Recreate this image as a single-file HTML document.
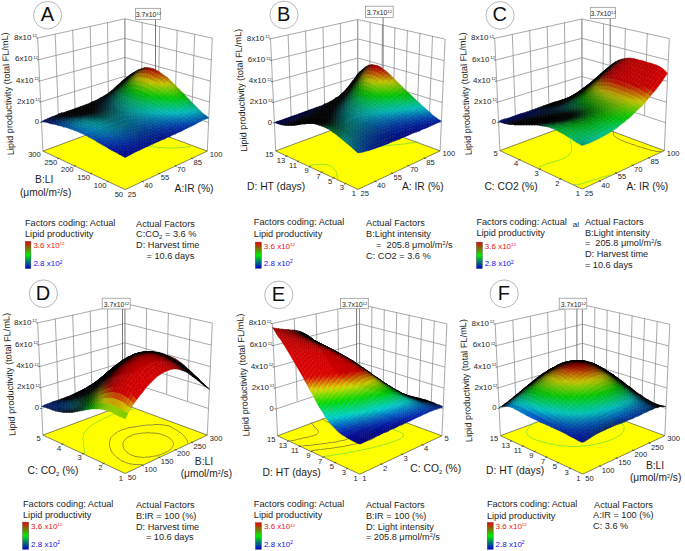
<!DOCTYPE html>
<html><head><meta charset="utf-8"><style>
html,body{margin:0;padding:0;background:#fff;}
body{width:685px;height:551px;overflow:hidden;}
svg{display:block;font-family:"Liberation Sans", sans-serif;}
text{white-space:pre;}
</style></head><body>
<svg width="685" height="551" viewBox="0 0 685 551" xmlns="http://www.w3.org/2000/svg">
<defs><linearGradient id="cb" x1="0" y1="1" x2="0" y2="0"><stop offset="0" stop-color="#0000dd"/><stop offset="0.5" stop-color="#00ee00"/><stop offset="1" stop-color="#ee0000"/></linearGradient></defs>
<line x1="42.9" y1="151.1" x2="37.7" y2="38" stroke="#8c8c8c" stroke-width="0.75"/>
<line x1="58.4" y1="116.4" x2="55.2" y2="33.8" stroke="#8c8c8c" stroke-width="0.75"/>
<line x1="75.1" y1="110.6" x2="72.7" y2="29.8" stroke="#8c8c8c" stroke-width="0.75"/>
<line x1="91.8" y1="105.1" x2="90.2" y2="25.9" stroke="#8c8c8c" stroke-width="0.75"/>
<line x1="108.4" y1="99.8" x2="107.5" y2="22.3" stroke="#8c8c8c" stroke-width="0.75"/>
<line x1="125" y1="94.8" x2="124.9" y2="18.8" stroke="#8c8c8c" stroke-width="0.75"/>
<line x1="41.6" y1="122.4" x2="125" y2="94.8" stroke="#8c8c8c" stroke-width="0.75"/>
<line x1="40.7" y1="101.9" x2="124.9" y2="76.2" stroke="#8c8c8c" stroke-width="0.75"/>
<line x1="39.7" y1="81" x2="124.9" y2="57.4" stroke="#8c8c8c" stroke-width="0.75"/>
<line x1="38.7" y1="59.7" x2="124.9" y2="38.3" stroke="#8c8c8c" stroke-width="0.75"/>
<line x1="37.7" y1="38" x2="124.9" y2="18.8" stroke="#8c8c8c" stroke-width="0.75"/>
<line x1="207.3" y1="151.1" x2="212.3" y2="38.2" stroke="#8c8c8c" stroke-width="0.75"/>
<line x1="191.7" y1="116.4" x2="194.7" y2="34" stroke="#8c8c8c" stroke-width="0.75"/>
<line x1="175" y1="110.6" x2="177.2" y2="29.9" stroke="#8c8c8c" stroke-width="0.75"/>
<line x1="158.2" y1="105.1" x2="159.7" y2="26" stroke="#8c8c8c" stroke-width="0.75"/>
<line x1="141.6" y1="99.8" x2="142.2" y2="22.3" stroke="#8c8c8c" stroke-width="0.75"/>
<line x1="125" y1="94.8" x2="124.9" y2="18.8" stroke="#8c8c8c" stroke-width="0.75"/>
<line x1="208.6" y1="122.5" x2="125" y2="94.8" stroke="#8c8c8c" stroke-width="0.75"/>
<line x1="209.5" y1="102" x2="124.9" y2="76.2" stroke="#8c8c8c" stroke-width="0.75"/>
<line x1="210.4" y1="81.1" x2="124.9" y2="57.4" stroke="#8c8c8c" stroke-width="0.75"/>
<line x1="211.4" y1="59.9" x2="124.9" y2="38.3" stroke="#8c8c8c" stroke-width="0.75"/>
<line x1="212.3" y1="38.2" x2="124.9" y2="18.8" stroke="#8c8c8c" stroke-width="0.75"/>
<polygon points="125.2,189.6 207.3,151.1 125,120.7 42.9,151.1" fill="#ffff00" stroke="#333" stroke-width="0.6"/>
<path transform="scale(.5)" d="M385 290l-2 1-2 1-3 1-4 1-3 0-4 1-3 0-3 0-2 0-4 1-4 0-3 0-4 0-3 0-3 0-3 0-3 0-3 0-3-1-4 0-4 0-3 0-3-1-3 0-4 0-3-1-3 0-4-1-3 0-3-1-4 0-2-1-4-1-4 0-2-1-4-1-4-1-3-2-3-1-3-1-3-2-1-1-3-1-2-2-1-1-1-1-2-1-1-1-1-2-1-1-1-1-1-1-1-2 0-1-1-1 0-1-1-1 0-1-1-1 0-2 0-1 0-1 0-1 0-1 0-2 0-1 0-1 1-1 0-1 1-1" stroke="#66dd44" stroke-width="1.4" fill="none"/>
<line x1="155.5" y1="19.4" x2="155.5" y2="80" stroke="#555" stroke-width="0.8"/>
<g transform="scale(.5)" fill="currentColor" stroke="currentColor" stroke-width="0.9" stroke-linejoin="round">
<path color="#000000" d="M250 158l5-4-5 4-6 4z"/>
<path color="#000000" d="M244 164l6-6-6 4-5 5z"/>
<path color="#000000" d="M255 154l6-5-6 5-5 4z"/>
<path color="#000000" d="M239 169l5-5-5 3-6 5z"/>
<path color="#000000" d="M250 160l5-6-5 4-6 6z"/>
<path color="#000000" d="M261 150l6-5-6 4-6 5z"/>
<path color="#000000" d="M233 175l6-6-6 3-5 5z"/>
<path color="#000000" d="M244 166l6-6-6 4-5 5z"/>
<path color="#000000" d="M255 156l6-6-6 4-5 6z"/>
<path color="#000000" d="M267 147l5-5-5 3-6 5z"/>
<path color="#000000" d="M228 180l5-5-5 2-6 5z"/>
<path color="#000000" d="M239 172l5-6-5 3-6 6z"/>
<path color="#000000" d="M250 163l5-7-5 4-6 6z"/>
<path color="#000000" d="M261 153l6-6-6 3-6 6z"/>
<path color="#000000" d="M272 144l6-5-6 3-5 5z"/>
<path color="#000000" d="M222 184l6-4-6 2-5 4z"/>
<path color="#000000" d="M233 178l6-6-6 3-5 5z"/>
<path color="#000000" d="M244 169l6-6-6 3-5 6z"/>
<path color="#010200" d="M256 160l5-7-6 3-5 7z"/>
<path color="#070700" d="M267 151l5-7-5 3-6 6z"/>
<path color="#000000" d="M278 142l6-5-6 2-6 5z"/>
<path color="#000000" d="M217 189l5-5-5 2-6 4z"/>
<path color="#000000" d="M228 183l5-5-5 2-6 4z"/>
<path color="#000903" d="M239 176l5-7-5 3-6 6z"/>
<path color="#041c00" d="M250 167l6-7-6 3-6 6z"/>
<path color="#212f00" d="M261 158l6-7-6 2-5 7z"/>
<path color="#3a2d00" d="M272 149l6-7-6 2-5 7z"/>
<path color="#2e1000" d="M284 141l5-6-5 2-6 5z"/>
<path color="#00130c" d="M233 181l6-5-6 2-5 5z"/>
<path color="#002b06" d="M244 174l6-7-6 2-5 7z"/>
<path color="#194400" d="M256 165l5-7-5 2-6 7z"/>
<path color="#515900" d="M267 156l5-7-5 2-6 7z"/>
<path color="#000000" d="M211 192l6-3-6 1-5 3z"/>
<path color="#000404" d="M222 188l6-5-6 1-5 5z"/>
<path color="#653c00" d="M278 147l6-6-6 1-6 7z"/>
<path color="#5d1300" d="M289 140l6-5-6 0-5 6z"/>
<path color="#003114" d="M239 180l5-6-5 2-6 5z"/>
<path color="#054d00" d="M250 172l6-7-6 2-6 7z"/>
<path color="#3b6700" d="M261 164l6-8-6 2-5 7z"/>
<path color="#000102" d="M206 196l5-4-5 1-6 3z"/>
<path color="#000708" d="M217 192l5-4-5 1-6 3z"/>
<path color="#001813" d="M228 186l5-5-5 2-6 5z"/>
<path color="#7a6f00" d="M272 155l6-8-6 2-5 7z"/>
<path color="#843c00" d="M284 147l5-7-5 1-6 6z"/>
<path color="#7d1000" d="M295 141l6-5-6-1-6 5z"/>
<path color="#000204" d="M200 199l6-3-6 0-5 3z"/>
<path color="#000709" d="M211 196l6-4-6 0-5 4z"/>
<path color="#001818" d="M222 191l6-5-6 2-5 4z"/>
<path color="#003220" d="M233 185l6-5-6 1-5 5z"/>
<path color="#004f12" d="M244 179l6-7-6 2-5 6z"/>
<path color="#1a6b00" d="M256 171l5-7-5 1-6 7z"/>
<path color="#608100" d="M267 163l5-8-5 1-6 8z"/>
<path color="#917100" d="M278 154l6-7-6 0-6 8z"/>
<path color="#993800" d="M289 147l6-6-6-1-5 7z"/>
<path color="#920e00" d="M301 142l5-5-5-1-6 5z"/>
<path color="#000205" d="M194 202l6-3-5 0-6 3z"/>
<path color="#000609" d="M206 199l5-3-5 0-6 3z"/>
<path color="#001417" d="M217 195l5-4-5 1-6 4z"/>
<path color="#002f27" d="M228 190l5-5-5 1-6 5z"/>
<path color="#004d24" d="M239 184l5-5-5 1-6 5z"/>
<path color="#006a06" d="M250 178l6-7-6 1-6 7z"/>
<path color="#348300" d="M261 170l6-7-6 1-5 7z"/>
<path color="#839500" d="M272 162l6-8-6 1-5 8z"/>
<path color="#a26e00" d="M284 155l5-8-5 0-6 7z"/>
<path color="#a73600" d="M295 148l6-6-6-1-6 6z"/>
<path color="#9f1200" d="M306 144l6-4-6-3-5 5z"/>
<path color="#000206" d="M189 205l5-3-5 0-6 2z"/>
<path color="#000509" d="M200 202l6-3-6 0-6 3z"/>
<path color="#000f14" d="M211 199l6-4-6 1-5 3z"/>
<path color="#002a29" d="M222 195l6-5-6 1-5 4z"/>
<path color="#004731" d="M233 190l6-6-6 1-5 5z"/>
<path color="#006621" d="M244 184l6-6-6 1-5 5z"/>
<path color="#0b8000" d="M256 177l5-7-5 1-6 7z"/>
<path color="#4e9500" d="M267 170l5-8-5 1-6 7z"/>
<path color="#9fa400" d="M278 163l6-8-6-1-6 8z"/>
<path color="#ae6d00" d="M289 156l6-8-6-1-5 8z"/>
<path color="#b13900" d="M301 150l5-6-5-2-6 6z"/>
<path color="#a71c00" d="M312 147l6-4-6-3-6 4z"/>
<path color="#000206" d="M183 207l6-2-6-1-5 3z"/>
<path color="#000408" d="M194 205l6-3-6 0-5 3z"/>
<path color="#000b10" d="M206 202l5-3-5 0-6 3z"/>
<path color="#001f23" d="M217 199l5-4-5 0-6 4z"/>
<path color="#003f36" d="M228 194l5-4-5 0-6 5z"/>
<path color="#005f34" d="M239 189l5-5-5 0-6 6z"/>
<path color="#007b18" d="M250 184l6-7-6 1-6 6z"/>
<path color="#1d9200" d="M261 177l6-7-6 0-5 7z"/>
<path color="#65a300" d="M272 170l6-7-6-1-5 8z"/>
<path color="#afaa00" d="M284 164l5-8-5-1-6 8z"/>
<path color="#b67000" d="M295 157l6-7-6-2-6 8z"/>
<path color="#b84300" d="M306 153l6-6-6-3-5 6z"/>
<path color="#ad2d00" d="M318 150l5-3-5-4-6 4z"/>
<path color="#000205" d="M178 209l5-2-5 0-6 2z"/>
<path color="#000306" d="M189 207l5-2-5 0-6 2z"/>
<path color="#00080d" d="M200 205l6-3-6 0-6 3z"/>
<path color="#00161d" d="M211 202l6-3-6 0-5 3z"/>
<path color="#003636" d="M222 198l6-4-6 1-5 4z"/>
<path color="#00553f" d="M233 194l6-5-6 1-5 4z"/>
<path color="#007332" d="M244 189l6-5-6 0-5 5z"/>
<path color="#008c0c" d="M256 184l5-7-5 0-6 7z"/>
<path color="#2e9f00" d="M267 178l5-8-5 0-6 7z"/>
<path color="#76ad00" d="M278 171l6-7-6-1-6 7z"/>
<path color="#b6ad00" d="M289 165l6-8-6-1-5 8z"/>
<path color="#bc7800" d="M301 160l5-7-5-3-6 7z"/>
<path color="#bc5200" d="M312 156l6-6-6-3-6 6z"/>
<path color="#b04400" d="M323 154l6-3-6-4-5 3z"/>
<path color="#000205" d="M172 212l6-3-6 0-5 2z"/>
<path color="#000205" d="M183 210l6-3-6 0-5 2z"/>
<path color="#00050a" d="M194 208l6-3-6 0-5 2z"/>
<path color="#000f16" d="M206 205l5-3-5 0-6 3z"/>
<path color="#00272d" d="M217 202l5-4-5 1-6 3z"/>
<path color="#004a42" d="M228 199l5-5-5 0-6 4z"/>
<path color="#3ba900" d="M272 179l6-8-6-1-5 8z"/>
<path color="#80b400" d="M284 173l5-8-5-1-6 7z"/>
<path color="#bcb500" d="M295 167l6-7-6-3-6 8z"/>
<path color="#c08600" d="M306 162l6-6-6-3-5 7z"/>
<path color="#bf6700" d="M318 159l5-5-5-4-6 6z"/>
<path color="#b15f00" d="M329 158l6-3-6-4-6 3z"/>
<path color="#006942" d="M239 194l5-5-5 0-6 5z"/>
<path color="#00842c" d="M250 190l6-6-6 0-6 5z"/>
<path color="#009900" d="M261 184l6-6-6-1-5 7z"/>
<path color="#000104" d="M167 214l5-2-5-1-6 2z"/>
<path color="#000104" d="M178 212l5-2-5-1-6 3z"/>
<path color="#000307" d="M189 210l5-2-5-1-6 3z"/>
<path color="#000a10" d="M200 208l6-3-6 0-6 3z"/>
<path color="#001c23" d="M211 205l6-3-6 0-5 3z"/>
<path color="#003d3f" d="M222 202l6-3-6-1-5 4z"/>
<path color="#44b100" d="M278 180l6-7-6-2-6 8z"/>
<path color="#83ba00" d="M289 175l6-8-6-2-5 8z"/>
<path color="#bfc000" d="M301 170l5-8-5-2-6 7z"/>
<path color="#c39900" d="M312 166l6-7-6-3-6 6z"/>
<path color="#c08100" d="M323 163l6-5-6-4-5 5z"/>
<path color="#b27d00" d="M334 163l6-3-5-5-6 3z"/>
<path color="#005d4a" d="M233 199l6-5-6 0-5 5z"/>
<path color="#007a42" d="M244 195l6-5-6-1-5 5z"/>
<path color="#009125" d="M256 190l5-6-5 0-6 6z"/>
<path color="#09a300" d="M267 185l5-6-5-1-6 6z"/>
<path color="#000103" d="M161 216l6-2-6-1-5 2z"/>
<path color="#000102" d="M172 214l6-2-6 0-5 2z"/>
<path color="#000204" d="M183 213l6-3-6 0-5 2z"/>
<path color="#00060b" d="M194 211l6-3-6 0-5 2z"/>
<path color="#00131a" d="M205 208l6-3-5 0-6 3z"/>
<path color="#002d33" d="M217 206l5-4-5 0-6 3z"/>
<path color="#00514b" d="M228 203l5-4-5 0-6 3z"/>
<path color="#006e4f" d="M239 199l5-4-5-1-6 5z"/>
<path color="#008840" d="M250 195l6-5-6 0-6 5z"/>
<path color="#009c1f" d="M261 191l6-6-6-1-5 6z"/>
<path color="#0fab00" d="M272 187l6-7-6-1-5 6z"/>
<path color="#47b600" d="M284 182l5-7-5-2-6 7z"/>
<path color="#80be00" d="M295 177l6-7-6-3-6 8z"/>
<path color="#b4c300" d="M306 173l6-7-6-4-5 8z"/>
<path color="#c4b100" d="M318 170l5-7-5-4-6 7z"/>
<path color="#c19f00" d="M329 168l5-5-5-5-6 5z"/>
<path color="#b29e00" d="M340 168l6-2-6-6-6 3z"/>
<path color="#000103" d="M156 218l5-2-5-1-6 2z"/>
<path color="#000001" d="M167 216l5-2-5 0-6 2z"/>
<path color="#000102" d="M178 215l5-2-5-1-6 2z"/>
<path color="#000306" d="M189 213l5-2-5-1-6 3z"/>
<path color="#000c12" d="M200 211l5-3-5 0-6 3z"/>
<path color="#002028" d="M211 209l6-3-6-1-6 3z"/>
<path color="#004144" d="M222 206l6-3-6-1-5 4z"/>
<path color="#006253" d="M233 203l6-4-6 0-5 4z"/>
<path color="#007d51" d="M244 200l6-5-6 0-5 4z"/>
<path color="#00933d" d="M256 196l5-5-5-1-6 5z"/>
<path color="#00a51b" d="M267 193l5-6-5-2-6 6z"/>
<path color="#12b100" d="M278 188l6-6-6-2-6 7z"/>
<path color="#45bb00" d="M289 184l6-7-6-2-5 7z"/>
<path color="#78c100" d="M301 180l5-7-5-3-6 7z"/>
<path color="#a3c500" d="M312 176l6-6-6-4-6 7z"/>
<path color="#bfc500" d="M323 174l6-6-6-5-5 7z"/>
<path color="#c1c000" d="M334 173l6-5-6-5-5 5z"/>
<path color="#a2b200" d="M346 174l5-3-5-5-6 2z"/>
<path color="#000000" d="M161 218l6-2-6 0-5 2z"/>
<path color="#000000" d="M172 217l6-2-6-1-5 2z"/>
<path color="#000103" d="M183 215l6-2-6 0-5 2z"/>
<path color="#00070c" d="M194 213l6-2-6 0-5 2z"/>
<path color="#00161d" d="M205 212l6-3-6-1-5 3z"/>
<path color="#3ebe00" d="M295 187l6-7-6-3-6 7z"/>
<path color="#6ac300" d="M306 183l6-7-6-3-5 7z"/>
<path color="#8dc600" d="M317 180l6-6-5-4-6 6z"/>
<path color="#a1c600" d="M329 178l5-5-5-5-6 6z"/>
<path color="#9dc100" d="M340 178l6-4-6-6-6 5z"/>
<path color="#000102" d="M150 220l6-2-6-1-5 2z"/>
<path color="#003137" d="M217 209l5-3-5 0-6 3z"/>
<path color="#005451" d="M228 207l5-4-5 0-6 3z"/>
<path color="#007159" d="M239 204l5-4-5-1-6 4z"/>
<path color="#008952" d="M250 201l6-5-6-1-6 5z"/>
<path color="#009c3c" d="M261 198l6-5-6-2-5 5z"/>
<path color="#00ab1a" d="M272 194l6-6-6-1-5 6z"/>
<path color="#10b600" d="M284 190l5-6-5-2-6 6z"/>
<path color="#7db100" d="M351 179l6-2-6-6-5 3z"/>
<path color="#000001" d="M144 221l6-1-5-1-6 2z"/>
<path color="#000000" d="M156 220l5-2-5 0-6 2z"/>
<path color="#000000" d="M167 219l5-2-5-1-6 2z"/>
<path color="#000000" d="M178 217l5-2-5 0-6 2z"/>
<path color="#000406" d="M189 216l5-3-5 0-6 2z"/>
<path color="#000e14" d="M200 214l5-2-5-1-6 2z"/>
<path color="#32c000" d="M301 190l5-7-5-3-6 7z"/>
<path color="#57c400" d="M312 187l5-7-5-4-6 7z"/>
<path color="#73c700" d="M323 184l6-6-6-4-6 6z"/>
<path color="#80c600" d="M334 183l6-5-6-5-5 5z"/>
<path color="#77c000" d="M346 183l5-4-5-5-6 4z"/>
<path color="#56b000" d="M357 185l5-3-5-5-6 2z"/>
<path color="#00232b" d="M211 212l6-3-6 0-6 3z"/>
<path color="#004347" d="M222 210l6-3-6-1-5 3z"/>
<path color="#00635a" d="M233 208l6-4-6-1-5 4z"/>
<path color="#007d5d" d="M244 205l6-4-6-1-5 4z"/>
<path color="#009253" d="M256 203l5-5-5-2-6 5z"/>
<path color="#00a33c" d="M267 200l5-6-5-1-6 5z"/>
<path color="#00b01c" d="M278 196l6-6-6-2-6 6z"/>
<path color="#0ab900" d="M289 193l6-6-6-3-5 6z"/>
<path color="#000001" d="M139 223l5-2-5 0-6 2z"/>
<path color="#000000" d="M150 222l6-2-6 0-6 1z"/>
<path color="#000000" d="M161 221l6-2-6-1-5 2z"/>
<path color="#000000" d="M172 219l6-2-6 0-5 2z"/>
<path color="#000102" d="M183 218l6-2-6-1-5 2z"/>
<path color="#00080c" d="M194 216l6-2-6-1-5 3z"/>
<path color="#00181f" d="M205 215l6-3-6 0-5 2z"/>
<path color="#00333a" d="M217 213l5-3-5-1-6 3z"/>
<path color="#005655" d="M228 211l5-3-5-1-6 3z"/>
<path color="#007161" d="M239 209l5-4-5-1-6 4z"/>
<path color="#008860" d="M250 207l6-4-6-2-6 4z"/>
<path color="#009a54" d="M261 204l6-4-6-2-5 5z"/>
<path color="#00a93f" d="M272 202l6-6-6-2-5 6z"/>
<path color="#00b421" d="M284 199l5-6-5-3-6 6z"/>
<path color="#00bc00" d="M295 196l6-6-6-3-6 6z"/>
<path color="#22c200" d="M306 193l6-6-6-4-5 7z"/>
<path color="#41c500" d="M317 190l6-6-6-4-5 7z"/>
<path color="#56c700" d="M329 189l5-6-5-5-6 6z"/>
<path color="#5dc500" d="M340 188l6-5-6-5-6 5z"/>
<path color="#50bf00" d="M351 188l6-3-6-6-5 4z"/>
<path color="#30af00" d="M362 190l6-2-6-6-5 3z"/>
<path color="#000001" d="M133 225l6-2-6 0-5 2z"/>
<path color="#000000" d="M144 224l6-2-6-1-5 2z"/>
<path color="#000000" d="M155 223l6-2-5-1-6 2z"/>
<path color="#000000" d="M167 221l5-2-5 0-6 2z"/>
<path color="#000000" d="M178 220l5-2-5-1-6 2z"/>
<path color="#000405" d="M189 218l5-2-5 0-6 2z"/>
<path color="#001015" d="M200 217l5-2-5-1-6 2z"/>
<path color="#00262d" d="M211 216l6-3-6-1-6 3z"/>
<path color="#004448" d="M222 214l6-3-6-1-5 3z"/>
<path color="#00645e" d="M233 212l6-3-6-1-5 3z"/>
<path color="#007c66" d="M244 210l6-3-6-2-5 4z"/>
<path color="#009064" d="M256 208l5-4-5-1-6 4z"/>
<path color="#00a058" d="M267 206l5-4-5-2-6 4z"/>
<path color="#00ad44" d="M278 204l6-5-6-3-6 6z"/>
<path color="#00b62a" d="M289 201l6-5-6-3-5 6z"/>
<path color="#00be0d" d="M300 199l6-6-5-3-6 6z"/>
<path color="#0fc300" d="M312 197l5-7-5-3-6 6z"/>
<path color="#27c600" d="M323 195l6-6-6-5-6 6z"/>
<path color="#36c600" d="M334 193l6-5-6-5-5 6z"/>
<path color="#38c400" d="M345 193l6-5-5-5-6 5z"/>
<path color="#28be00" d="M357 194l5-4-5-5-6 3z"/>
<path color="#09ae00" d="M368 196l5-2-5-6-6 2z"/>
<path color="#000101" d="M183 220l6-2-6 0-5 2z"/>
<path color="#00c306" d="M317 200l6-5-6-5-5 7z"/>
<path color="#000102" d="M128 227l5-2-5 0-6 1z"/>
<path color="#000000" d="M139 226l5-2-5-1-6 2z"/>
<path color="#000000" d="M150 224l5-1-5-1-6 2z"/>
<path color="#000000" d="M161 223l6-2-6 0-6 2z"/>
<path color="#000000" d="M172 222l6-2-6-1-5 2z"/>
<path color="#00090c" d="M194 219l6-2-6-1-5 2z"/>
<path color="#001b21" d="M205 218l6-2-6-1-5 2z"/>
<path color="#00353b" d="M217 217l5-3-5-1-6 3z"/>
<path color="#005556" d="M228 215l5-3-5-1-6 3z"/>
<path color="#006f66" d="M239 214l5-4-5-1-6 3z"/>
<path color="#00856c" d="M250 212l6-4-6-1-6 3z"/>
<path color="#009768" d="M261 210l6-4-6-2-5 4z"/>
<path color="#00a55d" d="M272 208l6-4-6-2-5 4z"/>
<path color="#00b04b" d="M284 206l5-5-5-2-6 5z"/>
<path color="#00b835" d="M295 204l5-5-5-3-6 5z"/>
<path color="#00bf1d" d="M306 202l6-5-6-4-6 6z"/>
<path color="#0cc500" d="M329 199l5-6-5-4-6 6z"/>
<path color="#15c600" d="M340 198l5-5-5-5-6 5z"/>
<path color="#12c300" d="M351 198l6-4-6-6-6 5z"/>
<path color="#01bc00" d="M362 199l6-3-6-6-5 4z"/>
<path color="#00ad1c" d="M373 202l6-2-6-6-5 2z"/>
<path color="#000105" d="M122 229l6-2-6-1-5 2z"/>
<path color="#000000" d="M133 228l6-2-6-1-5 2z"/>
<path color="#000000" d="M144 226l6-2-6 0-5 2z"/>
<path color="#000000" d="M155 225l6-2-6 0-5 1z"/>
<path color="#000000" d="M166 224l6-2-5-1-6 2z"/>
<path color="#000000" d="M178 222l5-2-5 0-6 2z"/>
<path color="#00c31e" d="M323 204l6-5-6-4-6 5z"/>
<path color="#00c512" d="M334 203l6-5-6-5-5 6z"/>
<path color="#00c50e" d="M345 203l6-5-6-5-5 5z"/>
<path color="#00c214" d="M357 203l5-4-5-5-6 4z"/>
<path color="#00bb27" d="M368 205l5-3-5-6-6 3z"/>
<path color="#00ac41" d="M379 207l5-2-5-5-6 2z"/>
<path color="#000406" d="M189 221l5-2-5-1-6 2z"/>
<path color="#001216" d="M200 220l5-2-5-1-6 2z"/>
<path color="#00282e" d="M211 219l6-2-6-1-6 2z"/>
<path color="#004549" d="M222 218l6-3-6-1-5 3z"/>
<path color="#006361" d="M233 217l6-3-6-2-5 3z"/>
<path color="#007a6d" d="M244 215l6-3-6-2-5 4z"/>
<path color="#008d71" d="M256 214l5-4-5-2-6 4z"/>
<path color="#009c6e" d="M267 213l5-5-5-2-6 4z"/>
<path color="#00a964" d="M278 211l6-5-6-2-6 4z"/>
<path color="#00b255" d="M289 209l6-5-6-3-5 5z"/>
<path color="#00ba43" d="M300 208l6-6-6-3-5 5z"/>
<path color="#00bf30" d="M312 206l5-6-5-3-6 5z"/>
<path color="#00030b" d="M117 231l5-2-5-1-6 3z"/>
<path color="#000001" d="M128 230l5-2-5-1-6 2z"/>
<path color="#000000" d="M139 228l5-2-5 0-6 2z"/>
<path color="#000000" d="M150 227l5-2-5-1-6 2z"/>
<path color="#000000" d="M161 225l5-1-5-1-6 2z"/>
<path color="#000000" d="M172 224l6-2-6 0-6 2z"/>
<path color="#000101" d="M183 223l6-2-6-1-5 2z"/>
<path color="#000b0d" d="M194 222l6-2-6-1-5 2z"/>
<path color="#001d23" d="M205 221l6-2-6-1-5 2z"/>
<path color="#00373d" d="M217 220l5-2-5-1-6 2z"/>
<path color="#005456" d="M228 219l5-2-5-2-6 3z"/>
<path color="#006e6a" d="M239 218l5-3-5-1-6 3z"/>
<path color="#008274" d="M250 217l6-3-6-2-6 3z"/>
<path color="#009377" d="M261 216l6-3-6-3-5 4z"/>
<path color="#00a175" d="M272 215l6-4-6-3-5 5z"/>
<path color="#00ab6d" d="M284 214l5-5-5-3-6 5z"/>
<path color="#00b461" d="M295 212l5-4-5-4-6 5z"/>
<path color="#00bb53" d="M306 211l6-5-6-4-6 6z"/>
<path color="#00bf44" d="M317 210l6-6-6-4-5 6z"/>
<path color="#00c338" d="M329 209l5-6-5-4-6 5z"/>
<path color="#00c430" d="M340 208l5-5-5-5-6 5z"/>
<path color="#00c430" d="M351 208l6-5-6-5-6 5z"/>
<path color="#00c03a" d="M362 209l6-4-6-6-5 4z"/>
<path color="#00b94c" d="M373 210l6-3-6-5-5 3z"/>
<path color="#00ab64" d="M384 213l6-2-6-6-5 2z"/>
<path color="#000615" d="M111 234l6-3-6 0-6 2z"/>
<path color="#000206" d="M122 232l6-2-6-1-5 2z"/>
<path color="#000000" d="M133 230l6-2-6 0-5 2z"/>
<path color="#000000" d="M144 229l6-2-6-1-5 2z"/>
<path color="#000000" d="M155 227l6-2-6 0-5 2z"/>
<path color="#000000" d="M166 226l6-2-6 0-5 1z"/>
<path color="#001519" d="M200 223l5-2-5-1-6 2z"/>
<path color="#002b31" d="M211 222l6-2-6-1-6 2z"/>
<path color="#00454a" d="M222 222l6-3-6-1-5 2z"/>
<path color="#006162" d="M233 221l6-3-6-1-5 2z"/>
<path color="#007773" d="M245 220l5-3-6-2-5 3z"/>
<path color="#00897b" d="M256 220l5-4-5-2-6 3z"/>
<path color="#00987f" d="M267 219l5-4-5-2-6 3z"/>
<path color="#00a47d" d="M278 218l6-4-6-3-6 4z"/>
<path color="#00ad78" d="M289 217l6-5-6-3-5 5z"/>
<path color="#00b56f" d="M300 216l6-5-6-3-5 4z"/>
<path color="#00c253" d="M334 213l6-5-6-5-5 6z"/>
<path color="#00c350" d="M345 213l6-5-6-5-5 5z"/>
<path color="#00c253" d="M356 213l6-4-5-6-6 5z"/>
<path color="#00be5e" d="M368 214l5-4-5-5-6 4z"/>
<path color="#00b670" d="M379 216l5-3-5-6-6 3z"/>
<path color="#00a984" d="M390 218l5-2-5-5-6 2z"/>
<path color="#000000" d="M178 225l5-2-5-1-6 2z"/>
<path color="#000507" d="M189 224l5-2-5-1-6 2z"/>
<path color="#00bb65" d="M312 215l5-5-5-4-6 5z"/>
<path color="#00bf5b" d="M323 214l6-5-6-5-6 6z"/>
<path color="#000823" d="M105 236l6-2-6-1-5 2z"/>
<path color="#000611" d="M116 234l6-2-5-1-6 3z"/>
<path color="#000104" d="M128 232l5-2-5 0-6 2z"/>
<path color="#000000" d="M139 231l5-2-5-1-6 2z"/>
<path color="#000000" d="M150 229l5-2-5 0-6 2z"/>
<path color="#000000" d="M161 228l5-2-5-1-6 2z"/>
<path color="#000000" d="M172 227l6-2-6-1-6 2z"/>
<path color="#000203" d="M183 226l6-2-6-1-5 2z"/>
<path color="#000e11" d="M194 225l6-2-6-1-5 2z"/>
<path color="#002126" d="M205 224l6-2-6-1-5 2z"/>
<path color="#003a3f" d="M217 224l5-2-5-2-6 2z"/>
<path color="#005357" d="M228 223l5-2-5-2-6 3z"/>
<path color="#006c6d" d="M239 223l6-3-6-2-6 3z"/>
<path color="#007f7b" d="M250 223l6-3-6-3-5 3z"/>
<path color="#008f83" d="M261 222l6-3-6-3-5 4z"/>
<path color="#009c87" d="M272 221l6-3-6-3-5 4z"/>
<path color="#00a687" d="M284 221l5-4-5-3-6 4z"/>
<path color="#00af84" d="M295 220l5-4-5-4-6 5z"/>
<path color="#00b67e" d="M306 219l6-4-6-4-6 5z"/>
<path color="#00bb78" d="M317 218l6-4-6-4-5 5z"/>
<path color="#00bf72" d="M328 218l6-5-5-4-6 5z"/>
<path color="#00c16e" d="M340 217l5-4-5-5-6 5z"/>
<path color="#00c16e" d="M351 217l5-4-5-5-6 5z"/>
<path color="#00c074" d="M362 218l6-4-6-5-6 4z"/>
<path color="#00bc81" d="M373 219l6-3-6-6-5 4z"/>
<path color="#00b491" d="M384 221l6-3-6-5-5 3z"/>
<path color="#00a7a2" d="M395 224l6-2-6-6-5 2z"/>
<path color="#000b33" d="M100 239l5-3-5-1-6 3z"/>
<path color="#000a21" d="M111 237l5-3-5 0-6 2z"/>
<path color="#00060f" d="M122 235l6-3-6 0-6 2z"/>
<path color="#000203" d="M133 233l6-2-6-1-5 2z"/>
<path color="#000000" d="M144 231l6-2-6 0-5 2z"/>
<path color="#000000" d="M155 230l6-2-6-1-5 2z"/>
<path color="#00bf89" d="M345 222l6-5-6-4-5 4z"/>
<path color="#00bf8c" d="M356 222l6-4-6-5-5 4z"/>
<path color="#00be94" d="M368 223l5-4-5-5-6 4z"/>
<path color="#00b9a1" d="M379 224l5-3-5-5-6 3z"/>
<path color="#00b1af" d="M390 226l5-2-5-6-6 3z"/>
<path color="#008da4" d="M401 229l5-2-5-5-6 2z"/>
<path color="#000000" d="M166 228l6-1-6-1-5 2z"/>
<path color="#000101" d="M177 227l6-1-5-1-6 2z"/>
<path color="#00090b" d="M189 227l5-2-5-1-6 2z"/>
<path color="#001a1d" d="M200 226l5-2-5-1-6 2z"/>
<path color="#003035" d="M211 226l6-2-6-2-6 2z"/>
<path color="#00474c" d="M222 226l6-3-6-1-5 2z"/>
<path color="#005e62" d="M233 225l6-2-6-2-5 2z"/>
<path color="#007476" d="M245 225l5-2-5-3-6 3z"/>
<path color="#008684" d="M256 225l5-3-5-2-6 3z"/>
<path color="#00948c" d="M267 225l5-4-5-2-6 3z"/>
<path color="#009f91" d="M278 224l6-3-6-3-6 3z"/>
<path color="#00a893" d="M289 224l6-4-6-3-5 4z"/>
<path color="#00b092" d="M300 223l6-4-6-3-5 4z"/>
<path color="#00b68f" d="M312 223l5-5-5-3-6 4z"/>
<path color="#00ba8c" d="M323 222l5-4-5-4-6 4z"/>
<path color="#00bd89" d="M334 222l6-5-6-4-6 5z"/>
<path color="#000d43" d="M94 241l6-2-6-1-5 2z"/>
<path color="#000e34" d="M105 240l6-3-6-1-5 3z"/>
<path color="#000d22" d="M116 238l6-3-6-1-5 3z"/>
<path color="#000810" d="M127 235l6-2-5-1-6 3z"/>
<path color="#000305" d="M139 234l5-3-5 0-6 2z"/>
<path color="#000000" d="M150 232l5-2-5-1-6 2z"/>
<path color="#000000" d="M161 230l5-2-5 0-6 2z"/>
<path color="#000102" d="M172 229l5-2-5 0-6 1z"/>
<path color="#000709" d="M183 228l6-1-6-1-6 1z"/>
<path color="#001517" d="M194 228l6-2-6-1-5 2z"/>
<path color="#00282c" d="M205 228l6-2-6-2-5 2z"/>
<path color="#003e43" d="M217 228l5-2-5-2-6 2z"/>
<path color="#005459" d="M228 228l5-3-5-2-6 3z"/>
<path color="#00686c" d="M239 228l6-3-6-2-6 2z"/>
<path color="#00797d" d="M250 228l6-3-6-2-5 2z"/>
<path color="#008a8b" d="M261 228l6-3-6-3-5 3z"/>
<path color="#009796" d="M272 227l6-3-6-3-5 4z"/>
<path color="#00a19c" d="M284 227l5-3-5-3-6 3z"/>
<path color="#00a99f" d="M295 227l5-4-5-3-6 4z"/>
<path color="#00b0a0" d="M306 227l6-4-6-4-6 4z"/>
<path color="#00b5a0" d="M317 226l6-4-6-4-5 5z"/>
<path color="#00b9a0" d="M328 226l6-4-6-4-5 4z"/>
<path color="#00bca1" d="M340 226l5-4-5-5-6 5z"/>
<path color="#00bda3" d="M351 226l5-4-5-5-6 5z"/>
<path color="#00bda9" d="M362 227l6-4-6-5-6 4z"/>
<path color="#00bbb2" d="M373 228l6-4-6-5-5 4z"/>
<path color="#00aeb6" d="M384 229l6-3-6-5-5 3z"/>
<path color="#0092ae" d="M395 231l6-2-6-5-5 2z"/>
<path color="#0071a1" d="M406 233l6-2-6-4-5 2z"/>
<path color="#000c50" d="M89 244l5-3-5-1-6 3z"/>
<path color="#001146" d="M100 242l5-2-5-1-6 2z"/>
<path color="#001337" d="M111 240l5-2-5-1-6 3z"/>
<path color="#001125" d="M122 238l5-3-5 0-6 3z"/>
<path color="#000c15" d="M133 236l6-2-6-1-6 2z"/>
<path color="#00060a" d="M144 234l6-2-6-1-5 3z"/>
<path color="#004b50" d="M222 230l6-2-6-2-5 2z"/>
<path color="#005e64" d="M233 230l6-2-6-3-5 3z"/>
<path color="#006e75" d="M245 230l5-2-5-3-6 3z"/>
<path color="#007c83" d="M256 230l5-2-5-3-6 3z"/>
<path color="#008990" d="M267 230l5-3-5-2-6 3z"/>
<path color="#00949a" d="M278 230l6-3-6-3-6 3z"/>
<path color="#00babb" d="M356 231l6-4-6-5-5 4z"/>
<path color="#00b1ba" d="M368 232l5-4-5-5-6 4z"/>
<path color="#00a3b7" d="M379 233l5-4-5-5-6 4z"/>
<path color="#008eb2" d="M390 234l5-3-5-5-6 3z"/>
<path color="#0074a9" d="M401 236l5-3-5-4-6 2z"/>
<path color="#00589d" d="M412 238l6-2-6-5-6 2z"/>
<path color="#000305" d="M155 232l6-2-6 0-5 2z"/>
<path color="#000405" d="M166 231l6-2-6-1-5 2z"/>
<path color="#00080a" d="M177 230l6-2-6-1-5 2z"/>
<path color="#001315" d="M189 230l5-2-5-1-6 1z"/>
<path color="#002326" d="M200 230l5-2-5-2-6 2z"/>
<path color="#00373b" d="M211 230l6-2-6-2-6 2z"/>
<path color="#009ea3" d="M289 230l6-3-6-3-5 3z"/>
<path color="#00a8aa" d="M300 230l6-3-6-4-5 4z"/>
<path color="#00b0af" d="M312 230l5-4-5-3-6 4z"/>
<path color="#00b5b2" d="M323 230l5-4-5-4-6 4z"/>
<path color="#00b8b4" d="M334 230l6-4-6-4-6 4z"/>
<path color="#00bab7" d="M345 230l6-4-6-4-5 4z"/>
<path color="#001155" d="M94 245l6-3-6-1-5 3z"/>
<path color="#00164b" d="M105 244l6-4-6 0-5 2z"/>
<path color="#00193d" d="M116 241l6-3-6 0-5 2z"/>
<path color="#00182d" d="M127 239l6-3-6-1-5 3z"/>
<path color="#00131d" d="M138 237l6-3-5 0-6 2z"/>
<path color="#000b0e" d="M161 233l5-2-5-1-6 2z"/>
<path color="#000d0f" d="M172 232l5-2-5-1-6 2z"/>
<path color="#001516" d="M183 232l6-2-6-2-6 2z"/>
<path color="#002224" d="M194 231l6-1-6-2-5 2z"/>
<path color="#003336" d="M205 231l6-1-6-2-5 2z"/>
<path color="#004549" d="M217 232l5-2-5-2-6 2z"/>
<path color="#00565c" d="M228 232l5-2-5-2-6 2z"/>
<path color="#00656d" d="M239 232l6-2-6-2-6 2z"/>
<path color="#00727c" d="M250 233l6-3-6-2-5 2z"/>
<path color="#007c89" d="M261 233l6-3-6-2-5 2z"/>
<path color="#008593" d="M272 233l6-3-6-3-5 3z"/>
<path color="#008d9c" d="M284 233l5-3-5-3-6 3z"/>
<path color="#0094a4" d="M295 234l5-4-5-3-6 3z"/>
<path color="#009baa" d="M306 234l6-4-6-3-6 3z"/>
<path color="#00a0af" d="M317 234l6-4-6-4-5 4z"/>
<path color="#00a3b3" d="M328 234l6-4-6-4-5 4z"/>
<path color="#00a5b6" d="M340 234l5-4-5-4-6 4z"/>
<path color="#009db8" d="M362 235l6-3-6-5-6 4z"/>
<path color="#0093b7" d="M373 236l6-3-6-5-5 4z"/>
<path color="#0084b3" d="M384 237l6-3-6-5-5 4z"/>
<path color="#0071ad" d="M395 239l6-3-6-5-5 3z"/>
<path color="#005aa5" d="M406 240l6-2-6-5-5 3z"/>
<path color="#000e12" d="M150 235l5-3-5 0-6 2z"/>
<path color="#00a3b8" d="M351 235l5-4-5-5-6 4z"/>
<path color="#00165b" d="M100 247l5-3-5-2-6 3z"/>
<path color="#001d52" d="M111 245l5-4-5-1-6 4z"/>
<path color="#002246" d="M122 242l5-3-5-1-6 3z"/>
<path color="#002137" d="M133 240l5-3-5-1-6 3z"/>
<path color="#005f67" d="M233 234l6-2-6-2-5 2z"/>
<path color="#006a76" d="M245 235l5-2-5-3-6 2z"/>
<path color="#007382" d="M256 235l5-2-5-3-6 3z"/>
<path color="#007a8d" d="M267 236l5-3-5-3-6 3z"/>
<path color="#0083b4" d="M367 240l6-4-5-4-6 3z"/>
<path color="#0078b2" d="M379 241l5-4-5-4-6 3z"/>
<path color="#0069af" d="M390 242l5-3-5-5-6 3z"/>
<path color="#0057a8" d="M401 243l5-3-5-4-6 3z"/>
<path color="#001e29" d="M144 237l6-2-6-1-6 3z"/>
<path color="#001a1f" d="M155 236l6-3-6-1-5 3z"/>
<path color="#00181b" d="M166 234l6-2-6-1-5 2z"/>
<path color="#001c1e" d="M177 233l6-1-6-2-5 2z"/>
<path color="#002526" d="M189 233l5-2-5-1-6 2z"/>
<path color="#003234" d="M200 233l5-2-5-1-6 1z"/>
<path color="#004245" d="M211 233l6-1-6-2-6 1z"/>
<path color="#005156" d="M222 234l6-2-6-2-5 2z"/>
<path color="#008096" d="M278 236l6-3-6-3-6 3z"/>
<path color="#00859e" d="M289 237l6-3-6-4-5 3z"/>
<path color="#0089a4" d="M300 237l6-3-6-4-5 4z"/>
<path color="#008caa" d="M312 237l5-3-5-4-6 4z"/>
<path color="#008eae" d="M323 238l5-4-5-4-6 4z"/>
<path color="#008fb2" d="M334 238l6-4-6-4-6 4z"/>
<path color="#008eb4" d="M345 238l6-3-6-5-5 4z"/>
<path color="#008ab5" d="M356 239l6-4-6-4-5 4z"/>
<path color="#001d63" d="M105 248l6-3-6-1-5 3z"/>
<path color="#00265c" d="M116 246l6-4-6-1-5 4z"/>
<path color="#002c51" d="M127 243l6-3-6-1-5 3z"/>
<path color="#00292c" d="M172 236l5-3-5-1-6 2z"/>
<path color="#002d2f" d="M183 235l6-2-6-1-6 1z"/>
<path color="#003637" d="M194 235l6-2-6-2-5 2z"/>
<path color="#004244" d="M205 235l6-2-6-2-5 2z"/>
<path color="#004f53" d="M217 236l5-2-5-2-6 1z"/>
<path color="#005b62" d="M228 236l5-2-5-2-6 2z"/>
<path color="#006470" d="M239 237l6-2-6-3-6 2z"/>
<path color="#006c7d" d="M250 238l6-3-6-2-5 2z"/>
<path color="#007187" d="M261 238l6-2-6-3-5 2z"/>
<path color="#007591" d="M273 239l5-3-6-3-5 3z"/>
<path color="#007898" d="M284 240l5-3-5-4-6 3z"/>
<path color="#007b9f" d="M295 240l5-3-5-3-6 3z"/>
<path color="#007ca4" d="M306 241l6-4-6-3-6 3z"/>
<path color="#007da9" d="M317 241l6-3-6-4-5 3z"/>
<path color="#007dad" d="M328 241l6-3-6-4-5 4z"/>
<path color="#006ab0" d="M373 244l6-3-6-5-6 4z"/>
<path color="#005fae" d="M384 245l6-3-6-5-5 4z"/>
<path color="#0051a9" d="M395 246l6-3-6-4-5 3z"/>
<path color="#002e44" d="M138 241l6-4-6 0-5 3z"/>
<path color="#002c38" d="M149 238l6-2-5-1-6 2z"/>
<path color="#00292f" d="M161 237l5-3-5-1-6 3z"/>
<path color="#007baf" d="M340 242l5-4-5-4-6 4z"/>
<path color="#0078b1" d="M351 242l5-3-5-4-6 3z"/>
<path color="#0072b1" d="M362 243l5-3-5-5-6 4z"/>
<path color="#00256c" d="M111 249l5-3-5-1-6 3z"/>
<path color="#003166" d="M122 247l5-4-5-1-6 4z"/>
<path color="#006778" d="M245 240l5-2-5-3-6 2z"/>
<path color="#006b83" d="M256 241l5-3-5-3-6 3z"/>
<path color="#0053ab" d="M379 248l5-3-5-4-6 3z"/>
<path color="#0049a8" d="M390 249l5-3-5-4-6 3z"/>
<path color="#00395d" d="M133 244l5-3-5-1-6 3z"/>
<path color="#003d52" d="M144 242l5-4-5-1-6 4z"/>
<path color="#003d48" d="M155 239l6-2-6-1-6 2z"/>
<path color="#003b40" d="M166 238l6-2-6-2-5 3z"/>
<path color="#003c3e" d="M177 237l6-2-6-2-5 3z"/>
<path color="#004040" d="M189 237l5-2-5-2-6 2z"/>
<path color="#004748" d="M200 237l5-2-5-2-6 2z"/>
<path color="#005053" d="M211 237l6-1-6-3-6 2z"/>
<path color="#005960" d="M222 238l6-2-6-2-5 2z"/>
<path color="#00616c" d="M233 239l6-2-6-3-5 2z"/>
<path color="#006e8c" d="M267 241l6-2-6-3-6 2z"/>
<path color="#006f93" d="M278 242l6-2-6-4-5 3z"/>
<path color="#006f9a" d="M289 243l6-3-6-3-5 3z"/>
<path color="#006f9f" d="M300 243l6-2-6-4-5 3z"/>
<path color="#006fa4" d="M312 244l5-3-5-4-6 4z"/>
<path color="#006ea8" d="M323 245l5-4-5-3-6 3z"/>
<path color="#006bab" d="M334 245l6-3-6-4-6 3z"/>
<path color="#0068ac" d="M345 246l6-4-6-4-5 4z"/>
<path color="#0063ad" d="M356 246l6-3-6-4-5 3z"/>
<path color="#005cad" d="M367 247l6-3-6-4-5 3z"/>
<path color="#002e75" d="M116 251l6-4-6-1-5 3z"/>
<path color="#004e4f" d="M183 239l6-2-6-2-6 2z"/>
<path color="#005051" d="M194 239l6-2-6-2-5 2z"/>
<path color="#005557" d="M205 239l6-2-6-2-5 2z"/>
<path color="#005b60" d="M217 240l5-2-5-2-6 1z"/>
<path color="#00616b" d="M228 241l5-2-5-3-6 2z"/>
<path color="#006575" d="M239 242l6-2-6-3-6 2z"/>
<path color="#00677f" d="M250 243l6-2-6-3-5 2z"/>
<path color="#006887" d="M261 244l6-3-6-3-5 3z"/>
<path color="#00688f" d="M273 245l5-3-5-3-6 2z"/>
<path color="#006795" d="M284 246l5-3-5-3-6 2z"/>
<path color="#00659b" d="M295 246l5-3-5-3-6 3z"/>
<path color="#00649f" d="M306 247l6-3-6-3-6 2z"/>
<path color="#0061a3" d="M317 248l6-3-6-4-5 3z"/>
<path color="#0040a6" d="M384 252l6-3-6-4-5 3z"/>
<path color="#003c71" d="M127 248l6-4-6-1-5 4z"/>
<path color="#00476a" d="M138 245l6-3-6-1-5 3z"/>
<path color="#004d61" d="M149 243l6-4-6-1-5 4z"/>
<path color="#004f58" d="M161 241l5-3-5-1-6 2z"/>
<path color="#004e51" d="M172 240l5-3-5-1-6 2z"/>
<path color="#005ea6" d="M328 248l6-3-6-4-5 4z"/>
<path color="#005aa8" d="M340 249l5-3-5-4-6 3z"/>
<path color="#0056a9" d="M351 249l5-3-5-4-6 4z"/>
<path color="#0050a9" d="M362 250l5-3-5-4-6 3z"/>
<path color="#0049a8" d="M373 251l6-3-6-4-6 3z"/>
<path color="#00387e" d="M122 252l5-4-5-1-6 4z"/>
<path color="#00487b" d="M133 249l5-4-5-1-6 4z"/>
<path color="#005576" d="M144 247l5-4-5-1-6 3z"/>
<path color="#005d6f" d="M155 244l6-3-6-2-6 4z"/>
<path color="#005f67" d="M166 242l6-2-6-2-5 3z"/>
<path color="#005f61" d="M177 241l6-2-6-2-5 3z"/>
<path color="#005e5e" d="M189 241l5-2-5-2-6 2z"/>
<path color="#005f5f" d="M200 241l5-2-5-2-6 2z"/>
<path color="#006064" d="M211 242l6-2-6-3-6 2z"/>
<path color="#00636c" d="M222 243l6-2-6-3-5 2z"/>
<path color="#006574" d="M233 244l6-2-6-3-5 2z"/>
<path color="#00657c" d="M245 245l5-2-5-3-6 2z"/>
<path color="#006584" d="M256 246l5-2-5-3-6 2z"/>
<path color="#00638b" d="M267 247l6-2-6-4-6 3z"/>
<path color="#006191" d="M278 248l6-2-6-4-5 3z"/>
<path color="#005e97" d="M289 249l6-3-6-3-5 3z"/>
<path color="#005b9b" d="M300 250l6-3-6-4-5 3z"/>
<path color="#00579e" d="M312 250l5-2-5-4-6 3z"/>
<path color="#0053a1" d="M323 251l5-3-5-3-6 3z"/>
<path color="#004fa3" d="M334 252l6-3-6-4-6 3z"/>
<path color="#004ba5" d="M345 252l6-3-6-3-5 3z"/>
<path color="#0045a5" d="M356 253l6-3-6-4-5 3z"/>
<path color="#003fa4" d="M367 254l6-3-6-4-5 3z"/>
<path color="#0038a3" d="M379 254l5-2-5-4-6 3z"/>
<path color="#006b6c" d="M194 243l6-2-6-2-5 2z"/>
<path color="#00696c" d="M205 244l6-2-6-3-5 2z"/>
<path color="#006870" d="M217 245l5-2-5-3-6 2z"/>
<path color="#006775" d="M228 246l5-2-5-3-6 2z"/>
<path color="#00667c" d="M239 247l6-2-6-3-6 2z"/>
<path color="#006189" d="M261 249l6-2-6-3-5 2z"/>
<path color="#005d8e" d="M273 250l5-2-5-3-6 2z"/>
<path color="#005993" d="M284 251l5-2-5-3-6 2z"/>
<path color="#005497" d="M295 252l5-2-5-4-6 3z"/>
<path color="#00509b" d="M306 253l6-3-6-3-6 3z"/>
<path color="#004187" d="M127 254l6-5-6-1-5 4z"/>
<path color="#005485" d="M138 251l6-4-6-2-5 4z"/>
<path color="#006281" d="M149 248l6-4-6-1-5 4z"/>
<path color="#006b7b" d="M161 246l5-4-5-1-6 3z"/>
<path color="#006e74" d="M172 244l5-3-5-1-6 2z"/>
<path color="#006d6f" d="M183 244l6-3-6-2-6 2z"/>
<path color="#006483" d="M250 248l6-2-6-3-5 2z"/>
<path color="#004b9d" d="M317 254l6-3-6-3-5 2z"/>
<path color="#00469f" d="M328 255l6-3-6-4-5 3z"/>
<path color="#0041a0" d="M340 255l5-3-5-3-6 3z"/>
<path color="#003ca1" d="M351 256l5-3-5-4-6 3z"/>
<path color="#0036a0" d="M362 257l5-3-5-4-6 3z"/>
<path color="#00309f" d="M373 257l6-3-6-3-6 3z"/>
<path color="#004a8f" d="M133 255l5-4-5-2-6 5z"/>
<path color="#005e8e" d="M144 252l5-4-5-1-6 4z"/>
<path color="#006e8b" d="M155 250l6-4-6-2-6 4z"/>
<path color="#007786" d="M166 248l6-4-6-2-5 4z"/>
<path color="#007a80" d="M177 247l6-3-6-3-5 3z"/>
<path color="#00787a" d="M189 246l5-3-5-2-6 3z"/>
<path color="#007477" d="M200 246l5-2-5-3-6 2z"/>
<path color="#007077" d="M211 247l6-2-6-3-6 2z"/>
<path color="#006c79" d="M222 248l6-2-6-3-5 2z"/>
<path color="#00687d" d="M233 249l6-2-6-3-5 2z"/>
<path color="#006482" d="M245 250l5-2-5-3-6 2z"/>
<path color="#005f88" d="M256 251l5-2-5-3-6 2z"/>
<path color="#005a8c" d="M267 253l6-3-6-3-6 2z"/>
<path color="#005591" d="M278 254l6-3-6-3-5 2z"/>
<path color="#004f94" d="M289 255l6-3-6-3-5 2z"/>
<path color="#004a97" d="M301 256l5-3-6-3-5 2z"/>
<path color="#00449a" d="M312 257l5-3-5-4-6 3z"/>
<path color="#003f9b" d="M323 257l5-2-5-4-6 3z"/>
<path color="#003a9c" d="M334 258l6-3-6-3-6 3z"/>
<path color="#00349d" d="M345 259l6-3-6-4-5 3z"/>
<path color="#002f9d" d="M356 259l6-2-6-4-5 3z"/>
<path color="#00299b" d="M367 260l6-3-6-3-5 3z"/>
<path color="#007981" d="M205 249l6-2-6-3-5 2z"/>
<path color="#007380" d="M217 250l5-2-5-3-6 2z"/>
<path color="#006d81" d="M228 251l5-2-5-3-6 2z"/>
<path color="#00538f" d="M273 256l5-2-5-4-6 3z"/>
<path color="#004c92" d="M284 257l5-2-5-4-6 3z"/>
<path color="#004695" d="M295 258l6-2-6-4-6 3z"/>
<path color="#005297" d="M138 257l6-5-6-1-5 4z"/>
<path color="#006796" d="M149 254l6-4-6-2-5 4z"/>
<path color="#007793" d="M161 252l5-4-5-2-6 4z"/>
<path color="#00808f" d="M172 250l5-3-5-3-6 4z"/>
<path color="#008289" d="M183 249l6-3-6-2-6 3z"/>
<path color="#007f84" d="M194 249l6-3-6-3-5 3z"/>
<path color="#006684" d="M239 252l6-2-6-3-6 2z"/>
<path color="#006088" d="M250 253l6-2-6-3-5 2z"/>
<path color="#00598b" d="M261 255l6-2-6-4-5 2z"/>
<path color="#003f97" d="M306 259l6-2-6-4-5 3z"/>
<path color="#003998" d="M317 260l6-3-6-3-5 3z"/>
<path color="#003499" d="M328 261l6-3-6-3-5 2z"/>
<path color="#002e99" d="M340 262l5-3-5-4-6 3z"/>
<path color="#002999" d="M351 262l5-3-5-3-6 3z"/>
<path color="#002498" d="M362 263l5-3-5-3-6 2z"/>
<path color="#00599d" d="M144 259l5-5-5-2-6 5z"/>
<path color="#006e9d" d="M155 256l6-4-6-2-6 4z"/>
<path color="#007d9a" d="M166 254l6-4-6-2-5 4z"/>
<path color="#008596" d="M177 253l6-4-6-2-5 3z"/>
<path color="#008691" d="M189 252l5-3-5-3-6 3z"/>
<path color="#00818c" d="M200 252l5-3-5-3-6 3z"/>
<path color="#007a88" d="M211 252l6-2-6-3-6 2z"/>
<path color="#007287" d="M222 253l6-2-6-3-5 2z"/>
<path color="#006a87" d="M233 254l6-2-6-3-5 2z"/>
<path color="#006289" d="M245 256l5-3-5-3-6 2z"/>
<path color="#005a8c" d="M256 257l5-2-5-4-6 2z"/>
<path color="#00528e" d="M267 258l6-2-6-3-6 2z"/>
<path color="#004a91" d="M278 260l6-3-6-3-5 2z"/>
<path color="#004393" d="M289 261l6-3-6-3-5 2z"/>
<path color="#003c95" d="M301 262l5-3-5-3-6 2z"/>
<path color="#003596" d="M312 263l5-3-5-3-6 2z"/>
<path color="#002f96" d="M323 263l5-2-5-4-6 3z"/>
<path color="#002996" d="M334 264l6-2-6-4-6 3z"/>
<path color="#002496" d="M345 265l6-3-6-3-5 3z"/>
<path color="#001f94" d="M356 265l6-2-6-4-5 3z"/>
<path color="#00788f" d="M217 255l5-2-5-3-6 2z"/>
<path color="#004192" d="M284 263l5-2-5-4-6 3z"/>
<path color="#005da2" d="M149 261l6-5-6-2-5 5z"/>
<path color="#0072a2" d="M161 259l5-5-5-2-6 4z"/>
<path color="#0080a0" d="M172 257l5-4-5-3-6 4z"/>
<path color="#00879c" d="M183 255l6-3-6-3-6 4z"/>
<path color="#008697" d="M194 255l6-3-6-3-5 3z"/>
<path color="#008192" d="M205 255l6-3-6-3-5 3z"/>
<path color="#006f8d" d="M228 256l5-2-5-3-6 2z"/>
<path color="#00658d" d="M239 258l6-2-6-4-6 2z"/>
<path color="#005b8d" d="M250 259l6-2-6-4-5 3z"/>
<path color="#00528f" d="M261 261l6-3-6-3-5 2z"/>
<path color="#004991" d="M273 262l5-2-5-4-6 2z"/>
<path color="#003993" d="M295 264l6-2-6-4-6 3z"/>
<path color="#003294" d="M306 265l6-2-6-4-5 3z"/>
<path color="#002c94" d="M317 266l6-3-6-3-5 3z"/>
<path color="#002694" d="M328 267l6-3-6-3-5 2z"/>
<path color="#002093" d="M340 267l5-2-5-3-6 2z"/>
<path color="#001b91" d="M351 268l5-3-5-3-6 3z"/>
<path color="#0060a6" d="M155 263l6-4-6-3-6 5z"/>
<path color="#0074a6" d="M166 261l6-4-6-3-5 5z"/>
<path color="#0080a4" d="M177 259l6-4-6-2-5 4z"/>
<path color="#0086a1" d="M189 258l5-3-5-3-6 3z"/>
<path color="#00849c" d="M200 258l5-3-5-3-6 3z"/>
<path color="#007d97" d="M211 258l6-3-6-3-6 3z"/>
<path color="#007394" d="M222 259l6-3-6-3-5 2z"/>
<path color="#006991" d="M233 260l6-2-6-4-5 2z"/>
<path color="#005e91" d="M245 261l5-2-5-3-6 2z"/>
<path color="#005391" d="M256 263l5-2-5-4-6 2z"/>
<path color="#004991" d="M267 264l6-2-6-4-6 3z"/>
<path color="#004092" d="M278 265l6-2-6-3-5 2z"/>
<path color="#003892" d="M289 267l6-3-6-3-5 2z"/>
<path color="#003092" d="M301 268l5-3-5-3-6 2z"/>
<path color="#002992" d="M312 268l5-2-5-3-6 2z"/>
<path color="#002392" d="M323 269l5-2-5-4-6 3z"/>
<path color="#001d91" d="M334 270l6-3-6-3-6 3z"/>
<path color="#00188f" d="M345 270l6-2-6-3-5 2z"/>
<path color="#0061aa" d="M161 266l5-5-5-2-6 4z"/>
<path color="#0073aa" d="M172 264l5-5-5-2-6 4z"/>
<path color="#007ea8" d="M183 262l6-4-6-3-6 4z"/>
<path color="#0081a4" d="M194 261l6-3-6-3-5 3z"/>
<path color="#007ea0" d="M205 261l6-3-6-3-5 3z"/>
<path color="#00769b" d="M217 262l5-3-5-4-6 3z"/>
<path color="#006c97" d="M228 263l5-3-5-4-6 3z"/>
<path color="#006195" d="M239 264l6-3-6-3-6 2z"/>
<path color="#005593" d="M250 265l6-2-6-4-5 2z"/>
<path color="#004a93" d="M261 266l6-2-6-3-5 2z"/>
<path color="#004092" d="M273 268l5-3-5-3-6 2z"/>
<path color="#003792" d="M284 269l5-2-5-4-6 2z"/>
<path color="#002e92" d="M295 270l6-2-6-4-6 3z"/>
<path color="#002791" d="M306 271l6-3-6-3-5 3z"/>
<path color="#002190" d="M317 272l6-3-6-3-5 2z"/>
<path color="#001b8f" d="M329 272l5-2-6-3-5 2z"/>
<path color="#00168d" d="M340 273l5-3-5-3-6 3z"/>
<path color="#005fac" d="M166 268l6-4-6-3-5 5z"/>
<path color="#0070ac" d="M177 267l6-5-6-3-5 5z"/>
<path color="#0079aa" d="M189 265l5-4-5-3-6 4z"/>
<path color="#007ba7" d="M200 265l5-4-5-3-6 3z"/>
<path color="#0076a2" d="M211 265l6-3-6-4-6 3z"/>
<path color="#006e9e" d="M222 265l6-2-6-4-5 3z"/>
<path color="#00639a" d="M233 266l6-2-6-4-5 3z"/>
<path color="#005797" d="M245 267l5-2-5-4-6 3z"/>
<path color="#004b95" d="M256 269l5-3-5-3-6 2z"/>
<path color="#004094" d="M267 270l6-2-6-4-6 2z"/>
<path color="#003693" d="M278 271l6-2-6-4-5 3z"/>
<path color="#002e92" d="M289 272l6-2-6-3-5 2z"/>
<path color="#002691" d="M301 273l5-2-5-3-6 2z"/>
<path color="#001f8f" d="M312 274l5-2-5-4-6 3z"/>
<path color="#00198e" d="M323 275l6-3-6-3-6 3z"/>
<path color="#00148c" d="M334 275l6-2-6-3-5 2z"/>
<path color="#005cae" d="M172 271l5-4-5-3-6 4z"/>
<path color="#006aae" d="M183 270l6-5-6-3-6 5z"/>
<path color="#0072ac" d="M194 269l6-4-6-4-5 4z"/>
<path color="#0072a8" d="M205 268l6-3-6-4-5 4z"/>
<path color="#006da4" d="M217 268l5-3-5-3-6 3z"/>
<path color="#0063a0" d="M228 269l5-3-5-3-6 2z"/>
<path color="#00589c" d="M239 270l6-3-6-3-6 2z"/>
<path color="#004c99" d="M250 271l6-2-6-4-5 2z"/>
<path color="#004196" d="M261 272l6-2-6-4-5 3z"/>
<path color="#003794" d="M273 274l5-3-5-3-6 2z"/>
<path color="#002d93" d="M284 275l5-3-5-3-6 2z"/>
<path color="#002591" d="M295 276l6-3-6-3-6 2z"/>
<path color="#001e8f" d="M306 277l6-3-6-3-5 2z"/>
<path color="#00188d" d="M317 277l6-2-6-3-5 2z"/>
<path color="#00138b" d="M329 278l5-3-5-3-6 3z"/>
<path color="#0057af" d="M177 274l6-4-6-3-5 4z"/>
<path color="#0063af" d="M189 273l5-4-5-4-6 5z"/>
<path color="#0068a9" d="M211 272l6-4-6-3-6 3z"/>
<path color="#0062a5" d="M222 272l6-3-6-4-5 3z"/>
<path color="#0058a0" d="M233 273l6-3-6-4-5 3z"/>
<path color="#004d9c" d="M245 274l5-3-5-4-6 3z"/>
<path color="#004299" d="M256 275l5-3-5-3-6 2z"/>
<path color="#003796" d="M267 276l6-2-6-4-6 2z"/>
<path color="#002d94" d="M278 277l6-2-6-4-5 3z"/>
<path color="#002492" d="M289 278l6-2-6-4-5 3z"/>
<path color="#00178d" d="M312 280l5-3-5-3-6 3z"/>
<path color="#00128b" d="M323 280l6-2-6-3-6 2z"/>
<path color="#0069ad" d="M200 272l5-4-5-3-6 4z"/>
<path color="#001d8f" d="M301 279l5-2-5-4-6 3z"/>
<path color="#0051af" d="M183 277l6-4-6-3-6 4z"/>
<path color="#005ca9" d="M217 275l5-3-5-4-6 4z"/>
<path color="#0056a5" d="M228 276l5-3-5-4-6 3z"/>
<path color="#004ca1" d="M239 277l6-3-6-4-6 3z"/>
<path color="#00429d" d="M250 278l6-3-6-4-5 3z"/>
<path color="#003799" d="M261 279l6-3-6-4-5 3z"/>
<path color="#002d96" d="M273 280l5-3-5-3-6 2z"/>
<path color="#002493" d="M284 281l5-3-5-3-6 2z"/>
<path color="#00118b" d="M317 283l6-3-6-3-5 3z"/>
<path color="#005baf" d="M194 276l6-4-6-3-5 4z"/>
<path color="#005fad" d="M205 275l6-3-6-4-5 4z"/>
<path color="#001d90" d="M295 282l6-3-6-3-6 2z"/>
<path color="#00168d" d="M306 282l6-2-6-3-5 2z"/>
<path color="#0050a9" d="M222 279l6-3-6-4-5 3z"/>
<path color="#004aa4" d="M233 280l6-3-6-4-5 3z"/>
<path color="#0040a0" d="M245 280l5-2-5-4-6 3z"/>
<path color="#00369c" d="M256 281l5-2-5-4-6 3z"/>
<path color="#002d98" d="M267 282l6-2-6-4-6 3z"/>
<path color="#002494" d="M278 283l6-2-6-4-5 3z"/>
<path color="#004aaf" d="M189 280l5-4-5-3-6 4z"/>
<path color="#0052af" d="M200 279l5-4-5-3-6 4z"/>
<path color="#0054ac" d="M211 279l6-4-6-3-6 3z"/>
<path color="#001c91" d="M289 284l6-2-6-4-5 3z"/>
<path color="#00168e" d="M301 285l5-3-5-3-6 3z"/>
<path color="#00118b" d="M312 285l5-2-5-3-6 2z"/>
<path color="#0045a8" d="M228 283l5-3-5-4-6 3z"/>
<path color="#003ea3" d="M239 283l6-3-6-3-6 3z"/>
<path color="#002c9a" d="M261 285l6-3-6-3-5 2z"/>
<path color="#002396" d="M273 286l5-3-5-3-6 2z"/>
<path color="#0042ae" d="M194 284l6-5-6-3-5 4z"/>
<path color="#0048ae" d="M205 283l6-4-6-4-5 4z"/>
<path color="#0048ab" d="M217 283l5-4-5-4-6 4z"/>
<path color="#00359f" d="M250 284l6-3-6-3-5 2z"/>
<path color="#001c93" d="M284 287l5-3-5-3-6 2z"/>
<path color="#00158f" d="M295 287l6-2-6-3-6 2z"/>
<path color="#00108c" d="M306 288l6-3-6-3-5 3z"/>
<path color="#0039a6" d="M233 286l6-3-6-3-5 3z"/>
<path color="#002398" d="M267 288l6-2-6-4-6 3z"/>
<path color="#0039ad" d="M200 287l5-4-5-4-6 5z"/>
<path color="#003eac" d="M211 286l6-3-6-4-6 4z"/>
<path color="#003da9" d="M222 286l6-3-6-4-5 4z"/>
<path color="#0032a1" d="M245 287l5-3-5-4-6 3z"/>
<path color="#002b9d" d="M256 288l5-3-5-4-6 3z"/>
<path color="#001b94" d="M278 289l6-2-6-4-5 3z"/>
<path color="#001590" d="M289 290l6-3-6-3-5 3z"/>
<path color="#00108d" d="M301 290l5-2-5-3-6 2z"/>
<path color="#0031ab" d="M205 290l6-4-6-3-5 4z"/>
<path color="#0034aa" d="M217 290l5-4-5-3-6 3z"/>
<path color="#0032a7" d="M228 290l5-4-5-3-6 3z"/>
<path color="#002ea3" d="M239 290l6-3-6-4-6 3z"/>
<path color="#00289f" d="M250 290l6-2-6-4-5 3z"/>
<path color="#00219a" d="M261 291l6-3-6-3-5 3z"/>
<path color="#001a96" d="M273 292l5-3-5-3-6 2z"/>
<path color="#001492" d="M284 292l5-2-5-3-6 2z"/>
<path color="#000f8e" d="M295 293l6-3-6-3-6 3z"/>
<path color="#0029a9" d="M211 293l6-3-6-4-6 4z"/>
<path color="#002aa7" d="M222 293l6-3-6-4-5 4z"/>
<path color="#0029a4" d="M233 293l6-3-6-4-5 4z"/>
<path color="#0024a0" d="M245 293l5-3-5-3-6 3z"/>
<path color="#001f9c" d="M256 294l5-3-5-3-6 2z"/>
<path color="#001998" d="M267 294l6-2-6-4-6 3z"/>
<path color="#001493" d="M278 295l6-3-6-3-5 3z"/>
<path color="#000f8f" d="M290 295l5-2-6-3-5 2z"/>
<path color="#0021a6" d="M217 297l5-4-5-3-6 3z"/>
<path color="#0020a1" d="M239 296l6-3-6-3-6 3z"/>
<path color="#001c9d" d="M250 297l6-3-6-4-5 3z"/>
<path color="#001799" d="M262 297l5-3-6-3-5 3z"/>
<path color="#000e90" d="M284 298l6-3-6-3-6 3z"/>
<path color="#0022a4" d="M228 296l5-3-5-3-6 3z"/>
<path color="#001295" d="M273 298l5-3-5-3-6 2z"/>
<path color="#00189e" d="M245 300l5-3-5-4-6 3z"/>
<path color="#00159a" d="M256 300l6-3-6-3-6 3z"/>
<path color="#001aa2" d="M222 300l6-4-6-3-5 4z"/>
<path color="#001aa1" d="M233 300l6-4-6-3-5 3z"/>
<path color="#001196" d="M267 300l6-2-6-4-5 3z"/>
<path color="#000d91" d="M278 301l6-3-6-3-5 3z"/>
<path color="#00149f" d="M228 303l5-3-5-4-6 4z"/>
<path color="#00149d" d="M239 303l6-3-6-4-6 4z"/>
<path color="#00129a" d="M250 303l6-3-6-3-5 3z"/>
<path color="#000f96" d="M262 303l5-3-5-3-6 3z"/>
<path color="#000c92" d="M273 303l5-2-5-3-6 2z"/>
<path color="#000f9b" d="M234 306l5-3-6-3-5 3z"/>
<path color="#000f99" d="M245 306l5-3-5-3-6 3z"/>
<path color="#000d96" d="M256 306l6-3-6-3-6 3z"/>
<path color="#000b93" d="M267 306l6-3-6-3-5 3z"/>
<path color="#000b98" d="M239 309l6-3-6-3-5 3z"/>
<path color="#000a96" d="M250 309l6-3-6-3-5 3z"/>
<path color="#000993" d="M262 309l5-3-5-3-6 3z"/>
<path color="#000894" d="M245 312l5-3-5-3-6 3z"/>
<path color="#000792" d="M256 312l6-3-6-3-6 3z"/>
<path color="#000592" d="M250 315l6-3-6-3-5 3z"/>
</g>
<line x1="275.7" y1="150.9" x2="270.5" y2="38.8" stroke="#8c8c8c" stroke-width="0.75"/>
<line x1="291.2" y1="116.8" x2="288.1" y2="34.6" stroke="#8c8c8c" stroke-width="0.75"/>
<line x1="307.9" y1="111" x2="305.5" y2="30.6" stroke="#8c8c8c" stroke-width="0.75"/>
<line x1="324.6" y1="105.5" x2="323" y2="26.7" stroke="#8c8c8c" stroke-width="0.75"/>
<line x1="341.2" y1="100.2" x2="340.3" y2="23" stroke="#8c8c8c" stroke-width="0.75"/>
<line x1="357.8" y1="95.2" x2="357.7" y2="19.5" stroke="#8c8c8c" stroke-width="0.75"/>
<line x1="274.5" y1="122.9" x2="357.8" y2="95.2" stroke="#8c8c8c" stroke-width="0.75"/>
<line x1="273.5" y1="102.4" x2="357.7" y2="76.7" stroke="#8c8c8c" stroke-width="0.75"/>
<line x1="272.5" y1="81.6" x2="357.7" y2="58" stroke="#8c8c8c" stroke-width="0.75"/>
<line x1="271.5" y1="60.4" x2="357.7" y2="38.9" stroke="#8c8c8c" stroke-width="0.75"/>
<line x1="270.5" y1="38.8" x2="357.7" y2="19.5" stroke="#8c8c8c" stroke-width="0.75"/>
<line x1="440.1" y1="150.9" x2="445.1" y2="39.1" stroke="#8c8c8c" stroke-width="0.75"/>
<line x1="429.3" y1="118.6" x2="432.5" y2="36" stroke="#8c8c8c" stroke-width="0.75"/>
<line x1="417.3" y1="114.3" x2="419.9" y2="33" stroke="#8c8c8c" stroke-width="0.75"/>
<line x1="405.3" y1="110.3" x2="407.4" y2="30.1" stroke="#8c8c8c" stroke-width="0.75"/>
<line x1="393.4" y1="106.3" x2="394.9" y2="27.4" stroke="#8c8c8c" stroke-width="0.75"/>
<line x1="381.5" y1="102.5" x2="382.5" y2="24.7" stroke="#8c8c8c" stroke-width="0.75"/>
<line x1="369.6" y1="98.8" x2="370.1" y2="22.1" stroke="#8c8c8c" stroke-width="0.75"/>
<line x1="357.8" y1="95.2" x2="357.7" y2="19.5" stroke="#8c8c8c" stroke-width="0.75"/>
<line x1="441.3" y1="122.9" x2="357.8" y2="95.2" stroke="#8c8c8c" stroke-width="0.75"/>
<line x1="442.2" y1="102.5" x2="357.7" y2="76.7" stroke="#8c8c8c" stroke-width="0.75"/>
<line x1="443.2" y1="81.8" x2="357.7" y2="58" stroke="#8c8c8c" stroke-width="0.75"/>
<line x1="444.1" y1="60.6" x2="357.7" y2="38.9" stroke="#8c8c8c" stroke-width="0.75"/>
<line x1="445.1" y1="39.1" x2="357.7" y2="19.5" stroke="#8c8c8c" stroke-width="0.75"/>
<polygon points="358,189.4 440.1,150.9 357.8,120.5 275.7,150.9" fill="#ffff00" stroke="#333" stroke-width="0.6"/>
<path transform="scale(.5)" d="M619 331l5-1 2 0 3-1 4 0 3 0 3 0 4-1 3 1 4 0 2 0 4 1 3 1 3 1 2 2 2 1 2 2 1 1 1 1 1 3 1 1 0 1 1 2 0 1 1 2 0 2 0 2 1 1 0 2 0 2M836 284l-3 0-3 1-4 0-2 1-5 0-3 1-2 0-4 1-4 0-2 0-3 1-5 0-2 0-3 1-4 0-4 0-3 1-2 0-3 0-4 0-4 1-3 0-3 0-3 0-3 0-3 1-4 0-3 0-4 0-3 0-3 0-3-1-4 0-4 0-2-1-5-1-1 0-4-1-3-2-1-1-2-1-1-1-2-2-1-1-1-1-1-1-1-2 0-1-1-1 0-1-1-1 0-2 0-1-1-1 0-2 0-1 0-1 0-1-1-1 0-1 0-2 0-1 0-1 0-1 0-1 0-1 1-2 0-1 0-1 0-1 0-1 1-1 0-1" stroke="#66dd44" stroke-width="1.4" fill="none"/>
<line x1="383.1" y1="17.6" x2="383.1" y2="78" stroke="#555" stroke-width="0.8"/>
<g transform="scale(.5)" fill="currentColor" stroke="currentColor" stroke-width="0.9" stroke-linejoin="round">
<path color="#000000" d="M715 150l6-8-6 6-5 8z"/>
<path color="#000000" d="M710 158l5-8-5 6-6 7z"/>
<path color="#000000" d="M721 144l6-7-6 5-6 8z"/>
<path color="#000000" d="M704 166l6-8-6 5-5 7z"/>
<path color="#000000" d="M715 152l6-8-6 6-5 8z"/>
<path color="#000000" d="M727 140l5-7-5 4-6 7z"/>
<path color="#000000" d="M699 173l5-7-5 4-6 7z"/>
<path color="#000000" d="M710 161l5-9-5 6-6 8z"/>
<path color="#000000" d="M721 148l6-8-6 4-6 8z"/>
<path color="#0e0400" d="M732 137l6-7-6 3-5 7z"/>
<path color="#000000" d="M693 180l6-7-6 4-5 6z"/>
<path color="#000000" d="M704 169l6-8-6 5-5 7z"/>
<path color="#000000" d="M716 156l5-8-6 4-5 9z"/>
<path color="#1a1100" d="M727 144l5-7-5 3-6 8z"/>
<path color="#4d0900" d="M738 135l6-6-6 1-6 7z"/>
<path color="#000000" d="M688 185l5-5-5 3-6 5z"/>
<path color="#000000" d="M699 176l5-7-5 4-6 7z"/>
<path color="#000000" d="M710 164l6-8-6 5-6 8z"/>
<path color="#1b1c00" d="M721 153l6-9-6 4-5 8z"/>
<path color="#562400" d="M732 142l6-7-6 2-5 7z"/>
<path color="#7a0000" d="M744 135l5-5-5-1-6 6z"/>
<path color="#000000" d="M682 191l6-6-6 3-5 5z"/>
<path color="#000000" d="M693 182l6-6-6 4-5 5z"/>
<path color="#000000" d="M704 172l6-8-6 5-5 7z"/>
<path color="#0d1800" d="M716 161l5-8-5 3-6 8z"/>
<path color="#544200" d="M727 150l5-8-5 2-6 9z"/>
<path color="#822100" d="M738 141l6-6-6 0-6 7z"/>
<path color="#950000" d="M749 136l6-5-6-1-5 5z"/>
<path color="#000000" d="M699 179l5-7-5 4-6 6z"/>
<path color="#031100" d="M710 169l6-8-6 3-6 8z"/>
<path color="#414d00" d="M721 158l6-8-6 3-5 8z"/>
<path color="#7f4b00" d="M732 149l6-8-6 1-5 8z"/>
<path color="#000000" d="M677 195l5-4-5 2-6 3z"/>
<path color="#000000" d="M688 188l5-6-5 3-6 6z"/>
<path color="#9c1b00" d="M744 142l5-6-5-1-6 6z"/>
<path color="#a30000" d="M755 138l6-4-6-3-6 5z"/>
<path color="#000b02" d="M704 176l6-7-6 3-5 7z"/>
<path color="#1f4300" d="M716 166l5-8-5 3-6 8z"/>
<path color="#787200" d="M727 157l5-8-5 1-6 8z"/>
<path color="#000000" d="M671 199l6-4-6 1-5 4z"/>
<path color="#000000" d="M682 193l6-5-6 3-5 4z"/>
<path color="#000000" d="M693 186l6-7-6 3-5 6z"/>
<path color="#9b4900" d="M738 149l6-7-6-1-6 8z"/>
<path color="#ac1c00" d="M749 143l6-5-6-2-5 6z"/>
<path color="#aa0900" d="M761 141l5-3-5-4-6 4z"/>
<path color="#000000" d="M666 203l5-4-5 1-6 3z"/>
<path color="#000000" d="M677 198l5-5-5 2-6 4z"/>
<path color="#000000" d="M688 191l5-5-5 2-6 5z"/>
<path color="#000502" d="M699 183l5-7-5 3-6 7z"/>
<path color="#063700" d="M710 174l6-8-6 3-6 7z"/>
<path color="#4b6e00" d="M721 164l6-7-6 1-5 8z"/>
<path color="#967900" d="M732 156l6-7-6 0-5 8z"/>
<path color="#ad4a00" d="M744 150l5-7-5-1-6 7z"/>
<path color="#b52600" d="M755 146l6-5-6-3-6 5z"/>
<path color="#ad2000" d="M766 145l6-3-6-4-5 3z"/>
<path color="#000103" d="M660 206l6-3-6 0-5 3z"/>
<path color="#000000" d="M671 202l6-4-6 1-5 4z"/>
<path color="#000000" d="M682 196l6-5-6 2-5 5z"/>
<path color="#000000" d="M693 189l6-6-6 3-5 5z"/>
<path color="#002b09" d="M704 181l6-7-6 2-5 7z"/>
<path color="#206200" d="M716 172l5-8-5 2-6 8z"/>
<path color="#778e00" d="M727 164l5-8-5 1-6 7z"/>
<path color="#a97c00" d="M738 157l6-7-6-1-6 7z"/>
<path color="#b75100" d="M749 152l6-6-6-3-5 7z"/>
<path color="#b93b00" d="M761 150l5-5-5-4-6 5z"/>
<path color="#af3d00" d="M772 150l6-3-6-5-6 3z"/>
<path color="#00020a" d="M655 209l5-3-5 0-6 2z"/>
<path color="#000000" d="M666 205l5-3-5 1-6 3z"/>
<path color="#000000" d="M677 201l5-5-5 2-6 4z"/>
<path color="#000000" d="M688 195l5-6-5 2-6 5z"/>
<path color="#001f0f" d="M699 187l5-6-5 2-6 6z"/>
<path color="#015400" d="M710 179l6-7-6 2-6 7z"/>
<path color="#428300" d="M721 171l6-7-6 0-5 8z"/>
<path color="#99a300" d="M732 164l6-7-6-1-5 8z"/>
<path color="#b58300" d="M744 158l5-6-5-2-6 7z"/>
<path color="#bd6200" d="M755 155l6-5-6-4-6 6z"/>
<path color="#bb5600" d="M766 154l6-4-6-5-5 5z"/>
<path color="#b05f00" d="M777 155l6-3-5-5-6 3z"/>
<path color="#000310" d="M649 211l6-2-6-1-5 3z"/>
<path color="#000102" d="M660 209l6-4-6 1-5 3z"/>
<path color="#000000" d="M671 205l6-4-6 1-5 3z"/>
<path color="#000000" d="M682 199l6-4-6 1-5 5z"/>
<path color="#00150f" d="M693 193l6-6-6 2-5 6z"/>
<path color="#004614" d="M704 186l6-7-6 2-5 6z"/>
<path color="#167700" d="M716 178l5-7-5 1-6 7z"/>
<path color="#5f9b00" d="M727 171l5-7-5 0-6 7z"/>
<path color="#adb100" d="M738 165l6-7-6-1-6 7z"/>
<path color="#bc9100" d="M749 161l6-6-6-3-5 6z"/>
<path color="#c07b00" d="M761 159l5-5-5-4-6 5z"/>
<path color="#bc7800" d="M772 159l5-4-5-5-6 4z"/>
<path color="#b18400" d="M783 160l6-2-6-6-6 3z"/>
<path color="#000317" d="M644 214l5-3-5 0-6 2z"/>
<path color="#000207" d="M655 212l5-3-5 0-6 2z"/>
<path color="#000000" d="M666 208l5-3-5 0-6 4z"/>
<path color="#000000" d="M677 204l5-5-5 2-6 4z"/>
<path color="#000d0c" d="M688 198l5-5-5 2-6 4z"/>
<path color="#00371d" d="M699 191l5-5-5 1-6 6z"/>
<path color="#00690b" d="M710 185l6-7-6 1-6 7z"/>
<path color="#2c9100" d="M721 178l6-7-6 0-5 7z"/>
<path color="#73aa00" d="M732 172l6-7-6-1-5 7z"/>
<path color="#b2b900" d="M744 168l5-7-5-3-6 7z"/>
<path color="#c0a600" d="M755 165l6-6-6-4-6 6z"/>
<path color="#c19900" d="M766 163l6-4-6-5-5 5z"/>
<path color="#bd9c00" d="M777 164l6-4-6-5-5 4z"/>
<path color="#b2aa00" d="M789 166l5-3-5-5-6 2z"/>
<path color="#00031d" d="M638 216l6-2-6-1-6 2z"/>
<path color="#00030d" d="M649 214l6-2-6-1-5 3z"/>
<path color="#000101" d="M660 211l6-3-6 1-5 3z"/>
<path color="#000000" d="M671 208l6-4-6 1-5 3z"/>
<path color="#000607" d="M682 203l6-5-6 1-5 5z"/>
<path color="#00291f" d="M693 197l6-6-6 2-5 5z"/>
<path color="#7bb500" d="M738 174l6-6-6-3-6 7z"/>
<path color="#aabf00" d="M749 171l6-6-6-4-5 7z"/>
<path color="#c2c100" d="M761 169l5-6-5-4-6 6z"/>
<path color="#c2bc00" d="M772 168l5-4-5-5-6 4z"/>
<path color="#b6bd00" d="M783 169l6-3-6-6-6 4z"/>
<path color="#94b300" d="M794 171l6-2-6-6-5 3z"/>
<path color="#005920" d="M704 191l6-6-6 1-5 5z"/>
<path color="#038400" d="M716 184l5-6-5 0-6 7z"/>
<path color="#3ea200" d="M727 179l5-7-5-1-6 7z"/>
<path color="#000322" d="M632 218l6-2-6-1-5 2z"/>
<path color="#000312" d="M644 217l5-3-5 0-6 2z"/>
<path color="#000205" d="M655 214l5-3-5 1-6 2z"/>
<path color="#000000" d="M666 211l5-3-5 0-6 3z"/>
<path color="#000303" d="M677 207l5-4-5 1-6 4z"/>
<path color="#001c1a" d="M688 202l5-5-5 1-6 5z"/>
<path color="#77bb00" d="M744 177l5-6-5-3-6 6z"/>
<path color="#98c100" d="M755 174l6-5-6-4-6 6z"/>
<path color="#a6c300" d="M766 173l6-5-6-5-5 6z"/>
<path color="#a2c200" d="M777 173l6-4-6-5-5 4z"/>
<path color="#8ebd00" d="M789 175l5-4-5-5-6 3z"/>
<path color="#6eb400" d="M800 177l5-3-5-5-6 2z"/>
<path color="#00492b" d="M699 196l5-5-5 0-6 6z"/>
<path color="#00771b" d="M710 190l6-6-6 1-6 6z"/>
<path color="#119900" d="M721 185l6-6-6-1-5 6z"/>
<path color="#47ae00" d="M732 180l6-6-6-2-5 7z"/>
<path color="#000327" d="M627 220l5-2-5-1-6 2z"/>
<path color="#000317" d="M638 219l6-2-6-1-6 2z"/>
<path color="#000209" d="M649 217l6-3-6 0-5 3z"/>
<path color="#000001" d="M660 214l6-3-6 0-5 3z"/>
<path color="#000102" d="M671 210l6-3-6 1-5 3z"/>
<path color="#001113" d="M682 206l6-4-6 1-5 4z"/>
<path color="#00392c" d="M693 201l6-5-6 1-5 5z"/>
<path color="#00672e" d="M704 196l6-6-6 1-5 5z"/>
<path color="#008d13" d="M716 191l5-6-5-1-6 6z"/>
<path color="#1aa600" d="M727 186l5-6-5-1-6 6z"/>
<path color="#47b600" d="M738 182l6-5-6-3-6 6z"/>
<path color="#6abf00" d="M749 180l6-6-6-3-5 6z"/>
<path color="#7fc300" d="M761 178l5-5-5-4-6 5z"/>
<path color="#84c400" d="M772 178l5-5-5-5-6 5z"/>
<path color="#7ac100" d="M783 179l6-4-6-6-6 4z"/>
<path color="#65bd00" d="M794 180l6-3-6-6-5 4z"/>
<path color="#48b500" d="M805 182l6-2-6-6-5 3z"/>
<path color="#00032b" d="M621 223l6-3-6-1-5 2z"/>
<path color="#00031c" d="M632 221l6-2-6-1-5 2z"/>
<path color="#00030d" d="M643 220l6-3-5 0-6 2z"/>
<path color="#000103" d="M655 217l5-3-5 0-6 3z"/>
<path color="#000001" d="M666 214l5-4-5 1-6 3z"/>
<path color="#00090b" d="M677 210l5-4-5 1-6 3z"/>
<path color="#002b28" d="M688 205l5-4-5 1-6 4z"/>
<path color="#005738" d="M699 201l5-5-5 0-6 5z"/>
<path color="#00802c" d="M710 196l6-5-6-1-6 6z"/>
<path color="#009d0c" d="M721 192l6-6-6-1-5 6z"/>
<path color="#1bb000" d="M732 188l6-6-6-2-5 6z"/>
<path color="#3dbb00" d="M744 185l5-5-5-3-6 5z"/>
<path color="#55c100" d="M755 184l6-6-6-4-6 6z"/>
<path color="#60c300" d="M766 183l6-5-6-5-5 5z"/>
<path color="#5ec300" d="M777 183l6-4-6-6-5 5z"/>
<path color="#51c100" d="M789 184l5-4-5-5-6 4z"/>
<path color="#3cbd00" d="M800 186l5-4-5-5-6 3z"/>
<path color="#22b600" d="M811 188l5-3-5-5-6 2z"/>
<path color="#000320" d="M627 224l5-3-5-1-6 3z"/>
<path color="#000310" d="M638 222l5-2-5-1-6 2z"/>
<path color="#000205" d="M649 220l6-3-6 0-6 3z"/>
<path color="#000001" d="M660 217l6-3-6 0-5 3z"/>
<path color="#000406" d="M671 213l6-3-6 0-5 4z"/>
<path color="#3bc200" d="M760 188l6-5-5-5-6 6z"/>
<path color="#3ec300" d="M772 188l5-5-5-5-6 5z"/>
<path color="#37c300" d="M783 188l6-4-6-5-6 4z"/>
<path color="#28c000" d="M794 190l6-4-6-6-5 4z"/>
<path color="#14bd00" d="M805 191l6-3-6-6-5 4z"/>
<path color="#00032f" d="M616 225l5-2-5-2-6 2z"/>
<path color="#001c1e" d="M682 209l6-4-6 1-5 4z"/>
<path color="#004639" d="M693 205l6-4-6 0-5 4z"/>
<path color="#00713c" d="M704 201l6-5-6 0-5 5z"/>
<path color="#009229" d="M716 197l5-5-5-1-6 5z"/>
<path color="#00a80b" d="M727 193l5-5-5-2-6 6z"/>
<path color="#14b500" d="M738 191l6-6-6-3-6 6z"/>
<path color="#2dbd00" d="M749 189l6-5-6-4-5 5z"/>
<path color="#00b704" d="M816 193l6-3-6-5-5 3z"/>
<path color="#000232" d="M610 227l6-2-6-2-5 2z"/>
<path color="#000324" d="M621 226l6-2-6-1-5 2z"/>
<path color="#000314" d="M632 224l6-2-6-1-5 3z"/>
<path color="#000207" d="M643 222l6-2-6 0-5 2z"/>
<path color="#000001" d="M654 220l6-3-5 0-6 3z"/>
<path color="#000203" d="M666 217l5-4-5 1-6 3z"/>
<path color="#1cc200" d="M766 193l6-5-6-5-6 5z"/>
<path color="#1ac200" d="M777 193l6-5-6-5-5 5z"/>
<path color="#10c200" d="M788 194l6-4-5-6-6 4z"/>
<path color="#00c000" d="M800 195l5-4-5-5-6 4z"/>
<path color="#00bc14" d="M811 197l5-4-5-5-6 3z"/>
<path color="#00b82a" d="M822 199l6-3-6-6-6 3z"/>
<path color="#000f13" d="M677 213l5-4-5 1-6 3z"/>
<path color="#003633" d="M688 209l5-4-5 0-6 4z"/>
<path color="#006144" d="M699 205l5-4-5 0-6 4z"/>
<path color="#00853e" d="M710 202l6-5-6-1-6 5z"/>
<path color="#009e29" d="M721 198l6-5-6-1-5 5z"/>
<path color="#00af0f" d="M732 196l6-5-6-3-5 5z"/>
<path color="#07b900" d="M744 194l5-5-5-4-6 6z"/>
<path color="#16bf00" d="M755 193l5-5-5-4-6 5z"/>
<path color="#000235" d="M605 229l5-2-5-2-6 2z"/>
<path color="#000327" d="M616 228l5-2-5-1-6 2z"/>
<path color="#000317" d="M627 227l5-3-5 0-6 2z"/>
<path color="#000209" d="M638 225l5-3-5 0-6 2z"/>
<path color="#000001" d="M649 223l5-3-5 0-6 2z"/>
<path color="#000001" d="M660 220l6-3-6 0-6 3z"/>
<path color="#00080b" d="M671 216l6-3-6 0-5 4z"/>
<path color="#002527" d="M682 213l6-4-6 0-5 4z"/>
<path color="#005043" d="M693 209l6-4-6 0-5 4z"/>
<path color="#00774a" d="M704 206l6-4-6-1-5 4z"/>
<path color="#00943f" d="M716 203l5-5-5-1-6 5z"/>
<path color="#00a72c" d="M727 200l5-4-5-3-6 5z"/>
<path color="#00b319" d="M738 199l6-5-6-3-6 5z"/>
<path color="#00bb0b" d="M749 198l6-5-6-4-5 5z"/>
<path color="#00bf04" d="M760 197l6-4-6-5-5 5z"/>
<path color="#00c104" d="M772 197l5-4-5-5-6 5z"/>
<path color="#00c20b" d="M783 198l5-4-5-6-6 5z"/>
<path color="#00c117" d="M794 199l6-4-6-5-6 4z"/>
<path color="#00bf28" d="M805 201l6-4-6-6-5 4z"/>
<path color="#00bc3a" d="M816 202l6-3-6-6-5 4z"/>
<path color="#00b94f" d="M827 204l6-3-5-5-6 3z"/>
<path color="#000238" d="M599 231l6-2-6-2-5 2z"/>
<path color="#00032b" d="M610 230l6-2-6-1-5 2z"/>
<path color="#00031a" d="M621 229l6-2-6-1-5 2z"/>
<path color="#00020b" d="M632 227l6-2-6-1-5 3z"/>
<path color="#000102" d="M643 225l6-2-6-1-5 3z"/>
<path color="#000000" d="M654 223l6-3-6 0-5 3z"/>
<path color="#000305" d="M666 220l5-4-5 1-6 3z"/>
<path color="#00161a" d="M677 216l5-3-5 0-6 3z"/>
<path color="#00403c" d="M688 213l5-4-5 0-6 4z"/>
<path color="#00674e" d="M699 210l5-4-5-1-6 4z"/>
<path color="#00874e" d="M710 207l6-4-6-1-6 4z"/>
<path color="#009e43" d="M721 205l6-5-6-2-5 5z"/>
<path color="#00ad34" d="M732 203l6-4-6-3-5 4z"/>
<path color="#00b629" d="M744 202l5-4-5-4-6 5z"/>
<path color="#00bc22" d="M755 202l5-5-5-4-6 5z"/>
<path color="#00bf21" d="M766 202l6-5-6-4-6 4z"/>
<path color="#00c026" d="M777 202l6-4-6-5-5 4z"/>
<path color="#00c030" d="M788 203l6-4-6-5-5 4z"/>
<path color="#00c03d" d="M800 204l5-3-5-6-6 4z"/>
<path color="#00be4e" d="M811 206l5-4-5-5-6 4z"/>
<path color="#00bc60" d="M822 208l5-4-5-5-6 3z"/>
<path color="#00b972" d="M833 210l6-4-6-5-6 3z"/>
<path color="#000000" d="M649 225l5-2-5 0-6 2z"/>
<path color="#00bf48" d="M783 207l5-4-5-5-6 4z"/>
<path color="#00023a" d="M594 233l5-2-5-2-6 2z"/>
<path color="#00032d" d="M605 232l5-2-5-1-6 2z"/>
<path color="#00031d" d="M616 231l5-2-5-1-6 2z"/>
<path color="#00030d" d="M627 230l5-3-5 0-6 2z"/>
<path color="#000102" d="M638 228l5-3-5 0-6 2z"/>
<path color="#000001" d="M660 222l6-2-6 0-6 3z"/>
<path color="#000c0f" d="M671 219l6-3-6 0-5 4z"/>
<path color="#002e30" d="M682 216l6-3-6 0-5 3z"/>
<path color="#00574c" d="M693 214l6-4-6-1-5 4z"/>
<path color="#007a55" d="M704 211l6-4-6-1-5 4z"/>
<path color="#009452" d="M716 209l5-4-5-2-6 4z"/>
<path color="#00a54a" d="M727 207l5-4-5-3-6 5z"/>
<path color="#00b041" d="M738 206l6-4-6-3-6 4z"/>
<path color="#00b73c" d="M749 206l6-4-6-4-5 4z"/>
<path color="#00bb3b" d="M760 206l6-4-6-5-5 5z"/>
<path color="#00be3f" d="M772 206l5-4-5-5-6 5z"/>
<path color="#00bf54" d="M794 208l6-4-6-5-6 4z"/>
<path color="#00be62" d="M805 210l6-4-6-5-5 3z"/>
<path color="#00bd72" d="M816 211l6-3-6-6-5 4z"/>
<path color="#00bb83" d="M827 213l6-3-6-6-5 4z"/>
<path color="#00b895" d="M839 215l5-4-5-5-6 4z"/>
<path color="#00023d" d="M588 235l6-2-6-2-6 2z"/>
<path color="#000330" d="M599 234l6-2-6-1-5 2z"/>
<path color="#00031f" d="M610 233l6-2-6-1-5 2z"/>
<path color="#00030e" d="M621 232l6-2-6-1-5 2z"/>
<path color="#000102" d="M632 230l6-2-6-1-5 3z"/>
<path color="#000000" d="M643 228l6-3-6 0-5 3z"/>
<path color="#00bd69" d="M788 212l6-4-6-5-5 4z"/>
<path color="#00bd76" d="M800 213l5-3-5-6-6 4z"/>
<path color="#00bc85" d="M811 215l5-4-5-5-6 4z"/>
<path color="#00bb95" d="M822 216l5-3-5-5-6 3z"/>
<path color="#00b9a5" d="M833 218l6-3-6-5-6 3z"/>
<path color="#00b7b5" d="M844 220l6-4-6-5-5 4z"/>
<path color="#000000" d="M654 225l6-3-6 1-5 2z"/>
<path color="#000507" d="M666 222l5-3-5 1-6 2z"/>
<path color="#001d21" d="M677 220l5-4-5 0-6 3z"/>
<path color="#004744" d="M688 217l5-3-5-1-6 3z"/>
<path color="#006c57" d="M699 215l5-4-5-1-6 4z"/>
<path color="#00885c" d="M710 213l6-4-6-2-6 4z"/>
<path color="#009c59" d="M721 211l6-4-6-2-5 4z"/>
<path color="#00a954" d="M732 210l6-4-6-3-5 4z"/>
<path color="#00b251" d="M744 210l5-4-5-4-6 4z"/>
<path color="#00b752" d="M755 210l5-4-5-4-6 4z"/>
<path color="#00bb56" d="M766 210l6-4-6-4-6 4z"/>
<path color="#00bc5e" d="M777 211l6-4-6-5-5 4z"/>
<path color="#00023f" d="M582 237l6-2-6-2-5 2z"/>
<path color="#000332" d="M593 236l6-2-5-1-6 2z"/>
<path color="#000321" d="M605 235l5-2-5-1-6 2z"/>
<path color="#000310" d="M616 234l5-2-5-1-6 2z"/>
<path color="#000103" d="M627 232l5-2-5 0-6 2z"/>
<path color="#000000" d="M638 230l5-2-5 0-6 2z"/>
<path color="#000000" d="M649 228l5-3-5 0-6 3z"/>
<path color="#000101" d="M660 225l6-3-6 0-6 3z"/>
<path color="#001014" d="M671 223l6-3-6-1-5 3z"/>
<path color="#003537" d="M682 220l6-3-6-1-5 4z"/>
<path color="#005c52" d="M693 218l6-3-6-1-5 3z"/>
<path color="#007b5f" d="M704 216l6-3-6-2-5 4z"/>
<path color="#009263" d="M716 215l5-4-5-2-6 4z"/>
<path color="#00a263" d="M727 214l5-4-5-3-6 4z"/>
<path color="#00ac62" d="M738 214l6-4-6-4-6 4z"/>
<path color="#00b364" d="M749 214l6-4-6-4-5 4z"/>
<path color="#00b769" d="M760 214l6-4-6-4-5 4z"/>
<path color="#00b971" d="M772 215l5-4-5-5-6 4z"/>
<path color="#00bb7c" d="M783 216l5-4-5-5-6 4z"/>
<path color="#00bb88" d="M794 217l6-4-6-5-6 4z"/>
<path color="#00bb96" d="M805 219l6-4-6-5-5 3z"/>
<path color="#00baa5" d="M816 220l6-4-6-5-5 4z"/>
<path color="#00b9b4" d="M827 222l6-4-6-5-5 3z"/>
<path color="#00abb7" d="M838 223l6-3-5-5-6 3z"/>
<path color="#0099b5" d="M850 225l5-4-5-5-6 4z"/>
<path color="#000240" d="M577 239l5-2-5-2-6 2z"/>
<path color="#000334" d="M588 238l5-2-5-1-6 2z"/>
<path color="#000323" d="M599 237l6-2-6-1-6 2z"/>
<path color="#000311" d="M610 236l6-2-6-1-5 2z"/>
<path color="#000102" d="M621 235l6-3-6 0-5 2z"/>
<path color="#000000" d="M632 233l6-3-6 0-5 2z"/>
<path color="#000709" d="M665 225l6-2-5-1-6 3z"/>
<path color="#002327" d="M677 223l5-3-5 0-6 3z"/>
<path color="#004c49" d="M688 221l5-3-5-1-6 3z"/>
<path color="#006e5e" d="M699 219l5-3-5-1-6 3z"/>
<path color="#008768" d="M710 218l6-3-6-2-6 3z"/>
<path color="#00996c" d="M721 217l6-3-6-3-5 4z"/>
<path color="#00a56f" d="M732 217l6-3-6-4-5 4z"/>
<path color="#00ad73" d="M744 217l5-3-5-4-6 4z"/>
<path color="#00b279" d="M755 218l5-4-5-4-6 4z"/>
<path color="#00b681" d="M766 218l6-3-6-5-6 4z"/>
<path color="#00b9a6" d="M799 222l6-3-5-6-6 4z"/>
<path color="#00b8b4" d="M811 223l5-3-5-5-6 4z"/>
<path color="#00adb8" d="M822 225l5-3-5-6-6 4z"/>
<path color="#009cb6" d="M833 226l5-3-5-5-6 4z"/>
<path color="#008bb4" d="M844 228l6-3-6-5-6 3z"/>
<path color="#007ab2" d="M855 229l6-3-6-5-5 4z"/>
<path color="#000000" d="M643 230l6-2-6 0-5 2z"/>
<path color="#000000" d="M654 228l6-3-6 0-5 3z"/>
<path color="#00b88c" d="M777 219l6-3-6-5-5 4z"/>
<path color="#00b998" d="M788 221l6-4-6-5-5 4z"/>
<path color="#000242" d="M571 241l6-2-6-2-5 2z"/>
<path color="#000336" d="M582 240l6-2-6-1-5 2z"/>
<path color="#000324" d="M593 240l6-3-6-1-5 2z"/>
<path color="#000311" d="M604 238l6-2-5-1-6 2z"/>
<path color="#000102" d="M616 237l5-2-5-1-6 2z"/>
<path color="#000000" d="M627 235l5-2-5-1-6 3z"/>
<path color="#000000" d="M638 233l5-3-5 0-6 3z"/>
<path color="#000000" d="M649 230l5-2-5 0-6 2z"/>
<path color="#000101" d="M660 228l5-3-5 0-6 3z"/>
<path color="#001418" d="M671 226l6-3-6 0-6 2z"/>
<path color="#003b3c" d="M682 224l6-3-6-1-5 3z"/>
<path color="#005f57" d="M693 222l6-3-6-1-5 3z"/>
<path color="#007b67" d="M705 221l5-3-6-2-5 3z"/>
<path color="#009071" d="M716 220l5-3-5-2-6 3z"/>
<path color="#009d77" d="M727 220l5-3-5-3-6 3z"/>
<path color="#00a77d" d="M738 220l6-3-6-3-6 3z"/>
<path color="#00ad85" d="M749 221l6-3-6-4-5 3z"/>
<path color="#00b18e" d="M760 222l6-4-6-4-5 4z"/>
<path color="#00b499" d="M772 223l5-4-5-4-6 3z"/>
<path color="#00b5a6" d="M783 224l5-3-5-5-6 3z"/>
<path color="#00b6b3" d="M794 225l5-3-5-5-6 4z"/>
<path color="#00abb6" d="M805 227l6-4-6-4-6 3z"/>
<path color="#009db5" d="M816 228l6-3-6-5-5 3z"/>
<path color="#008db4" d="M827 230l6-4-6-4-5 3z"/>
<path color="#007db3" d="M838 231l6-3-6-5-5 3z"/>
<path color="#006eb1" d="M850 232l5-3-5-4-6 3z"/>
<path color="#005eae" d="M861 234l5-3-5-5-6 3z"/>
<path color="#000244" d="M566 243l5-2-5-2-6 2z"/>
<path color="#000337" d="M577 242l5-2-5-1-6 2z"/>
<path color="#000325" d="M588 242l5-2-5-2-6 2z"/>
<path color="#000311" d="M599 240l5-2-5-1-6 3z"/>
<path color="#000002" d="M610 239l6-2-6-1-6 2z"/>
<path color="#000000" d="M621 237l6-2-6 0-5 2z"/>
<path color="#008db3" d="M811 231l5-3-5-5-6 4z"/>
<path color="#007fb2" d="M822 233l5-3-5-5-6 3z"/>
<path color="#0070b0" d="M833 234l5-3-5-5-6 4z"/>
<path color="#0061ae" d="M844 235l6-3-6-4-6 3z"/>
<path color="#0053ac" d="M855 237l6-3-6-5-5 3z"/>
<path color="#0046a8" d="M866 238l6-3-6-4-5 3z"/>
<path color="#000000" d="M632 235l6-2-6 0-5 2z"/>
<path color="#000000" d="M643 233l6-3-6 0-5 3z"/>
<path color="#000000" d="M654 230l6-2-6 0-5 2z"/>
<path color="#00090b" d="M665 228l6-2-6-1-5 3z"/>
<path color="#00292b" d="M677 226l5-2-5-1-6 3z"/>
<path color="#00504d" d="M688 225l5-3-5-1-6 3z"/>
<path color="#006f63" d="M699 224l6-3-6-2-6 3z"/>
<path color="#008571" d="M710 223l6-3-6-2-5 3z"/>
<path color="#00957b" d="M721 223l6-3-6-3-5 3z"/>
<path color="#00a084" d="M732 224l6-4-6-3-5 3z"/>
<path color="#00a88d" d="M744 224l5-3-5-4-6 3z"/>
<path color="#00ad98" d="M755 225l5-3-5-4-6 3z"/>
<path color="#00b0a3" d="M766 226l6-3-6-5-6 4z"/>
<path color="#00b2b0" d="M777 227l6-3-6-5-5 4z"/>
<path color="#00a8b3" d="M788 229l6-4-6-4-5 3z"/>
<path color="#009bb3" d="M799 230l6-3-6-5-5 3z"/>
<path color="#000245" d="M560 245l6-2-6-2-6 2z"/>
<path color="#000338" d="M571 245l6-3-6-1-5 2z"/>
<path color="#000326" d="M582 244l6-2-6-2-5 2z"/>
<path color="#000311" d="M593 243l6-3-6 0-5 2z"/>
<path color="#000001" d="M604 241l6-2-6-1-5 2z"/>
<path color="#000000" d="M615 239l6-2-5 0-6 2z"/>
<path color="#000000" d="M627 237l5-2-5 0-6 2z"/>
<path color="#000000" d="M638 235l5-2-5 0-6 2z"/>
<path color="#000000" d="M649 233l5-3-5 0-6 3z"/>
<path color="#000101" d="M660 231l5-3-5 0-6 2z"/>
<path color="#00191b" d="M671 229l6-3-6 0-6 2z"/>
<path color="#003f40" d="M682 227l6-2-6-1-5 2z"/>
<path color="#00615b" d="M693 227l6-3-6-2-5 3z"/>
<path color="#007a6e" d="M705 226l5-3-5-2-6 3z"/>
<path color="#008d7b" d="M716 226l5-3-5-3-6 3z"/>
<path color="#009987" d="M727 226l5-2-5-4-6 3z"/>
<path color="#00a292" d="M738 227l6-3-6-4-6 4z"/>
<path color="#00a79e" d="M749 228l6-3-6-4-5 3z"/>
<path color="#00abab" d="M760 229l6-3-6-4-5 3z"/>
<path color="#00a4ae" d="M772 230l5-3-5-4-6 3z"/>
<path color="#0099af" d="M783 232l5-3-5-5-6 3z"/>
<path color="#008db0" d="M794 233l5-3-5-5-6 4z"/>
<path color="#007faf" d="M805 234l6-3-6-4-6 3z"/>
<path color="#0072af" d="M816 236l6-3-6-5-5 3z"/>
<path color="#0064ad" d="M827 237l6-3-6-4-5 3z"/>
<path color="#0056ab" d="M838 238l6-3-6-4-5 3z"/>
<path color="#0049a8" d="M850 239l5-2-5-5-6 3z"/>
<path color="#003da5" d="M861 240l5-2-5-4-6 3z"/>
<path color="#0032a1" d="M872 241l5-2-5-4-6 3z"/>
<path color="#000247" d="M554 247l6-2-6-2-5 2z"/>
<path color="#000339" d="M566 247l5-2-5-2-6 2z"/>
<path color="#000327" d="M577 246l5-2-5-2-6 3z"/>
<path color="#000211" d="M588 245l5-2-5-1-6 2z"/>
<path color="#000000" d="M599 243l5-2-5-1-6 3z"/>
<path color="#000000" d="M610 241l5-2-5 0-6 2z"/>
<path color="#005250" d="M688 229l5-2-5-2-6 2z"/>
<path color="#006f67" d="M699 229l6-3-6-2-6 3z"/>
<path color="#008379" d="M710 229l6-3-6-3-5 3z"/>
<path color="#009187" d="M721 229l6-3-6-3-5 3z"/>
<path color="#009b94" d="M732 230l6-3-6-3-5 2z"/>
<path color="#00a2a1" d="M744 231l5-3-5-4-6 3z"/>
<path color="#0059aa" d="M822 240l5-3-5-4-6 3z"/>
<path color="#004ca8" d="M833 241l5-3-5-4-6 3z"/>
<path color="#0040a5" d="M844 242l6-3-6-4-6 3z"/>
<path color="#0035a2" d="M855 243l6-3-6-3-5 2z"/>
<path color="#002a9d" d="M866 244l6-3-6-3-5 2z"/>
<path color="#002198" d="M877 245l6-3-6-3-5 2z"/>
<path color="#000000" d="M621 239l6-2-6 0-6 2z"/>
<path color="#000000" d="M632 237l6-2-6 0-5 2z"/>
<path color="#000000" d="M643 235l6-2-6 0-5 2z"/>
<path color="#000000" d="M654 233l6-2-6-1-5 3z"/>
<path color="#000b0c" d="M665 231l6-2-6-1-5 3z"/>
<path color="#002d2f" d="M677 230l5-3-5-1-6 3z"/>
<path color="#009ea7" d="M755 232l5-3-5-4-6 3z"/>
<path color="#0096aa" d="M766 233l6-3-6-4-6 3z"/>
<path color="#008cab" d="M777 234l6-2-6-5-5 3z"/>
<path color="#0080ac" d="M788 236l6-3-6-4-5 3z"/>
<path color="#0073ac" d="M799 237l6-3-6-4-5 3z"/>
<path color="#0066ab" d="M811 239l5-3-5-5-6 3z"/>
<path color="#00033a" d="M560 249l6-2-6-2-6 2z"/>
<path color="#000427" d="M571 248l6-2-6-1-5 2z"/>
<path color="#000210" d="M582 247l6-2-6-1-5 2z"/>
<path color="#000000" d="M593 245l6-2-6 0-5 2z"/>
<path color="#000000" d="M604 243l6-2-6 0-5 2z"/>
<path color="#000000" d="M626 239l6-2-5 0-6 2z"/>
<path color="#000000" d="M638 237l5-2-5 0-6 2z"/>
<path color="#000000" d="M649 235l5-2-5 0-6 2z"/>
<path color="#000102" d="M660 233l5-2-5 0-6 2z"/>
<path color="#001d1e" d="M671 232l6-2-6-1-6 2z"/>
<path color="#004342" d="M682 231l6-2-6-2-5 3z"/>
<path color="#00625e" d="M693 231l6-2-6-2-5 2z"/>
<path color="#007973" d="M705 231l5-2-5-3-6 3z"/>
<path color="#008984" d="M716 232l5-3-5-3-6 3z"/>
<path color="#009593" d="M727 232l5-2-5-4-6 3z"/>
<path color="#00969c" d="M738 233l6-2-6-4-6 3z"/>
<path color="#0092a2" d="M749 235l6-3-6-4-5 3z"/>
<path color="#008ba5" d="M760 236l6-3-6-4-5 3z"/>
<path color="#0081a7" d="M772 237l5-3-5-4-6 3z"/>
<path color="#0075a8" d="M783 239l5-3-5-4-6 2z"/>
<path color="#0069a8" d="M794 240l5-3-5-4-6 3z"/>
<path color="#005ca8" d="M805 241l6-2-6-5-6 3z"/>
<path color="#0043a4" d="M827 244l6-3-6-4-5 3z"/>
<path color="#0038a1" d="M838 245l6-3-6-4-5 3z"/>
<path color="#002e9e" d="M850 246l5-3-5-4-6 3z"/>
<path color="#002499" d="M861 247l5-3-5-4-6 3z"/>
<path color="#001c94" d="M872 247l5-2-5-4-6 3z"/>
<path color="#000000" d="M615 241l6-2-6 0-5 2z"/>
<path color="#004fa6" d="M816 243l6-3-6-4-5 3z"/>
<path color="#000427" d="M565 250l6-2-5-1-6 2z"/>
<path color="#00020f" d="M576 249l6-2-5-1-6 2z"/>
<path color="#000000" d="M588 247l5-2-5 0-6 2z"/>
<path color="#000000" d="M599 245l5-2-5 0-6 2z"/>
<path color="#006e6a" d="M699 233l6-2-6-2-6 2z"/>
<path color="#00807e" d="M710 234l6-2-6-3-5 2z"/>
<path color="#008b8d" d="M721 235l6-3-6-3-5 3z"/>
<path color="#008c96" d="M733 236l5-3-6-3-5 2z"/>
<path color="#00319e" d="M833 247l5-2-5-4-6 3z"/>
<path color="#00289a" d="M844 248l6-2-6-4-6 3z"/>
<path color="#001f95" d="M855 249l6-2-6-4-5 3z"/>
<path color="#001890" d="M866 250l6-3-6-3-5 3z"/>
<path color="#000000" d="M610 243l5-2-5 0-6 2z"/>
<path color="#000000" d="M621 241l5-2-5 0-6 2z"/>
<path color="#000000" d="M632 239l6-2-6 0-6 2z"/>
<path color="#000000" d="M643 237l6-2-6 0-5 2z"/>
<path color="#000000" d="M654 235l6-2-6 0-5 2z"/>
<path color="#000d0e" d="M665 234l6-2-6-1-5 2z"/>
<path color="#003232" d="M677 233l5-2-5-1-6 2z"/>
<path color="#005452" d="M688 233l5-2-5-2-6 2z"/>
<path color="#00889c" d="M744 237l5-2-5-4-6 2z"/>
<path color="#0081a1" d="M755 238l5-2-5-4-6 3z"/>
<path color="#0077a3" d="M766 240l6-3-6-4-6 3z"/>
<path color="#006ca4" d="M777 241l6-2-6-5-5 3z"/>
<path color="#0060a5" d="M788 243l6-3-6-4-5 3z"/>
<path color="#0053a4" d="M799 244l6-3-6-4-5 3z"/>
<path color="#0047a3" d="M811 245l5-2-5-4-6 2z"/>
<path color="#003ca0" d="M822 246l5-2-5-4-6 3z"/>
<path color="#00020f" d="M571 251l5-2-5-1-6 2z"/>
<path color="#000000" d="M582 249l6-2-6 0-6 2z"/>
<path color="#000000" d="M593 247l6-2-6 0-5 2z"/>
<path color="#000000" d="M637 239l6-2-5 0-6 2z"/>
<path color="#000000" d="M649 237l5-2-5 0-6 2z"/>
<path color="#000202" d="M660 236l5-2-5-1-6 2z"/>
<path color="#002121" d="M671 235l6-2-6-1-6 2z"/>
<path color="#004543" d="M682 235l6-2-6-2-5 2z"/>
<path color="#00625f" d="M693 235l6-2-6-2-5 2z"/>
<path color="#007776" d="M705 236l5-2-5-3-6 2z"/>
<path color="#008186" d="M716 237l5-2-5-3-6 2z"/>
<path color="#008490" d="M727 238l6-2-6-4-6 3z"/>
<path color="#008097" d="M738 239l6-2-6-4-5 3z"/>
<path color="#00799c" d="M749 241l6-3-6-3-5 2z"/>
<path color="#006f9f" d="M760 242l6-2-6-4-5 2z"/>
<path color="#0064a0" d="M772 244l5-3-5-4-6 3z"/>
<path color="#0058a1" d="M783 245l5-2-5-4-6 2z"/>
<path color="#004ca0" d="M794 247l5-3-5-4-6 3z"/>
<path color="#002396" d="M838 251l6-3-6-3-5 2z"/>
<path color="#001b92" d="M850 252l5-3-5-3-6 2z"/>
<path color="#00148c" d="M861 252l5-2-5-3-6 2z"/>
<path color="#000000" d="M604 245l6-2-6 0-5 2z"/>
<path color="#000000" d="M615 243l6-2-6 0-5 2z"/>
<path color="#000000" d="M626 241l6-2-6 0-5 2z"/>
<path color="#00419f" d="M805 248l6-3-6-4-6 3z"/>
<path color="#00369d" d="M816 249l6-3-6-3-5 2z"/>
<path color="#002c9a" d="M827 250l6-3-6-3-5 2z"/>
<path color="#000000" d="M576 251l6-2-6 0-5 2z"/>
<path color="#000000" d="M587 249l6-2-5 0-6 2z"/>
<path color="#00797e" d="M710 239l6-2-6-3-5 2z"/>
<path color="#007c8a" d="M721 240l6-2-6-3-5 2z"/>
<path color="#00178e" d="M844 254l6-2-6-4-6 3z"/>
<path color="#001189" d="M855 255l6-3-6-3-5 3z"/>
<path color="#000000" d="M599 247l5-2-5 0-6 2z"/>
<path color="#000000" d="M610 245l5-2-5 0-6 2z"/>
<path color="#000000" d="M621 242l5-1-5 0-6 2z"/>
<path color="#000000" d="M632 240l5-1-5 0-6 2z"/>
<path color="#000000" d="M643 239l6-2-6 0-6 2z"/>
<path color="#000000" d="M654 238l6-2-6-1-5 2z"/>
<path color="#001010" d="M665 237l6-2-6-1-5 2z"/>
<path color="#003432" d="M677 237l5-2-5-2-6 2z"/>
<path color="#005552" d="M688 237l5-2-5-2-6 2z"/>
<path color="#006d6c" d="M699 238l6-2-6-3-6 2z"/>
<path color="#007a92" d="M733 242l5-3-5-3-6 2z"/>
<path color="#007397" d="M744 243l5-2-5-4-6 2z"/>
<path color="#00699b" d="M755 245l5-3-5-4-6 3z"/>
<path color="#005e9d" d="M766 246l6-2-6-4-6 2z"/>
<path color="#00529d" d="M777 248l6-3-6-4-5 3z"/>
<path color="#00479d" d="M788 249l6-2-6-4-5 2z"/>
<path color="#003b9c" d="M799 250l6-2-6-4-5 3z"/>
<path color="#003199" d="M811 251l5-2-5-4-6 3z"/>
<path color="#002796" d="M822 252l5-2-5-4-6 3z"/>
<path color="#001f93" d="M833 253l5-2-5-4-6 3z"/>
<path color="#000000" d="M582 251l5-2-5 0-6 2z"/>
<path color="#000000" d="M649 239l5-1-5-1-6 2z"/>
<path color="#000303" d="M660 238l5-1-5-1-6 2z"/>
<path color="#002321" d="M671 238l6-1-6-2-6 2z"/>
<path color="#004643" d="M682 239l6-2-6-2-5 2z"/>
<path color="#006260" d="M693 240l6-2-6-3-5 2z"/>
<path color="#007175" d="M705 241l5-2-5-3-6 2z"/>
<path color="#007683" d="M716 242l5-2-5-3-6 2z"/>
<path color="#00748c" d="M727 244l6-2-6-4-6 2z"/>
<path color="#006e93" d="M738 245l6-2-6-4-5 3z"/>
<path color="#006597" d="M749 247l6-2-6-4-5 2z"/>
<path color="#005a99" d="M760 249l6-3-6-4-5 3z"/>
<path color="#004e9a" d="M772 250l5-2-5-4-6 2z"/>
<path color="#00429a" d="M783 251l5-2-5-4-6 3z"/>
<path color="#000f86" d="M850 257l5-2-5-3-6 2z"/>
<path color="#000000" d="M593 249l6-2-6 0-6 2z"/>
<path color="#000000" d="M604 246l6-1-6 0-5 2z"/>
<path color="#000000" d="M615 244l6-2-6 1-5 2z"/>
<path color="#000000" d="M626 242l6-2-6 1-5 1z"/>
<path color="#000000" d="M637 240l6-1-6 0-5 1z"/>
<path color="#003799" d="M794 253l5-3-5-3-6 2z"/>
<path color="#002d96" d="M805 254l6-3-6-3-6 2z"/>
<path color="#002393" d="M816 255l6-3-6-3-5 2z"/>
<path color="#001b90" d="M827 256l6-3-6-3-5 2z"/>
<path color="#00158b" d="M838 256l6-2-6-3-5 2z"/>
<path color="#000000" d="M587 251l6-2-6 0-5 2z"/>
<path color="#000000" d="M598 248l6-2-5 1-6 2z"/>
<path color="#000000" d="M609 246l6-2-5 1-6 1z"/>
<path color="#000000" d="M621 244l5-2-5 0-6 2z"/>
<path color="#000000" d="M632 242l5-2-5 0-6 2z"/>
<path color="#000000" d="M643 241l6-2-6 0-6 1z"/>
<path color="#000000" d="M654 240l6-2-6 0-5 1z"/>
<path color="#001210" d="M665 240l6-2-6-1-5 1z"/>
<path color="#003632" d="M677 240l5-1-5-2-6 1z"/>
<path color="#005552" d="M688 241l5-1-5-3-6 2z"/>
<path color="#006a6c" d="M699 242l6-1-6-3-6 2z"/>
<path color="#00717b" d="M710 244l6-2-6-3-5 2z"/>
<path color="#007086" d="M721 246l6-2-6-4-5 2z"/>
<path color="#006a8e" d="M733 247l5-2-5-3-6 2z"/>
<path color="#006193" d="M744 249l5-2-5-4-6 2z"/>
<path color="#005695" d="M755 251l5-2-5-4-6 2z"/>
<path color="#004b97" d="M766 252l6-2-6-4-6 3z"/>
<path color="#003f97" d="M777 254l6-3-6-3-5 2z"/>
<path color="#003496" d="M788 255l6-2-6-4-5 2z"/>
<path color="#002a94" d="M799 256l6-2-6-4-5 3z"/>
<path color="#002191" d="M811 257l5-2-5-4-6 3z"/>
<path color="#00198d" d="M822 258l5-2-5-4-6 3z"/>
<path color="#001288" d="M833 259l5-3-5-3-6 3z"/>
<path color="#000d83" d="M844 259l6-2-6-3-6 2z"/>
<path color="#000404" d="M660 241l5-1-5-2-6 2z"/>
<path color="#002521" d="M671 242l6-2-6-2-6 2z"/>
<path color="#004742" d="M682 243l6-2-6-2-5 1z"/>
<path color="#006160" d="M693 244l6-2-6-2-5 1z"/>
<path color="#006c73" d="M705 246l5-2-5-3-6 1z"/>
<path color="#006889" d="M727 249l6-2-6-3-6 2z"/>
<path color="#005f8e" d="M738 251l6-2-6-4-5 2z"/>
<path color="#005492" d="M749 253l6-2-6-4-5 2z"/>
<path color="#004894" d="M760 255l6-3-6-3-5 2z"/>
<path color="#003d94" d="M772 256l5-2-5-4-6 2z"/>
<path color="#000000" d="M593 250l5-2-5 1-6 2z"/>
<path color="#000000" d="M604 247l5-1-5 0-6 2z"/>
<path color="#000000" d="M615 245l6-1-6 0-6 2z"/>
<path color="#000000" d="M626 243l6-1-6 0-5 2z"/>
<path color="#000000" d="M637 242l6-1-6-1-5 2z"/>
<path color="#000000" d="M648 241l6-1-5-1-6 2z"/>
<path color="#006d80" d="M716 247l5-1-5-4-6 2z"/>
<path color="#003193" d="M783 257l5-2-5-4-6 3z"/>
<path color="#002791" d="M794 259l5-3-5-3-6 2z"/>
<path color="#001e8e" d="M805 260l6-3-6-3-6 2z"/>
<path color="#00178b" d="M816 260l6-2-6-3-5 2z"/>
<path color="#001186" d="M827 261l6-2-6-3-5 2z"/>
<path color="#000c81" d="M839 262l5-3-6-3-5 3z"/>
<path color="#000000" d="M598 249l6-2-6 1-5 2z"/>
<path color="#000000" d="M609 247l6-2-6 1-5 1z"/>
<path color="#000000" d="M620 245l6-2-5 1-6 1z"/>
<path color="#000000" d="M632 243l5-1-5 0-6 1z"/>
<path color="#000000" d="M643 242l5-1-5 0-6 1z"/>
<path color="#000000" d="M654 242l6-1-6-1-6 1z"/>
<path color="#001411" d="M665 243l6-1-6-2-5 1z"/>
<path color="#003832" d="M677 244l5-1-5-3-6 2z"/>
<path color="#005551" d="M688 245l5-1-5-3-6 2z"/>
<path color="#00676a" d="M699 247l6-1-6-4-6 2z"/>
<path color="#006a79" d="M710 249l6-2-6-3-5 2z"/>
<path color="#006683" d="M721 251l6-2-6-3-5 1z"/>
<path color="#005e8a" d="M733 253l5-2-5-4-6 2z"/>
<path color="#00538f" d="M744 255l5-2-5-4-6 2z"/>
<path color="#004791" d="M755 257l5-2-5-4-6 2z"/>
<path color="#003b92" d="M766 258l6-2-6-4-6 3z"/>
<path color="#003091" d="M777 260l6-3-6-3-5 2z"/>
<path color="#00268f" d="M788 261l6-2-6-4-5 2z"/>
<path color="#001d8d" d="M800 262l5-2-6-4-5 3z"/>
<path color="#001589" d="M811 263l5-3-5-3-6 3z"/>
<path color="#001085" d="M822 263l5-2-5-3-6 2z"/>
<path color="#000b80" d="M833 264l6-2-6-3-6 2z"/>
<path color="#002822" d="M671 245l6-1-6-2-6 1z"/>
<path color="#004842" d="M682 246l6-1-6-2-5 1z"/>
<path color="#006160" d="M693 248l6-1-6-3-5 1z"/>
<path color="#00538b" d="M738 257l6-2-6-4-5 2z"/>
<path color="#00478e" d="M749 259l6-2-6-4-5 2z"/>
<path color="#003b8f" d="M761 260l5-2-6-3-5 2z"/>
<path color="#000000" d="M604 248l5-1-5 0-6 2z"/>
<path color="#000000" d="M615 246l5-1-5 0-6 2z"/>
<path color="#000000" d="M626 244l6-1-6 0-6 2z"/>
<path color="#000000" d="M637 244l6-2-6 0-5 1z"/>
<path color="#000000" d="M648 243l6-1-6-1-5 1z"/>
<path color="#000705" d="M660 244l5-1-5-2-6 1z"/>
<path color="#006772" d="M705 250l5-1-5-3-6 1z"/>
<path color="#00657e" d="M716 253l5-2-5-4-6 2z"/>
<path color="#005e86" d="M727 255l6-2-6-4-6 2z"/>
<path color="#002f8f" d="M772 262l5-2-5-4-6 2z"/>
<path color="#00258e" d="M783 263l5-2-5-4-6 3z"/>
<path color="#001c8b" d="M794 264l6-2-6-3-6 2z"/>
<path color="#001588" d="M805 265l6-2-6-3-5 2z"/>
<path color="#000f83" d="M816 266l6-3-6-3-5 3z"/>
<path color="#000a7f" d="M827 266l6-2-6-3-5 2z"/>
<path color="#000000" d="M609 248l6-2-6 1-5 1z"/>
<path color="#000000" d="M620 246l6-2-6 1-5 1z"/>
<path color="#000000" d="M632 245l5-1-5-1-6 1z"/>
<path color="#000000" d="M643 244l5-1-5-1-6 2z"/>
<path color="#000000" d="M654 245l6-1-6-2-6 1z"/>
<path color="#001813" d="M665 246l6-1-6-2-5 1z"/>
<path color="#003a32" d="M677 247l5-1-5-2-6 1z"/>
<path color="#005651" d="M688 249l5-1-5-3-6 1z"/>
<path color="#006469" d="M699 252l6-2-6-3-6 1z"/>
<path color="#006477" d="M710 254l6-1-6-4-5 1z"/>
<path color="#005e81" d="M721 256l6-1-6-4-5 2z"/>
<path color="#005488" d="M733 258l5-1-5-4-6 2z"/>
<path color="#00488b" d="M744 260l5-1-5-4-6 2z"/>
<path color="#003b8d" d="M755 262l6-2-6-3-6 2z"/>
<path color="#002f8d" d="M766 264l6-2-6-4-5 2z"/>
<path color="#00258c" d="M777 265l6-2-6-3-5 2z"/>
<path color="#001b8a" d="M788 266l6-2-6-3-5 2z"/>
<path color="#001487" d="M800 267l5-2-5-3-6 2z"/>
<path color="#000e83" d="M811 268l5-2-5-3-6 2z"/>
<path color="#000a7e" d="M822 268l5-2-5-3-6 3z"/>
<path color="#004a41" d="M682 250l6-1-6-3-5 1z"/>
<path color="#003c8b" d="M749 264l6-2-6-3-5 1z"/>
<path color="#000000" d="M615 247l5-1-5 0-6 2z"/>
<path color="#000000" d="M626 246l6-1-6-1-6 2z"/>
<path color="#000000" d="M637 245l6-1-6 0-5 1z"/>
<path color="#000000" d="M648 246l6-1-6-2-5 1z"/>
<path color="#000b08" d="M660 247l5-1-5-2-6 1z"/>
<path color="#002c23" d="M671 248l6-1-6-2-6 1z"/>
<path color="#006060" d="M693 253l6-1-6-4-5 1z"/>
<path color="#006471" d="M705 255l5-1-5-4-6 2z"/>
<path color="#005f7c" d="M716 258l5-2-5-3-6 1z"/>
<path color="#005584" d="M727 260l6-2-6-3-6 1z"/>
<path color="#004989" d="M738 262l6-2-6-3-5 1z"/>
<path color="#00308c" d="M761 266l5-2-5-4-6 2z"/>
<path color="#00258b" d="M772 267l5-2-5-3-6 2z"/>
<path color="#001c89" d="M783 269l5-3-5-3-6 2z"/>
<path color="#001486" d="M794 269l6-2-6-3-6 2z"/>
<path color="#000e82" d="M805 270l6-2-6-3-5 2z"/>
<path color="#00097e" d="M816 271l6-3-6-2-5 2z"/>
<path color="#000000" d="M620 247l6-1-6 0-5 1z"/>
<path color="#000000" d="M631 246l6-1-5 0-6 1z"/>
<path color="#000000" d="M643 246l5 0-5-2-6 1z"/>
<path color="#000302" d="M654 247l6 0-6-2-6 1z"/>
<path color="#001f16" d="M665 249l6-1-6-2-5 1z"/>
<path color="#003d32" d="M676 251l6-1-5-3-6 1z"/>
<path color="#005651" d="M688 254l5-1-5-4-6 1z"/>
<path color="#006369" d="M699 256l6-1-6-3-6 1z"/>
<path color="#006076" d="M710 259l6-1-6-4-5 1z"/>
<path color="#00577f" d="M721 261l6-1-6-4-5 2z"/>
<path color="#004b85" d="M733 264l5-2-5-4-6 2z"/>
<path color="#003e89" d="M744 266l5-2-5-4-6 2z"/>
<path color="#00318a" d="M755 268l6-2-6-4-6 2z"/>
<path color="#00268a" d="M766 269l6-2-6-3-5 2z"/>
<path color="#001c88" d="M777 271l6-2-6-4-5 2z"/>
<path color="#001486" d="M788 272l6-3-6-3-5 3z"/>
<path color="#000e82" d="M800 272l5-2-5-3-6 2z"/>
<path color="#00097e" d="M811 273l5-2-5-3-6 2z"/>
<path color="#000000" d="M626 247l5-1-5 0-6 1z"/>
<path color="#000000" d="M637 247l6-1-6-1-6 1z"/>
<path color="#000000" d="M648 248l6-1-6-1-5 0z"/>
<path color="#00140d" d="M660 250l5-1-5-2-6 0z"/>
<path color="#003225" d="M671 252l5-1-5-3-6 1z"/>
<path color="#004c42" d="M682 254l6 0-6-4-6 1z"/>
<path color="#006160" d="M693 257l6-1-6-3-5 1z"/>
<path color="#006170" d="M705 260l5-1-5-4-6 1z"/>
<path color="#005a7b" d="M716 263l5-2-5-3-6 1z"/>
<path color="#004e82" d="M727 265l6-1-6-4-6 1z"/>
<path color="#004187" d="M738 268l6-2-6-4-5 2z"/>
<path color="#003489" d="M749 270l6-2-6-4-5 2z"/>
<path color="#002889" d="M761 271l5-2-5-3-6 2z"/>
<path color="#001d88" d="M772 273l5-2-5-4-6 2z"/>
<path color="#001586" d="M783 274l5-2-5-3-6 2z"/>
<path color="#000e82" d="M794 275l6-3-6-3-6 3z"/>
<path color="#00097f" d="M805 275l6-2-6-3-5 2z"/>
<path color="#000000" d="M631 248l6-1-6-1-5 1z"/>
<path color="#000000" d="M643 249l5-1-5-2-6 1z"/>
<path color="#000d07" d="M654 250l6 0-6-3-6 1z"/>
<path color="#00281a" d="M665 252l6 0-6-3-5 1z"/>
<path color="#004234" d="M676 255l6-1-6-3-5 1z"/>
<path color="#005851" d="M688 258l5-1-5-3-6 0z"/>
<path color="#006269" d="M699 261l6-1-6-4-6 1z"/>
<path color="#005c76" d="M710 264l6-1-6-4-5 1z"/>
<path color="#00517e" d="M721 267l6-2-6-4-5 2z"/>
<path color="#004484" d="M733 269l5-1-5-4-6 1z"/>
<path color="#003787" d="M744 271l5-1-5-4-6 2z"/>
<path color="#002a88" d="M755 273l6-2-6-3-6 2z"/>
<path color="#001f88" d="M766 275l6-2-6-4-5 2z"/>
<path color="#001686" d="M777 276l6-2-6-3-5 2z"/>
<path color="#000f83" d="M788 277l6-2-6-3-5 2z"/>
<path color="#000a7f" d="M800 278l5-3-5-3-6 3z"/>
<path color="#000000" d="M637 250l6-1-6-2-6 1z"/>
<path color="#000b05" d="M648 251l6-1-6-2-5 1z"/>
<path color="#002113" d="M660 253l5-1-5-2-6 0z"/>
<path color="#003a28" d="M671 255l5 0-5-3-6 0z"/>
<path color="#005043" d="M682 258l6 0-6-4-6 1z"/>
<path color="#006261" d="M693 262l6-1-6-4-5 1z"/>
<path color="#005f70" d="M705 265l5-1-5-4-6 1z"/>
<path color="#00557a" d="M716 268l5-1-5-4-6 1z"/>
<path color="#004881" d="M727 271l6-2-6-4-6 2z"/>
<path color="#003a86" d="M738 273l6-2-6-3-5 1z"/>
<path color="#002d87" d="M749 275l6-2-6-3-5 1z"/>
<path color="#002187" d="M761 277l5-2-5-4-6 2z"/>
<path color="#001786" d="M772 278l5-2-5-3-6 2z"/>
<path color="#001083" d="M783 279l5-2-5-3-6 2z"/>
<path color="#000a80" d="M794 280l6-2-6-3-6 2z"/>
<path color="#001007" d="M643 252l5-1-5-2-6 1z"/>
<path color="#002110" d="M654 253l6 0-6-3-6 1z"/>
<path color="#004937" d="M676 259l6-1-6-3-5 0z"/>
<path color="#005b53" d="M688 262l5 0-5-4-6 0z"/>
<path color="#00626a" d="M699 266l6-1-6-4-6 1z"/>
<path color="#005a76" d="M710 269l6-1-6-4-5 1z"/>
<path color="#004d7e" d="M721 272l6-1-6-4-5 1z"/>
<path color="#003f84" d="M733 275l5-2-5-4-6 2z"/>
<path color="#003086" d="M744 277l5-2-5-4-6 2z"/>
<path color="#002387" d="M755 279l6-2-6-4-6 2z"/>
<path color="#001184" d="M777 281l6-2-6-3-5 2z"/>
<path color="#000b81" d="M789 282l5-2-6-3-5 2z"/>
<path color="#003520" d="M665 256l6-1-6-3-5 1z"/>
<path color="#001986" d="M766 280l6-2-6-3-5 2z"/>
<path color="#002710" d="M648 254l6-1-6-2-5 1z"/>
<path color="#005546" d="M682 263l6-1-6-4-6 1z"/>
<path color="#006464" d="M693 266l6 0-6-4-5 0z"/>
<path color="#005e71" d="M705 270l5-1-5-4-6 1z"/>
<path color="#00527b" d="M716 273l5-1-5-4-6 1z"/>
<path color="#004481" d="M727 276l6-1-6-4-6 1z"/>
<path color="#003585" d="M738 279l6-2-6-4-5 2z"/>
<path color="#002787" d="M749 281l6-2-6-4-5 2z"/>
<path color="#000c82" d="M783 284l6-2-6-3-6 2z"/>
<path color="#00351b" d="M660 256l5 0-5-3-6 0z"/>
<path color="#00452d" d="M671 259l5 0-5-4-6 1z"/>
<path color="#001b86" d="M761 282l5-2-5-3-6 2z"/>
<path color="#001284" d="M772 284l5-3-5-3-6 2z"/>
<path color="#005f56" d="M688 267l5-1-5-4-6 1z"/>
<path color="#00636c" d="M699 270l6 0-6-4-6 0z"/>
<path color="#005877" d="M710 274l6-1-6-4-5 1z"/>
<path color="#00497e" d="M721 277l6-1-6-4-5 1z"/>
<path color="#003a84" d="M733 280l5-1-5-4-6 1z"/>
<path color="#002b86" d="M744 282l5-1-5-4-6 2z"/>
<path color="#003c1a" d="M654 257l6-1-6-3-6 1z"/>
<path color="#004527" d="M665 260l6-1-6-3-5 0z"/>
<path color="#00523b" d="M676 263l6 0-6-4-5 0z"/>
<path color="#001e86" d="M755 284l6-2-6-3-6 2z"/>
<path color="#001485" d="M766 286l6-2-6-4-5 2z"/>
<path color="#000d83" d="M777 287l6-3-6-3-5 3z"/>
<path color="#006867" d="M693 271l6-1-6-4-5 1z"/>
<path color="#005e73" d="M705 275l5-1-5-4-6 0z"/>
<path color="#004082" d="M727 281l6-1-6-4-6 1z"/>
<path color="#003085" d="M738 284l6-2-6-3-5 1z"/>
<path color="#004c24" d="M660 260l5 0-5-4-6 1z"/>
<path color="#005234" d="M671 264l5-1-5-4-6 1z"/>
<path color="#005c4b" d="M682 267l6 0-6-4-6 0z"/>
<path color="#00507b" d="M716 278l5-1-5-4-6 1z"/>
<path color="#002287" d="M749 286l6-2-6-3-5 1z"/>
<path color="#001786" d="M761 288l5-2-5-4-6 2z"/>
<path color="#000f84" d="M772 289l5-2-5-3-6 2z"/>
<path color="#00656f" d="M699 275l6 0-6-5-6 1z"/>
<path color="#003684" d="M733 286l5-2-5-4-6 1z"/>
<path color="#005930" d="M665 264l6 0-6-4-5 0z"/>
<path color="#005d42" d="M676 268l6-1-6-4-5 1z"/>
<path color="#00655b" d="M688 271l5 0-5-4-6 0z"/>
<path color="#005778" d="M710 279l6-1-6-4-5 1z"/>
<path color="#00467f" d="M721 283l6-2-6-4-5 1z"/>
<path color="#002786" d="M744 288l5-2-5-4-6 2z"/>
<path color="#001a87" d="M755 290l6-2-6-4-6 2z"/>
<path color="#001185" d="M766 291l6-2-6-3-5 2z"/>
<path color="#00623d" d="M671 268l5 0-5-4-6 0z"/>
<path color="#006652" d="M682 272l6-1-6-4-6 1z"/>
<path color="#006d6d" d="M693 276l6-1-6-4-5 0z"/>
<path color="#005e75" d="M705 280l5-1-5-4-6 0z"/>
<path color="#004e7d" d="M716 284l5-1-5-5-6 1z"/>
<path color="#003c83" d="M727 287l6-1-6-5-6 2z"/>
<path color="#002c86" d="M738 290l6-2-6-4-5 2z"/>
<path color="#001e87" d="M749 292l6-2-6-4-5 2z"/>
<path color="#001386" d="M761 293l5-2-5-3-6 2z"/>
<path color="#006a4b" d="M676 272l6 0-6-4-5 0z"/>
<path color="#006d62" d="M688 276l5 0-5-5-6 1z"/>
<path color="#006773" d="M699 281l6-1-6-5-6 1z"/>
<path color="#00567b" d="M710 284l6 0-6-5-5 1z"/>
<path color="#004481" d="M722 288l5-1-6-4-5 1z"/>
<path color="#003285" d="M733 291l5-1-5-4-6 1z"/>
<path color="#002387" d="M744 293l5-1-5-4-6 2z"/>
<path color="#001787" d="M755 295l6-2-6-3-6 2z"/>
<path color="#00715b" d="M682 277l6-1-6-4-6 0z"/>
<path color="#005f79" d="M705 285l5-1-5-4-6 1z"/>
<path color="#004c7f" d="M716 289l6-1-6-4-6 0z"/>
<path color="#003984" d="M727 292l6-1-6-4-5 1z"/>
<path color="#001b88" d="M750 297l5-2-6-3-5 1z"/>
<path color="#007273" d="M693 281l6 0-6-5-5 0z"/>
<path color="#002887" d="M738 295l6-2-6-3-5 1z"/>
<path color="#00567e" d="M710 290l6-1-6-5-5 1z"/>
<path color="#004183" d="M722 294l5-2-5-4-6 1z"/>
<path color="#00766c" d="M688 282l5-1-5-5-6 1z"/>
<path color="#006a79" d="M699 286l6-1-6-4-6 0z"/>
<path color="#002f87" d="M733 297l5-2-5-4-6 1z"/>
<path color="#001f89" d="M744 299l6-2-6-4-6 2z"/>
<path color="#00787b" d="M693 286l6 0-6-5-5 1z"/>
<path color="#00607e" d="M705 291l5-1-5-5-6 1z"/>
<path color="#004b83" d="M716 295l6-1-6-5-6 1z"/>
<path color="#003787" d="M727 298l6-1-6-5-5 2z"/>
<path color="#002589" d="M738 301l6-2-6-4-5 2z"/>
<path color="#006d80" d="M699 291l6 0-6-5-6 0z"/>
<path color="#005582" d="M710 295l6 0-6-5-5 1z"/>
<path color="#003f86" d="M722 299l5-1-5-4-6 1z"/>
<path color="#002c89" d="M733 302l5-1-5-4-6 1z"/>
<path color="#006184" d="M705 296l5-1-5-4-6 0z"/>
<path color="#004986" d="M716 300l6-1-6-4-6 0z"/>
<path color="#003489" d="M727 304l6-2-6-4-5 1z"/>
<path color="#005587" d="M710 301l6-1-6-5-5 1z"/>
<path color="#003d89" d="M722 305l5-1-5-5-6 1z"/>
<path color="#00488a" d="M716 306l6-1-6-5-6 1z"/>
</g>
<line x1="499.9" y1="150.6" x2="494.7" y2="38.3" stroke="#8c8c8c" stroke-width="0.75"/>
<line x1="515.4" y1="116.6" x2="512.3" y2="34" stroke="#8c8c8c" stroke-width="0.75"/>
<line x1="532.1" y1="110.8" x2="529.7" y2="30" stroke="#8c8c8c" stroke-width="0.75"/>
<line x1="548.8" y1="105.3" x2="547.2" y2="26.2" stroke="#8c8c8c" stroke-width="0.75"/>
<line x1="565.4" y1="100" x2="564.5" y2="22.5" stroke="#8c8c8c" stroke-width="0.75"/>
<line x1="582" y1="94.9" x2="581.9" y2="19" stroke="#8c8c8c" stroke-width="0.75"/>
<line x1="498.7" y1="122.7" x2="582" y2="94.9" stroke="#8c8c8c" stroke-width="0.75"/>
<line x1="497.7" y1="102.1" x2="581.9" y2="76.4" stroke="#8c8c8c" stroke-width="0.75"/>
<line x1="496.7" y1="81.2" x2="581.9" y2="57.6" stroke="#8c8c8c" stroke-width="0.75"/>
<line x1="495.7" y1="60" x2="581.9" y2="38.4" stroke="#8c8c8c" stroke-width="0.75"/>
<line x1="494.7" y1="38.3" x2="581.9" y2="19" stroke="#8c8c8c" stroke-width="0.75"/>
<line x1="664.3" y1="150.6" x2="669.3" y2="38.5" stroke="#8c8c8c" stroke-width="0.75"/>
<line x1="644.5" y1="115.2" x2="647.3" y2="33.2" stroke="#8c8c8c" stroke-width="0.75"/>
<line x1="623.6" y1="108" x2="625.4" y2="28.2" stroke="#8c8c8c" stroke-width="0.75"/>
<line x1="602.7" y1="101.3" x2="603.6" y2="23.5" stroke="#8c8c8c" stroke-width="0.75"/>
<line x1="582" y1="94.9" x2="581.9" y2="19" stroke="#8c8c8c" stroke-width="0.75"/>
<line x1="665.5" y1="122.7" x2="582" y2="94.9" stroke="#8c8c8c" stroke-width="0.75"/>
<line x1="666.4" y1="102.2" x2="581.9" y2="76.4" stroke="#8c8c8c" stroke-width="0.75"/>
<line x1="667.4" y1="81.4" x2="581.9" y2="57.6" stroke="#8c8c8c" stroke-width="0.75"/>
<line x1="668.3" y1="60.1" x2="581.9" y2="38.4" stroke="#8c8c8c" stroke-width="0.75"/>
<line x1="669.3" y1="38.5" x2="581.9" y2="19" stroke="#8c8c8c" stroke-width="0.75"/>
<polygon points="582.2,189.1 664.3,150.6 582,120.2 499.9,150.6" fill="#ffff00" stroke="#333" stroke-width="0.6"/>
<path transform="scale(.5)" d="M1220 350l-4 1-3 1-3 1-4 1-2 0-4 2-4 1-2 1-4 1-4 1-2 1-4 1-4 1-2 1-4 1-2 1-5 1-2 1-5 1-3 0-3 0-3 0M1077 335l3-2 3-1 4-2 2 0 3-2 4-1 4-1 2-1 4-1 4-1 2-1 4-1 3-1 4-1 3-2 3-1 3-2 3-2 1-1 2-1 1-1 1-2 1-2 1-1 1-1 0-1 0-2 0-1 0-1 0-2 0-1 0-1 0-2 0-1 0-1-1-2 0-1 0-1-1-2 0-1 0-1 0-2 0-1 0-1 0-1 1-2 0-1 0-1 1-1 1-1 1-2 0-1 1-1 2-1 1-1 2-2 1-1 2-1 2-1 2-1 3-2 1 0 3-2 3-1 3-1 3-1 3-1 4-2 3-1 2 0" stroke="#66dd44" stroke-width="1.4" fill="none"/>
<path transform="scale(.5)" d="M1323 304l-3-1-3 0-5 0-2-1-4-1-3 0-4-1-2-1-3-1-4-1-4-1-3-1-2-1-4-1-4-1-3-2-4-1-2 0-3-2-4-1-3-1-4-1-3-2-3-1-3-1-3-2-1 0-3-2-1-1-2-1-1-1-2-2 0-1-1-1 0-1 0-1 0-2 0-1 0-1 1-1" stroke="#6b6340" stroke-width="1.4" fill="none"/>
<line x1="610.2" y1="18.4" x2="610.2" y2="75" stroke="#555" stroke-width="0.8"/>
<g transform="scale(.5)" fill="currentColor" stroke="currentColor" stroke-width="0.9" stroke-linejoin="round">
<path color="#000000" d="M1164 191l5 0-5-1-6 2z"/>
<path color="#000000" d="M1158 192l6-1-6 1-5 1z"/>
<path color="#00030d" d="M1169 187l6-1-6 5-5 0z"/>
<path color="#000000" d="M1153 193l5-1-5 1-6 2z"/>
<path color="#00040d" d="M1164 188l5-1-5 4-6 1z"/>
<path color="#00080d" d="M1175 182l6-1-6 5-6 1z"/>
<path color="#00010d" d="M1147 194l6-1-6 2-5 1z"/>
<path color="#00040d" d="M1158 190l6-2-6 4-5 1z"/>
<path color="#00090d" d="M1169 183l6-1-6 5-5 1z"/>
<path color="#000d0b" d="M1181 176l5-2-5 7-6 1z"/>
<path color="#00020d" d="M1142 196l5-2-5 2-6 2z"/>
<path color="#00050d" d="M1153 191l5-1-5 3-6 1z"/>
<path color="#00090d" d="M1164 185l5-2-5 5-6 2z"/>
<path color="#000d0b" d="M1175 177l6-1-6 6-6 1z"/>
<path color="#000d05" d="M1186 169l6-2-6 7-5 2z"/>
<path color="#00020d" d="M1136 197l6-1-6 2-5 1z"/>
<path color="#00050d" d="M1147 192l6-1-6 3-5 2z"/>
<path color="#00090d" d="M1158 187l6-2-6 5-5 1z"/>
<path color="#000d0b" d="M1170 179l5-2-6 6-5 2z"/>
<path color="#000d05" d="M1181 171l5-2-5 7-6 1z"/>
<path color="#020d00" d="M1192 161l5-2-5 8-6 2z"/>
<path color="#00020d" d="M1131 198l5-1-5 2-6 1z"/>
<path color="#00050d" d="M1142 194l5-2-5 4-6 1z"/>
<path color="#00090d" d="M1153 189l5-2-5 4-6 1z"/>
<path color="#000d0c" d="M1164 182l6-3-6 6-6 2z"/>
<path color="#000d06" d="M1175 173l6-2-6 6-5 2z"/>
<path color="#010d00" d="M1186 164l6-3-6 8-5 2z"/>
<path color="#080d00" d="M1198 154l5-3-6 8-5 2z"/>
<path color="#00090d" d="M1147 191l6-2-6 3-5 2z"/>
<path color="#000d0c" d="M1158 184l6-2-6 5-5 2z"/>
<path color="#000d06" d="M1170 176l5-3-5 6-6 3z"/>
<path color="#000d00" d="M1181 168l5-4-5 7-6 2z"/>
<path color="#000000" d="M1125 200l6-2-6 2-5 1z"/>
<path color="#00050d" d="M1136 196l6-2-6 3-5 1z"/>
<path color="#070d00" d="M1192 158l6-4-6 7-6 3z"/>
<path color="#0d0b00" d="M1203 148l6-4-6 7-5 3z"/>
<path color="#000d0c" d="M1153 187l5-3-5 5-6 2z"/>
<path color="#000d07" d="M1164 179l6-3-6 6-6 2z"/>
<path color="#000d01" d="M1175 171l6-3-6 5-5 3z"/>
<path color="#000000" d="M1120 202l5-2-5 1-6 2z"/>
<path color="#00050d" d="M1131 198l5-2-5 2-6 2z"/>
<path color="#00090d" d="M1142 193l5-2-5 3-6 2z"/>
<path color="#060d00" d="M1186 162l6-4-6 6-5 4z"/>
<path color="#0d0c00" d="M1198 152l5-4-5 6-6 4z"/>
<path color="#0d0500" d="M1209 142l6-4-6 6-6 4z"/>
<path color="#000000" d="M1114 204l6-2-6 1-5 1z"/>
<path color="#000000" d="M1125 200l6-2-6 2-5 2z"/>
<path color="#00080d" d="M1136 196l6-3-6 3-5 2z"/>
<path color="#000d0d" d="M1147 190l6-3-6 4-5 2z"/>
<path color="#000d08" d="M1158 183l6-4-6 5-5 3z"/>
<path color="#000d02" d="M1170 175l5-4-5 5-6 3z"/>
<path color="#050d00" d="M1181 166l5-4-5 6-6 3z"/>
<path color="#0b0d00" d="M1192 156l6-4-6 6-6 4z"/>
<path color="#0d0700" d="M1203 146l6-4-6 6-5 4z"/>
<path color="#0d0000" d="M1215 136l5-4-5 6-6 4z"/>
<path color="#000000" d="M1109 206l5-2-5 0-6 2z"/>
<path color="#000000" d="M1120 203l5-3-5 2-6 2z"/>
<path color="#000000" d="M1131 198l5-2-5 2-6 2z"/>
<path color="#000c0d" d="M1142 193l5-3-5 3-6 3z"/>
<path color="#000d09" d="M1153 186l5-3-5 4-6 3z"/>
<path color="#000d03" d="M1164 178l6-3-6 4-6 4z"/>
<path color="#030d00" d="M1175 170l6-4-6 5-5 4z"/>
<path color="#0a0d00" d="M1186 161l6-5-6 6-5 4z"/>
<path color="#0d0900" d="M1198 151l5-5-5 6-6 4z"/>
<path color="#0d0200" d="M1209 141l6-5-6 6-6 4z"/>
<path color="#000000" d="M1221 132l5-5-6 5-5 4z"/>
<path color="#000000" d="M1103 208l6-2-6 0-5 2z"/>
<path color="#000000" d="M1114 205l6-2-6 1-5 2z"/>
<path color="#000000" d="M1125 201l6-3-6 2-5 3z"/>
<path color="#000000" d="M1136 196l6-3-6 3-5 2z"/>
<path color="#000000" d="M1147 190l6-4-6 4-5 3z"/>
<path color="#000d05" d="M1158 183l6-5-6 5-5 3z"/>
<path color="#010d00" d="M1170 174l5-4-5 5-6 3z"/>
<path color="#080d00" d="M1181 166l5-5-5 5-6 4z"/>
<path color="#000000" d="M1192 156l6-5-6 5-6 5z"/>
<path color="#000000" d="M1203 147l6-6-6 5-5 5z"/>
<path color="#000000" d="M1215 137l6-5-6 4-6 5z"/>
<path color="#000000" d="M1226 128l6-5-6 4-5 5z"/>
<path color="#000000" d="M1097 210l6-2-5 0-6 2z"/>
<path color="#000000" d="M1109 208l5-3-5 1-6 2z"/>
<path color="#000000" d="M1120 204l5-3-5 2-6 2z"/>
<path color="#000000" d="M1131 199l5-3-5 2-6 3z"/>
<path color="#000000" d="M1142 193l5-3-5 3-6 3z"/>
<path color="#000000" d="M1153 187l5-4-5 3-6 4z"/>
<path color="#000000" d="M1164 179l6-5-6 4-6 5z"/>
<path color="#000000" d="M1175 171l6-5-6 4-5 4z"/>
<path color="#000000" d="M1186 162l6-6-6 5-5 5z"/>
<path color="#000000" d="M1198 152l5-5-5 4-6 5z"/>
<path color="#000000" d="M1209 143l6-6-6 4-6 6z"/>
<path color="#000000" d="M1221 134l5-6-5 4-6 5z"/>
<path color="#000000" d="M1232 126l6-6-6 3-6 5z"/>
<path color="#000000" d="M1092 212l5-2-5 0-6 2z"/>
<path color="#000000" d="M1103 210l6-2-6 0-6 2z"/>
<path color="#000000" d="M1114 207l6-3-6 1-5 3z"/>
<path color="#000000" d="M1125 203l6-4-6 2-5 3z"/>
<path color="#000000" d="M1136 197l6-4-6 3-5 3z"/>
<path color="#000000" d="M1147 191l6-4-6 3-5 3z"/>
<path color="#000000" d="M1158 184l6-5-6 4-5 4z"/>
<path color="#000000" d="M1170 176l5-5-5 3-6 5z"/>
<path color="#000000" d="M1181 167l5-5-5 4-6 5z"/>
<path color="#000000" d="M1192 158l6-6-6 4-6 6z"/>
<path color="#000000" d="M1203 149l6-6-6 4-5 5z"/>
<path color="#000000" d="M1215 140l6-6-6 3-6 6z"/>
<path color="#000000" d="M1226 132l6-6-6 2-5 6z"/>
<path color="#1e0000" d="M1238 124l6-6-6 2-6 6z"/>
<path color="#000209" d="M1086 215l6-3-6 0-5 2z"/>
<path color="#000000" d="M1097 213l6-3-6 0-5 2z"/>
<path color="#000000" d="M1108 210l6-3-5 1-6 2z"/>
<path color="#000000" d="M1120 206l5-3-5 1-6 3z"/>
<path color="#000000" d="M1131 201l5-4-5 2-6 4z"/>
<path color="#000000" d="M1142 195l5-4-5 2-6 4z"/>
<path color="#000000" d="M1186 164l6-6-6 4-5 5z"/>
<path color="#000000" d="M1198 155l5-6-5 3-6 6z"/>
<path color="#000000" d="M1209 147l6-7-6 3-6 6z"/>
<path color="#1c0000" d="M1221 138l5-6-5 2-6 6z"/>
<path color="#3e0000" d="M1232 130l6-6-6 2-6 6z"/>
<path color="#590000" d="M1244 123l5-6-5 1-6 6z"/>
<path color="#000000" d="M1153 188l5-4-5 3-6 4z"/>
<path color="#000000" d="M1164 181l6-5-6 3-6 5z"/>
<path color="#000000" d="M1175 173l6-6-6 4-5 5z"/>
<path color="#000419" d="M1081 217l5-2-5-1-6 2z"/>
<path color="#000208" d="M1092 215l5-2-5-1-6 3z"/>
<path color="#000000" d="M1103 213l5-3-5 0-6 3z"/>
<path color="#000000" d="M1114 209l6-3-6 1-6 3z"/>
<path color="#000000" d="M1125 205l6-4-6 2-5 3z"/>
<path color="#000000" d="M1136 199l6-4-6 2-5 4z"/>
<path color="#000000" d="M1192 162l6-7-6 3-6 6z"/>
<path color="#180500" d="M1204 153l5-6-6 2-5 6z"/>
<path color="#380000" d="M1215 145l6-7-6 2-6 7z"/>
<path color="#560000" d="M1226 137l6-7-6 2-5 6z"/>
<path color="#6e0000" d="M1238 129l6-6-6 1-6 6z"/>
<path color="#7f0000" d="M1249 123l6-7-6 1-5 6z"/>
<path color="#000000" d="M1147 193l6-5-6 3-5 4z"/>
<path color="#000000" d="M1158 186l6-5-6 3-5 4z"/>
<path color="#000000" d="M1170 178l5-5-5 3-6 5z"/>
<path color="#000000" d="M1181 170l5-6-5 3-6 6z"/>
<path color="#000628" d="M1075 219l6-2-6-1-5 2z"/>
<path color="#000518" d="M1086 218l6-3-6 0-5 2z"/>
<path color="#000308" d="M1097 215l6-2-6 0-5 2z"/>
<path color="#000000" d="M1108 212l6-3-6 1-5 3z"/>
<path color="#000000" d="M1120 208l5-3-5 1-6 3z"/>
<path color="#000000" d="M1131 204l5-5-5 2-6 4z"/>
<path color="#000000" d="M1142 198l5-5-5 2-6 4z"/>
<path color="#000000" d="M1153 191l5-5-5 2-6 5z"/>
<path color="#000000" d="M1164 184l6-6-6 3-6 5z"/>
<path color="#000000" d="M1175 176l6-6-6 3-5 5z"/>
<path color="#141300" d="M1186 168l6-6-6 2-5 6z"/>
<path color="#311700" d="M1198 160l6-7-6 2-6 7z"/>
<path color="#4e0100" d="M1209 152l6-7-6 2-5 6z"/>
<path color="#670000" d="M1221 144l5-7-5 1-6 7z"/>
<path color="#7c0000" d="M1232 136l6-7-6 1-6 7z"/>
<path color="#8b0000" d="M1244 129l5-6-5 0-6 6z"/>
<path color="#950000" d="M1255 123l6-7-6 0-6 7z"/>
<path color="#000734" d="M1070 221l5-2-5-1-6 2z"/>
<path color="#000726" d="M1081 220l5-2-5-1-6 2z"/>
<path color="#000718" d="M1092 218l5-3-5 0-6 3z"/>
<path color="#00050b" d="M1103 216l5-4-5 1-6 2z"/>
<path color="#000102" d="M1114 212l6-4-6 1-6 3z"/>
<path color="#000000" d="M1125 208l6-4-6 1-5 3z"/>
<path color="#000000" d="M1136 202l6-4-6 1-5 5z"/>
<path color="#000000" d="M1147 196l6-5-6 2-5 5z"/>
<path color="#000400" d="M1158 189l6-5-6 2-5 5z"/>
<path color="#071300" d="M1170 182l5-6-5 2-6 6z"/>
<path color="#212a00" d="M1181 174l5-6-5 2-6 6z"/>
<path color="#433200" d="M1192 166l6-6-6 2-6 6z"/>
<path color="#5d1b00" d="M1204 158l5-6-5 1-6 7z"/>
<path color="#730000" d="M1215 151l6-7-6 1-6 7z"/>
<path color="#860000" d="M1226 143l6-7-6 1-5 7z"/>
<path color="#940000" d="M1238 136l6-7-6 0-6 7z"/>
<path color="#9e0000" d="M1249 130l6-7-6 0-5 6z"/>
<path color="#a30000" d="M1261 124l6-7-6-1-6 7z"/>
<path color="#000832" d="M1075 222l6-2-6-1-5 2z"/>
<path color="#000925" d="M1086 221l6-3-6 0-5 2z"/>
<path color="#000919" d="M1097 219l6-3-6-1-5 3z"/>
<path color="#000910" d="M1108 216l6-4-6 0-5 4z"/>
<path color="#00080b" d="M1119 212l6-4-5 0-6 4z"/>
<path color="#7b1100" d="M1209 158l6-7-6 1-5 6z"/>
<path color="#8c0000" d="M1221 150l5-7-5 1-6 7z"/>
<path color="#990000" d="M1232 143l6-7-6 0-6 7z"/>
<path color="#a30000" d="M1244 137l5-7-5-1-6 7z"/>
<path color="#a90000" d="M1255 131l6-7-6-1-6 7z"/>
<path color="#00073e" d="M1064 223l6-2-6-1-5 2z"/>
<path color="#000908" d="M1131 207l5-5-5 2-6 4z"/>
<path color="#000c08" d="M1142 201l5-5-5 2-6 4z"/>
<path color="#001606" d="M1153 195l5-6-5 2-6 5z"/>
<path color="#052500" d="M1164 188l6-6-6 2-6 5z"/>
<path color="#203a00" d="M1175 180l6-6-6 2-5 6z"/>
<path color="#505100" d="M1187 173l5-7-6 2-5 6z"/>
<path color="#673b00" d="M1198 165l6-7-6 2-6 6z"/>
<path color="#ac0000" d="M1267 125l5-7-5-1-6 7z"/>
<path color="#000745" d="M1059 225l5-2-5-1-6 2z"/>
<path color="#00083a" d="M1070 225l5-3-5-1-6 2z"/>
<path color="#000a2f" d="M1081 224l5-3-5-1-6 2z"/>
<path color="#000b24" d="M1092 222l5-3-5-1-6 3z"/>
<path color="#000d1c" d="M1103 219l5-3-5 0-6 3z"/>
<path color="#000f17" d="M1114 215l5-3-5 0-6 4z"/>
<path color="#900200" d="M1215 157l6-7-6 1-6 7z"/>
<path color="#9d0000" d="M1226 151l6-8-6 0-5 7z"/>
<path color="#a70000" d="M1238 144l6-7-6-1-6 7z"/>
<path color="#ad0000" d="M1249 138l6-7-6-1-5 7z"/>
<path color="#b10000" d="M1261 132l6-7-6-1-6 7z"/>
<path color="#b20000" d="M1272 127l6-7-6-2-5 7z"/>
<path color="#001416" d="M1125 211l6-4-6 1-6 4z"/>
<path color="#001a15" d="M1136 206l6-5-6 1-5 5z"/>
<path color="#002310" d="M1147 200l6-5-6 1-5 5z"/>
<path color="#003204" d="M1158 194l6-6-6 1-5 6z"/>
<path color="#164500" d="M1170 187l5-7-5 2-6 6z"/>
<path color="#415a00" d="M1181 179l6-6-6 1-6 6z"/>
<path color="#6e5d00" d="M1192 172l6-7-6 1-5 7z"/>
<path color="#813700" d="M1204 165l5-7-5 0-6 7z"/>
<path color="#00084a" d="M1053 227l6-2-6-1-6 2z"/>
<path color="#00083f" d="M1064 227l6-2-6-2-5 2z"/>
<path color="#000935" d="M1075 226l6-2-6-2-5 3z"/>
<path color="#000c2b" d="M1086 224l6-2-6-1-5 3z"/>
<path color="#000e24" d="M1097 222l6-3-6 0-5 3z"/>
<path color="#001220" d="M1108 219l6-4-6 1-5 3z"/>
<path color="#00191f" d="M1119 215l6-4-6 1-5 3z"/>
<path color="#002421" d="M1131 210l5-4-5 1-6 4z"/>
<path color="#002d1c" d="M1142 205l5-5-5 1-6 5z"/>
<path color="#003a11" d="M1153 199l5-5-5 1-6 5z"/>
<path color="#064c00" d="M1164 193l6-6-6 1-6 6z"/>
<path color="#2d5f00" d="M1175 186l6-7-6 1-5 7z"/>
<path color="#657200" d="M1187 179l5-7-5 1-6 6z"/>
<path color="#835d00" d="M1198 172l6-7-6 0-6 7z"/>
<path color="#932e00" d="M1209 165l6-8-6 1-5 7z"/>
<path color="#9f0000" d="M1221 158l5-7-5-1-6 7z"/>
<path color="#a80000" d="M1232 151l6-7-6-1-6 8z"/>
<path color="#af0000" d="M1244 145l5-7-5-1-6 7z"/>
<path color="#b40000" d="M1255 140l6-8-6-1-6 7z"/>
<path color="#b60000" d="M1267 134l5-7-5-2-6 7z"/>
<path color="#b60000" d="M1278 129l6-8-6-1-6 7z"/>
<path color="#00084d" d="M1047 229l6-2-6-1-5 1z"/>
<path color="#000842" d="M1059 229l5-2-5-2-6 2z"/>
<path color="#000938" d="M1070 228l5-2-5-1-6 2z"/>
<path color="#000b2f" d="M1081 227l5-3-5 0-6 2z"/>
<path color="#000e28" d="M1092 225l5-3-5 0-6 2z"/>
<path color="#001224" d="M1103 222l5-3-5 0-6 3z"/>
<path color="#001924" d="M1114 219l5-4-5 0-6 4z"/>
<path color="#002629" d="M1125 215l6-5-6 1-6 4z"/>
<path color="#003127" d="M1136 210l6-5-6 1-5 4z"/>
<path color="#003f1e" d="M1147 204l6-5-6 1-5 5z"/>
<path color="#004f0a" d="M1158 198l6-5-6 1-5 5z"/>
<path color="#176100" d="M1170 192l5-6-5 1-6 6z"/>
<path color="#487300" d="M1181 185l6-6-6 0-6 7z"/>
<path color="#848200" d="M1192 178l6-6-6 0-5 7z"/>
<path color="#935800" d="M1204 172l5-7-5 0-6 7z"/>
<path color="#9f2400" d="M1215 165l6-7-6-1-6 8z"/>
<path color="#a90000" d="M1226 159l6-8-6 0-5 7z"/>
<path color="#b00000" d="M1238 153l6-8-6-1-6 7z"/>
<path color="#b50000" d="M1249 147l6-7-6-2-5 7z"/>
<path color="#b80000" d="M1261 142l6-8-6-2-6 8z"/>
<path color="#b90000" d="M1272 136l6-7-6-2-5 7z"/>
<path color="#b90000" d="M1284 131l6-8-6-2-6 8z"/>
<path color="#001025" d="M1097 225l6-3-6 0-5 3z"/>
<path color="#b00000" d="M1232 160l6-7-6-2-6 8z"/>
<path color="#000850" d="M1042 231l5-2-5-2-6 2z"/>
<path color="#000744" d="M1053 231l6-2-6-2-6 2z"/>
<path color="#000839" d="M1064 231l6-3-6-1-5 2z"/>
<path color="#000930" d="M1075 229l6-2-6-1-5 2z"/>
<path color="#000c29" d="M1086 228l6-3-6-1-5 3z"/>
<path color="#001625" d="M1108 222l6-3-6 0-5 3z"/>
<path color="#002129" d="M1119 219l6-4-6 0-5 4z"/>
<path color="#00322f" d="M1131 214l5-4-5 0-6 5z"/>
<path color="#003f29" d="M1142 209l5-5-5 1-6 5z"/>
<path color="#004f1a" d="M1153 204l5-6-5 1-6 5z"/>
<path color="#026000" d="M1164 198l6-6-6 1-6 5z"/>
<path color="#2b7200" d="M1175 191l6-6-6 1-5 6z"/>
<path color="#628300" d="M1187 185l5-7-5 1-6 6z"/>
<path color="#928000" d="M1198 178l6-6-6 0-6 6z"/>
<path color="#9e5200" d="M1209 172l6-7-6 0-5 7z"/>
<path color="#a81c00" d="M1221 166l5-7-5-1-6 7z"/>
<path color="#b50000" d="M1243 154l6-7-5-2-6 8z"/>
<path color="#b90000" d="M1255 149l6-7-6-2-6 7z"/>
<path color="#bb0000" d="M1266 144l6-8-5-2-6 8z"/>
<path color="#bb0000" d="M1278 138l6-7-6-2-6 7z"/>
<path color="#ba0000" d="M1290 133l5-8-5-2-6 8z"/>
<path color="#000952" d="M1036 233l6-2-6-2-5 2z"/>
<path color="#000744" d="M1047 233l6-2-6-2-5 2z"/>
<path color="#000738" d="M1058 233l6-2-5-2-6 2z"/>
<path color="#00082e" d="M1070 232l5-3-5-1-6 3z"/>
<path color="#000a27" d="M1081 230l5-2-5-1-6 2z"/>
<path color="#000d22" d="M1092 228l5-3-5 0-6 3z"/>
<path color="#b50000" d="M1238 162l5-8-5-1-6 7z"/>
<path color="#b90000" d="M1249 156l6-7-6-2-6 7z"/>
<path color="#bc0000" d="M1261 151l5-7-5-2-6 7z"/>
<path color="#bd0000" d="M1272 146l6-8-6-2-6 8z"/>
<path color="#bd0000" d="M1284 140l6-7-6-2-6 7z"/>
<path color="#bc0000" d="M1295 135l6-9-6-1-5 8z"/>
<path color="#001222" d="M1103 226l5-4-5 0-6 3z"/>
<path color="#001b26" d="M1114 222l5-3-5 0-6 3z"/>
<path color="#002c2f" d="M1125 218l6-4-6 1-6 4z"/>
<path color="#003b30" d="M1136 214l6-5-6 1-5 4z"/>
<path color="#004b26" d="M1147 209l6-5-6 0-5 5z"/>
<path color="#005d12" d="M1158 203l6-5-6 0-5 6z"/>
<path color="#116f00" d="M1170 197l5-6-5 1-6 6z"/>
<path color="#408000" d="M1181 191l6-6-6 0-6 6z"/>
<path color="#7a8f00" d="M1192 185l6-7-6 0-5 7z"/>
<path color="#9c7c00" d="M1204 179l5-7-5 0-6 6z"/>
<path color="#a74c00" d="M1215 173l6-7-6-1-6 7z"/>
<path color="#af1700" d="M1226 167l6-7-6-1-5 7z"/>
<path color="#000a53" d="M1031 235l5-2-5-2-6 2z"/>
<path color="#000744" d="M1042 235l5-2-5-2-6 2z"/>
<path color="#000736" d="M1053 235l5-2-5-2-6 2z"/>
<path color="#00072a" d="M1064 234l6-2-6-1-6 2z"/>
<path color="#000822" d="M1075 233l6-3-6-1-5 3z"/>
<path color="#00091d" d="M1086 231l6-3-6 0-5 2z"/>
<path color="#000d1c" d="M1097 229l6-3-6-1-5 3z"/>
<path color="#001420" d="M1108 226l6-4-6 0-5 4z"/>
<path color="#002128" d="M1119 222l6-4-6 1-5 3z"/>
<path color="#003431" d="M1131 218l5-4-5 0-6 4z"/>
<path color="#00442e" d="M1142 213l5-4-5 0-6 5z"/>
<path color="#005621" d="M1153 208l5-5-5 1-6 5z"/>
<path color="#006906" d="M1164 203l6-6-6 1-6 5z"/>
<path color="#217b00" d="M1175 197l6-6-6 0-5 6z"/>
<path color="#548b00" d="M1187 191l5-6-5 0-6 6z"/>
<path color="#8f9800" d="M1198 185l6-6-6-1-6 7z"/>
<path color="#a47800" d="M1209 180l6-7-6-1-5 7z"/>
<path color="#ad4800" d="M1221 174l5-7-5-1-6 7z"/>
<path color="#b31500" d="M1232 169l6-7-6-2-6 7z"/>
<path color="#b80000" d="M1243 164l6-8-6-2-5 8z"/>
<path color="#bc0000" d="M1255 159l6-8-6-2-6 7z"/>
<path color="#bd0000" d="M1266 153l6-7-6-2-5 7z"/>
<path color="#be0000" d="M1278 148l6-8-6-2-6 8z"/>
<path color="#be0000" d="M1289 143l6-8-5-2-6 7z"/>
<path color="#be0000" d="M1301 137l6-9-6-2-6 9z"/>
<path color="#000b55" d="M1025 237l6-2-6-2-5 2z"/>
<path color="#000843" d="M1036 237l6-2-6-2-5 2z"/>
<path color="#000633" d="M1047 237l6-2-6-2-5 2z"/>
<path color="#000625" d="M1058 236l6-2-6-1-5 2z"/>
<path color="#00061b" d="M1070 235l5-2-5-1-6 2z"/>
<path color="#000616" d="M1081 233l5-2-5-1-6 3z"/>
<path color="#00161e" d="M1114 226l5-4-5 0-6 4z"/>
<path color="#00272a" d="M1125 222l6-4-6 0-6 4z"/>
<path color="#003a2f" d="M1136 218l6-5-6 1-5 4z"/>
<path color="#004d2a" d="M1147 213l6-5-6 1-5 4z"/>
<path color="#006018" d="M1158 208l6-5-6 0-5 5z"/>
<path color="#067300" d="M1170 203l5-6-5 0-6 6z"/>
<path color="#318400" d="M1181 197l6-6-6 0-6 6z"/>
<path color="#669300" d="M1192 191l6-6-6 0-5 6z"/>
<path color="#9f9e00" d="M1204 186l5-6-5-1-6 6z"/>
<path color="#a97500" d="M1215 181l6-7-6-1-6 7z"/>
<path color="#bb0000" d="M1249 166l6-7-6-3-6 8z"/>
<path color="#bd0000" d="M1261 161l5-8-5-2-6 8z"/>
<path color="#bf0000" d="M1272 156l6-8-6-2-6 7z"/>
<path color="#bf0000" d="M1284 151l5-8-5-3-6 8z"/>
<path color="#c00000" d="M1295 145l6-8-6-2-6 8z"/>
<path color="#c10000" d="M1307 139l6-9-6-2-6 9z"/>
<path color="#000814" d="M1092 231l5-2-5-1-6 3z"/>
<path color="#000c16" d="M1103 229l5-3-5 0-6 3z"/>
<path color="#b14600" d="M1226 176l6-7-6-2-5 7z"/>
<path color="#b61500" d="M1238 171l5-7-5-2-6 7z"/>
<path color="#000c57" d="M1020 239l5-2-5-2-6 2z"/>
<path color="#000842" d="M1031 239l5-2-5-2-6 2z"/>
<path color="#000630" d="M1042 239l5-2-5-2-6 2z"/>
<path color="#000520" d="M1053 238l5-2-5-1-6 2z"/>
<path color="#000414" d="M1064 237l6-2-6-1-6 2z"/>
<path color="#00040d" d="M1075 236l6-3-6 0-5 2z"/>
<path color="#00040b" d="M1086 234l6-3-6 0-5 2z"/>
<path color="#00060c" d="M1097 232l6-3-6 0-5 2z"/>
<path color="#000c11" d="M1108 229l6-3-6 0-5 3z"/>
<path color="#00181c" d="M1119 225l6-3-6 0-5 4z"/>
<path color="#002c29" d="M1131 222l5-4-5 0-6 4z"/>
<path color="#00402c" d="M1142 217l5-4-5 0-6 5z"/>
<path color="#005423" d="M1153 213l5-5-5 0-6 5z"/>
<path color="#00690e" d="M1164 208l6-5-6 0-6 5z"/>
<path color="#147c00" d="M1175 203l6-6-6 0-5 6z"/>
<path color="#418c00" d="M1187 197l5-6-5 0-6 6z"/>
<path color="#759a00" d="M1198 192l6-6-6-1-6 6z"/>
<path color="#a59c00" d="M1209 187l6-6-6-1-5 6z"/>
<path color="#ad7300" d="M1221 182l5-6-5-2-6 7z"/>
<path color="#b44600" d="M1232 177l6-6-6-2-6 7z"/>
<path color="#b91800" d="M1243 173l6-7-6-2-5 7z"/>
<path color="#bc0000" d="M1255 168l6-7-6-2-6 7z"/>
<path color="#be0000" d="M1266 163l6-7-6-3-5 8z"/>
<path color="#c00000" d="M1278 158l6-7-6-3-6 8z"/>
<path color="#c10000" d="M1289 153l6-8-6-2-5 8z"/>
<path color="#c20000" d="M1301 147l6-8-6-2-6 8z"/>
<path color="#c50000" d="M1313 142l6-9-6-3-6 9z"/>
<path color="#000d59" d="M1014 241l6-2-6-2-6 1z"/>
<path color="#000942" d="M1025 241l6-2-6-2-5 2z"/>
<path color="#00062c" d="M1036 240l6-1-6-2-5 2z"/>
<path color="#00041a" d="M1047 240l6-2-6-1-5 2z"/>
<path color="#00030d" d="M1058 239l6-2-6-1-5 2z"/>
<path color="#000206" d="M1069 238l6-2-5-1-6 2z"/>
<path color="#bd0000" d="M1260 170l6-7-5-2-6 7z"/>
<path color="#bf0000" d="M1272 166l6-8-6-2-6 7z"/>
<path color="#c10000" d="M1283 161l6-8-5-2-6 7z"/>
<path color="#c20000" d="M1295 156l6-9-6-2-6 8z"/>
<path color="#c50000" d="M1307 150l6-8-6-3-6 8z"/>
<path color="#ca0000" d="M1318 145l6-9-5-3-6 9z"/>
<path color="#000102" d="M1081 236l5-2-5-1-6 3z"/>
<path color="#000102" d="M1092 234l5-2-5-1-6 3z"/>
<path color="#000305" d="M1103 232l5-3-5 0-6 3z"/>
<path color="#000a0d" d="M1114 229l5-4-5 1-6 3z"/>
<path color="#001b1c" d="M1125 225l6-3-6 0-6 3z"/>
<path color="#002f26" d="M1136 221l6-4-6 1-5 4z"/>
<path color="#004527" d="M1147 217l6-4-6 0-5 4z"/>
<path color="#005c1c" d="M1158 213l6-5-6 0-5 5z"/>
<path color="#007103" d="M1170 208l5-5-5 0-6 5z"/>
<path color="#218300" d="M1181 203l6-6-6 0-6 6z"/>
<path color="#4f9200" d="M1192 198l6-6-6-1-5 6z"/>
<path color="#829f00" d="M1204 193l5-6-5-1-6 6z"/>
<path color="#a99a00" d="M1215 188l6-6-6-1-6 6z"/>
<path color="#b07300" d="M1226 184l6-7-6-1-5 6z"/>
<path color="#b64900" d="M1238 179l5-6-5-2-6 6z"/>
<path color="#ba1c00" d="M1249 175l6-7-6-2-6 7z"/>
<path color="#000d5c" d="M1008 243l6-2-6-3-5 2z"/>
<path color="#000943" d="M1019 243l6-2-5-2-6 2z"/>
<path color="#00062a" d="M1031 242l5-2-5-1-6 2z"/>
<path color="#000415" d="M1042 242l5-2-5-1-6 1z"/>
<path color="#000207" d="M1053 241l5-2-5-1-6 2z"/>
<path color="#000000" d="M1064 240l5-2-5-1-6 2z"/>
<path color="#000000" d="M1075 238l6-2-6 0-6 2z"/>
<path color="#000000" d="M1086 236l6-2-6 0-5 2z"/>
<path color="#000000" d="M1097 234l6-2-6 0-5 2z"/>
<path color="#000101" d="M1108 231l6-2-6 0-5 3z"/>
<path color="#00090b" d="M1119 228l6-3-6 0-5 4z"/>
<path color="#001c19" d="M1131 225l5-4-5 1-6 3z"/>
<path color="#003323" d="M1142 221l5-4-5 0-6 4z"/>
<path color="#004b22" d="M1153 217l5-4-5 0-6 4z"/>
<path color="#006213" d="M1164 213l6-5-6 0-6 5z"/>
<path color="#087700" d="M1175 208l6-5-6 0-5 5z"/>
<path color="#2e8900" d="M1187 203l5-5-5-1-6 6z"/>
<path color="#5b9700" d="M1198 199l6-6-6-1-6 6z"/>
<path color="#8ca300" d="M1209 194l6-6-6-1-5 6z"/>
<path color="#ac9a00" d="M1221 190l5-6-5-2-6 6z"/>
<path color="#b37500" d="M1232 186l6-7-6-2-6 7z"/>
<path color="#b84c00" d="M1243 182l6-7-6-2-5 6z"/>
<path color="#bb2200" d="M1255 177l5-7-5-2-6 7z"/>
<path color="#be0000" d="M1266 173l6-7-6-3-6 7z"/>
<path color="#c00000" d="M1278 168l5-7-5-3-6 8z"/>
<path color="#c20000" d="M1289 164l6-8-6-3-6 8z"/>
<path color="#c50000" d="M1301 158l6-8-6-3-6 9z"/>
<path color="#c90000" d="M1312 153l6-8-5-3-6 8z"/>
<path color="#cf0000" d="M1324 149l6-8-6-5-6 9z"/>
<path color="#000e60" d="M1003 245l5-2-5-3-6 3z"/>
<path color="#000a44" d="M1014 244l5-1-5-2-6 2z"/>
<path color="#000729" d="M1025 244l6-2-6-1-6 2z"/>
<path color="#000311" d="M1036 243l6-1-6-2-5 2z"/>
<path color="#000103" d="M1047 242l6-1-6-1-5 2z"/>
<path color="#000000" d="M1058 241l6-1-6-1-5 2z"/>
<path color="#001d17" d="M1136 225l6-4-6 0-5 4z"/>
<path color="#00371f" d="M1147 221l6-4-6 0-5 4z"/>
<path color="#00511b" d="M1158 217l6-4-6 0-5 4z"/>
<path color="#00680a" d="M1170 213l5-5-5 0-6 5z"/>
<path color="#147d00" d="M1181 208l6-5-6 0-6 5z"/>
<path color="#398e00" d="M1192 204l6-5-6-1-5 5z"/>
<path color="#bf0000" d="M1272 176l6-8-6-2-6 7z"/>
<path color="#c10000" d="M1283 171l6-7-6-3-5 7z"/>
<path color="#c40000" d="M1295 166l6-8-6-2-6 8z"/>
<path color="#c80000" d="M1306 162l6-9-5-3-6 8z"/>
<path color="#ce0000" d="M1318 158l6-9-6-4-6 8z"/>
<path color="#d40000" d="M1329 155l6-8-5-6-6 8z"/>
<path color="#000000" d="M1069 240l6-2-6 0-5 2z"/>
<path color="#000000" d="M1080 238l6-2-5 0-6 2z"/>
<path color="#000000" d="M1092 236l5-2-5 0-6 2z"/>
<path color="#000000" d="M1103 234l5-3-5 1-6 2z"/>
<path color="#000000" d="M1114 231l5-3-5 1-6 2z"/>
<path color="#000909" d="M1125 228l6-3-6 0-6 3z"/>
<path color="#659b00" d="M1204 200l5-6-5-1-6 6z"/>
<path color="#93a600" d="M1215 196l6-6-6-2-6 6z"/>
<path color="#ae9a00" d="M1226 192l6-6-6-2-5 6z"/>
<path color="#b47700" d="M1238 188l5-6-5-3-6 7z"/>
<path color="#b95100" d="M1249 184l6-7-6-2-6 7z"/>
<path color="#bc2800" d="M1260 180l6-7-6-3-5 7z"/>
<path color="#000b47" d="M1008 247l6-3-6-1-5 2z"/>
<path color="#000729" d="M1019 246l6-2-6-1-5 1z"/>
<path color="#00030f" d="M1030 245l6-2-5-1-6 2z"/>
<path color="#000000" d="M1042 244l5-2-5 0-6 1z"/>
<path color="#000000" d="M1053 243l5-2-5 0-6 1z"/>
<path color="#000000" d="M1075 240l5-2-5 0-6 2z"/>
<path color="#000000" d="M1086 238l6-2-6 0-6 2z"/>
<path color="#000000" d="M1097 236l6-2-6 0-5 2z"/>
<path color="#000000" d="M1108 234l6-3-6 0-5 3z"/>
<path color="#000000" d="M1119 231l6-3-6 0-5 3z"/>
<path color="#000907" d="M1131 228l5-3-5 0-6 3z"/>
<path color="#002015" d="M1142 224l5-3-5 0-6 4z"/>
<path color="#003b1b" d="M1153 221l5-4-5 0-6 4z"/>
<path color="#005614" d="M1164 217l6-4-6 0-6 4z"/>
<path color="#006e00" d="M1175 213l6-5-6 0-5 5z"/>
<path color="#1e8200" d="M1187 209l5-5-5-1-6 5z"/>
<path color="#439200" d="M1198 205l6-5-6-1-6 5z"/>
<path color="#6c9f00" d="M1209 201l6-5-6-2-5 6z"/>
<path color="#98a800" d="M1221 197l5-5-5-2-6 6z"/>
<path color="#b09d00" d="M1232 194l6-6-6-2-6 6z"/>
<path color="#b67c00" d="M1243 190l6-6-6-2-5 6z"/>
<path color="#ba5800" d="M1255 186l5-6-5-3-6 7z"/>
<path color="#c00500" d="M1278 178l5-7-5-3-6 8z"/>
<path color="#c30000" d="M1289 174l6-8-6-2-6 7z"/>
<path color="#c70000" d="M1301 170l5-8-5-4-6 8z"/>
<path color="#cd0000" d="M1312 166l6-8-6-5-6 9z"/>
<path color="#d20000" d="M1324 163l5-8-5-6-6 9z"/>
<path color="#000000" d="M1064 242l5-2-5 0-6 1z"/>
<path color="#bd3000" d="M1266 182l6-6-6-3-6 7z"/>
<path color="#00082b" d="M1014 248l5-2-5-2-6 3z"/>
<path color="#00030e" d="M1025 247l5-2-5-1-6 2z"/>
<path color="#000000" d="M1036 246l6-2-6-1-6 2z"/>
<path color="#000000" d="M1047 245l6-2-6-1-5 2z"/>
<path color="#002414" d="M1147 224l6-3-6 0-5 3z"/>
<path color="#004116" d="M1159 221l5-4-6 0-5 4z"/>
<path color="#005c0c" d="M1170 217l5-4-5 0-6 4z"/>
<path color="#097400" d="M1181 213l6-4-6-1-6 5z"/>
<path color="#c20f00" d="M1283 181l6-7-6-3-5 7z"/>
<path color="#c60000" d="M1295 177l6-7-6-4-6 8z"/>
<path color="#cb0000" d="M1306 174l6-8-6-4-5 8z"/>
<path color="#d10000" d="M1318 171l6-8-6-5-6 8z"/>
<path color="#000000" d="M1058 243l6-1-6-1-5 2z"/>
<path color="#000000" d="M1069 242l6-2-6 0-5 2z"/>
<path color="#000000" d="M1080 240l6-2-6 0-5 2z"/>
<path color="#000000" d="M1092 238l5-2-5 0-6 2z"/>
<path color="#000000" d="M1103 236l5-2-5 0-6 2z"/>
<path color="#000000" d="M1114 234l5-3-5 0-6 3z"/>
<path color="#000000" d="M1125 231l6-3-6 0-6 3z"/>
<path color="#000a07" d="M1136 228l6-4-6 1-5 3z"/>
<path color="#288700" d="M1192 210l6-5-6-1-5 5z"/>
<path color="#4c9600" d="M1204 206l5-5-5-1-6 5z"/>
<path color="#72a200" d="M1215 203l6-6-6-1-6 5z"/>
<path color="#9aab00" d="M1226 199l6-5-6-2-5 5z"/>
<path color="#b1a000" d="M1238 196l5-6-5-2-6 6z"/>
<path color="#b78100" d="M1249 192l6-6-6-2-6 6z"/>
<path color="#bb5f00" d="M1260 189l6-7-6-2-5 6z"/>
<path color="#bf3900" d="M1272 185l6-7-6-2-6 6z"/>
<path color="#000410" d="M1019 249l6-2-6-1-5 2z"/>
<path color="#000000" d="M1030 248l6-2-6-1-5 2z"/>
<path color="#000000" d="M1041 246l6-1-5-1-6 2z"/>
<path color="#000000" d="M1086 240l6-2-6 0-6 2z"/>
<path color="#000000" d="M1097 238l6-2-6 0-5 2z"/>
<path color="#000000" d="M1108 236l6-2-6 0-5 2z"/>
<path color="#000000" d="M1119 233l6-2-6 0-5 3z"/>
<path color="#000000" d="M1131 231l5-3-5 0-6 3z"/>
<path color="#000d08" d="M1142 228l5-4-5 0-6 4z"/>
<path color="#002912" d="M1153 224l6-3-6 0-6 3z"/>
<path color="#004711" d="M1164 221l6-4-6 0-5 4z"/>
<path color="#006304" d="M1175 218l6-5-6 0-5 4z"/>
<path color="#127900" d="M1187 214l5-4-5-1-6 4z"/>
<path color="#308b00" d="M1198 211l6-5-6-1-6 5z"/>
<path color="#529900" d="M1209 207l6-4-6-2-5 5z"/>
<path color="#76a400" d="M1221 204l5-5-5-2-6 6z"/>
<path color="#9bad00" d="M1232 201l6-5-6-2-6 5z"/>
<path color="#b3a500" d="M1243 198l6-6-6-2-5 6z"/>
<path color="#c51d00" d="M1289 185l6-8-6-3-6 7z"/>
<path color="#ca0000" d="M1300 181l6-7-5-4-6 7z"/>
<path color="#cf0000" d="M1312 179l6-8-6-5-6 8z"/>
<path color="#000000" d="M1053 245l5-2-5 0-6 2z"/>
<path color="#000000" d="M1064 243l5-1-5 0-6 1z"/>
<path color="#000000" d="M1075 242l5-2-5 0-6 2z"/>
<path color="#b88900" d="M1255 195l5-6-5-3-6 6z"/>
<path color="#bd6800" d="M1266 192l6-7-6-3-6 7z"/>
<path color="#c14400" d="M1277 188l6-7-5-3-6 7z"/>
<path color="#000000" d="M1025 249l5-1-5-1-6 2z"/>
<path color="#000000" d="M1036 248l5-2-5 0-6 2z"/>
<path color="#003010" d="M1159 224l5-3-5 0-6 3z"/>
<path color="#004f0c" d="M1170 221l5-3-5-1-6 4z"/>
<path color="#c82f00" d="M1295 188l5-7-5-4-6 8z"/>
<path color="#ce1000" d="M1306 186l6-7-6-5-6 7z"/>
<path color="#000000" d="M1047 247l6-2-6 0-6 1z"/>
<path color="#000000" d="M1058 245l6-2-6 0-5 2z"/>
<path color="#000000" d="M1069 243l6-1-6 0-5 1z"/>
<path color="#000000" d="M1080 242l6-2-6 0-5 2z"/>
<path color="#000000" d="M1091 240l6-2-5 0-6 2z"/>
<path color="#000000" d="M1103 238l5-2-5 0-6 2z"/>
<path color="#000000" d="M1114 236l5-3-5 1-6 2z"/>
<path color="#000000" d="M1125 233l6-2-6 0-6 2z"/>
<path color="#000000" d="M1136 230l6-2-6 0-5 3z"/>
<path color="#001209" d="M1147 227l6-3-6 0-5 4z"/>
<path color="#036900" d="M1181 218l6-4-6-1-6 5z"/>
<path color="#1b7f00" d="M1192 215l6-4-6-1-5 4z"/>
<path color="#389000" d="M1204 212l5-5-5-1-6 5z"/>
<path color="#579d00" d="M1215 209l6-5-6-1-6 4z"/>
<path color="#78a700" d="M1226 206l6-5-6-2-5 5z"/>
<path color="#9baf00" d="M1238 204l5-6-5-2-6 5z"/>
<path color="#b5ac00" d="M1249 201l6-6-6-3-6 6z"/>
<path color="#ba9200" d="M1260 198l6-6-6-3-5 6z"/>
<path color="#bf7300" d="M1272 195l5-7-5-3-6 7z"/>
<path color="#c35200" d="M1283 192l6-7-6-4-6 7z"/>
<path color="#000000" d="M1030 250l6-2-6 0-5 1z"/>
<path color="#000000" d="M1097 240l6-2-6 0-6 2z"/>
<path color="#000000" d="M1108 237l6-1-6 0-5 2z"/>
<path color="#000000" d="M1119 235l6-2-6 0-5 3z"/>
<path color="#000000" d="M1130 233l6-3-5 1-6 2z"/>
<path color="#000100" d="M1142 230l5-3-5 1-6 2z"/>
<path color="#00190a" d="M1153 227l6-3-6 0-6 3z"/>
<path color="#00390d" d="M1164 225l6-4-6 0-5 3z"/>
<path color="#005706" d="M1175 222l6-4-6 0-5 3z"/>
<path color="#0b7000" d="M1187 219l5-4-5-1-6 4z"/>
<path color="#228400" d="M1198 216l6-4-6-1-6 4z"/>
<path color="#3d9400" d="M1209 214l6-5-6-2-5 5z"/>
<path color="#5ba000" d="M1221 211l5-5-5-2-6 5z"/>
<path color="#79aa00" d="M1232 209l6-5-6-3-6 5z"/>
<path color="#cc4900" d="M1300 193l6-7-6-5-5 7z"/>
<path color="#000000" d="M1041 248l6-1-6-1-5 2z"/>
<path color="#000000" d="M1052 247l6-2-5 0-6 2z"/>
<path color="#000000" d="M1064 245l5-2-5 0-6 2z"/>
<path color="#000000" d="M1075 243l5-1-5 0-6 1z"/>
<path color="#000000" d="M1086 241l5-1-5 0-6 2z"/>
<path color="#98b100" d="M1243 206l6-5-6-3-5 6z"/>
<path color="#b7b500" d="M1255 203l5-5-5-3-6 6z"/>
<path color="#bd9d00" d="M1266 201l6-6-6-3-6 6z"/>
<path color="#c18100" d="M1277 198l6-6-6-4-5 7z"/>
<path color="#c76400" d="M1289 195l6-7-6-3-6 7z"/>
<path color="#000000" d="M1036 250l5-2-5 0-6 2z"/>
<path color="#000000" d="M1047 248l5-1-5 0-6 1z"/>
<path color="#000000" d="M1058 246l6-1-6 0-6 2z"/>
<path color="#000000" d="M1069 245l6-2-6 0-5 2z"/>
<path color="#000000" d="M1080 243l6-2-6 1-5 1z"/>
<path color="#000000" d="M1091 241l6-1-6 0-5 1z"/>
<path color="#000000" d="M1103 239l5-2-5 1-6 2z"/>
<path color="#000000" d="M1114 237l5-2-5 1-6 1z"/>
<path color="#000000" d="M1125 235l5-2-5 0-6 2z"/>
<path color="#000000" d="M1136 233l6-3-6 0-6 3z"/>
<path color="#000703" d="M1147 230l6-3-6 0-5 3z"/>
<path color="#00230b" d="M1159 228l5-3-5-1-6 3z"/>
<path color="#00440a" d="M1170 225l5-3-5-1-6 4z"/>
<path color="#006000" d="M1181 223l6-4-6-1-6 4z"/>
<path color="#127800" d="M1192 220l6-4-6-1-5 4z"/>
<path color="#288b00" d="M1204 218l5-4-5-2-6 4z"/>
<path color="#429900" d="M1215 215l6-4-6-2-6 5z"/>
<path color="#5ca400" d="M1226 213l6-4-6-3-5 5z"/>
<path color="#78ad00" d="M1238 211l5-5-5-2-6 5z"/>
<path color="#95b400" d="M1249 209l6-6-6-2-6 5z"/>
<path color="#b3ba00" d="M1260 207l6-6-6-3-5 5z"/>
<path color="#c0ac00" d="M1272 204l5-6-5-3-6 6z"/>
<path color="#c59500" d="M1283 202l6-7-6-3-6 6z"/>
<path color="#ca7e00" d="M1294 200l6-7-5-5-6 7z"/>
<path color="#000000" d="M1108 239l6-2-6 0-5 2z"/>
<path color="#000000" d="M1119 237l6-2-6 0-5 2z"/>
<path color="#000000" d="M1130 235l6-2-6 0-5 2z"/>
<path color="#000000" d="M1142 233l5-3-5 0-6 3z"/>
<path color="#001106" d="M1153 230l6-2-6-1-6 3z"/>
<path color="#005006" d="M1175 226l6-3-6-1-5 3z"/>
<path color="#066b00" d="M1187 224l5-4-5-1-6 4z"/>
<path color="#188000" d="M1198 221l6-3-6-2-6 4z"/>
<path color="#2d9100" d="M1209 219l6-4-6-1-5 4z"/>
<path color="#449e00" d="M1221 218l5-5-5-2-6 4z"/>
<path color="#000000" d="M1041 250l6-2-6 0-5 2z"/>
<path color="#000000" d="M1052 248l6-2-6 1-5 1z"/>
<path color="#000000" d="M1063 246l6-1-5 0-6 1z"/>
<path color="#000000" d="M1075 245l5-2-5 0-6 2z"/>
<path color="#000000" d="M1086 243l5-2-5 0-6 2z"/>
<path color="#000000" d="M1097 241l6-2-6 1-6 1z"/>
<path color="#00310a" d="M1164 228l6-3-6 0-5 3z"/>
<path color="#5ca900" d="M1232 216l6-5-6-2-6 4z"/>
<path color="#75b100" d="M1243 214l6-5-6-3-5 5z"/>
<path color="#8eb800" d="M1255 212l5-5-5-4-6 6z"/>
<path color="#aabe00" d="M1266 210l6-6-6-3-6 6z"/>
<path color="#c3c000" d="M1277 208l6-6-6-4-5 6z"/>
<path color="#c9ae00" d="M1289 206l5-6-5-5-6 7z"/>
<path color="#000000" d="M1047 250l5-2-5 0-6 2z"/>
<path color="#000000" d="M1058 248l5-2-5 0-6 2z"/>
<path color="#000000" d="M1069 246l6-1-6 0-6 1z"/>
<path color="#000000" d="M1080 244l6-1-6 0-5 2z"/>
<path color="#000000" d="M1091 243l6-2-6 0-5 2z"/>
<path color="#000000" d="M1102 241l6-2-5 0-6 2z"/>
<path color="#000000" d="M1114 239l5-2-5 0-6 2z"/>
<path color="#000000" d="M1125 237l5-2-5 0-6 2z"/>
<path color="#000000" d="M1136 235l6-2-6 0-6 2z"/>
<path color="#000402" d="M1147 233l6-3-6 0-5 3z"/>
<path color="#002008" d="M1159 231l5-3-5 0-6 2z"/>
<path color="#004008" d="M1170 229l5-3-5-1-6 3z"/>
<path color="#005d01" d="M1181 227l6-3-6-1-6 3z"/>
<path color="#0c7600" d="M1192 225l6-4-6-1-5 4z"/>
<path color="#1d8900" d="M1204 223l5-4-5-1-6 3z"/>
<path color="#309800" d="M1215 222l6-4-6-3-6 4z"/>
<path color="#44a400" d="M1226 220l6-4-6-3-5 5z"/>
<path color="#59ae00" d="M1238 218l5-4-5-3-6 5z"/>
<path color="#6fb500" d="M1249 217l6-5-6-3-6 5z"/>
<path color="#85bc00" d="M1260 215l6-5-6-3-5 5z"/>
<path color="#9dc200" d="M1272 214l5-6-5-4-6 6z"/>
<path color="#b5c800" d="M1283 213l6-7-6-4-6 6z"/>
<path color="#000000" d="M1119 239l6-2-6 0-5 2z"/>
<path color="#000000" d="M1130 237l6-2-6 0-5 2z"/>
<path color="#000000" d="M1142 235l5-2-5 0-6 2z"/>
<path color="#046b00" d="M1187 228l5-3-5-1-6 3z"/>
<path color="#118100" d="M1198 227l6-4-6-2-6 4z"/>
<path color="#209200" d="M1209 225l6-3-6-3-5 4z"/>
<path color="#000000" d="M1052 250l6-2-6 0-5 2z"/>
<path color="#000000" d="M1063 248l6-2-6 0-5 2z"/>
<path color="#000000" d="M1074 246l6-2-5 1-6 1z"/>
<path color="#000000" d="M1086 244l5-1-5 0-6 1z"/>
<path color="#000000" d="M1097 242l5-1-5 0-6 2z"/>
<path color="#000000" d="M1108 241l6-2-6 0-6 2z"/>
<path color="#001305" d="M1153 233l6-2-6-1-6 3z"/>
<path color="#003209" d="M1164 232l6-3-6-1-5 3z"/>
<path color="#005105" d="M1175 230l6-3-6-1-5 3z"/>
<path color="#31a000" d="M1221 224l5-4-5-2-6 4z"/>
<path color="#42aa00" d="M1232 223l6-5-6-2-6 4z"/>
<path color="#53b300" d="M1243 222l6-5-6-3-5 4z"/>
<path color="#65ba00" d="M1254 221l6-6-5-3-6 5z"/>
<path color="#78c100" d="M1266 219l6-5-6-4-6 5z"/>
<path color="#8ac600" d="M1277 218l6-5-6-5-5 6z"/>
<path color="#000000" d="M1058 250l5-2-5 0-6 2z"/>
<path color="#000000" d="M1069 248l5-2-5 0-6 2z"/>
<path color="#000000" d="M1080 246l6-2-6 0-6 2z"/>
<path color="#000000" d="M1091 244l6-2-6 1-5 1z"/>
<path color="#000000" d="M1102 242l6-1-6 0-5 1z"/>
<path color="#000000" d="M1114 241l5-2-5 0-6 2z"/>
<path color="#000000" d="M1125 239l5-2-5 0-6 2z"/>
<path color="#000000" d="M1136 238l6-3-6 0-6 2z"/>
<path color="#000c03" d="M1147 236l6-3-6 0-5 2z"/>
<path color="#002808" d="M1159 234l5-2-5-1-6 2z"/>
<path color="#004708" d="M1170 233l5-3-5-1-6 3z"/>
<path color="#006302" d="M1181 231l6-3-6-1-6 3z"/>
<path color="#087a00" d="M1192 230l6-3-6-2-5 3z"/>
<path color="#148c00" d="M1204 229l5-4-5-2-6 4z"/>
<path color="#219b00" d="M1215 228l6-4-6-2-6 3z"/>
<path color="#2ea700" d="M1226 227l6-4-6-3-5 4z"/>
<path color="#3bb100" d="M1238 226l5-4-5-4-6 5z"/>
<path color="#49b900" d="M1249 225l5-4-5-4-6 5z"/>
<path color="#57bf00" d="M1260 225l6-6-6-4-6 6z"/>
<path color="#64c500" d="M1271 224l6-6-5-4-6 5z"/>
<path color="#000000" d="M1130 240l6-2-6-1-5 2z"/>
<path color="#0a8800" d="M1198 232l6-3-6-2-6 3z"/>
<path color="#000000" d="M1063 250l6-2-6 0-5 2z"/>
<path color="#000000" d="M1074 248l6-2-6 0-5 2z"/>
<path color="#000000" d="M1086 246l5-2-5 0-6 2z"/>
<path color="#000000" d="M1097 244l5-2-5 0-6 2z"/>
<path color="#000000" d="M1108 243l6-2-6 0-6 1z"/>
<path color="#000000" d="M1119 241l6-2-6 0-5 2z"/>
<path color="#000903" d="M1142 238l5-2-5-1-6 3z"/>
<path color="#002208" d="M1153 237l6-3-6-1-6 3z"/>
<path color="#004009" d="M1164 235l6-2-6-1-5 2z"/>
<path color="#005c06" d="M1175 234l6-3-6-1-5 3z"/>
<path color="#017400" d="M1187 233l5-3-5-2-6 3z"/>
<path color="#149800" d="M1209 231l6-3-6-3-5 4z"/>
<path color="#1da400" d="M1221 231l5-4-5-3-6 4z"/>
<path color="#27af00" d="M1232 230l6-4-6-3-6 4z"/>
<path color="#30b700" d="M1243 230l6-5-6-3-5 4z"/>
<path color="#39be00" d="M1254 230l6-5-6-4-5 4z"/>
<path color="#42c500" d="M1266 229l5-5-5-5-6 6z"/>
<path color="#000000" d="M1069 250l5-2-5 0-6 2z"/>
<path color="#000000" d="M1080 248l6-2-6 0-6 2z"/>
<path color="#000000" d="M1091 246l6-2-6 0-5 2z"/>
<path color="#000000" d="M1102 245l6-2-6-1-5 2z"/>
<path color="#000000" d="M1114 243l5-2-5 0-6 2z"/>
<path color="#000000" d="M1125 242l5-2-5-1-6 2z"/>
<path color="#000a03" d="M1136 240l6-2-6 0-6 2z"/>
<path color="#002108" d="M1147 239l6-2-6-1-5 2z"/>
<path color="#003d0a" d="M1159 238l5-3-5-1-6 3z"/>
<path color="#005808" d="M1170 237l5-3-5-1-6 2z"/>
<path color="#007004" d="M1181 236l6-3-6-2-6 3z"/>
<path color="#028400" d="M1192 235l6-3-6-2-5 3z"/>
<path color="#099500" d="M1204 235l5-4-5-2-6 3z"/>
<path color="#10a200" d="M1215 234l6-3-6-3-6 3z"/>
<path color="#16ad00" d="M1226 234l6-4-6-3-5 4z"/>
<path color="#1bb600" d="M1238 234l5-4-5-4-6 4z"/>
<path color="#1fbe00" d="M1249 234l5-4-5-5-6 5z"/>
<path color="#23c400" d="M1260 235l6-6-6-4-6 5z"/>
<path color="#000000" d="M1074 250l6-2-6 0-5 2z"/>
<path color="#000000" d="M1085 248l6-2-5 0-6 2z"/>
<path color="#000000" d="M1097 247l5-2-5-1-6 2z"/>
<path color="#000000" d="M1108 245l6-2-6 0-6 2z"/>
<path color="#000402" d="M1119 244l6-2-6-1-5 2z"/>
<path color="#001105" d="M1130 243l6-3-6 0-5 2z"/>
<path color="#002609" d="M1142 241l5-2-5-1-6 2z"/>
<path color="#003e0b" d="M1153 240l6-2-6-1-6 2z"/>
<path color="#00570b" d="M1164 240l6-3-6-2-5 3z"/>
<path color="#006e08" d="M1175 239l6-3-6-2-5 3z"/>
<path color="#008204" d="M1187 238l5-3-5-2-6 3z"/>
<path color="#019300" d="M1198 238l6-3-6-3-6 3z"/>
<path color="#04a100" d="M1209 238l6-4-6-3-5 4z"/>
<path color="#07ac00" d="M1221 238l5-4-5-3-6 3z"/>
<path color="#08b500" d="M1232 238l6-4-6-4-6 4z"/>
<path color="#08bd00" d="M1243 239l6-5-6-4-5 4z"/>
<path color="#07c300" d="M1254 239l6-4-6-5-5 4z"/>
<path color="#000e09" d="M1080 251l5-3-5 0-6 2z"/>
<path color="#000a06" d="M1091 249l6-2-6-1-6 2z"/>
<path color="#000c05" d="M1102 247l6-2-6 0-5 2z"/>
<path color="#001207" d="M1114 246l5-2-5-1-6 2z"/>
<path color="#001e09" d="M1125 245l5-2-5-1-6 2z"/>
<path color="#002f0c" d="M1136 244l6-3-6-1-6 3z"/>
<path color="#00440d" d="M1147 243l6-3-6-1-5 2z"/>
<path color="#005a0d" d="M1159 242l5-2-5-2-6 2z"/>
<path color="#006f0b" d="M1170 242l5-3-5-2-6 3z"/>
<path color="#008209" d="M1181 241l6-3-6-2-6 3z"/>
<path color="#009207" d="M1192 241l6-3-6-3-5 3z"/>
<path color="#00a006" d="M1204 241l5-3-5-3-6 3z"/>
<path color="#00ab06" d="M1215 242l6-4-6-4-6 4z"/>
<path color="#00b408" d="M1226 242l6-4-6-4-5 4z"/>
<path color="#00bc0c" d="M1237 243l6-4-5-5-6 4z"/>
<path color="#00c312" d="M1249 244l5-5-5-5-6 5z"/>
<path color="#002916" d="M1085 252l6-3-6-1-5 3z"/>
<path color="#002611" d="M1097 250l5-3-5 0-6 2z"/>
<path color="#00290f" d="M1108 249l6-3-6-1-6 2z"/>
<path color="#00310f" d="M1119 247l6-2-6-1-5 2z"/>
<path color="#003e0f" d="M1130 246l6-2-6-1-5 2z"/>
<path color="#004e10" d="M1142 245l5-2-5-2-6 3z"/>
<path color="#00600f" d="M1153 245l6-3-6-2-6 3z"/>
<path color="#00720e" d="M1164 244l6-2-6-2-5 2z"/>
<path color="#00830d" d="M1175 244l6-3-6-2-5 3z"/>
<path color="#00920d" d="M1187 244l5-3-5-3-6 3z"/>
<path color="#009f0e" d="M1198 244l6-3-6-3-6 3z"/>
<path color="#00ab11" d="M1209 245l6-3-6-4-5 3z"/>
<path color="#00b416" d="M1221 246l5-4-5-4-6 4z"/>
<path color="#00bc1e" d="M1232 247l5-4-5-5-6 4z"/>
<path color="#00c329" d="M1243 248l6-4-6-5-6 4z"/>
<path color="#004721" d="M1091 253l6-3-6-1-6 3z"/>
<path color="#00451b" d="M1102 251l6-2-6-2-5 3z"/>
<path color="#005015" d="M1125 249l5-3-5-1-6 2z"/>
<path color="#005b13" d="M1136 248l6-3-6-1-6 2z"/>
<path color="#006912" d="M1147 247l6-2-6-2-5 2z"/>
<path color="#007811" d="M1159 247l5-3-5-2-6 3z"/>
<path color="#008611" d="M1170 247l5-3-5-2-6 2z"/>
<path color="#009412" d="M1181 247l6-3-6-3-6 3z"/>
<path color="#00a015" d="M1192 248l6-4-6-3-5 3z"/>
<path color="#00ab1b" d="M1204 248l5-3-5-4-6 3z"/>
<path color="#00bb2e" d="M1226 251l6-4-6-5-5 4z"/>
<path color="#00c23c" d="M1237 253l6-5-6-5-5 4z"/>
<path color="#004817" d="M1114 250l5-3-5-1-6 3z"/>
<path color="#00b423" d="M1215 249l6-3-6-4-6 3z"/>
<path color="#006129" d="M1097 254l5-3-5-1-6 3z"/>
<path color="#006a19" d="M1130 251l6-3-6-2-5 3z"/>
<path color="#007416" d="M1142 250l5-3-5-2-6 3z"/>
<path color="#007f15" d="M1153 250l6-3-6-2-6 2z"/>
<path color="#008a16" d="M1164 250l6-3-6-3-5 3z"/>
<path color="#009618" d="M1176 250l5-3-6-3-5 3z"/>
<path color="#00a11c" d="M1187 251l5-3-5-4-6 3z"/>
<path color="#00ab23" d="M1198 252l6-4-6-4-6 4z"/>
<path color="#00c24e" d="M1232 257l5-4-5-6-6 4z"/>
<path color="#006021" d="M1108 253l6-3-6-1-6 2z"/>
<path color="#00631c" d="M1119 252l6-3-6-2-5 3z"/>
<path color="#00b42e" d="M1209 253l6-4-6-4-5 3z"/>
<path color="#00bb3c" d="M1221 255l5-4-5-5-6 3z"/>
<path color="#007f1c" d="M1136 253l6-3-6-2-6 3z"/>
<path color="#00871a" d="M1147 253l6-3-6-3-5 3z"/>
<path color="#00901b" d="M1159 253l5-3-5-3-6 3z"/>
<path color="#00991d" d="M1170 253l6-3-6-3-6 3z"/>
<path color="#00a323" d="M1181 254l6-3-6-4-5 3z"/>
<path color="#00ab2b" d="M1192 255l6-3-6-4-5 3z"/>
<path color="#00772d" d="M1102 256l6-3-6-2-5 3z"/>
<path color="#007725" d="M1114 255l5-3-5-2-6 3z"/>
<path color="#00791f" d="M1125 254l5-3-5-2-6 3z"/>
<path color="#00b438" d="M1204 256l5-3-5-5-6 4z"/>
<path color="#00bb48" d="M1215 258l6-3-6-6-6 4z"/>
<path color="#00c15d" d="M1226 261l6-4-6-6-5 4z"/>
<path color="#008f21" d="M1142 256l5-3-5-3-6 3z"/>
<path color="#009521" d="M1153 256l6-3-6-3-6 3z"/>
<path color="#00a429" d="M1176 257l5-3-5-4-6 3z"/>
<path color="#00ac33" d="M1187 258l5-3-5-4-6 3z"/>
<path color="#008831" d="M1108 258l6-3-6-2-6 3z"/>
<path color="#008829" d="M1119 257l6-3-6-2-5 3z"/>
<path color="#008b23" d="M1130 256l6-3-6-2-5 3z"/>
<path color="#009d23" d="M1164 256l6-3-6-3-5 3z"/>
<path color="#00b440" d="M1198 259l6-3-6-4-6 3z"/>
<path color="#00ba53" d="M1209 262l6-4-6-5-5 3z"/>
<path color="#00c06a" d="M1221 264l5-3-5-6-6 3z"/>
<path color="#009c28" d="M1147 259l6-3-6-3-5 3z"/>
<path color="#00ad3a" d="M1181 261l6-3-6-4-5 3z"/>
<path color="#009635" d="M1114 261l5-4-5-2-6 3z"/>
<path color="#00962d" d="M1125 260l5-4-5-2-6 3z"/>
<path color="#009829" d="M1136 259l6-3-6-3-6 3z"/>
<path color="#00a12a" d="M1159 259l5-3-5-3-6 3z"/>
<path color="#00a730" d="M1170 260l6-3-6-4-6 3z"/>
<path color="#00b348" d="M1192 263l6-4-6-4-5 3z"/>
<path color="#00ba5c" d="M1204 265l5-3-5-6-6 3z"/>
<path color="#00bf75" d="M1215 268l6-4-6-6-6 4z"/>
<path color="#00a03b" d="M1119 264l6-4-6-3-5 4z"/>
<path color="#00a034" d="M1130 263l6-4-6-3-5 4z"/>
<path color="#00a231" d="M1142 262l5-3-5-3-6 3z"/>
<path color="#00a532" d="M1153 262l6-3-6-3-6 3z"/>
<path color="#00a938" d="M1164 263l6-3-6-4-5 3z"/>
<path color="#00ae41" d="M1176 264l5-3-5-4-6 3z"/>
<path color="#00b350" d="M1187 266l5-3-5-5-6 3z"/>
<path color="#00b964" d="M1198 268l6-3-6-6-6 4z"/>
<path color="#00be7e" d="M1209 271l6-3-6-6-5 3z"/>
<path color="#00a742" d="M1125 267l5-4-5-3-6 4z"/>
<path color="#00a73d" d="M1136 266l6-4-6-3-6 4z"/>
<path color="#00a93c" d="M1147 266l6-4-6-3-5 3z"/>
<path color="#00ab40" d="M1159 266l5-3-5-4-6 3z"/>
<path color="#00af49" d="M1170 267l6-3-6-4-6 3z"/>
<path color="#00b357" d="M1181 269l6-3-6-5-5 3z"/>
<path color="#00b86b" d="M1192 271l6-3-6-5-5 3z"/>
<path color="#00bd85" d="M1204 274l5-3-5-6-6 3z"/>
<path color="#00ad4b" d="M1130 270l6-4-6-3-5 4z"/>
<path color="#00ad49" d="M1153 270l6-4-6-4-6 4z"/>
<path color="#00b050" d="M1164 271l6-4-6-4-5 3z"/>
<path color="#00b35d" d="M1176 272l5-3-5-5-6 3z"/>
<path color="#00bb8a" d="M1198 277l6-3-6-6-6 3z"/>
<path color="#00ac47" d="M1142 270l5-4-5-4-6 4z"/>
<path color="#00b770" d="M1187 274l5-3-5-5-6 3z"/>
<path color="#00b059" d="M1159 274l5-3-5-5-6 4z"/>
<path color="#00b263" d="M1170 275l6-3-6-5-6 4z"/>
<path color="#00b055" d="M1136 274l6-4-6-4-6 4z"/>
<path color="#00af54" d="M1147 273l6-3-6-4-5 4z"/>
<path color="#00b574" d="M1181 277l6-3-6-5-5 3z"/>
<path color="#00b88d" d="M1192 280l6-3-6-6-5 3z"/>
<path color="#00b161" d="M1142 277l5-4-5-3-6 4z"/>
<path color="#00b062" d="M1153 277l6-3-6-4-6 3z"/>
<path color="#00b169" d="M1164 278l6-3-6-4-5 3z"/>
<path color="#00b278" d="M1176 280l5-3-5-5-6 3z"/>
<path color="#00b58e" d="M1187 282l5-2-5-6-6 3z"/>
<path color="#00b06c" d="M1147 281l6-4-6-4-5 4z"/>
<path color="#00af6f" d="M1159 281l5-3-5-4-6 3z"/>
<path color="#00af7a" d="M1170 283l6-3-6-5-6 3z"/>
<path color="#00b08d" d="M1181 285l6-3-6-5-5 3z"/>
<path color="#00ad76" d="M1153 285l6-4-6-4-6 4z"/>
<path color="#00ab7b" d="M1164 285l6-2-6-5-5 3z"/>
<path color="#00aa89" d="M1176 287l5-2-5-5-6 3z"/>
<path color="#00a57b" d="M1159 288l5-3-5-4-6 4z"/>
<path color="#00a282" d="M1170 289l6-2-6-4-6 2z"/>
<path color="#009678" d="M1164 291l6-2-6-4-5 3z"/>
</g>
<line x1="42.9" y1="435.1" x2="37.7" y2="322.9" stroke="#8c8c8c" stroke-width="0.75"/>
<line x1="58.5" y1="402.4" x2="55.3" y2="318.7" stroke="#8c8c8c" stroke-width="0.75"/>
<line x1="75.2" y1="396.6" x2="72.7" y2="314.6" stroke="#8c8c8c" stroke-width="0.75"/>
<line x1="91.8" y1="391.1" x2="90.2" y2="310.8" stroke="#8c8c8c" stroke-width="0.75"/>
<line x1="108.4" y1="385.8" x2="107.5" y2="307.1" stroke="#8c8c8c" stroke-width="0.75"/>
<line x1="125" y1="380.7" x2="124.9" y2="303.6" stroke="#8c8c8c" stroke-width="0.75"/>
<line x1="41.7" y1="408.5" x2="125" y2="380.7" stroke="#8c8c8c" stroke-width="0.75"/>
<line x1="40.7" y1="387.7" x2="124.9" y2="361.9" stroke="#8c8c8c" stroke-width="0.75"/>
<line x1="39.8" y1="366.5" x2="124.9" y2="342.8" stroke="#8c8c8c" stroke-width="0.75"/>
<line x1="38.7" y1="344.9" x2="124.9" y2="323.4" stroke="#8c8c8c" stroke-width="0.75"/>
<line x1="37.7" y1="322.9" x2="124.9" y2="303.6" stroke="#8c8c8c" stroke-width="0.75"/>
<line x1="207.3" y1="435.1" x2="212.3" y2="323.1" stroke="#8c8c8c" stroke-width="0.75"/>
<line x1="187.5" y1="401" x2="190.3" y2="317.8" stroke="#8c8c8c" stroke-width="0.75"/>
<line x1="166.6" y1="393.8" x2="168.4" y2="312.8" stroke="#8c8c8c" stroke-width="0.75"/>
<line x1="145.7" y1="387.1" x2="146.6" y2="308.1" stroke="#8c8c8c" stroke-width="0.75"/>
<line x1="125" y1="380.7" x2="124.9" y2="303.6" stroke="#8c8c8c" stroke-width="0.75"/>
<line x1="208.5" y1="408.5" x2="125" y2="380.7" stroke="#8c8c8c" stroke-width="0.75"/>
<line x1="209.4" y1="387.8" x2="124.9" y2="361.9" stroke="#8c8c8c" stroke-width="0.75"/>
<line x1="210.3" y1="366.6" x2="124.9" y2="342.8" stroke="#8c8c8c" stroke-width="0.75"/>
<line x1="211.3" y1="345.1" x2="124.9" y2="323.4" stroke="#8c8c8c" stroke-width="0.75"/>
<line x1="212.3" y1="323.1" x2="124.9" y2="303.6" stroke="#8c8c8c" stroke-width="0.75"/>
<polygon points="125.2,473.5 207.3,435.1 125,404.7 42.9,435.1" fill="#ffff00" stroke="#333" stroke-width="0.6"/>
<path transform="scale(.5)" d="M323 869l4 1 3 1 3 2 3 1 1 1 3 2 1 1 2 2 1 1 1 1 1 2 0 1 1 2 0 1 0 1-1 2 0 2-1 1-1 1-1 2-1 1-2 2-2 1-3 2-3 1-3 2-3 1-4 2-4 1-2 1-4 1-3 0-4 1-3 0-2 1-4 0-4 0-3 1-4 0-3-1-3 0-2 0-5-1-2 0-4-2-4-1-3-2-3-2-2-1-1-1-2-2-1-2-1-1-1-1-1-2 0-2-1-1 0-1 0-2 0-1 0-2 0-1 1-2 0-1 1-1 1-2 1-1 1-1 3-2 1-1 3-2 3-1 3-2 4-1 3-1 3 0 3-1 4 0 2-1 4 0 4 0 3 0 4-1 3 1 3 0 3 0 3 0 4 1 2 0 5 1 2 1" stroke="#6b6340" stroke-width="1.4" fill="none"/>
<path transform="scale(.5)" d="M285 929l-4 0-3 0-3 0-3 0-5 0-3-1-2 0-5-1-2-1-4-1-3-2-4-1-3-2-3-2-2-2-2-1-2-2-1-1-2-2-1-1-2-2-1-1-1-2-1-1-1-2 0-1-1-2 0-1-1-2 0-1-1-2 0-1 0-2 0-1 0-2 0-1 0-2 0-1 1-1 0-1 1-2 0-1 1-2 1-1 1-1 2-2 1-1 2-2 1-1 2-1 2-1 2-2 3-1 4-2 3-1 4-1 3-1 2-1 4-1 3 0 4-1 3 0 4-1 2 0 4-1 3 0 3-1 4 0 4-1 2 0 3 0 3 0 4 0 4-1 3 0 4 0 3 0 3 0 3 1 2 0 5 1 2 0 4 1 3 1 3 2 1 1 3 1 3 2 2 1 2 1 2 2 1 1 3 1 1 1 2 2 1 1 2 2 1 1 1 1 2 2 0 1 1 1 1 2 1 1 1 2 0 1 0 1 0 1 1 2" stroke="#6b6340" stroke-width="1.4" fill="none"/>
<path transform="scale(.5)" d="M169 907l0-2 0-1 0-2 0-1 0-2-1-2 0-1 0-2 0-1 0-2-1-1 0-1 0-2 0-1 0-1 0-2 0-1-1-2 0-1 0-1 0-2 0-1 1-2 0-1 0-1 1-2 0-2 1-1 0-1 1-1 1-2 1-1 1-1 1-2 1-1 1-1 2-2 1 0 2-2 2-1 2-2 1 0 3-2 2-1 1-1 3-2 3-1 1-1 3-1 3-2 2-1 2-1 3-1 3-1 3-2 2-1 2-1 3-1 3-1 4-1 3-1 2-1 4-1 3-1 4-1 2 0 4-1 4-1 2-1 4 0 3-1 4-2" stroke="#66dd44" stroke-width="1.4" fill="none"/>
<line x1="122.5" y1="309" x2="122.5" y2="368" stroke="#555" stroke-width="0.8"/>
<g transform="scale(.5)" fill="currentColor" stroke="currentColor" stroke-width="0.9" stroke-linejoin="round">
<path color="#000000" d="M250 745l5 1-5-3-6 0z"/>
<path color="#000504" d="M244 745l6 0-6-2-5 0z"/>
<path color="#000000" d="M255 746l6 0-6 0-5-1z"/>
<path color="#002218" d="M239 746l5-1-5-2-6 1z"/>
<path color="#000000" d="M250 746l5 0-5-1-6 0z"/>
<path color="#000d09" d="M261 745l6-1-6 2-6 0z"/>
<path color="#003323" d="M233 747l6-1-6-2-5 1z"/>
<path color="#000000" d="M244 747l6-1-6-1-5 1z"/>
<path color="#000d09" d="M255 745l6 0-6 1-5 0z"/>
<path color="#000d07" d="M267 743l5-2-5 3-6 1z"/>
<path color="#003725" d="M228 749l5-2-5-2-6 2z"/>
<path color="#000000" d="M239 748l5-1-5-1-6 1z"/>
<path color="#000000" d="M250 746l5-1-5 1-6 1z"/>
<path color="#000d06" d="M261 744l6-1-6 2-6 0z"/>
<path color="#000d03" d="M272 740l6-3-6 4-5 2z"/>
<path color="#003022" d="M222 751l6-2-6-2-5 3z"/>
<path color="#000000" d="M233 749l6-1-6-1-5 2z"/>
<path color="#000000" d="M244 747l6-1-6 1-5 1z"/>
<path color="#000d06" d="M256 745l5-1-6 1-5 1z"/>
<path color="#000d03" d="M267 741l5-1-5 3-6 1z"/>
<path color="#000d00" d="M278 736l5-3-5 4-6 3z"/>
<path color="#002118" d="M217 753l5-2-5-1-6 3z"/>
<path color="#000000" d="M228 751l5-2-5 0-6 2z"/>
<path color="#000000" d="M239 749l5-2-5 1-6 1z"/>
<path color="#000d06" d="M250 746l6-1-6 1-6 1z"/>
<path color="#000d03" d="M261 743l6-2-6 3-5 1z"/>
<path color="#000d00" d="M272 738l6-2-6 4-5 1z"/>
<path color="#050d00" d="M284 732l5-3-6 4-5 3z"/>
<path color="#000000" d="M233 750l6-1-6 0-5 2z"/>
<path color="#000d05" d="M244 747l6-1-6 1-5 2z"/>
<path color="#000d03" d="M256 744l5-1-5 2-6 1z"/>
<path color="#000d00" d="M267 740l5-2-5 3-6 2z"/>
<path color="#000c0a" d="M211 756l6-3-6 0-6 3z"/>
<path color="#000000" d="M222 753l6-2-6 0-5 2z"/>
<path color="#040d00" d="M278 735l6-3-6 4-6 2z"/>
<path color="#000000" d="M289 729l6-5-6 5-5 3z"/>
<path color="#000d05" d="M239 749l5-2-5 2-6 1z"/>
<path color="#000d03" d="M250 746l6-2-6 2-6 1z"/>
<path color="#000d00" d="M261 742l6-2-6 3-5 1z"/>
<path color="#000000" d="M205 758l6-2-6 0-5 3z"/>
<path color="#000000" d="M217 755l5-2-5 0-6 3z"/>
<path color="#000000" d="M228 752l5-2-5 1-6 2z"/>
<path color="#030d00" d="M272 738l6-3-6 3-5 2z"/>
<path color="#070d00" d="M284 732l5-3-5 3-6 3z"/>
<path color="#000000" d="M295 725l5-5-5 4-6 5z"/>
<path color="#000000" d="M200 761l5-3-5 1-6 3z"/>
<path color="#000000" d="M211 757l6-2-6 1-6 2z"/>
<path color="#000000" d="M222 753l6-1-6 1-5 2z"/>
<path color="#000d05" d="M233 750l6-1-6 1-5 2z"/>
<path color="#000d02" d="M244 747l6-1-6 1-5 2z"/>
<path color="#000d00" d="M256 743l5-1-5 2-6 2z"/>
<path color="#030d00" d="M267 739l5-1-5 2-6 2z"/>
<path color="#060d00" d="M278 735l6-3-6 3-6 3z"/>
<path color="#000000" d="M289 729l6-4-6 4-5 3z"/>
<path color="#000000" d="M301 722l5-5-6 3-5 5z"/>
<path color="#000000" d="M194 764l6-3-6 1-5 4z"/>
<path color="#000000" d="M205 760l6-3-6 1-5 3z"/>
<path color="#000000" d="M217 755l5-2-5 2-6 2z"/>
<path color="#000d05" d="M228 752l5-2-5 2-6 1z"/>
<path color="#000d02" d="M239 748l5-1-5 2-6 1z"/>
<path color="#000d00" d="M250 744l6-1-6 3-6 1z"/>
<path color="#030d00" d="M261 741l6-2-6 3-5 1z"/>
<path color="#060d00" d="M272 736l6-1-6 3-5 1z"/>
<path color="#0a0d00" d="M284 732l5-3-5 3-6 3z"/>
<path color="#000000" d="M295 726l6-4-6 3-6 4z"/>
<path color="#000000" d="M306 719l6-5-6 3-5 5z"/>
<path color="#000000" d="M189 767l5-3-5 2-6 3z"/>
<path color="#000000" d="M200 762l5-2-5 1-6 3z"/>
<path color="#000000" d="M211 758l6-3-6 2-6 3z"/>
<path color="#000d05" d="M222 753l6-1-6 1-5 2z"/>
<path color="#000d02" d="M233 749l6-1-6 2-5 2z"/>
<path color="#010d00" d="M244 745l6-1-6 3-5 1z"/>
<path color="#030d00" d="M256 742l5-1-5 2-6 1z"/>
<path color="#060d00" d="M267 738l5-2-5 3-6 2z"/>
<path color="#090d00" d="M278 734l6-2-6 3-6 1z"/>
<path color="#0d0c00" d="M289 729l6-3-6 3-5 3z"/>
<path color="#000000" d="M301 723l5-4-5 3-6 4z"/>
<path color="#0a0200" d="M312 717l6-5-6 2-6 5z"/>
<path color="#000000" d="M183 770l6-3-6 2-5 3z"/>
<path color="#000000" d="M194 765l6-3-6 2-5 3z"/>
<path color="#000000" d="M205 760l6-2-6 2-5 2z"/>
<path color="#000d05" d="M216 755l6-2-5 2-6 3z"/>
<path color="#000d02" d="M228 751l5-2-5 3-6 1z"/>
<path color="#010d00" d="M239 746l5-1-5 3-6 1z"/>
<path color="#040d00" d="M250 743l6-1-6 2-6 1z"/>
<path color="#060d00" d="M261 739l6-1-6 3-5 1z"/>
<path color="#090d00" d="M272 735l6-1-6 2-5 2z"/>
<path color="#0d0d00" d="M284 731l5-2-5 3-6 2z"/>
<path color="#000000" d="M295 726l6-3-6 3-6 3z"/>
<path color="#000000" d="M306 721l6-4-6 2-5 4z"/>
<path color="#360300" d="M318 716l5-5-5 1-6 5z"/>
<path color="#000000" d="M178 773l5-3-5 2-6 4z"/>
<path color="#000000" d="M189 768l5-3-5 2-6 3z"/>
<path color="#000000" d="M200 762l5-2-5 2-6 3z"/>
<path color="#000d05" d="M211 757l5-2-5 3-6 2z"/>
<path color="#000d02" d="M222 752l6-1-6 2-6 2z"/>
<path color="#010d00" d="M233 748l6-2-6 3-5 2z"/>
<path color="#040d00" d="M244 743l6 0-6 2-5 1z"/>
<path color="#070d00" d="M256 739l5 0-5 3-6 1z"/>
<path color="#0a0d00" d="M267 736l5-1-5 3-6 1z"/>
<path color="#0d0d00" d="M278 732l6-1-6 3-6 1z"/>
<path color="#0d0a00" d="M289 728l6-2-6 3-5 2z"/>
<path color="#000000" d="M301 724l5-3-5 2-6 3z"/>
<path color="#000000" d="M312 720l6-4-6 1-6 4z"/>
<path color="#580000" d="M323 716l6-5-6 0-5 5z"/>
<path color="#000000" d="M172 777l6-4-6 3-5 3z"/>
<path color="#000000" d="M183 771l6-3-6 2-5 3z"/>
<path color="#000d09" d="M194 765l6-3-6 3-5 3z"/>
<path color="#000d05" d="M205 759l6-2-6 3-5 2z"/>
<path color="#000d02" d="M216 754l6-2-6 3-5 2z"/>
<path color="#020d00" d="M228 749l5-1-5 3-6 1z"/>
<path color="#0d0c00" d="M272 733l6-1-6 3-5 1z"/>
<path color="#0d0a00" d="M284 729l5-1-5 3-6 1z"/>
<path color="#0d0700" d="M295 726l6-2-6 2-6 2z"/>
<path color="#000000" d="M306 722l6-2-6 1-5 3z"/>
<path color="#000000" d="M318 719l5-3-5 0-6 4z"/>
<path color="#6e0000" d="M329 716l6-5-6 0-6 5z"/>
<path color="#050d00" d="M239 744l5-1-5 3-6 2z"/>
<path color="#080d00" d="M250 740l6-1-6 4-6 0z"/>
<path color="#0a0d00" d="M261 736l6 0-6 3-5 0z"/>
<path color="#000000" d="M167 779l5-2-5 2-6 3z"/>
<path color="#000000" d="M178 774l5-3-5 2-6 4z"/>
<path color="#000d0a" d="M189 768l5-3-5 3-6 3z"/>
<path color="#000d06" d="M200 762l5-3-5 3-6 3z"/>
<path color="#000d02" d="M211 756l5-2-5 3-6 2z"/>
<path color="#020d00" d="M222 750l6-1-6 3-6 2z"/>
<path color="#0d0900" d="M278 730l6-1-6 3-6 1z"/>
<path color="#0d0700" d="M289 726l6 0-6 2-5 1z"/>
<path color="#0d0400" d="M301 723l5-1-5 2-6 2z"/>
<path color="#000000" d="M312 721l6-2-6 1-6 2z"/>
<path color="#070000" d="M323 718l6-2-6 0-5 3z"/>
<path color="#7a0000" d="M335 716l6-3-6-2-6 5z"/>
<path color="#050d00" d="M233 745l6-1-6 4-5 1z"/>
<path color="#080d00" d="M244 741l6-1-6 3-5 1z"/>
<path color="#0b0d00" d="M256 737l5-1-5 3-6 1z"/>
<path color="#0d0c00" d="M267 733l5 0-5 3-6 0z"/>
<path color="#000000" d="M161 782l6-3-6 3-5 2z"/>
<path color="#000000" d="M172 777l6-3-6 3-5 2z"/>
<path color="#000d0b" d="M183 771l6-3-6 3-5 3z"/>
<path color="#000d07" d="M194 765l6-3-6 3-5 3z"/>
<path color="#000d02" d="M205 758l6-2-6 3-5 3z"/>
<path color="#020d00" d="M216 752l6-2-6 4-5 2z"/>
<path color="#050d00" d="M228 747l5-2-5 4-6 1z"/>
<path color="#090d00" d="M239 742l5-1-5 3-6 1z"/>
<path color="#0c0d00" d="M250 737l6 0-6 3-6 1z"/>
<path color="#0d0b00" d="M261 733l6 0-6 3-5 1z"/>
<path color="#0d0800" d="M273 730l5 0-6 3-5 0z"/>
<path color="#0d0600" d="M284 727l5-1-5 3-6 1z"/>
<path color="#0d0400" d="M295 724l6-1-6 3-6 0z"/>
<path color="#0d0200" d="M307 722l5-1-6 1-5 1z"/>
<path color="#000000" d="M318 720l5-2-5 1-6 2z"/>
<path color="#110000" d="M329 719l6-3-6 0-6 2z"/>
<path color="#7e0000" d="M341 718l5-3-5-2-6 3z"/>
<path color="#000000" d="M156 785l5-3-5 2-6 3z"/>
<path color="#000000" d="M167 780l5-3-5 2-6 3z"/>
<path color="#000000" d="M178 774l5-3-5 3-6 3z"/>
<path color="#000d07" d="M189 768l5-3-5 3-6 3z"/>
<path color="#000d03" d="M200 761l5-3-5 4-6 3z"/>
<path color="#020d00" d="M211 754l5-2-5 4-6 2z"/>
<path color="#060d00" d="M222 748l6-1-6 3-6 2z"/>
<path color="#090d00" d="M233 743l6-1-6 3-5 2z"/>
<path color="#0d0d00" d="M244 738l6-1-6 4-5 1z"/>
<path color="#0d0a00" d="M256 733l5 0-5 4-6 0z"/>
<path color="#0d0700" d="M267 730l6 0-6 3-6 0z"/>
<path color="#0d0500" d="M278 727l6 0-6 3-5 0z"/>
<path color="#0d0300" d="M290 724l5 0-6 2-5 1z"/>
<path color="#0d0100" d="M301 722l6 0-6 1-6 1z"/>
<path color="#0d0000" d="M312 720l6 0-6 1-5 1z"/>
<path color="#000000" d="M324 719l5 0-6-1-5 2z"/>
<path color="#110000" d="M335 719l6-1-6-2-6 3z"/>
<path color="#790000" d="M346 720l6-2-6-3-5 3z"/>
<path color="#000000" d="M161 783l6-3-6 2-5 3z"/>
<path color="#000000" d="M172 777l6-3-6 3-5 3z"/>
<path color="#000d08" d="M183 771l6-3-6 3-5 3z"/>
<path color="#000d04" d="M194 764l6-3-6 4-5 3z"/>
<path color="#010d00" d="M205 757l6-3-6 4-5 3z"/>
<path color="#0d0000" d="M295 722l6 0-6 2-5 0z"/>
<path color="#0d0000" d="M307 720l5 0-5 2-6 0z"/>
<path color="#0d0000" d="M318 720l6-1-6 1-6 0z"/>
<path color="#000000" d="M329 720l6-1-6 0-5 0z"/>
<path color="#090000" d="M341 721l5-1-5-2-6 1z"/>
<path color="#000000" d="M150 788l6-3-6 2-5 2z"/>
<path color="#060d00" d="M216 750l6-2-6 4-5 2z"/>
<path color="#0a0d00" d="M227 744l6-1-5 4-6 1z"/>
<path color="#0d0c00" d="M239 739l5-1-5 4-6 1z"/>
<path color="#0d0900" d="M250 734l6-1-6 4-6 1z"/>
<path color="#0d0600" d="M261 730l6 0-6 3-5 0z"/>
<path color="#0d0400" d="M273 726l5 1-5 3-6 0z"/>
<path color="#0d0200" d="M284 724l6 0-6 3-6 0z"/>
<path color="#6b0000" d="M352 723l5-1-5-4-6 2z"/>
<path color="#000000" d="M144 791l6-3-5 1-6 3z"/>
<path color="#000000" d="M155 786l6-3-5 2-6 3z"/>
<path color="#000000" d="M166 781l6-4-5 3-6 3z"/>
<path color="#000d09" d="M177 774l6-3-5 3-6 3z"/>
<path color="#000d04" d="M188 767l6-3-5 4-6 3z"/>
<path color="#000d00" d="M200 760l5-3-5 4-6 3z"/>
<path color="#0d0000" d="M301 719l6 1-6 2-6 0z"/>
<path color="#0d0000" d="M312 719l6 1-6 0-5 0z"/>
<path color="#0d0000" d="M324 719l5 1-5-1-6 1z"/>
<path color="#000000" d="M335 720l6 1-6-2-6 1z"/>
<path color="#000000" d="M346 723l6 0-6-3-5 1z"/>
<path color="#520000" d="M358 726l5 0-6-4-5 1z"/>
<path color="#050d00" d="M211 753l5-3-5 4-6 3z"/>
<path color="#0a0d00" d="M222 746l5-2-5 4-6 2z"/>
<path color="#0d0c00" d="M233 740l6-1-6 4-6 1z"/>
<path color="#0d0800" d="M244 734l6 0-6 4-5 1z"/>
<path color="#0d0500" d="M256 730l5 0-5 3-6 1z"/>
<path color="#0d0200" d="M267 726l6 0-6 4-6 0z"/>
<path color="#0d0000" d="M278 723l6 1-6 3-5-1z"/>
<path color="#0d0000" d="M290 721l5 1-5 2-6 0z"/>
<path color="#000000" d="M139 793l5-2-5 1-6 2z"/>
<path color="#000000" d="M150 789l5-3-5 2-6 3z"/>
<path color="#000000" d="M161 784l5-3-5 2-6 3z"/>
<path color="#000000" d="M172 778l5-4-5 3-6 4z"/>
<path color="#000d05" d="M183 770l5-3-5 4-6 3z"/>
<path color="#000d00" d="M194 763l6-3-6 4-6 3z"/>
<path color="#050d00" d="M205 755l6-2-6 4-5 3z"/>
<path color="#090d00" d="M216 748l6-2-6 4-5 3z"/>
<path color="#0d0c00" d="M227 741l6-1-6 4-5 2z"/>
<path color="#0d0800" d="M239 735l5-1-5 5-6 1z"/>
<path color="#0d0400" d="M250 730l6 0-6 4-6 0z"/>
<path color="#0d0100" d="M261 726l6 0-6 4-5 0z"/>
<path color="#0d0000" d="M273 722l5 1-5 3-6 0z"/>
<path color="#0d0000" d="M284 720l6 1-6 3-6-1z"/>
<path color="#0d0000" d="M295 718l6 1-6 3-5-1z"/>
<path color="#0d0000" d="M307 718l5 1-5 1-6-1z"/>
<path color="#0d0000" d="M318 718l6 1-6 1-6-1z"/>
<path color="#0d0000" d="M329 719l6 1-6 0-5-1z"/>
<path color="#000000" d="M341 722l5 1-5-2-6-1z"/>
<path color="#000000" d="M352 725l6 1-6-3-6 0z"/>
<path color="#2d0600" d="M363 730l6 1-6-5-5 0z"/>
<path color="#000000" d="M133 796l6-3-6 1-5 2z"/>
<path color="#000000" d="M144 792l6-3-6 2-5 2z"/>
<path color="#000000" d="M155 787l6-3-6 2-5 3z"/>
<path color="#000000" d="M166 781l6-3-6 3-5 3z"/>
<path color="#000000" d="M177 774l6-4-6 4-5 4z"/>
<path color="#000d02" d="M188 767l6-4-6 4-5 3z"/>
<path color="#040d00" d="M199 759l6-4-5 5-6 3z"/>
<path color="#090d00" d="M211 751l5-3-5 5-6 2z"/>
<path color="#0d0c00" d="M222 744l5-3-5 5-6 2z"/>
<path color="#0d0700" d="M233 737l6-2-6 5-6 1z"/>
<path color="#0d0300" d="M244 731l6-1-6 4-5 1z"/>
<path color="#0d0000" d="M256 726l5 0-5 4-6 0z"/>
<path color="#0d0000" d="M267 722l6 0-6 4-6 0z"/>
<path color="#0d0000" d="M278 719l6 1-6 3-5-1z"/>
<path color="#0d0000" d="M290 717l5 1-5 3-6-1z"/>
<path color="#0d0000" d="M301 716l6 2-6 1-6-1z"/>
<path color="#0d0000" d="M313 716l5 2-6 1-5-1z"/>
<path color="#0d0000" d="M324 718l5 1-5 0-6-1z"/>
<path color="#0d0000" d="M335 720l6 2-6-2-6-1z"/>
<path color="#000000" d="M346 723l6 2-6-2-5-1z"/>
<path color="#000000" d="M358 728l5 2-5-4-6-1z"/>
<path color="#020100" d="M369 734l5 2-5-5-6-1z"/>
<path color="#000d03" d="M183 770l5-3-5 3-6 4z"/>
<path color="#0d0000" d="M318 716l6 2-6 0-5-2z"/>
<path color="#000000" d="M128 798l5-2-5 0-6 2z"/>
<path color="#000000" d="M139 795l5-3-5 1-6 3z"/>
<path color="#000000" d="M150 791l5-4-5 2-6 3z"/>
<path color="#000000" d="M161 785l5-4-5 3-6 3z"/>
<path color="#000000" d="M172 778l5-4-5 4-6 3z"/>
<path color="#030d00" d="M194 762l5-3-5 4-6 4z"/>
<path color="#080d00" d="M205 754l6-3-6 4-6 4z"/>
<path color="#0d0c00" d="M216 746l6-2-6 4-5 3z"/>
<path color="#0d0700" d="M227 739l6-2-6 4-5 3z"/>
<path color="#0d0300" d="M239 732l5-1-5 4-6 2z"/>
<path color="#0d0000" d="M250 727l6-1-6 4-6 1z"/>
<path color="#0d0000" d="M261 722l6 0-6 4-5 0z"/>
<path color="#0d0000" d="M273 719l5 0-5 3-6 0z"/>
<path color="#0d0000" d="M284 716l6 1-6 3-6-1z"/>
<path color="#0d0000" d="M296 715l5 1-6 2-5-1z"/>
<path color="#0d0000" d="M307 715l6 1-6 2-6-2z"/>
<path color="#0d0000" d="M330 718l5 2-6-1-5-1z"/>
<path color="#0d0000" d="M341 721l5 2-5-1-6-2z"/>
<path color="#000000" d="M352 726l6 2-6-3-6-2z"/>
<path color="#000000" d="M363 732l6 2-6-4-5-2z"/>
<path color="#000000" d="M374 739l6 2-6-5-5-2z"/>
<path color="#000309" d="M122 801l6-3-6 0-5 2z"/>
<path color="#000000" d="M133 798l6-3-6 1-5 2z"/>
<path color="#000000" d="M144 794l6-3-6 1-5 3z"/>
<path color="#000000" d="M155 789l6-4-6 2-5 4z"/>
<path color="#000000" d="M166 782l6-4-6 3-5 4z"/>
<path color="#000000" d="M177 775l6-5-6 4-5 4z"/>
<path color="#0d0000" d="M324 715l6 3-6 0-6-2z"/>
<path color="#0d0000" d="M335 718l6 3-6-1-5-2z"/>
<path color="#0d0000" d="M347 723l5 3-6-3-5-2z"/>
<path color="#000000" d="M358 728l5 4-5-4-6-2z"/>
<path color="#000000" d="M369 735l5 4-5-5-6-2z"/>
<path color="#000000" d="M380 743l5 3-5-5-6-2z"/>
<path color="#010d00" d="M188 766l6-4-6 5-5 3z"/>
<path color="#070d00" d="M199 758l6-4-6 5-5 3z"/>
<path color="#0c0d00" d="M211 749l5-3-5 5-6 3z"/>
<path color="#0d0800" d="M222 741l5-2-5 5-6 2z"/>
<path color="#0d0300" d="M233 734l6-2-6 5-6 2z"/>
<path color="#0d0000" d="M244 728l6-1-6 4-5 1z"/>
<path color="#0d0000" d="M256 722l5 0-5 4-6 1z"/>
<path color="#0d0000" d="M267 718l6 1-6 3-6 0z"/>
<path color="#0d0000" d="M278 715l6 1-6 3-5 0z"/>
<path color="#0d0000" d="M290 713l6 2-6 2-6-1z"/>
<path color="#0d0000" d="M301 713l6 2-6 1-5-1z"/>
<path color="#0d0000" d="M313 713l5 3-5 0-6-1z"/>
<path color="#000b23" d="M117 803l5-2-5-1-6 2z"/>
<path color="#00050c" d="M128 801l5-3-5 0-6 3z"/>
<path color="#000000" d="M139 798l5-4-5 1-6 3z"/>
<path color="#000000" d="M150 793l5-4-5 2-6 3z"/>
<path color="#000000" d="M161 787l5-5-5 3-6 4z"/>
<path color="#000000" d="M172 779l5-4-5 3-6 4z"/>
<path color="#000000" d="M183 771l5-5-5 4-6 5z"/>
<path color="#050d00" d="M194 762l5-4-5 4-6 4z"/>
<path color="#0b0d00" d="M205 753l6-4-6 5-6 4z"/>
<path color="#0d0900" d="M216 745l6-4-6 5-5 3z"/>
<path color="#0d0300" d="M227 737l6-3-6 5-5 2z"/>
<path color="#0d0000" d="M239 729l5-1-5 4-6 2z"/>
<path color="#0d0000" d="M250 723l6-1-6 5-6 1z"/>
<path color="#0d0000" d="M261 718l6 0-6 4-5 0z"/>
<path color="#0d0000" d="M273 715l5 0-5 4-6-1z"/>
<path color="#0d0000" d="M284 712l6 1-6 3-6-1z"/>
<path color="#0d0000" d="M296 711l5 2-5 2-6-2z"/>
<path color="#0d0000" d="M307 711l6 2-6 2-6-2z"/>
<path color="#0d0000" d="M318 713l6 2-6 1-5-3z"/>
<path color="#0d0000" d="M330 716l5 2-5 0-6-3z"/>
<path color="#0d0000" d="M341 720l6 3-6-2-6-3z"/>
<path color="#0d0000" d="M352 725l6 3-6-2-5-3z"/>
<path color="#000000" d="M363 732l6 3-6-3-5-4z"/>
<path color="#000000" d="M375 740l5 3-6-4-5-4z"/>
<path color="#000000" d="M386 748l5 4-6-6-5-3z"/>
<path color="#00123c" d="M111 805l6-2-6-1-5 1z"/>
<path color="#000f2a" d="M122 804l6-3-6 0-5 2z"/>
<path color="#00070e" d="M133 801l6-3-6 0-5 3z"/>
<path color="#000000" d="M144 797l6-4-6 1-5 4z"/>
<path color="#000000" d="M155 791l6-4-6 2-5 4z"/>
<path color="#000000" d="M166 784l6-5-6 3-5 5z"/>
<path color="#0a0d00" d="M199 758l6-5-6 5-5 4z"/>
<path color="#0d0a00" d="M210 748l6-3-5 4-6 4z"/>
<path color="#0d0400" d="M222 740l5-3-5 4-6 4z"/>
<path color="#0d0000" d="M233 732l6-3-6 5-6 3z"/>
<path color="#0d0000" d="M244 725l6-2-6 5-5 1z"/>
<path color="#0d0000" d="M256 719l5-1-5 4-6 1z"/>
<path color="#0d0000" d="M267 715l6 0-6 3-6 0z"/>
<path color="#0d0000" d="M279 712l5 0-6 3-5 0z"/>
<path color="#0d0000" d="M290 710l6 1-6 2-6-1z"/>
<path color="#0d0000" d="M301 709l6 2-6 2-5-2z"/>
<path color="#0d0000" d="M336 716l5 4-6-2-5-2z"/>
<path color="#0d0000" d="M347 721l5 4-5-2-6-3z"/>
<path color="#0d0000" d="M358 728l5 4-5-4-6-3z"/>
<path color="#0d0100" d="M369 735l6 5-6-5-6-3z"/>
<path color="#000000" d="M380 744l6 4-6-5-5-3z"/>
<path color="#000000" d="M391 753l6 4-6-5-5-4z"/>
<path color="#000000" d="M177 776l6-5-6 4-5 4z"/>
<path color="#000000" d="M188 767l6-5-6 4-5 5z"/>
<path color="#0d0000" d="M313 710l5 3-5 0-6-2z"/>
<path color="#0d0000" d="M324 713l6 3-6-1-6-2z"/>
<path color="#00184f" d="M105 807l6-2-5-2-6 3z"/>
<path color="#001743" d="M117 807l5-3-5-1-6 2z"/>
<path color="#00142e" d="M128 805l5-4-5 0-6 3z"/>
<path color="#00090f" d="M139 801l5-4-5 1-6 3z"/>
<path color="#000000" d="M150 796l5-5-5 2-6 4z"/>
<path color="#000000" d="M161 789l5-5-5 3-6 4z"/>
<path color="#000000" d="M172 781l5-5-5 3-6 5z"/>
<path color="#000000" d="M183 772l5-5-5 4-6 5z"/>
<path color="#000000" d="M194 763l5-5-5 4-6 5z"/>
<path color="#0d0b00" d="M205 753l5-5-5 5-6 5z"/>
<path color="#0d0500" d="M216 744l6-4-6 5-6 3z"/>
<path color="#0d0000" d="M227 735l6-3-6 5-5 3z"/>
<path color="#0d0000" d="M239 727l5-2-5 4-6 3z"/>
<path color="#0d0000" d="M250 721l6-2-6 4-6 2z"/>
<path color="#0d0000" d="M261 715l6 0-6 3-5 1z"/>
<path color="#0d0000" d="M273 711l6 1-6 3-6 0z"/>
<path color="#0d0000" d="M284 709l6 1-6 2-5 0z"/>
<path color="#0d0000" d="M296 708l5 1-5 2-6-1z"/>
<path color="#0d0000" d="M307 708l6 2-6 1-6-2z"/>
<path color="#0d0000" d="M319 710l5 3-6 0-5-3z"/>
<path color="#0d0000" d="M330 713l6 3-6 0-6-3z"/>
<path color="#0d0000" d="M341 718l6 3-6-1-5-4z"/>
<path color="#0d0000" d="M353 724l5 4-6-3-5-4z"/>
<path color="#0d0000" d="M364 731l5 4-6-3-5-4z"/>
<path color="#0d0200" d="M375 740l5 4-5-4-6-5z"/>
<path color="#000000" d="M386 749l5 4-5-5-6-4z"/>
<path color="#000000" d="M397 758l5 5-5-6-6-4z"/>
<path color="#001a5c" d="M100 810l5-3-5-1-6 2z"/>
<path color="#001b55" d="M111 809l6-2-6-2-6 2z"/>
<path color="#001c48" d="M122 808l6-3-6-1-5 3z"/>
<path color="#001a2f" d="M133 805l6-4-6 0-5 4z"/>
<path color="#000a0d" d="M144 800l6-4-6 1-5 4z"/>
<path color="#000000" d="M155 794l6-5-6 2-5 5z"/>
<path color="#0d0000" d="M347 720l6 4-6-3-6-3z"/>
<path color="#0d0000" d="M358 727l6 4-6-3-5-4z"/>
<path color="#0d0000" d="M369 735l6 5-6-5-5-4z"/>
<path color="#0d0400" d="M380 744l6 5-6-5-5-4z"/>
<path color="#000000" d="M391 754l6 4-6-5-5-4z"/>
<path color="#000000" d="M402 764l6 4-6-5-5-5z"/>
<path color="#000000" d="M166 786l6-5-6 3-5 5z"/>
<path color="#000000" d="M177 778l6-6-6 4-5 5z"/>
<path color="#000000" d="M188 768l6-5-6 4-5 5z"/>
<path color="#000000" d="M199 758l6-5-6 5-5 5z"/>
<path color="#0d0700" d="M210 748l6-4-6 4-5 5z"/>
<path color="#0d0100" d="M222 739l5-4-5 5-6 4z"/>
<path color="#0d0000" d="M233 730l6-3-6 5-6 3z"/>
<path color="#0d0000" d="M244 723l6-2-6 4-5 2z"/>
<path color="#0d0000" d="M256 717l5-2-5 4-6 2z"/>
<path color="#0d0000" d="M267 712l6-1-6 4-6 0z"/>
<path color="#0d0000" d="M279 709l5 0-5 3-6-1z"/>
<path color="#0d0000" d="M290 707l6 1-6 2-6-1z"/>
<path color="#0d0000" d="M302 706l5 2-6 1-5-1z"/>
<path color="#0d0000" d="M313 708l6 2-6 0-6-2z"/>
<path color="#0d0000" d="M324 710l6 3-6 0-5-3z"/>
<path color="#0d0000" d="M336 714l5 4-5-2-6-3z"/>
<path color="#001b61" d="M94 812l6-2-6-2-5 2z"/>
<path color="#001c60" d="M105 812l6-3-6-2-5 3z"/>
<path color="#001f59" d="M117 811l5-3-5-1-6 2z"/>
<path color="#002249" d="M128 809l5-4-5 0-6 3z"/>
<path color="#001e2e" d="M139 805l5-5-5 1-6 4z"/>
<path color="#00090a" d="M150 799l5-5-5 2-6 4z"/>
<path color="#000000" d="M161 792l5-6-5 3-6 5z"/>
<path color="#000000" d="M172 783l5-5-5 3-6 5z"/>
<path color="#000000" d="M183 774l5-6-5 4-6 6z"/>
<path color="#000000" d="M194 764l5-6-5 5-6 5z"/>
<path color="#000000" d="M205 753l5-5-5 5-6 5z"/>
<path color="#0d0200" d="M216 743l6-4-6 5-6 4z"/>
<path color="#0d0000" d="M227 734l6-4-6 5-5 4z"/>
<path color="#0d0000" d="M239 726l5-3-5 4-6 3z"/>
<path color="#0d0000" d="M250 719l6-2-6 4-6 2z"/>
<path color="#0d0000" d="M261 713l6-1-6 3-5 2z"/>
<path color="#0d0000" d="M273 709l6 0-6 2-6 1z"/>
<path color="#0d0000" d="M284 706l6 1-6 2-5 0z"/>
<path color="#0d0000" d="M296 705l6 1-6 2-6-1z"/>
<path color="#0d0000" d="M307 706l6 2-6 0-5-2z"/>
<path color="#0d0000" d="M319 708l5 2-5 0-6-2z"/>
<path color="#0d0000" d="M330 711l6 3-6-1-6-3z"/>
<path color="#0d0000" d="M341 716l6 4-6-2-5-4z"/>
<path color="#0d0000" d="M353 723l5 4-5-3-6-4z"/>
<path color="#0d0000" d="M364 731l5 4-5-4-6-4z"/>
<path color="#0d0000" d="M375 739l5 5-5-4-6-5z"/>
<path color="#000000" d="M386 749l5 5-5-5-6-5z"/>
<path color="#000000" d="M397 759l5 5-5-6-6-4z"/>
<path color="#000000" d="M408 769l5 4-5-5-6-4z"/>
<path color="#001860" d="M89 814l5-2-5-2-6 3z"/>
<path color="#001b63" d="M100 814l5-2-5-2-6 2z"/>
<path color="#001e62" d="M111 814l6-3-6-2-6 3z"/>
<path color="#00235a" d="M122 812l6-3-6-1-5 3z"/>
<path color="#002849" d="M133 809l6-4-6 0-5 4z"/>
<path color="#00222b" d="M144 804l6-5-6 1-5 5z"/>
<path color="#0d0000" d="M222 739l5-5-5 5-6 4z"/>
<path color="#0d0000" d="M233 730l6-4-6 4-6 4z"/>
<path color="#0d0000" d="M244 722l6-3-6 4-5 3z"/>
<path color="#0d0000" d="M256 715l5-2-5 4-6 2z"/>
<path color="#0d0000" d="M267 710l6-1-6 3-6 1z"/>
<path color="#0d0000" d="M279 706l5 0-5 3-6 0z"/>
<path color="#0d0000" d="M358 726l6 5-6-4-5-4z"/>
<path color="#0d0000" d="M370 735l5 4-6-4-5-4z"/>
<path color="#0d0200" d="M381 744l5 5-6-5-5-5z"/>
<path color="#000000" d="M392 755l5 4-6-5-5-5z"/>
<path color="#000000" d="M402 765l6 4-6-5-5-5z"/>
<path color="#000000" d="M413 775l6 4-6-6-5-4z"/>
<path color="#000605" d="M155 798l6-6-6 2-5 5z"/>
<path color="#000000" d="M166 789l6-6-6 3-5 6z"/>
<path color="#000000" d="M177 780l6-6-6 4-5 5z"/>
<path color="#000000" d="M188 770l6-6-6 4-5 6z"/>
<path color="#000000" d="M199 759l6-6-6 5-5 6z"/>
<path color="#000000" d="M210 749l6-6-6 5-5 5z"/>
<path color="#0d0000" d="M290 705l6 0-6 2-6-1z"/>
<path color="#0d0000" d="M302 704l5 2-5 0-6-1z"/>
<path color="#0d0000" d="M313 706l6 2-6 0-6-2z"/>
<path color="#0d0000" d="M324 709l6 2-6-1-5-2z"/>
<path color="#0d0000" d="M336 713l5 3-5-2-6-3z"/>
<path color="#0d0000" d="M347 719l6 4-6-3-6-4z"/>
<path color="#00195f" d="M94 816l6-2-6-2-5 2z"/>
<path color="#001c63" d="M105 816l6-2-6-2-5 2z"/>
<path color="#002162" d="M116 815l6-3-5-1-6 3z"/>
<path color="#002859" d="M128 813l5-4-5 0-6 3z"/>
<path color="#002e45" d="M139 809l5-5-5 1-6 4z"/>
<path color="#000201" d="M161 796l5-7-5 3-6 6z"/>
<path color="#000000" d="M172 787l5-7-5 3-6 6z"/>
<path color="#000000" d="M183 776l5-6-5 4-6 6z"/>
<path color="#000000" d="M194 766l5-7-5 5-6 6z"/>
<path color="#000000" d="M205 755l5-6-5 4-6 6z"/>
<path color="#000000" d="M216 744l6-5-6 4-6 6z"/>
<path color="#000000" d="M227 734l6-4-6 4-5 5z"/>
<path color="#0d0000" d="M239 725l5-3-5 4-6 4z"/>
<path color="#0d0000" d="M250 718l6-3-6 4-6 3z"/>
<path color="#0d0000" d="M261 712l6-2-6 3-5 2z"/>
<path color="#0d0000" d="M273 707l6-1-6 3-6 1z"/>
<path color="#0d0000" d="M284 705l6 0-6 1-5 0z"/>
<path color="#0d0000" d="M296 704l6 0-6 1-6 0z"/>
<path color="#0d0000" d="M307 704l6 2-6 0-5-2z"/>
<path color="#0d0000" d="M319 706l5 3-5-1-6-2z"/>
<path color="#0d0000" d="M330 710l6 3-6-2-6-2z"/>
<path color="#0d0000" d="M342 715l5 4-6-3-5-3z"/>
<path color="#0d0000" d="M364 730l6 5-6-4-6-5z"/>
<path color="#000000" d="M375 740l6 4-6-5-5-4z"/>
<path color="#000000" d="M386 750l6 5-6-6-5-5z"/>
<path color="#000000" d="M397 761l5 4-5-6-5-4z"/>
<path color="#000000" d="M408 771l5 4-5-6-6-4z"/>
<path color="#002526" d="M150 803l5-5-5 1-6 5z"/>
<path color="#0d0000" d="M353 722l5 4-5-3-6-4z"/>
<path color="#00185a" d="M100 818l5-2-5-2-6 2z"/>
<path color="#001c61" d="M111 818l5-3-5-1-6 2z"/>
<path color="#002460" d="M122 817l6-4-6-1-6 3z"/>
<path color="#002e56" d="M133 813l6-4-6 0-5 4z"/>
<path color="#000000" d="M233 730l6-5-6 5-6 4z"/>
<path color="#0d0000" d="M244 721l6-3-6 4-5 3z"/>
<path color="#0d0000" d="M256 714l5-2-5 3-6 3z"/>
<path color="#0d0000" d="M267 709l6-2-6 3-6 2z"/>
<path color="#000000" d="M370 735l5 5-5-5-6-5z"/>
<path color="#000000" d="M381 745l5 5-5-6-6-4z"/>
<path color="#000000" d="M392 756l5 5-5-6-6-5z"/>
<path color="#000000" d="M403 767l5 4-6-6-5-4z"/>
<path color="#003340" d="M144 808l6-5-6 1-5 5z"/>
<path color="#00211c" d="M155 802l6-6-6 2-5 5z"/>
<path color="#000000" d="M166 793l6-6-6 2-5 7z"/>
<path color="#000000" d="M177 783l6-7-6 4-5 7z"/>
<path color="#000000" d="M188 773l6-7-6 4-5 6z"/>
<path color="#000000" d="M199 761l6-6-6 4-5 7z"/>
<path color="#000000" d="M210 750l6-6-6 5-5 6z"/>
<path color="#000000" d="M222 740l5-6-5 5-6 5z"/>
<path color="#0d0000" d="M279 705l5 0-5 1-6 1z"/>
<path color="#0d0000" d="M290 703l6 1-6 1-6 0z"/>
<path color="#0d0000" d="M302 703l5 1-5 0-6 0z"/>
<path color="#0d0000" d="M313 705l6 1-6 0-6-2z"/>
<path color="#0d0000" d="M325 708l5 2-6-1-5-3z"/>
<path color="#0d0000" d="M336 712l6 3-6-2-6-3z"/>
<path color="#0d0000" d="M347 719l6 3-6-3-5-4z"/>
<path color="#0d0000" d="M359 726l5 4-6-4-5-4z"/>
<path color="#001753" d="M105 820l6-2-6-2-5 2z"/>
<path color="#001e5d" d="M116 820l6-3-6-2-5 3z"/>
<path color="#00295c" d="M127 817l6-4-5 0-6 4z"/>
<path color="#000000" d="M171 790l6-7-5 4-6 6z"/>
<path color="#000000" d="M183 780l5-7-5 3-6 7z"/>
<path color="#000000" d="M194 768l5-7-5 5-6 7z"/>
<path color="#000000" d="M205 757l5-7-5 5-6 6z"/>
<path color="#000000" d="M216 746l6-6-6 4-6 6z"/>
<path color="#000000" d="M227 735l6-5-6 4-5 6z"/>
<path color="#000000" d="M239 726l5-5-5 4-6 5z"/>
<path color="#000000" d="M250 718l6-4-6 4-6 3z"/>
<path color="#0d0000" d="M262 712l5-3-6 3-5 2z"/>
<path color="#0d0000" d="M273 707l6-2-6 2-6 2z"/>
<path color="#0d0000" d="M285 704l5-1-6 2-5 0z"/>
<path color="#0d0000" d="M296 703l6 0-6 1-6-1z"/>
<path color="#0d0000" d="M308 704l5 1-6-1-5-1z"/>
<path color="#0d0000" d="M319 706l6 2-6-2-6-1z"/>
<path color="#0d0000" d="M330 710l6 2-6-2-5-2z"/>
<path color="#000000" d="M375 741l6 4-6-5-5-5z"/>
<path color="#000000" d="M386 751l6 5-6-6-5-5z"/>
<path color="#000000" d="M397 762l6 5-6-6-5-5z"/>
<path color="#003450" d="M139 813l5-5-5 1-6 4z"/>
<path color="#00383a" d="M150 808l5-6-5 1-6 5z"/>
<path color="#001c11" d="M160 800l6-7-5 3-6 6z"/>
<path color="#000000" d="M342 716l5 3-5-4-6-3z"/>
<path color="#000000" d="M353 723l6 3-6-4-6-3z"/>
<path color="#000000" d="M364 731l6 4-6-5-5-4z"/>
<path color="#00164a" d="M111 822l5-2-5-2-6 2z"/>
<path color="#002056" d="M122 821l5-4-5 0-6 3z"/>
<path color="#000000" d="M244 722l6-4-6 3-5 5z"/>
<path color="#000000" d="M256 715l6-3-6 2-6 4z"/>
<path color="#000000" d="M381 747l5 4-5-6-6-4z"/>
<path color="#000000" d="M392 758l5 4-5-6-6-5z"/>
<path color="#002d56" d="M133 818l6-5-6 0-6 4z"/>
<path color="#003a4a" d="M144 813l6-5-6 0-5 5z"/>
<path color="#00332c" d="M155 806l5-6-5 2-5 6z"/>
<path color="#001709" d="M166 797l5-7-5 3-6 7z"/>
<path color="#000000" d="M177 787l6-7-6 3-6 7z"/>
<path color="#000000" d="M188 776l6-8-6 5-5 7z"/>
<path color="#000000" d="M199 764l6-7-6 4-5 7z"/>
<path color="#000000" d="M210 753l6-7-6 4-5 7z"/>
<path color="#000000" d="M222 742l5-7-5 5-6 6z"/>
<path color="#000000" d="M233 731l6-5-6 4-6 5z"/>
<path color="#000000" d="M267 709l6-2-6 2-5 3z"/>
<path color="#000000" d="M279 706l6-2-6 1-6 2z"/>
<path color="#000000" d="M290 704l6-1-6 0-5 1z"/>
<path color="#000000" d="M302 703l6 1-6-1-6 0z"/>
<path color="#000000" d="M313 705l6 1-6-1-5-1z"/>
<path color="#000000" d="M325 708l5 2-5-2-6-2z"/>
<path color="#000000" d="M336 713l6 3-6-4-6-2z"/>
<path color="#000000" d="M347 719l6 4-6-4-5-3z"/>
<path color="#000000" d="M359 727l5 4-5-5-6-3z"/>
<path color="#000000" d="M370 736l5 5-5-6-6-4z"/>
<path color="#00153f" d="M116 823l6-2-6-1-5 2z"/>
<path color="#000000" d="M183 784l5-8-5 4-6 7z"/>
<path color="#000000" d="M194 772l5-8-5 4-6 8z"/>
<path color="#000000" d="M205 760l5-7-5 4-6 7z"/>
<path color="#000000" d="M216 749l6-7-6 4-6 7z"/>
<path color="#000000" d="M227 738l6-7-6 4-5 7z"/>
<path color="#000000" d="M239 728l5-6-5 4-6 5z"/>
<path color="#000000" d="M250 719l6-4-6 3-6 4z"/>
<path color="#000000" d="M262 713l5-4-5 3-6 3z"/>
<path color="#000000" d="M273 708l6-2-6 1-6 2z"/>
<path color="#000000" d="M285 705l5-1-5 0-6 2z"/>
<path color="#000000" d="M296 704l6-1-6 0-6 1z"/>
<path color="#000000" d="M308 705l5 0-5-1-6-1z"/>
<path color="#000000" d="M319 707l6 1-6-2-6-1z"/>
<path color="#000000" d="M386 754l6 4-6-7-5-4z"/>
<path color="#00224f" d="M127 822l6-4-6-1-5 4z"/>
<path color="#00324f" d="M138 818l6-5-5 0-6 5z"/>
<path color="#003f42" d="M149 812l6-6-5 2-6 5z"/>
<path color="#002e1d" d="M160 804l6-7-6 3-5 6z"/>
<path color="#001403" d="M171 795l6-8-6 3-5 7z"/>
<path color="#000000" d="M330 711l6 2-6-3-5-2z"/>
<path color="#000000" d="M342 717l5 2-5-3-6-3z"/>
<path color="#000000" d="M353 724l6 3-6-4-6-4z"/>
<path color="#000000" d="M364 733l6 3-6-5-5-4z"/>
<path color="#000000" d="M375 743l6 4-6-6-5-5z"/>
<path color="#001432" d="M122 824l5-2-5-1-6 2z"/>
<path color="#002546" d="M133 822l5-4-5 0-6 4z"/>
<path color="#003747" d="M144 817l5-5-5 1-6 5z"/>
<path color="#003c34" d="M155 811l5-7-5 2-6 6z"/>
<path color="#002911" d="M166 802l5-7-5 2-6 7z"/>
<path color="#021400" d="M177 792l6-8-6 3-6 8z"/>
<path color="#000000" d="M188 780l6-8-6 4-5 8z"/>
<path color="#000000" d="M199 768l6-8-6 4-5 8z"/>
<path color="#000000" d="M210 756l6-7-6 4-5 7z"/>
<path color="#000000" d="M222 745l5-7-5 4-6 7z"/>
<path color="#000000" d="M233 734l6-6-6 3-6 7z"/>
<path color="#000000" d="M244 725l6-6-6 3-5 6z"/>
<path color="#000000" d="M256 717l6-4-6 2-6 4z"/>
<path color="#000000" d="M267 711l6-3-6 1-5 4z"/>
<path color="#000000" d="M279 707l6-2-6 1-6 2z"/>
<path color="#000000" d="M290 705l6-1-6 0-5 1z"/>
<path color="#000000" d="M302 705l6 0-6-2-6 1z"/>
<path color="#000000" d="M313 707l6 0-6-2-5 0z"/>
<path color="#000000" d="M325 710l5 1-5-3-6-1z"/>
<path color="#000000" d="M336 715l6 2-6-4-6-2z"/>
<path color="#000000" d="M348 722l5 2-6-5-5-2z"/>
<path color="#000000" d="M359 730l5 3-5-6-6-3z"/>
<path color="#000000" d="M370 739l5 4-5-7-6-3z"/>
<path color="#000000" d="M381 750l5 4-5-7-6-4z"/>
<path color="#050500" d="M194 777l5-9-5 4-6 8z"/>
<path color="#000000" d="M205 764l5-8-5 4-6 8z"/>
<path color="#000000" d="M216 752l6-7-6 4-6 7z"/>
<path color="#000000" d="M227 741l6-7-6 4-5 7z"/>
<path color="#000000" d="M239 731l5-6-5 3-6 6z"/>
<path color="#000000" d="M262 715l5-4-5 2-6 4z"/>
<path color="#000000" d="M273 710l6-3-6 1-6 3z"/>
<path color="#000000" d="M285 707l5-2-5 0-6 2z"/>
<path color="#000000" d="M296 706l6-1-6-1-6 1z"/>
<path color="#000000" d="M308 707l5 0-5-2-6 0z"/>
<path color="#001226" d="M127 825l6-3-6 0-5 2z"/>
<path color="#00273d" d="M138 822l6-5-6 1-5 4z"/>
<path color="#003c40" d="M149 816l6-5-6 1-5 5z"/>
<path color="#003624" d="M160 809l6-7-6 2-5 7z"/>
<path color="#002707" d="M171 799l6-7-6 3-5 7z"/>
<path color="#091600" d="M182 788l6-8-5 4-6 8z"/>
<path color="#000000" d="M250 722l6-5-6 2-6 6z"/>
<path color="#000000" d="M319 710l6 0-6-3-6 0z"/>
<path color="#000000" d="M331 714l5 1-6-4-5-1z"/>
<path color="#000000" d="M342 720l6 2-6-5-6-2z"/>
<path color="#000000" d="M353 727l6 3-6-6-5-2z"/>
<path color="#000000" d="M364 736l6 3-6-6-5-3z"/>
<path color="#000000" d="M376 746l5 4-6-7-5-4z"/>
<path color="#00101c" d="M133 825l5-3-5 0-6 3z"/>
<path color="#002a35" d="M144 821l5-5-5 1-6 5z"/>
<path color="#003a33" d="M155 815l5-6-5 2-6 5z"/>
<path color="#003317" d="M166 807l5-8-5 3-6 7z"/>
<path color="#042800" d="M177 797l5-9-5 4-6 7z"/>
<path color="#121b00" d="M188 785l6-8-6 3-6 8z"/>
<path color="#0f0b00" d="M199 773l6-9-6 4-5 9z"/>
<path color="#060100" d="M210 760l6-8-6 4-5 8z"/>
<path color="#010000" d="M222 749l5-8-5 4-6 7z"/>
<path color="#000000" d="M233 738l6-7-6 3-6 7z"/>
<path color="#010000" d="M244 728l6-6-6 3-5 6z"/>
<path color="#070000" d="M256 720l6-5-6 2-6 5z"/>
<path color="#0f0000" d="M267 714l6-4-6 1-5 4z"/>
<path color="#190000" d="M279 710l6-3-6 0-6 3z"/>
<path color="#220000" d="M290 708l6-2-6-1-5 2z"/>
<path color="#280000" d="M302 708l6-1-6-2-6 1z"/>
<path color="#2a0000" d="M313 710l6 0-6-3-5 0z"/>
<path color="#280000" d="M325 714l6 0-6-4-6 0z"/>
<path color="#230000" d="M336 719l6 1-6-5-5-1z"/>
<path color="#1a0000" d="M348 726l5 1-5-5-6-2z"/>
<path color="#100000" d="M359 734l5 2-5-6-6-3z"/>
<path color="#050000" d="M370 743l6 3-6-7-6-3z"/>
<path color="#1d0c00" d="M205 769l5-9-5 4-6 9z"/>
<path color="#190000" d="M216 757l6-8-6 3-6 8z"/>
<path color="#190000" d="M227 745l6-7-6 3-5 8z"/>
<path color="#410000" d="M273 714l6-4-6 0-6 4z"/>
<path color="#4d0000" d="M285 711l5-3-5-1-6 3z"/>
<path color="#550000" d="M296 710l6-2-6-2-6 2z"/>
<path color="#000e14" d="M138 825l6-4-6 1-5 3z"/>
<path color="#002e30" d="M149 821l6-6-6 1-5 5z"/>
<path color="#003726" d="M160 813l6-6-6 2-5 6z"/>
<path color="#00340a" d="M171 804l6-7-6 2-5 8z"/>
<path color="#102c00" d="M182 793l6-8-6 3-5 9z"/>
<path color="#222400" d="M194 782l5-9-5 4-6 8z"/>
<path color="#1e0000" d="M239 735l5-7-5 3-6 7z"/>
<path color="#270000" d="M250 726l6-6-6 2-6 6z"/>
<path color="#330000" d="M262 719l5-5-5 1-6 5z"/>
<path color="#590000" d="M308 711l5-1-5-3-6 1z"/>
<path color="#590000" d="M319 714l6 0-6-4-6 0z"/>
<path color="#540000" d="M331 719l5 0-5-5-6 0z"/>
<path color="#4c0000" d="M342 725l6 1-6-6-6-1z"/>
<path color="#410000" d="M353 732l6 2-6-7-5-1z"/>
<path color="#330000" d="M364 741l6 2-6-7-5-2z"/>
<path color="#000e12" d="M144 825l5-4-5 0-6 4z"/>
<path color="#002f2a" d="M155 819l5-6-5 2-6 6z"/>
<path color="#00381a" d="M166 812l5-8-5 3-6 6z"/>
<path color="#033700" d="M177 802l5-9-5 4-6 7z"/>
<path color="#203400" d="M188 790l6-8-6 3-6 8z"/>
<path color="#302400" d="M199 778l6-9-6 4-5 9z"/>
<path color="#2e0600" d="M210 766l6-9-6 3-5 9z"/>
<path color="#300000" d="M222 754l5-9-5 4-6 8z"/>
<path color="#370000" d="M233 743l6-8-6 3-6 7z"/>
<path color="#410000" d="M244 733l6-7-6 2-5 7z"/>
<path color="#4f0000" d="M256 725l6-6-6 1-6 6z"/>
<path color="#5e0000" d="M267 719l6-5-6 0-5 5z"/>
<path color="#6c0000" d="M279 715l6-4-6-1-6 4z"/>
<path color="#760000" d="M290 713l6-3-6-2-5 3z"/>
<path color="#7b0000" d="M302 713l6-2-6-3-6 2z"/>
<path color="#7c0000" d="M313 715l6-1-6-4-5 1z"/>
<path color="#790000" d="M325 719l6 0-6-5-6 0z"/>
<path color="#730000" d="M336 724l6 1-6-6-5 0z"/>
<path color="#6a0000" d="M348 731l5 1-5-6-6-1z"/>
<path color="#5d0000" d="M359 739l5 2-5-7-6-2z"/>
<path color="#430000" d="M216 763l6-9-6 3-6 9z"/>
<path color="#8b0000" d="M285 717l5-4-5-2-6 4z"/>
<path color="#001414" d="M149 824l6-5-6 2-5 4z"/>
<path color="#003323" d="M160 818l6-6-6 1-5 6z"/>
<path color="#003d0f" d="M171 809l6-7-6 2-5 8z"/>
<path color="#133f00" d="M182 799l6-9-6 3-5 9z"/>
<path color="#383f00" d="M194 787l5-9-5 4-6 8z"/>
<path color="#3f1e00" d="M205 775l5-9-5 3-6 9z"/>
<path color="#4a0000" d="M227 751l6-8-6 2-5 9z"/>
<path color="#550000" d="M239 740l5-7-5 2-6 8z"/>
<path color="#630000" d="M250 732l6-7-6 1-6 7z"/>
<path color="#730000" d="M262 725l5-6-5 0-6 6z"/>
<path color="#810000" d="M273 720l6-5-6-1-6 5z"/>
<path color="#920000" d="M296 716l6-3-6-3-6 3z"/>
<path color="#940000" d="M308 717l5-2-5-4-6 2z"/>
<path color="#930000" d="M319 720l6-1-6-5-6 1z"/>
<path color="#8f0000" d="M331 725l5-1-5-5-6 0z"/>
<path color="#880000" d="M342 731l6 0-6-6-6-1z"/>
<path color="#7f0000" d="M353 738l6 1-6-7-5-1z"/>
<path color="#001d19" d="M155 823l5-5-5 1-6 5z"/>
<path color="#003b1d" d="M166 816l5-7-5 3-6 6z"/>
<path color="#004600" d="M177 807l5-8-5 3-6 7z"/>
<path color="#294a00" d="M188 796l6-9-6 3-6 9z"/>
<path color="#4d4000" d="M199 784l6-9-6 3-5 9z"/>
<path color="#511100" d="M210 772l6-9-6 3-5 9z"/>
<path color="#580000" d="M222 760l5-9-5 3-6 9z"/>
<path color="#630000" d="M233 749l6-9-6 3-6 8z"/>
<path color="#710000" d="M244 739l6-7-6 1-5 7z"/>
<path color="#800000" d="M256 731l6-6-6 0-6 7z"/>
<path color="#8f0000" d="M267 725l6-5-6-1-5 6z"/>
<path color="#9a0000" d="M279 721l6-4-6-2-6 5z"/>
<path color="#a10000" d="M290 720l6-4-6-3-5 4z"/>
<path color="#a50000" d="M302 720l6-3-6-4-6 3z"/>
<path color="#a50000" d="M313 722l6-2-6-5-5 2z"/>
<path color="#a30000" d="M325 726l6-1-6-6-6 1z"/>
<path color="#9e0000" d="M336 732l6-1-6-7-5 1z"/>
<path color="#970000" d="M348 738l5 0-5-7-6 0z"/>
<path color="#002d1f" d="M160 822l6-6-6 2-5 5z"/>
<path color="#004814" d="M171 815l6-8-6 2-5 7z"/>
<path color="#135200" d="M182 805l6-9-6 3-5 8z"/>
<path color="#475800" d="M194 793l5-9-5 3-6 9z"/>
<path color="#5d3600" d="M205 781l5-9-5 3-6 9z"/>
<path color="#640000" d="M216 769l6-9-6 3-6 9z"/>
<path color="#6f0000" d="M227 758l6-9-6 2-5 9z"/>
<path color="#7c0000" d="M239 747l5-8-5 1-6 9z"/>
<path color="#8a0000" d="M250 738l6-7-6 1-6 7z"/>
<path color="#980000" d="M262 731l5-6-5 0-6 6z"/>
<path color="#a30000" d="M273 727l6-6-6-1-6 5z"/>
<path color="#ab0000" d="M285 724l5-4-5-3-6 4z"/>
<path color="#b00000" d="M296 724l6-4-6-4-6 4z"/>
<path color="#b10000" d="M308 725l5-3-5-5-6 3z"/>
<path color="#b00000" d="M319 728l6-2-6-6-6 2z"/>
<path color="#ae0000" d="M331 733l5-1-5-7-6 1z"/>
<path color="#a90000" d="M342 739l6-1-6-7-6 1z"/>
<path color="#004221" d="M166 821l5-6-5 1-6 6z"/>
<path color="#005806" d="M177 813l5-8-5 2-6 8z"/>
<path color="#2d6100" d="M188 803l6-10-6 3-6 9z"/>
<path color="#686200" d="M199 791l6-10-6 3-5 9z"/>
<path color="#6f2500" d="M210 779l6-10-6 3-5 9z"/>
<path color="#780000" d="M222 767l5-9-5 2-6 9z"/>
<path color="#840000" d="M233 756l6-9-6 2-6 9z"/>
<path color="#910000" d="M244 746l6-8-6 1-5 8z"/>
<path color="#9f0000" d="M256 739l6-8-6 0-6 7z"/>
<path color="#aa0000" d="M267 733l6-6-6-2-5 6z"/>
<path color="#b30000" d="M279 729l6-5-6-3-6 6z"/>
<path color="#b80000" d="M290 728l6-4-6-4-5 4z"/>
<path color="#ba0000" d="M302 729l6-4-6-5-6 4z"/>
<path color="#ba0000" d="M313 731l6-3-6-6-5 3z"/>
<path color="#b90000" d="M325 735l6-2-6-7-6 2z"/>
<path color="#b60000" d="M336 741l6-2-6-7-5 1z"/>
<path color="#00591c" d="M171 820l6-7-6 2-5 6z"/>
<path color="#0f6900" d="M183 811l5-8-6 2-5 8z"/>
<path color="#4f7100" d="M194 800l5-9-5 2-6 10z"/>
<path color="#785600" d="M205 789l5-10-5 2-6 10z"/>
<path color="#800f00" d="M216 777l6-10-6 2-6 10z"/>
<path color="#8b0000" d="M227 765l6-9-6 2-5 9z"/>
<path color="#970000" d="M239 755l5-9-5 1-6 9z"/>
<path color="#a30000" d="M250 746l6-7-6-1-6 8z"/>
<path color="#af0000" d="M262 740l5-7-5-2-6 8z"/>
<path color="#b80000" d="M273 735l6-6-6-2-6 6z"/>
<path color="#bd0000" d="M285 733l5-5-5-4-6 5z"/>
<path color="#c00000" d="M296 733l6-4-6-5-6 4z"/>
<path color="#c10000" d="M308 735l5-4-5-6-6 4z"/>
<path color="#c10000" d="M319 738l6-3-6-7-6 3z"/>
<path color="#bf0000" d="M331 743l5-2-5-8-6 2z"/>
<path color="#00700f" d="M177 819l6-8-6 2-6 7z"/>
<path color="#2b7b00" d="M188 810l6-10-6 3-5 8z"/>
<path color="#894500" d="M210 787l6-10-6 2-5 10z"/>
<path color="#910000" d="M222 775l5-10-5 2-6 10z"/>
<path color="#9c0000" d="M233 764l6-9-6 1-6 9z"/>
<path color="#a70000" d="M244 755l6-9-6 0-5 9z"/>
<path color="#b20000" d="M256 747l6-7-6-1-6 7z"/>
<path color="#bb0000" d="M267 742l6-7-6-2-5 7z"/>
<path color="#c10000" d="M279 739l6-6-6-4-6 6z"/>
<path color="#c50000" d="M290 738l6-5-6-5-5 5z"/>
<path color="#c60000" d="M313 742l6-4-6-7-5 4z"/>
<path color="#c50000" d="M325 746l6-3-6-8-6 3z"/>
<path color="#768200" d="M199 799l6-10-6 2-5 9z"/>
<path color="#c60000" d="M302 739l6-4-6-6-6 4z"/>
<path color="#058500" d="M183 818l5-8-5 1-6 8z"/>
<path color="#983000" d="M216 786l6-11-6 2-6 10z"/>
<path color="#a00000" d="M227 774l6-10-6 1-5 10z"/>
<path color="#aa0000" d="M239 764l5-9-5 0-6 9z"/>
<path color="#b40000" d="M250 756l6-9-6-1-6 9z"/>
<path color="#bd0000" d="M262 750l5-8-5-2-6 7z"/>
<path color="#c40000" d="M273 745l6-6-6-4-6 7z"/>
<path color="#c80000" d="M285 744l5-6-5-5-6 6z"/>
<path color="#ca0000" d="M319 750l6-4-6-8-6 4z"/>
<path color="#4c8c00" d="M194 808l5-9-5 1-6 10z"/>
<path color="#918200" d="M205 797l5-10-5 2-6 10z"/>
<path color="#ca0000" d="M296 744l6-5-6-6-6 5z"/>
<path color="#cb0000" d="M308 746l5-4-5-7-6 4z"/>
<path color="#a51b00" d="M222 785l5-11-5 1-6 11z"/>
<path color="#ad0000" d="M233 774l6-10-6 0-6 10z"/>
<path color="#b60000" d="M244 765l6-9-6-1-5 9z"/>
<path color="#bf0000" d="M256 758l6-8-6-3-6 9z"/>
<path color="#c60000" d="M267 753l6-8-6-3-5 8z"/>
<path color="#ca0000" d="M279 750l6-6-6-5-6 6z"/>
<path color="#1e9700" d="M188 818l6-10-6 2-5 8z"/>
<path color="#6f9b00" d="M199 808l6-11-6 2-5 9z"/>
<path color="#9f7300" d="M210 796l6-10-6 1-5 10z"/>
<path color="#cd0000" d="M290 749l6-5-6-6-5 6z"/>
<path color="#ce0000" d="M302 751l6-5-6-7-6 5z"/>
<path color="#ce0000" d="M313 754l6-4-6-8-5 4z"/>
<path color="#b10700" d="M227 785l6-11-6 0-5 11z"/>
<path color="#b80000" d="M239 775l5-10-5-1-6 10z"/>
<path color="#c70000" d="M262 761l5-8-5-3-6 8z"/>
<path color="#cc0000" d="M273 757l6-7-6-5-6 8z"/>
<path color="#38a500" d="M194 818l5-10-5 0-6 10z"/>
<path color="#91a700" d="M205 807l5-11-5 1-6 11z"/>
<path color="#ab6300" d="M216 796l6-11-6 1-6 10z"/>
<path color="#c00000" d="M250 767l6-9-6-2-6 9z"/>
<path color="#cf0000" d="M285 756l5-7-5-5-6 6z"/>
<path color="#d00000" d="M296 757l6-6-6-7-6 5z"/>
<path color="#d10000" d="M308 759l5-5-5-8-6 5z"/>
<path color="#bb0000" d="M233 786l6-11-6-1-6 11z"/>
<path color="#cd0000" d="M267 765l6-8-6-4-5 8z"/>
<path color="#51b000" d="M199 818l6-11-6 1-5 10z"/>
<path color="#b1b200" d="M211 807l5-11-6 0-5 11z"/>
<path color="#b55400" d="M222 796l5-11-5 0-6 11z"/>
<path color="#c10000" d="M244 777l6-10-6-2-5 10z"/>
<path color="#c80000" d="M256 770l6-9-6-3-6 9z"/>
<path color="#d00000" d="M279 763l6-7-6-6-6 7z"/>
<path color="#d20000" d="M290 763l6-6-6-8-5 7z"/>
<path color="#d20000" d="M302 765l6-6-6-8-6 6z"/>
<path color="#68b900" d="M205 819l6-12-6 0-6 11z"/>
<path color="#baa800" d="M216 808l6-12-6 0-5 11z"/>
<path color="#bd4800" d="M227 797l6-11-6-1-5 11z"/>
<path color="#c30000" d="M239 787l5-10-5-2-6 11z"/>
<path color="#c80000" d="M250 779l6-9-6-3-6 10z"/>
<path color="#cd0000" d="M262 774l5-9-5-4-6 9z"/>
<path color="#d10000" d="M273 770l6-7-6-6-6 8z"/>
<path color="#d30000" d="M285 769l5-6-5-7-6 7z"/>
<path color="#d40000" d="M296 771l6-6-6-8-6 6z"/>
<path color="#7ac000" d="M211 820l5-12-5-1-6 12z"/>
<path color="#c1a100" d="M222 809l5-12-5-1-6 12z"/>
<path color="#c44100" d="M233 799l6-12-6-1-6 11z"/>
<path color="#c90000" d="M245 790l5-11-6-2-5 10z"/>
<path color="#ce0000" d="M256 783l6-9-6-4-6 9z"/>
<path color="#d10000" d="M267 779l6-9-6-5-5 9z"/>
<path color="#d40000" d="M279 777l6-8-6-6-6 7z"/>
<path color="#d50000" d="M290 778l6-7-6-8-5 6z"/>
<path color="#86c500" d="M216 822l6-13-6-1-5 12z"/>
<path color="#c94200" d="M239 801l6-11-6-3-6 12z"/>
<path color="#ce0000" d="M250 793l6-10-6-4-5 11z"/>
<path color="#d10000" d="M262 788l5-9-5-5-6 9z"/>
<path color="#d60000" d="M285 785l5-7-5-9-6 8z"/>
<path color="#c69e00" d="M228 811l5-12-6-2-5 12z"/>
<path color="#d40000" d="M273 785l6-8-6-7-6 9z"/>
<path color="#cd4900" d="M245 804l5-11-5-3-6 11z"/>
<path color="#d10600" d="M256 797l6-9-6-5-6 10z"/>
<path color="#8ec900" d="M222 824l6-13-6-2-6 13z"/>
<path color="#ca9f00" d="M233 814l6-13-6-2-5 12z"/>
<path color="#d40000" d="M267 793l6-8-6-6-5 9z"/>
<path color="#d60000" d="M279 792l6-7-6-8-6 8z"/>
<path color="#90cc00" d="M228 827l5-13-5-3-6 13z"/>
<path color="#cda600" d="M239 817l6-13-6-3-6 13z"/>
<path color="#d05800" d="M250 808l6-11-6-4-5 11z"/>
<path color="#d32100" d="M262 803l5-10-5-5-6 9z"/>
<path color="#d60500" d="M273 800l6-8-6-7-6 8z"/>
<path color="#8ecd00" d="M233 830l6-13-6-3-5 13z"/>
<path color="#cfb200" d="M245 820l5-12-5-4-6 13z"/>
<path color="#d26e00" d="M256 813l6-10-6-6-6 11z"/>
<path color="#d54500" d="M267 808l6-8-6-7-5 10z"/>
<path color="#88ce00" d="M239 833l6-13-6-3-6 13z"/>
<path color="#d0c100" d="M250 824l6-11-6-5-5 12z"/>
<path color="#d38900" d="M262 817l5-9-5-5-6 10z"/>
<path color="#80ce00" d="M245 835l5-11-5-4-6 13z"/>
<path color="#ced000" d="M256 827l6-10-6-4-6 11z"/>
<path color="#79cc00" d="M250 838l6-11-6-3-5 11z"/>
</g>
<line x1="277.5" y1="435.8" x2="272.3" y2="323.5" stroke="#8c8c8c" stroke-width="0.75"/>
<line x1="297.2" y1="401.3" x2="294.2" y2="318.3" stroke="#8c8c8c" stroke-width="0.75"/>
<line x1="318.1" y1="394.2" x2="316.1" y2="313.3" stroke="#8c8c8c" stroke-width="0.75"/>
<line x1="338.9" y1="387.5" x2="337.8" y2="308.7" stroke="#8c8c8c" stroke-width="0.75"/>
<line x1="359.6" y1="381.1" x2="359.5" y2="304.3" stroke="#8c8c8c" stroke-width="0.75"/>
<line x1="276.3" y1="408.9" x2="359.6" y2="381.1" stroke="#8c8c8c" stroke-width="0.75"/>
<line x1="275.3" y1="388.1" x2="359.5" y2="362.4" stroke="#8c8c8c" stroke-width="0.75"/>
<line x1="274.3" y1="367" x2="359.5" y2="343.3" stroke="#8c8c8c" stroke-width="0.75"/>
<line x1="273.3" y1="345.5" x2="359.5" y2="323.9" stroke="#8c8c8c" stroke-width="0.75"/>
<line x1="272.3" y1="323.5" x2="359.5" y2="304.3" stroke="#8c8c8c" stroke-width="0.75"/>
<line x1="441.9" y1="435.8" x2="446.9" y2="323.8" stroke="#8c8c8c" stroke-width="0.75"/>
<line x1="431.1" y1="404.6" x2="434.3" y2="320.7" stroke="#8c8c8c" stroke-width="0.75"/>
<line x1="419.1" y1="400.3" x2="421.8" y2="317.7" stroke="#8c8c8c" stroke-width="0.75"/>
<line x1="407.1" y1="396.2" x2="409.2" y2="314.8" stroke="#8c8c8c" stroke-width="0.75"/>
<line x1="395.2" y1="392.3" x2="396.7" y2="312.1" stroke="#8c8c8c" stroke-width="0.75"/>
<line x1="383.3" y1="388.4" x2="384.3" y2="309.4" stroke="#8c8c8c" stroke-width="0.75"/>
<line x1="371.4" y1="384.7" x2="371.9" y2="306.8" stroke="#8c8c8c" stroke-width="0.75"/>
<line x1="359.6" y1="381.1" x2="359.5" y2="304.3" stroke="#8c8c8c" stroke-width="0.75"/>
<line x1="443.1" y1="408.9" x2="359.6" y2="381.1" stroke="#8c8c8c" stroke-width="0.75"/>
<line x1="444" y1="388.2" x2="359.5" y2="362.4" stroke="#8c8c8c" stroke-width="0.75"/>
<line x1="445" y1="367.1" x2="359.5" y2="343.3" stroke="#8c8c8c" stroke-width="0.75"/>
<line x1="445.9" y1="345.6" x2="359.5" y2="323.9" stroke="#8c8c8c" stroke-width="0.75"/>
<line x1="446.9" y1="323.8" x2="359.5" y2="304.3" stroke="#8c8c8c" stroke-width="0.75"/>
<polygon points="359.8,474.2 441.9,435.8 359.6,405.4 277.5,435.8" fill="#ffff00" stroke="#333" stroke-width="0.6"/>
<path transform="scale(.5)" d="M622 845l1 1 1 2 1 1 1 1 2 2 0 1 2 1 1 2 1 0 2 2 1 1 0 1 1 2 1 1 0 2-1 1-1 1-2 2-3 1-3 1-4 1-3 1-3 1-4 1-3 0-4 1-2 1-4 1-3 0-4 1-2 1-4 1-3 0-4 1" stroke="#6b6340" stroke-width="1.4" fill="none"/>
<path transform="scale(.5)" d="M644 837l1 1 2 1 2 1 2 2 1 1 3 1 3 1 2 2 2 1 3 1 3 1 3 2 3 1 4 1 3 1 3 2 4 1 3 1 3 1 3 2 3 1 3 2 1 1 2 1 1 2 0 1 0 1-1 2-1 1-3 1-3 2-4 1-3 1-2 1-4 1-3 0-4 1-3 1-4 1-2 0-5 1-2 0-3 0-5 1-2 1-3 0-4 0-3 1-3 0-3 1-5 0-2 0-3 1-4 0-4 1-3 0-2 0-4 0-4 1-3 0" stroke="#6b6340" stroke-width="1.4" fill="none"/>
<path transform="scale(.5)" d="M659 832l1 0 3 2 2 1 1 1 3 1 3 2 1 1 3 1 4 1 3 1 3 2 3 1 4 1 3 1 2 1 4 1 3 1 4 1 4 1 2 1 3 1 4 1 4 1 3 1 2 1 3 1 4 1 3 2 3 1 2 1 2 1 2 2 1 1 0 2 0 1 0 2-1 1-3 1-1 1-3 2-3 1-4 1-2 1-4 1-4 1-2 1-4 1-3 1-3 0-4 1-3 1-3 0-4 1-2 1-4 0-3 1-4 1-3 0-3 1-4 0-3 1-3 0-4 1-2 0-4 1-4 0-3 0-2 1-5 0-3 1-3 0-2 0-5 1-3 0-3 1-3 0-2 0" stroke="#6b6340" stroke-width="1.4" fill="none"/>
<path transform="scale(.5)" d="M678 825l3 1 2 1 2 1 2 2 3 1 3 1 3 1 2 1 3 1 3 2 3 0 3 1 3 1 4 1 3 2 4 1 2 0 4 1 4 1 3 1 2 1 4 1 4 1 2 0 4 1 3 1 3 1 4 1 3 0 3 1 4 1 3 1 3 1 4 1 3 1 4 1 2 1 3 1 3 1 2 1 3 2 2 1 1 1 1 2 0 1 0 1-1 2-2 1-2 2-2 1-3 1-3 2-3 1-4 1-3 1-2 1-4 1-4 2-2 0-4 1-3 1-3 1-5 1-2 0-4 2-2 0-4 1-2 1-5 1-2 0-4 1-3 1-4 0-2 1-5 1-2 0-5 1-2 1-4 1-3 0-3 1-4 0-2 1-5 1-2 0-3 1-5 0-2 1-3 0-4 1-3 0-3 1-4 1-3 0-3 0-4 1-1 0" stroke="#66dd44" stroke-width="1.4" fill="none"/>
<line x1="356.6" y1="308.7" x2="356.6" y2="372" stroke="#555" stroke-width="0.8"/>
<g transform="scale(.5)" fill="currentColor" stroke="currentColor" stroke-width="0.9" stroke-linejoin="round">
<path color="#000113" d="M719 764l4-1-4-1-4 1z"/>
<path color="#000009" d="M715 764l4 0-4-1-3 0z"/>
<path color="#000114" d="M723 765l4-1-4-1-4 1z"/>
<path color="#000000" d="M712 765l3-1-3-1-4 1z"/>
<path color="#00010a" d="M719 766l4-1-4-1-4 0z"/>
<path color="#000116" d="M727 766l3-1-3-1-4 1z"/>
<path color="#000000" d="M708 765l4 0-4-1-4 0z"/>
<path color="#000000" d="M715 766l4 0-4-2-3 1z"/>
<path color="#00010b" d="M723 767l4-1-4-1-4 1z"/>
<path color="#000117" d="M730 767l4-1-4-1-3 1z"/>
<path color="#000000" d="M704 765l4 0-4-1-4 0z"/>
<path color="#000000" d="M712 766l3 0-3-1-4 0z"/>
<path color="#000001" d="M719 767l4 0-4-1-4 0z"/>
<path color="#00010c" d="M727 768l3-1-3-1-4 1z"/>
<path color="#000118" d="M734 768l4 0-4-2-4 1z"/>
<path color="#000000" d="M715 768l4-1-4-1-3 0z"/>
<path color="#000002" d="M723 769l4-1-4-1-4 0z"/>
<path color="#000000" d="M700 765l4 0-4-1-3-1z"/>
<path color="#000000" d="M708 766l4 0-4-1-4 0z"/>
<path color="#00010d" d="M730 769l4-1-4-1-3 1z"/>
<path color="#000118" d="M738 770l4-1-4-1-4 0z"/>
<path color="#000000" d="M696 763l4 2-3-2-4-1z"/>
<path color="#000000" d="M704 766l4 0-4-1-4 0z"/>
<path color="#000000" d="M712 768l3 0-3-2-4 0z"/>
<path color="#000000" d="M719 769l4 0-4-2-4 1z"/>
<path color="#000002" d="M727 770l3-1-3-1-4 1z"/>
<path color="#00010d" d="M734 770l4 0-4-2-4 1z"/>
<path color="#000119" d="M742 771l4-1-4-1-4 1z"/>
<path color="#000000" d="M693 762l3 1-3-1-4-2z"/>
<path color="#000000" d="M700 765l4 1-4-1-4-2z"/>
<path color="#000000" d="M708 767l4 1-4-2-4 0z"/>
<path color="#000000" d="M715 769l4 0-4-1-3 0z"/>
<path color="#000000" d="M723 770l4 0-4-1-4 0z"/>
<path color="#000002" d="M730 771l4-1-4-1-3 1z"/>
<path color="#00010e" d="M738 772l4-1-4-1-4 0z"/>
<path color="#000119" d="M746 772l3-1-3-1-4 1z"/>
<path color="#00090d" d="M689 760l4 2-4-2-4-2z"/>
<path color="#000000" d="M696 764l4 1-4-2-3-1z"/>
<path color="#000000" d="M704 766l4 1-4-1-4-1z"/>
<path color="#000000" d="M712 769l3 0-3-1-4-1z"/>
<path color="#000000" d="M727 771l3 0-3-1-4 0z"/>
<path color="#000002" d="M734 772l4 0-4-2-4 1z"/>
<path color="#00010d" d="M742 773l4-1-4-1-4 1z"/>
<path color="#000119" d="M749 773l4-1-4-1-3 1z"/>
<path color="#000000" d="M719 770l4 0-4-1-4 0z"/>
<path color="#000b0d" d="M685 757l4 3-4-2-4-3z"/>
<path color="#00080d" d="M693 761l3 3-3-2-4-2z"/>
<path color="#000000" d="M700 765l4 1-4-1-4-1z"/>
<path color="#000000" d="M708 768l4 1-4-2-4-1z"/>
<path color="#000000" d="M715 770l4 0-4-1-3 0z"/>
<path color="#000000" d="M723 771l4 0-4-1-4 0z"/>
<path color="#000000" d="M730 773l4-1-4-1-3 0z"/>
<path color="#000002" d="M738 773l4 0-4-1-4 0z"/>
<path color="#00010d" d="M746 774l3-1-3-1-4 1z"/>
<path color="#000118" d="M753 774l4-1-4-1-4 1z"/>
<path color="#00080d" d="M696 763l4 2-4-1-3-3z"/>
<path color="#000000" d="M704 766l4 2-4-2-4-1z"/>
<path color="#000000" d="M734 774l4-1-4-1-4 1z"/>
<path color="#000001" d="M742 774l4 0-4-1-4 0z"/>
<path color="#000d0b" d="M681 753l4 4-4-2-4-4z"/>
<path color="#000b0d" d="M689 759l4 2-4-1-4-3z"/>
<path color="#000000" d="M712 769l3 1-3-1-4-1z"/>
<path color="#000000" d="M719 771l4 0-4-1-4 0z"/>
<path color="#000000" d="M727 773l3 0-3-2-4 0z"/>
<path color="#00010c" d="M749 775l4-1-4-1-3 1z"/>
<path color="#000118" d="M757 775l4 0-4-2-4 1z"/>
<path color="#000d08" d="M677 749l4 4-4-2-3-4z"/>
<path color="#000d0c" d="M685 755l4 4-4-2-4-4z"/>
<path color="#000a0d" d="M693 760l3 3-3-2-4-2z"/>
<path color="#00080d" d="M700 765l4 1-4-1-4-2z"/>
<path color="#000000" d="M708 768l4 1-4-1-4-2z"/>
<path color="#000000" d="M715 770l4 1-4-1-3-1z"/>
<path color="#000000" d="M723 772l4 1-4-2-4 0z"/>
<path color="#000000" d="M730 774l4 0-4-1-3 0z"/>
<path color="#000000" d="M738 775l4-1-4-1-4 1z"/>
<path color="#000000" d="M746 776l3-1-3-1-4 0z"/>
<path color="#00010b" d="M753 776l4-1-4-1-4 1z"/>
<path color="#000117" d="M761 777l3-1-3-1-4 0z"/>
<path color="#000d04" d="M673 744l4 5-3-2-4-5z"/>
<path color="#000d08" d="M681 751l4 4-4-2-4-4z"/>
<path color="#000d0c" d="M689 757l4 3-4-1-4-4z"/>
<path color="#000a0d" d="M696 762l4 3-4-2-3-3z"/>
<path color="#00080d" d="M704 766l4 2-4-2-4-1z"/>
<path color="#00060d" d="M712 769l3 1-3-1-4-1z"/>
<path color="#000000" d="M719 772l4 0-4-1-4-1z"/>
<path color="#000000" d="M727 773l3 1-3-1-4-1z"/>
<path color="#000000" d="M734 775l4 0-4-1-4 0z"/>
<path color="#000000" d="M742 776l4 0-4-2-4 1z"/>
<path color="#000000" d="M749 777l4-1-4-1-3 1z"/>
<path color="#000009" d="M757 777l4 0-4-2-4 1z"/>
<path color="#000115" d="M764 778l4-1-4-1-3 1z"/>
<path color="#000d00" d="M670 739l3 5-3-2-4-6z"/>
<path color="#000d05" d="M677 747l4 4-4-2-4-5z"/>
<path color="#000d09" d="M685 753l4 4-4-2-4-4z"/>
<path color="#000d0d" d="M693 759l3 3-3-2-4-3z"/>
<path color="#000a0d" d="M700 763l4 3-4-1-4-3z"/>
<path color="#00080d" d="M708 767l4 2-4-1-4-2z"/>
<path color="#00060d" d="M715 770l4 2-4-2-3-1z"/>
<path color="#000000" d="M723 773l4 0-4-1-4 0z"/>
<path color="#000000" d="M731 775l3 0-4-1-3-1z"/>
<path color="#000000" d="M738 776l4 0-4-1-4 0z"/>
<path color="#000000" d="M746 777l3 0-3-1-4 0z"/>
<path color="#000000" d="M753 778l4-1-4-1-4 1z"/>
<path color="#000007" d="M761 778l3 0-3-1-4 0z"/>
<path color="#000114" d="M768 779l4-1-4-1-4 1z"/>
<path color="#000d01" d="M673 742l4 5-4-3-3-5z"/>
<path color="#000d05" d="M681 749l4 4-4-2-4-4z"/>
<path color="#000d09" d="M689 755l4 4-4-2-4-4z"/>
<path color="#00070d" d="M712 768l3 2-3-1-4-2z"/>
<path color="#00060d" d="M719 771l4 2-4-1-4-2z"/>
<path color="#000000" d="M727 774l4 1-4-2-4 0z"/>
<path color="#000000" d="M749 778l4 0-4-1-3 0z"/>
<path color="#000000" d="M757 779l4-1-4-1-4 1z"/>
<path color="#000005" d="M764 780l4-1-4-1-3 0z"/>
<path color="#050d00" d="M666 733l4 6-4-3-4-6z"/>
<path color="#000d0d" d="M696 760l4 3-4-1-3-3z"/>
<path color="#000a0d" d="M704 765l4 2-4-1-4-3z"/>
<path color="#000000" d="M734 776l4 0-4-1-3 0z"/>
<path color="#000000" d="M742 777l4 0-4-1-4 0z"/>
<path color="#000111" d="M772 780l4-1-4-1-4 1z"/>
<path color="#090d00" d="M662 727l4 6-4-3-4-6z"/>
<path color="#040d00" d="M669 736l4 6-3-3-4-6z"/>
<path color="#000d01" d="M677 744l4 5-4-2-4-5z"/>
<path color="#000d06" d="M685 751l4 4-4-2-4-4z"/>
<path color="#000d0a" d="M693 757l3 3-3-1-4-4z"/>
<path color="#000c0d" d="M700 762l4 3-4-2-4-3z"/>
<path color="#000a0d" d="M708 766l4 2-4-1-4-2z"/>
<path color="#00070d" d="M715 770l4 1-4-1-3-2z"/>
<path color="#00060d" d="M723 772l4 2-4-1-4-2z"/>
<path color="#000000" d="M731 775l3 1-3-1-4-1z"/>
<path color="#000000" d="M738 777l4 0-4-1-4 0z"/>
<path color="#000000" d="M746 778l3 0-3-1-4 0z"/>
<path color="#000000" d="M753 779l4 0-4-1-4 0z"/>
<path color="#000000" d="M761 780l3 0-3-2-4 1z"/>
<path color="#000003" d="M768 781l4-1-4-1-4 1z"/>
<path color="#00010f" d="M776 781l4-1-4-1-4 1z"/>
<path color="#000d02" d="M681 746l4 5-4-2-4-5z"/>
<path color="#00080d" d="M719 771l4 1-4-1-4-1z"/>
<path color="#000000" d="M757 780l4 0-4-1-4 0z"/>
<path color="#0d0b00" d="M658 721l4 6-4-3-4-6z"/>
<path color="#080d00" d="M666 730l3 6-3-3-4-6z"/>
<path color="#030d00" d="M673 738l4 6-4-2-4-6z"/>
<path color="#000d06" d="M689 752l4 5-4-2-4-4z"/>
<path color="#000d0a" d="M696 758l4 4-4-2-3-3z"/>
<path color="#000c0d" d="M704 763l4 3-4-1-4-3z"/>
<path color="#000a0d" d="M712 767l3 3-3-2-4-2z"/>
<path color="#00060d" d="M727 773l4 2-4-1-4-2z"/>
<path color="#000000" d="M734 776l4 1-4-1-3-1z"/>
<path color="#000000" d="M742 778l4 0-4-1-4 0z"/>
<path color="#000000" d="M749 779l4 0-4-1-3 0z"/>
<path color="#000000" d="M765 781l3 0-4-1-3 0z"/>
<path color="#000001" d="M772 782l4-1-4-1-4 1z"/>
<path color="#00010c" d="M780 782l3-1-3-1-4 1z"/>
<path color="#0d0600" d="M654 715l4 6-4-3-4-6z"/>
<path color="#0d0d00" d="M662 724l4 6-4-3-4-6z"/>
<path color="#070d00" d="M669 733l4 5-4-2-3-6z"/>
<path color="#020d00" d="M677 741l4 5-4-2-4-6z"/>
<path color="#000d02" d="M685 748l4 4-4-1-4-5z"/>
<path color="#000d07" d="M693 754l3 4-3-1-4-5z"/>
<path color="#000d0a" d="M700 759l4 4-4-1-4-4z"/>
<path color="#000c0d" d="M708 764l4 3-4-1-4-3z"/>
<path color="#000a0d" d="M715 768l4 3-4-1-3-3z"/>
<path color="#00080d" d="M723 772l4 1-4-1-4-1z"/>
<path color="#00060d" d="M731 774l3 2-3-1-4-2z"/>
<path color="#000000" d="M738 777l4 1-4-1-4-1z"/>
<path color="#000000" d="M746 779l3 0-3-1-4 0z"/>
<path color="#000000" d="M753 780l4 0-4-1-4 0z"/>
<path color="#000000" d="M761 781l4 0-4-1-4 0z"/>
<path color="#000000" d="M768 782l4 0-4-1-3 0z"/>
<path color="#000000" d="M776 783l4-1-4-1-4 1z"/>
<path color="#000009" d="M783 783l4 0-4-2-3 1z"/>
<path color="#0d0200" d="M650 709l4 6-4-3-4-7z"/>
<path color="#0d0800" d="M658 718l4 6-4-3-4-6z"/>
<path color="#0c0d00" d="M665 727l4 6-3-3-4-6z"/>
<path color="#070d00" d="M673 735l4 6-4-3-4-5z"/>
<path color="#020d00" d="M681 742l4 6-4-2-4-5z"/>
<path color="#000d03" d="M689 749l4 5-4-2-4-4z"/>
<path color="#000d07" d="M696 755l4 4-4-1-3-4z"/>
<path color="#000d0a" d="M704 760l4 4-4-1-4-4z"/>
<path color="#000c0d" d="M712 765l3 3-3-1-4-3z"/>
<path color="#000a0d" d="M719 769l4 3-4-1-4-3z"/>
<path color="#00080d" d="M727 772l4 2-4-1-4-1z"/>
<path color="#00060d" d="M734 775l4 2-4-1-3-2z"/>
<path color="#00050d" d="M742 778l4 1-4-1-4-1z"/>
<path color="#000000" d="M749 779l4 1-4-1-3 0z"/>
<path color="#000000" d="M757 781l4 0-4-1-4 0z"/>
<path color="#000000" d="M765 782l3 0-3-1-4 0z"/>
<path color="#000000" d="M772 783l4 0-4-1-4 0z"/>
<path color="#000000" d="M780 784l3-1-3-1-4 1z"/>
<path color="#000005" d="M787 784l4 0-4-1-4 0z"/>
<path color="#0d0300" d="M654 712l4 6-4-3-4-6z"/>
<path color="#0d0900" d="M661 721l4 6-3-3-4-6z"/>
<path color="#0b0d00" d="M669 729l4 6-4-2-4-6z"/>
<path color="#000d03" d="M692 750l4 5-3-1-4-5z"/>
<path color="#000d07" d="M700 756l4 4-4-1-4-4z"/>
<path color="#000d0a" d="M708 761l4 4-4-1-4-4z"/>
<path color="#00080d" d="M731 773l3 2-3-1-4-2z"/>
<path color="#00060d" d="M738 776l4 2-4-1-4-2z"/>
<path color="#00050d" d="M746 778l3 1-3 0-4-1z"/>
<path color="#000000" d="M768 783l4 0-4-1-3 0z"/>
<path color="#000000" d="M776 784l4 0-4-1-4 0z"/>
<path color="#000000" d="M783 785l4-1-4-1-3 1z"/>
<path color="#0d0000" d="M646 703l4 6-4-4-4-6z"/>
<path color="#060d00" d="M677 737l4 5-4-1-4-6z"/>
<path color="#010d00" d="M685 744l4 5-4-1-4-6z"/>
<path color="#000d0d" d="M715 766l4 3-4-1-3-3z"/>
<path color="#000a0d" d="M723 770l4 2-4 0-4-3z"/>
<path color="#000000" d="M753 780l4 1-4-1-4-1z"/>
<path color="#000000" d="M761 782l4 0-4-1-4 0z"/>
<path color="#000002" d="M791 786l4-1-4-1-4 0z"/>
<path color="#0d0000" d="M642 697l4 6-4-4-4-5z"/>
<path color="#0d0000" d="M650 706l4 6-4-3-4-6z"/>
<path color="#0d0400" d="M657 715l4 6-3-3-4-6z"/>
<path color="#0d0a00" d="M665 723l4 6-4-2-4-6z"/>
<path color="#0b0d00" d="M673 731l4 6-4-2-4-6z"/>
<path color="#060d00" d="M681 738l4 6-4-2-4-5z"/>
<path color="#010d00" d="M689 745l3 5-3-1-4-5z"/>
<path color="#000d03" d="M696 751l4 5-4-1-4-5z"/>
<path color="#000d07" d="M704 757l4 4-4-1-4-4z"/>
<path color="#000d0a" d="M712 762l3 4-3-1-4-4z"/>
<path color="#000d0d" d="M719 767l4 3-4-1-4-3z"/>
<path color="#000a0d" d="M727 771l4 2-4-1-4-2z"/>
<path color="#00080d" d="M734 774l4 2-4-1-3-2z"/>
<path color="#00070d" d="M742 777l4 1-4 0-4-2z"/>
<path color="#00050d" d="M750 779l3 1-4-1-3-1z"/>
<path color="#000000" d="M757 781l4 1-4-1-4-1z"/>
<path color="#000000" d="M765 783l3 0-3-1-4 0z"/>
<path color="#000000" d="M772 784l4 0-4-1-4 0z"/>
<path color="#000000" d="M780 785l3 0-3-1-4 0z"/>
<path color="#000000" d="M787 786l4 0-4-2-4 1z"/>
<path color="#000000" d="M795 787l4-1-4-1-4 1z"/>
<path color="#0d0500" d="M661 717l4 6-4-2-4-6z"/>
<path color="#000d03" d="M700 752l4 5-4-1-4-5z"/>
<path color="#00090d" d="M738 775l4 2-4-1-4-2z"/>
<path color="#000000" d="M776 785l4 0-4-1-4 0z"/>
<path color="#0d0000" d="M638 692l4 5-4-3-4-6z"/>
<path color="#0d0000" d="M646 700l4 6-4-3-4-6z"/>
<path color="#0d0000" d="M653 709l4 6-3-3-4-6z"/>
<path color="#0d0a00" d="M669 725l4 6-4-2-4-6z"/>
<path color="#0a0d00" d="M677 733l4 5-4-1-4-6z"/>
<path color="#050d00" d="M685 740l4 5-4-1-4-6z"/>
<path color="#010d00" d="M692 746l4 5-4-1-3-5z"/>
<path color="#000d06" d="M708 758l4 4-4-1-4-4z"/>
<path color="#000d0a" d="M715 763l4 4-4-1-3-4z"/>
<path color="#000d0c" d="M723 767l4 4-4-1-4-3z"/>
<path color="#000b0d" d="M731 771l3 3-3-1-4-2z"/>
<path color="#00070d" d="M746 777l4 2-4-1-4-1z"/>
<path color="#00060d" d="M753 780l4 1-4-1-3-1z"/>
<path color="#000000" d="M761 782l4 1-4-1-4-1z"/>
<path color="#000000" d="M768 784l4 0-4-1-3 0z"/>
<path color="#000000" d="M784 786l3 0-4-1-3 0z"/>
<path color="#000000" d="M791 787l4 0-4-1-4 0z"/>
<path color="#000000" d="M799 788l3-1-3-1-4 1z"/>
<path color="#0d0000" d="M634 687l4 5-4-4-4-5z"/>
<path color="#0d0000" d="M642 695l4 5-4-3-4-5z"/>
<path color="#0d0000" d="M649 703l4 6-3-3-4-6z"/>
<path color="#0d0100" d="M657 711l4 6-4-2-4-6z"/>
<path color="#0d0600" d="M665 719l4 6-4-2-4-6z"/>
<path color="#0d0b00" d="M673 727l4 6-4-2-4-6z"/>
<path color="#0a0d00" d="M681 734l4 6-4-2-4-5z"/>
<path color="#050d00" d="M689 741l3 5-3-1-4-5z"/>
<path color="#010d00" d="M696 747l4 5-4-1-4-5z"/>
<path color="#000d03" d="M704 753l4 5-4-1-4-5z"/>
<path color="#000d06" d="M712 759l3 4-3-1-4-4z"/>
<path color="#000d09" d="M719 764l4 3-4 0-4-4z"/>
<path color="#000d0c" d="M727 768l4 3-4 0-4-4z"/>
<path color="#000b0d" d="M734 772l4 3-4-1-3-3z"/>
<path color="#00090d" d="M742 775l4 2-4 0-4-2z"/>
<path color="#00070d" d="M750 778l3 2-3-1-4-2z"/>
<path color="#00060d" d="M757 781l4 1-4-1-4-1z"/>
<path color="#00050d" d="M765 783l3 1-3-1-4-1z"/>
<path color="#000000" d="M772 784l4 1-4-1-4 0z"/>
<path color="#000000" d="M780 786l4 0-4-1-4 0z"/>
<path color="#000000" d="M787 787l4 0-4-1-3 0z"/>
<path color="#000000" d="M795 788l4 0-4-1-4 0z"/>
<path color="#000000" d="M802 789l4-1-4-1-3 1z"/>
<path color="#0d0000" d="M630 683l4 4-4-4-4-4z"/>
<path color="#0d0000" d="M637 690l5 5-4-3-4-5z"/>
<path color="#0d0000" d="M645 698l4 5-3-3-4-5z"/>
<path color="#0d0000" d="M653 706l4 5-4-2-4-6z"/>
<path color="#0d0600" d="M669 721l4 6-4-2-4-6z"/>
<path color="#0d0b00" d="M677 728l4 6-4-1-4-6z"/>
<path color="#0a0d00" d="M685 735l4 6-4-1-4-6z"/>
<path color="#050d00" d="M692 742l4 5-4-1-3-5z"/>
<path color="#000d02" d="M708 754l4 5-4-1-4-5z"/>
<path color="#000d06" d="M715 759l4 5-4-1-3-4z"/>
<path color="#000d09" d="M723 764l4 4-4-1-4-3z"/>
<path color="#000d0b" d="M731 768l3 4-3-1-4-3z"/>
<path color="#000a0d" d="M746 776l4 2-4-1-4-2z"/>
<path color="#00080d" d="M753 779l4 2-4-1-3-2z"/>
<path color="#00060d" d="M761 781l4 2-4-1-4-1z"/>
<path color="#00050d" d="M768 783l4 1-4 0-3-1z"/>
<path color="#000000" d="M784 787l3 0-3-1-4 0z"/>
<path color="#000000" d="M791 788l4 0-4-1-4 0z"/>
<path color="#000000" d="M799 789l3 0-3-1-4 0z"/>
<path color="#000000" d="M806 790l4-1-4-1-4 1z"/>
<path color="#0d0100" d="M661 713l4 6-4-2-4-6z"/>
<path color="#010d00" d="M700 748l4 5-4-1-4-5z"/>
<path color="#000c0d" d="M738 772l4 3-4 0-4-3z"/>
<path color="#000000" d="M776 785l4 1-4-1-4-1z"/>
<path color="#0d0000" d="M625 679l5 4-4-4-4-4z"/>
<path color="#0d0000" d="M633 686l4 4-3-3-4-4z"/>
<path color="#0d0000" d="M641 693l4 5-3-3-5-5z"/>
<path color="#0d0000" d="M649 700l4 6-4-3-4-5z"/>
<path color="#0d0000" d="M657 708l4 5-4-2-4-5z"/>
<path color="#0d0200" d="M665 715l4 6-4-2-4-6z"/>
<path color="#0d0700" d="M673 722l4 6-4-1-4-6z"/>
<path color="#0d0b00" d="M681 729l4 6-4-1-4-6z"/>
<path color="#0a0d00" d="M688 736l4 6-3-1-4-6z"/>
<path color="#060d00" d="M696 743l4 5-4-1-4-5z"/>
<path color="#020d00" d="M704 749l4 5-4-1-4-5z"/>
<path color="#000d02" d="M712 754l3 5-3 0-4-5z"/>
<path color="#000d05" d="M719 760l4 4-4 0-4-5z"/>
<path color="#000d08" d="M727 765l4 3-4 0-4-4z"/>
<path color="#000d0b" d="M734 769l4 3-4 0-3-4z"/>
<path color="#000c0d" d="M742 773l4 3-4-1-4-3z"/>
<path color="#000a0d" d="M750 776l3 3-3-1-4-2z"/>
<path color="#00080d" d="M757 779l4 2-4 0-4-2z"/>
<path color="#00070d" d="M765 782l3 1-3 0-4-2z"/>
<path color="#00050d" d="M772 784l4 1-4-1-4-1z"/>
<path color="#000000" d="M780 786l4 1-4-1-4-1z"/>
<path color="#000000" d="M787 787l4 1-4-1-3 0z"/>
<path color="#000000" d="M795 789l4 0-4-1-4 0z"/>
<path color="#000000" d="M802 790l4 0-4-1-3 0z"/>
<path color="#000000" d="M810 791l4-1-4-1-4 1z"/>
<path color="#000000" d="M621 675l4 4-3-4-5-3z"/>
<path color="#0d0000" d="M629 682l4 4-3-3-5-4z"/>
<path color="#0d0000" d="M637 689l4 4-4-3-4-4z"/>
<path color="#0d0000" d="M645 695l4 5-4-2-4-5z"/>
<path color="#0d0700" d="M677 724l4 5-4-1-4-6z"/>
<path color="#0d0b00" d="M685 730l3 6-3-1-4-6z"/>
<path color="#000d01" d="M715 755l4 5-4-1-3-5z"/>
<path color="#000d05" d="M723 760l4 5-4-1-4-4z"/>
<path color="#000b0d" d="M753 777l4 2-4 0-3-3z"/>
<path color="#00090d" d="M761 780l4 2-4-1-4-2z"/>
<path color="#000000" d="M791 788l4 1-4-1-4-1z"/>
<path color="#000000" d="M799 790l3 0-3-1-4 0z"/>
<path color="#000000" d="M806 791l4 0-4-1-4 0z"/>
<path color="#000000" d="M814 792l4-1-4-1-4 1z"/>
<path color="#0d0000" d="M653 702l4 6-4-2-4-6z"/>
<path color="#0d0000" d="M661 710l4 5-4-2-4-5z"/>
<path color="#0d0200" d="M669 717l4 5-4-1-4-6z"/>
<path color="#0a0d00" d="M692 737l4 6-4-1-4-6z"/>
<path color="#060d00" d="M700 743l4 6-4-1-4-5z"/>
<path color="#020d00" d="M708 749l4 5-4 0-4-5z"/>
<path color="#000d08" d="M731 765l3 4-3-1-4-3z"/>
<path color="#000d0a" d="M738 769l4 4-4-1-4-3z"/>
<path color="#000d0d" d="M746 773l4 3-4 0-4-3z"/>
<path color="#00070d" d="M769 782l3 2-4-1-3-1z"/>
<path color="#00060d" d="M776 785l4 1-4-1-4-1z"/>
<path color="#00050d" d="M784 786l3 1-3 0-4-1z"/>
<path color="#000000" d="M617 672l4 3-4-3-4-3z"/>
<path color="#0d0000" d="M625 678l4 4-4-3-4-4z"/>
<path color="#0d0000" d="M633 685l4 4-4-3-4-4z"/>
<path color="#0d0000" d="M641 691l4 4-4-2-4-4z"/>
<path color="#0d0000" d="M649 698l4 4-4-2-4-5z"/>
<path color="#0d0000" d="M657 704l4 6-4-2-4-6z"/>
<path color="#0d0000" d="M665 711l4 6-4-2-4-5z"/>
<path color="#0d0200" d="M673 718l4 6-4-2-4-5z"/>
<path color="#0d0700" d="M681 725l4 5-4-1-4-5z"/>
<path color="#0d0b00" d="M688 731l4 6-4-1-3-6z"/>
<path color="#0a0d00" d="M696 738l4 5-4 0-4-6z"/>
<path color="#060d00" d="M704 744l4 5-4 0-4-6z"/>
<path color="#030d00" d="M712 750l3 5-3-1-4-5z"/>
<path color="#000d01" d="M719 755l4 5-4 0-4-5z"/>
<path color="#000d04" d="M727 760l4 5-4 0-4-5z"/>
<path color="#000d07" d="M734 765l4 4-4 0-3-4z"/>
<path color="#000d0a" d="M742 769l4 4-4 0-4-4z"/>
<path color="#000d0c" d="M750 773l3 4-3-1-4-3z"/>
<path color="#000b0d" d="M757 777l4 3-4-1-4-2z"/>
<path color="#00090d" d="M765 780l4 2-4 0-4-2z"/>
<path color="#00080d" d="M772 783l4 2-4-1-3-2z"/>
<path color="#00060d" d="M780 785l4 1-4 0-4-1z"/>
<path color="#00050d" d="M787 787l4 1-4-1-3-1z"/>
<path color="#000000" d="M795 789l4 1-4-1-4-1z"/>
<path color="#000000" d="M803 790l3 1-4-1-3 0z"/>
<path color="#000000" d="M810 791l4 1-4-1-4 0z"/>
<path color="#000000" d="M818 792l3 0-3-1-4 1z"/>
<path color="#0d0000" d="M629 681l4 4-4-3-4-4z"/>
<path color="#0d0000" d="M637 687l4 4-4-2-4-4z"/>
<path color="#000000" d="M799 790l4 0-4 0-4-1z"/>
<path color="#000000" d="M806 791l4 0-4 0-3-1z"/>
<path color="#000000" d="M613 670l4 2-4-3-4-2z"/>
<path color="#000000" d="M621 675l4 3-4-3-4-3z"/>
<path color="#0d0000" d="M645 693l4 5-4-3-4-4z"/>
<path color="#0d0000" d="M653 700l4 4-4-2-4-4z"/>
<path color="#0d0000" d="M661 706l4 5-4-1-4-6z"/>
<path color="#0d0000" d="M669 713l4 5-4-1-4-6z"/>
<path color="#0d0200" d="M677 719l4 6-4-1-4-6z"/>
<path color="#0d0700" d="M684 726l4 5-3-1-4-5z"/>
<path color="#0d0b00" d="M692 732l4 6-4-1-4-6z"/>
<path color="#0b0d00" d="M700 738l4 6-4-1-4-5z"/>
<path color="#070d00" d="M708 744l4 6-4-1-4-5z"/>
<path color="#030d00" d="M715 750l4 5-4 0-3-5z"/>
<path color="#000d00" d="M723 755l4 5-4 0-4-5z"/>
<path color="#000d04" d="M731 761l3 4-3 0-4-5z"/>
<path color="#000d07" d="M738 765l4 4-4 0-4-4z"/>
<path color="#000d09" d="M746 770l4 3-4 0-4-4z"/>
<path color="#000d0c" d="M753 774l4 3-4 0-3-4z"/>
<path color="#000c0d" d="M761 777l4 3-4 0-4-3z"/>
<path color="#000a0d" d="M769 780l3 3-3-1-4-2z"/>
<path color="#00080d" d="M776 783l4 2-4 0-4-2z"/>
<path color="#00070d" d="M784 786l3 1-3-1-4-1z"/>
<path color="#00050d" d="M791 788l4 1-4-1-4-1z"/>
<path color="#000000" d="M814 792l4 0-4 0-4-1z"/>
<path color="#000000" d="M821 793l4 0-4-1-3 0z"/>
<path color="#000000" d="M609 668l4 2-4-3-4-2z"/>
<path color="#000000" d="M617 673l4 2-4-3-4-2z"/>
<path color="#0d0000" d="M625 678l4 3-4-3-4-3z"/>
<path color="#0d0000" d="M633 684l4 3-4-2-4-4z"/>
<path color="#0d0000" d="M649 695l4 5-4-2-4-5z"/>
<path color="#0d0000" d="M657 701l4 5-4-2-4-4z"/>
<path color="#0d0000" d="M665 707l4 6-4-2-4-5z"/>
<path color="#0d0000" d="M673 714l4 5-4-1-4-5z"/>
<path color="#0d0600" d="M688 726l4 6-4-1-4-5z"/>
<path color="#0d0a00" d="M696 733l4 5-4 0-4-6z"/>
<path color="#0b0d00" d="M704 739l4 5-4 0-4-6z"/>
<path color="#070d00" d="M712 745l3 5-3 0-4-6z"/>
<path color="#000d00" d="M727 756l4 5-4-1-4-5z"/>
<path color="#000d03" d="M735 761l3 4-4 0-3-4z"/>
<path color="#000d06" d="M742 765l4 5-4-1-4-4z"/>
<path color="#000d09" d="M750 770l3 4-3-1-4-3z"/>
<path color="#000c0d" d="M765 777l4 3-4 0-4-3z"/>
<path color="#000a0d" d="M772 781l4 2-4 0-3-3z"/>
<path color="#00090d" d="M780 784l4 2-4-1-4-2z"/>
<path color="#00070d" d="M788 786l3 2-4-1-3-1z"/>
<path color="#00050d" d="M803 790l3 1-3-1-4 0z"/>
<path color="#000000" d="M810 792l4 0-4-1-4 0z"/>
<path color="#000000" d="M818 793l3 0-3-1-4 0z"/>
<path color="#000000" d="M825 794l4 0-4-1-4 0z"/>
<path color="#0d0000" d="M641 689l4 4-4-2-4-4z"/>
<path color="#0d0200" d="M681 720l3 6-3-1-4-6z"/>
<path color="#040d00" d="M719 750l4 5-4 0-4-5z"/>
<path color="#000d0b" d="M757 774l4 3-4 0-4-3z"/>
<path color="#00060d" d="M795 788l4 2-4-1-4-1z"/>
<path color="#000000" d="M605 666l4 2-4-3-4-2z"/>
<path color="#000000" d="M613 671l4 2-4-3-4-2z"/>
<path color="#000000" d="M621 676l4 2-4-3-4-2z"/>
<path color="#0d0000" d="M629 681l4 3-4-3-4-3z"/>
<path color="#0d0000" d="M637 686l4 3-4-2-4-3z"/>
<path color="#0d0000" d="M645 691l4 4-4-2-4-4z"/>
<path color="#0d0000" d="M653 697l4 4-4-1-4-5z"/>
<path color="#0d0000" d="M661 703l4 4-4-1-4-5z"/>
<path color="#0d0000" d="M669 709l4 5-4-1-4-6z"/>
<path color="#0d0000" d="M677 715l4 5-4-1-4-5z"/>
<path color="#0d0200" d="M684 721l4 5-4 0-3-6z"/>
<path color="#0d0600" d="M692 727l4 6-4-1-4-6z"/>
<path color="#0d0a00" d="M700 733l4 6-4-1-4-5z"/>
<path color="#0c0d00" d="M708 739l4 6-4-1-4-5z"/>
<path color="#080d00" d="M715 745l4 5-4 0-3-5z"/>
<path color="#040d00" d="M723 750l4 6-4-1-4-5z"/>
<path color="#010d00" d="M731 756l4 5-4 0-4-5z"/>
<path color="#000d02" d="M738 761l4 4-4 0-3-4z"/>
<path color="#000d05" d="M746 766l4 4-4 0-4-5z"/>
<path color="#000d08" d="M754 770l3 4-4 0-3-4z"/>
<path color="#000d0a" d="M761 774l4 3-4 0-4-3z"/>
<path color="#000d0d" d="M769 778l3 3-3-1-4-3z"/>
<path color="#000b0d" d="M776 781l4 3-4-1-4-2z"/>
<path color="#00090d" d="M784 784l4 2-4 0-4-2z"/>
<path color="#00080d" d="M791 787l4 1-4 0-3-2z"/>
<path color="#00060d" d="M799 789l4 1-4 0-4-2z"/>
<path color="#00050d" d="M806 791l4 1-4-1-3-1z"/>
<path color="#000000" d="M814 793l4 0-4-1-4 0z"/>
<path color="#000000" d="M822 794l3 0-4-1-3 0z"/>
<path color="#000000" d="M829 795l4 0-4-1-4 0z"/>
<path color="#000000" d="M617 674l4 2-4-3-4-2z"/>
<path color="#000000" d="M625 678l4 3-4-3-4-2z"/>
<path color="#0d0000" d="M657 699l4 4-4-2-4-4z"/>
<path color="#0d0000" d="M665 704l4 5-4-2-4-4z"/>
<path color="#0d0600" d="M696 728l4 5-4 0-4-6z"/>
<path color="#0d0a00" d="M704 734l4 5-4 0-4-6z"/>
<path color="#020d00" d="M735 756l3 5-3 0-4-5z"/>
<path color="#000d02" d="M742 761l4 5-4-1-4-4z"/>
<path color="#000d0c" d="M773 778l3 3-4 0-3-3z"/>
<path color="#000b0d" d="M780 781l4 3-4 0-4-3z"/>
<path color="#00050d" d="M810 792l4 1-4-1-4-1z"/>
<path color="#000000" d="M818 793l4 1-4-1-4 0z"/>
<path color="#000000" d="M601 665l4 1-4-3-4-1z"/>
<path color="#000000" d="M609 669l4 2-4-3-4-2z"/>
<path color="#0d0000" d="M633 683l4 3-4-2-4-3z"/>
<path color="#0d0000" d="M641 688l4 3-4-2-4-3z"/>
<path color="#0d0000" d="M649 693l4 4-4-2-4-4z"/>
<path color="#0d0000" d="M673 710l4 5-4-1-4-5z"/>
<path color="#0d0000" d="M680 716l4 5-3-1-4-5z"/>
<path color="#0d0200" d="M688 722l4 5-4-1-4-5z"/>
<path color="#0c0d00" d="M712 739l3 6-3 0-4-6z"/>
<path color="#080d00" d="M719 745l4 5-4 0-4-5z"/>
<path color="#050d00" d="M727 751l4 5-4 0-4-6z"/>
<path color="#000d05" d="M750 766l4 4-4 0-4-4z"/>
<path color="#000d07" d="M757 770l4 4-4 0-3-4z"/>
<path color="#000d0a" d="M765 774l4 4-4-1-4-3z"/>
<path color="#000a0d" d="M788 784l3 3-3-1-4-2z"/>
<path color="#00080d" d="M795 787l4 2-4-1-4-1z"/>
<path color="#00070d" d="M803 790l3 1-3-1-4-1z"/>
<path color="#000000" d="M825 795l4 0-4-1-3 0z"/>
<path color="#000000" d="M833 796l4 0-4-1-4 0z"/>
<path color="#0e0000" d="M597 664l4 1-4-3-4-1z"/>
<path color="#000000" d="M605 668l4 1-4-3-4-1z"/>
<path color="#000000" d="M613 672l4 2-4-3-4-2z"/>
<path color="#000000" d="M621 676l4 2-4-2-4-2z"/>
<path color="#0d0000" d="M629 681l4 2-4-2-4-3z"/>
<path color="#0d0000" d="M637 685l4 3-4-2-4-3z"/>
<path color="#0d0000" d="M645 690l4 3-4-2-4-3z"/>
<path color="#0d0000" d="M653 695l4 4-4-2-4-4z"/>
<path color="#0d0000" d="M661 700l4 4-4-1-4-4z"/>
<path color="#0d0000" d="M669 705l4 5-4-1-4-5z"/>
<path color="#0d0000" d="M676 711l4 5-3-1-4-5z"/>
<path color="#0d0000" d="M684 717l4 5-4-1-4-5z"/>
<path color="#0d0200" d="M692 722l4 6-4-1-4-5z"/>
<path color="#0d0500" d="M700 728l4 6-4-1-4-5z"/>
<path color="#0d0900" d="M708 734l4 5-4 0-4-5z"/>
<path color="#0d0d00" d="M715 740l4 5-4 0-3-6z"/>
<path color="#090d00" d="M723 745l4 6-4-1-4-5z"/>
<path color="#060d00" d="M731 751l4 5-4 0-4-5z"/>
<path color="#020d00" d="M738 756l4 5-4 0-3-5z"/>
<path color="#000d01" d="M746 761l4 5-4 0-4-5z"/>
<path color="#000d04" d="M754 766l3 4-3 0-4-4z"/>
<path color="#000d07" d="M761 771l4 3-4 0-4-4z"/>
<path color="#000d09" d="M769 775l4 3-4 0-4-4z"/>
<path color="#000d0b" d="M776 778l4 3-4 0-3-3z"/>
<path color="#000c0d" d="M784 782l4 2-4 0-4-3z"/>
<path color="#000a0d" d="M792 785l3 2-4 0-3-3z"/>
<path color="#00090d" d="M799 788l4 2-4-1-4-2z"/>
<path color="#00070d" d="M807 790l3 2-4-1-3-1z"/>
<path color="#00060d" d="M814 792l4 1-4 0-4-1z"/>
<path color="#000000" d="M822 794l3 1-3-1-4-1z"/>
<path color="#000000" d="M829 796l4 0-4-1-4 0z"/>
<path color="#000000" d="M837 797l4 0-4-1-4 0z"/>
<path color="#260000" d="M593 664l4 0-4-3-4-1z"/>
<path color="#040000" d="M601 667l4 1-4-3-4-1z"/>
<path color="#000000" d="M609 671l4 1-4-3-4-1z"/>
<path color="#000000" d="M617 675l4 1-4-2-4-2z"/>
<path color="#000000" d="M625 679l4 2-4-3-4-2z"/>
<path color="#0d0000" d="M633 683l4 2-4-2-4-2z"/>
<path color="#0d0000" d="M641 687l4 3-4-2-4-3z"/>
<path color="#0d0000" d="M649 692l4 3-4-2-4-3z"/>
<path color="#0d0000" d="M657 697l4 3-4-1-4-4z"/>
<path color="#0d0000" d="M665 701l4 4-4-1-4-4z"/>
<path color="#0d0000" d="M673 707l3 4-3-1-4-5z"/>
<path color="#0d0000" d="M680 712l4 5-4-1-4-5z"/>
<path color="#0d0000" d="M688 718l4 4-4 0-4-5z"/>
<path color="#0d0100" d="M696 723l4 5-4 0-4-6z"/>
<path color="#0d0500" d="M704 729l4 5-4 0-4-6z"/>
<path color="#0d0900" d="M711 735l4 5-3-1-4-5z"/>
<path color="#0d0c00" d="M719 740l4 5-4 0-4-5z"/>
<path color="#0a0d00" d="M727 746l4 5-4 0-4-6z"/>
<path color="#060d00" d="M735 751l3 5-3 0-4-5z"/>
<path color="#030d00" d="M742 757l4 4-4 0-4-5z"/>
<path color="#000d00" d="M750 762l4 4-4 0-4-5z"/>
<path color="#000d03" d="M757 766l4 5-4-1-3-4z"/>
<path color="#000d06" d="M765 771l4 4-4-1-4-3z"/>
<path color="#000d09" d="M773 775l3 3-3 0-4-3z"/>
<path color="#000d0b" d="M780 779l4 3-4-1-4-3z"/>
<path color="#000d0d" d="M788 782l4 3-4-1-4-2z"/>
<path color="#000b0d" d="M795 786l4 2-4-1-3-2z"/>
<path color="#00090d" d="M803 788l4 2-4 0-4-2z"/>
<path color="#00080d" d="M810 791l4 1-4 0-3-2z"/>
<path color="#00060d" d="M818 793l4 1-4-1-4-1z"/>
<path color="#000000" d="M826 795l3 1-4-1-3-1z"/>
<path color="#000000" d="M833 797l4 0-4-1-4 0z"/>
<path color="#000000" d="M841 798l3 0-3-1-4 0z"/>
<path color="#3a0000" d="M589 663l4 1-4-4-4 0z"/>
<path color="#1f0000" d="M597 667l4 0-4-3-4 0z"/>
<path color="#000000" d="M605 670l4 1-4-3-4-1z"/>
<path color="#000000" d="M613 674l4 1-4-3-4-1z"/>
<path color="#000000" d="M621 677l4 2-4-3-4-1z"/>
<path color="#000000" d="M629 681l4 2-4-2-4-2z"/>
<path color="#0d0000" d="M637 685l4 2-4-2-4-2z"/>
<path color="#0d0000" d="M645 689l4 3-4-2-4-3z"/>
<path color="#0d0000" d="M653 693l4 4-4-2-4-3z"/>
<path color="#0d0000" d="M661 698l4 3-4-1-4-3z"/>
<path color="#0d0000" d="M669 703l4 4-4-2-4-4z"/>
<path color="#0d0000" d="M676 708l4 4-4-1-3-4z"/>
<path color="#0d0000" d="M684 713l4 5-4-1-4-5z"/>
<path color="#0d0000" d="M692 719l4 4-4-1-4-4z"/>
<path color="#0d0100" d="M700 724l4 5-4-1-4-5z"/>
<path color="#0d0500" d="M708 730l3 5-3-1-4-5z"/>
<path color="#0d0800" d="M715 735l4 5-4 0-4-5z"/>
<path color="#0d0c00" d="M723 741l4 5-4-1-4-5z"/>
<path color="#0a0d00" d="M731 746l4 5-4 0-4-5z"/>
<path color="#070d00" d="M738 752l4 5-4-1-3-5z"/>
<path color="#030d00" d="M746 757l4 5-4-1-4-4z"/>
<path color="#000d00" d="M754 762l3 4-3 0-4-4z"/>
<path color="#000d03" d="M761 767l4 4-4 0-4-5z"/>
<path color="#000d05" d="M769 771l4 4-4 0-4-4z"/>
<path color="#000d08" d="M777 776l3 3-4-1-3-3z"/>
<path color="#000d0a" d="M784 780l4 2-4 0-4-3z"/>
<path color="#000d0c" d="M792 783l3 3-3-1-4-3z"/>
<path color="#000b0d" d="M799 786l4 2-4 0-4-2z"/>
<path color="#00090d" d="M807 789l3 2-3-1-4-2z"/>
<path color="#00080d" d="M814 792l4 1-4-1-4-1z"/>
<path color="#00070d" d="M822 794l4 1-4-1-4-1z"/>
<path color="#000000" d="M829 796l4 1-4-1-3-1z"/>
<path color="#000000" d="M837 798l4 0-4-1-4 0z"/>
<path color="#000000" d="M844 799l4 0-4-1-3 0z"/>
<path color="#4b0000" d="M585 663l4 0-4-3-4 0z"/>
<path color="#390000" d="M593 666l4 1-4-3-4-1z"/>
<path color="#1e0000" d="M601 670l4 0-4-3-4 0z"/>
<path color="#000000" d="M609 673l4 1-4-3-4-1z"/>
<path color="#000000" d="M617 676l4 1-4-2-4-1z"/>
<path color="#000000" d="M625 680l4 1-4-2-4-2z"/>
<path color="#000000" d="M633 683l4 2-4-2-4-2z"/>
<path color="#0d0000" d="M641 687l4 2-4-2-4-2z"/>
<path color="#0d0000" d="M649 691l4 2-4-1-4-3z"/>
<path color="#0d0000" d="M657 695l4 3-4-1-4-4z"/>
<path color="#0d0000" d="M665 700l4 3-4-2-4-3z"/>
<path color="#0d0000" d="M672 704l4 4-3-1-4-4z"/>
<path color="#0d0000" d="M680 709l4 4-4-1-4-4z"/>
<path color="#0d0000" d="M688 714l4 5-4-1-4-5z"/>
<path color="#0d0400" d="M711 731l4 4-4 0-3-5z"/>
<path color="#0d0800" d="M719 736l4 5-4-1-4-5z"/>
<path color="#0d0b00" d="M727 742l4 4-4 0-4-5z"/>
<path color="#040d00" d="M750 758l4 4-4 0-4-5z"/>
<path color="#010d00" d="M758 763l3 4-4-1-3-4z"/>
<path color="#000d02" d="M765 768l4 3-4 0-4-4z"/>
<path color="#000d05" d="M773 772l4 4-4-1-4-4z"/>
<path color="#000d08" d="M780 776l4 4-4-1-3-3z"/>
<path color="#000d0a" d="M788 780l4 3-4-1-4-2z"/>
<path color="#000d0c" d="M795 784l4 2-4 0-3-3z"/>
<path color="#000b0d" d="M803 787l4 2-4-1-4-2z"/>
<path color="#000a0d" d="M811 790l3 2-4-1-3-2z"/>
<path color="#00080d" d="M818 793l4 1-4-1-4-1z"/>
<path color="#00070d" d="M826 795l3 1-3-1-4-1z"/>
<path color="#000000" d="M833 797l4 1-4-1-4-1z"/>
<path color="#000000" d="M841 799l3 0-3-1-4 0z"/>
<path color="#000000" d="M848 800l4 0-4-1-4 0z"/>
<path color="#0d0000" d="M696 720l4 4-4-1-4-4z"/>
<path color="#0d0100" d="M704 725l4 5-4-1-4-5z"/>
<path color="#0b0d00" d="M735 747l3 5-3-1-4-5z"/>
<path color="#070d00" d="M742 752l4 5-4 0-4-5z"/>
<path color="#590000" d="M581 663l4 0-4-3-4-1z"/>
<path color="#4f0000" d="M589 666l4 0-4-3-4 0z"/>
<path color="#3d0000" d="M597 669l4 1-4-3-4-1z"/>
<path color="#220000" d="M605 673l4 0-4-3-4 0z"/>
<path color="#020000" d="M613 676l4 0-4-2-4-1z"/>
<path color="#000000" d="M621 679l4 1-4-3-4-1z"/>
<path color="#000000" d="M629 682l4 1-4-2-4-1z"/>
<path color="#000000" d="M637 686l4 1-4-2-4-2z"/>
<path color="#000000" d="M645 689l4 2-4-2-4-2z"/>
<path color="#0d0000" d="M653 693l4 2-4-2-4-2z"/>
<path color="#0d0000" d="M661 697l4 3-4-2-4-3z"/>
<path color="#0d0000" d="M669 701l3 3-3-1-4-3z"/>
<path color="#0d0000" d="M676 706l4 3-4-1-4-4z"/>
<path color="#0d0000" d="M684 711l4 3-4-1-4-4z"/>
<path color="#0d0000" d="M692 716l4 4-4-1-4-5z"/>
<path color="#0d0000" d="M700 721l4 4-4-1-4-4z"/>
<path color="#0d0100" d="M708 726l3 5-3-1-4-5z"/>
<path color="#0d0400" d="M715 732l4 4-4-1-4-4z"/>
<path color="#0d0800" d="M723 737l4 5-4-1-4-5z"/>
<path color="#0d0b00" d="M731 743l4 4-4-1-4-4z"/>
<path color="#0b0d00" d="M738 748l4 4-4 0-3-5z"/>
<path color="#080d00" d="M746 753l4 5-4-1-4-5z"/>
<path color="#040d00" d="M754 759l4 4-4-1-4-4z"/>
<path color="#010d00" d="M761 764l4 4-4-1-3-4z"/>
<path color="#000d02" d="M769 768l4 4-4-1-4-3z"/>
<path color="#000d05" d="M777 773l3 3-3 0-4-4z"/>
<path color="#000d07" d="M784 777l4 3-4 0-4-4z"/>
<path color="#000d0a" d="M792 781l3 3-3-1-4-3z"/>
<path color="#000d0c" d="M799 785l4 2-4-1-4-2z"/>
<path color="#000c0d" d="M807 788l4 2-4-1-4-2z"/>
<path color="#000a0d" d="M814 791l4 2-4-1-3-2z"/>
<path color="#00080d" d="M822 794l4 1-4-1-4-1z"/>
<path color="#000000" d="M829 796l4 1-4-1-3-1z"/>
<path color="#000000" d="M837 798l4 1-4-1-4-1z"/>
<path color="#000000" d="M845 800l3 0-4-1-3 0z"/>
<path color="#000000" d="M852 801l4 0-4-1-4 0z"/>
<path color="#640000" d="M577 663l4 0-4-4-4 0z"/>
<path color="#600000" d="M585 666l4 0-4-3-4 0z"/>
<path color="#560000" d="M593 669l4 0-4-3-4 0z"/>
<path color="#450000" d="M601 672l4 1-4-3-4-1z"/>
<path color="#000000" d="M625 681l4 1-4-2-4-1z"/>
<path color="#000000" d="M633 685l4 1-4-3-4-1z"/>
<path color="#000000" d="M641 688l4 1-4-2-4-1z"/>
<path color="#0d0000" d="M665 699l4 2-4-1-4-3z"/>
<path color="#0d0000" d="M672 703l4 3-4-2-3-3z"/>
<path color="#0d0000" d="M680 708l4 3-4-2-4-3z"/>
<path color="#0d0400" d="M719 733l4 4-4-1-4-4z"/>
<path color="#050d00" d="M758 760l3 4-3-1-4-4z"/>
<path color="#010d00" d="M765 765l4 3-4 0-4-4z"/>
<path color="#000d02" d="M773 770l4 3-4-1-4-4z"/>
<path color="#000d09" d="M796 782l3 3-4-1-3-3z"/>
<path color="#000d0c" d="M803 786l4 2-4-1-4-2z"/>
<path color="#000c0d" d="M811 789l3 2-3-1-4-2z"/>
<path color="#000000" d="M833 797l4 1-4-1-4-1z"/>
<path color="#000000" d="M841 799l4 1-4-1-4-1z"/>
<path color="#000000" d="M848 801l4 0-4-1-3 0z"/>
<path color="#000000" d="M856 803l4 0-4-2-4 0z"/>
<path color="#2b0000" d="M609 675l4 1-4-3-4 0z"/>
<path color="#0a0000" d="M617 678l4 1-4-3-4 0z"/>
<path color="#000000" d="M649 691l4 2-4-2-4-2z"/>
<path color="#0d0000" d="M657 695l4 2-4-2-4-2z"/>
<path color="#0d0000" d="M688 712l4 4-4-2-4-3z"/>
<path color="#0d0000" d="M696 717l4 4-4-1-4-4z"/>
<path color="#0d0000" d="M704 722l4 4-4-1-4-4z"/>
<path color="#0d0100" d="M711 727l4 5-4-1-3-5z"/>
<path color="#0d0800" d="M727 738l4 5-4-1-4-5z"/>
<path color="#0d0b00" d="M735 744l3 4-3-1-4-4z"/>
<path color="#0b0d00" d="M742 749l4 4-4-1-4-4z"/>
<path color="#080d00" d="M750 755l4 4-4-1-4-5z"/>
<path color="#000d04" d="M780 774l4 3-4-1-3-3z"/>
<path color="#000d07" d="M788 778l4 3-4-1-4-3z"/>
<path color="#000a0d" d="M818 792l4 2-4-1-4-2z"/>
<path color="#000000" d="M826 795l3 1-3-1-4-1z"/>
<path color="#6d0000" d="M573 662l4 1-4-4-4 0z"/>
<path color="#6e0000" d="M581 666l4 0-4-3-4 0z"/>
<path color="#6a0000" d="M589 669l4 0-4-3-4 0z"/>
<path color="#610000" d="M597 673l4-1-4-3-4 0z"/>
<path color="#510000" d="M605 675l4 0-4-2-4-1z"/>
<path color="#390000" d="M613 678l4 0-4-2-4-1z"/>
<path color="#1a0000" d="M621 681l4 0-4-2-4-1z"/>
<path color="#000000" d="M629 684l4 1-4-3-4-1z"/>
<path color="#000000" d="M637 687l4 1-4-2-4-1z"/>
<path color="#000000" d="M645 690l4 1-4-2-4-1z"/>
<path color="#000000" d="M653 693l4 2-4-2-4-2z"/>
<path color="#000000" d="M661 697l4 2-4-2-4-2z"/>
<path color="#0d0000" d="M668 701l4 2-3-2-4-2z"/>
<path color="#0d0000" d="M676 705l4 3-4-2-4-3z"/>
<path color="#0d0000" d="M684 709l4 3-4-1-4-3z"/>
<path color="#0d0000" d="M692 714l4 3-4-1-4-4z"/>
<path color="#0d0000" d="M700 719l4 3-4-1-4-4z"/>
<path color="#0d0000" d="M708 724l3 3-3-1-4-4z"/>
<path color="#0d0100" d="M715 729l4 4-4-1-4-5z"/>
<path color="#0d0400" d="M723 734l4 4-4-1-4-4z"/>
<path color="#0d0800" d="M731 740l4 4-4-1-4-5z"/>
<path color="#0d0b00" d="M739 745l3 4-4-1-3-4z"/>
<path color="#0b0d00" d="M746 751l4 4-4-2-4-4z"/>
<path color="#080d00" d="M754 756l4 4-4-1-4-4z"/>
<path color="#050d00" d="M761 761l4 4-4-1-3-4z"/>
<path color="#010d00" d="M769 766l4 4-4-2-4-3z"/>
<path color="#000d01" d="M777 771l3 3-3-1-4-3z"/>
<path color="#000d04" d="M784 776l4 2-4-1-4-3z"/>
<path color="#000d07" d="M792 780l4 2-4-1-4-3z"/>
<path color="#000d09" d="M799 784l4 2-4-1-3-3z"/>
<path color="#000d0c" d="M807 788l4 1-4-1-4-2z"/>
<path color="#000c0d" d="M815 791l3 1-4-1-3-2z"/>
<path color="#000000" d="M822 794l4 1-4-1-4-2z"/>
<path color="#000000" d="M830 796l3 1-4-1-3-1z"/>
<path color="#000000" d="M837 799l4 0-4-1-4-1z"/>
<path color="#000000" d="M845 801l3 0-3-1-4-1z"/>
<path color="#000000" d="M852 803l4 0-4-2-4 0z"/>
<path color="#000000" d="M860 804l3 0-3-1-4 0z"/>
<path color="#7a0000" d="M585 670l4-1-4-3-4 0z"/>
<path color="#760000" d="M593 673l4 0-4-4-4 0z"/>
<path color="#0e0000" d="M633 687l4 0-4-2-4-1z"/>
<path color="#000000" d="M672 703l4 2-4-2-4-2z"/>
<path color="#040d00" d="M765 763l4 3-4-1-4-4z"/>
<path color="#000d09" d="M803 786l4 2-4-2-4-2z"/>
<path color="#000000" d="M841 800l4 1-4-2-4 0z"/>
<path color="#000000" d="M848 802l4 1-4-2-3 0z"/>
<path color="#750000" d="M569 662l4 0-4-3-4-1z"/>
<path color="#7a0000" d="M577 666l4 0-4-3-4-1z"/>
<path color="#6d0000" d="M601 676l4-1-4-3-4 1z"/>
<path color="#5f0000" d="M609 678l4 0-4-3-4 0z"/>
<path color="#4b0000" d="M617 681l4 0-4-3-4 0z"/>
<path color="#300000" d="M625 684l4 0-4-3-4 0z"/>
<path color="#000000" d="M641 690l4 0-4-2-4-1z"/>
<path color="#000000" d="M649 693l4 0-4-2-4-1z"/>
<path color="#000000" d="M657 696l4 1-4-2-4-2z"/>
<path color="#000000" d="M665 699l3 2-3-2-4-2z"/>
<path color="#0d0000" d="M680 707l4 2-4-1-4-3z"/>
<path color="#0d0000" d="M688 712l4 2-4-2-4-3z"/>
<path color="#0d0000" d="M696 716l4 3-4-2-4-3z"/>
<path color="#0d0000" d="M704 721l4 3-4-2-4-3z"/>
<path color="#0d0000" d="M711 726l4 3-4-2-3-3z"/>
<path color="#0d0100" d="M719 731l4 3-4-1-4-4z"/>
<path color="#0d0400" d="M727 736l4 4-4-2-4-4z"/>
<path color="#0d0800" d="M735 742l4 3-4-1-4-4z"/>
<path color="#0d0b00" d="M742 747l4 4-4-2-3-4z"/>
<path color="#0b0d00" d="M750 753l4 3-4-1-4-4z"/>
<path color="#080d00" d="M758 758l3 3-3-1-4-4z"/>
<path color="#010d00" d="M773 768l4 3-4-1-4-4z"/>
<path color="#000d02" d="M781 773l3 3-4-2-3-3z"/>
<path color="#000d04" d="M788 778l4 2-4-2-4-2z"/>
<path color="#000d07" d="M796 782l3 2-3-2-4-2z"/>
<path color="#000d0c" d="M811 789l4 2-4-2-4-1z"/>
<path color="#000000" d="M818 793l4 1-4-2-3-1z"/>
<path color="#000000" d="M826 796l4 0-4-1-4-1z"/>
<path color="#000000" d="M833 798l4 1-4-2-3-1z"/>
<path color="#000000" d="M856 804l4 0-4-1-4 0z"/>
<path color="#000000" d="M864 806l3-1-4-1-3 0z"/>
<path color="#840000" d="M573 666l4 0-4-4-4 0z"/>
<path color="#870000" d="M581 670l4 0-4-4-4 0z"/>
<path color="#860000" d="M589 673l4 0-4-4-4 1z"/>
<path color="#700000" d="M613 682l4-1-4-3-4 0z"/>
<path color="#600000" d="M621 684l4 0-4-3-4 0z"/>
<path color="#4a0000" d="M629 687l4 0-4-3-4 0z"/>
<path color="#000000" d="M653 695l4 1-4-3-4 0z"/>
<path color="#000000" d="M661 698l4 1-4-2-4-1z"/>
<path color="#000000" d="M668 702l4 1-4-2-3-2z"/>
<path color="#0d0000" d="M692 714l4 2-4-2-4-2z"/>
<path color="#0d0000" d="M700 719l4 2-4-2-4-3z"/>
<path color="#0d0000" d="M708 723l3 3-3-2-4-3z"/>
<path color="#0d0500" d="M731 739l4 3-4-2-4-4z"/>
<path color="#0d0800" d="M739 744l3 3-3-2-4-3z"/>
<path color="#0d0c00" d="M746 750l4 3-4-2-4-4z"/>
<path color="#040d00" d="M769 766l4 2-4-2-4-3z"/>
<path color="#010d00" d="M777 771l4 2-4-2-4-3z"/>
<path color="#000d02" d="M784 775l4 3-4-2-3-3z"/>
<path color="#000000" d="M807 788l4 1-4-1-4-2z"/>
<path color="#000000" d="M815 791l3 2-3-2-4-2z"/>
<path color="#000000" d="M822 795l4 1-4-2-4-1z"/>
<path color="#000000" d="M845 802l3 0-3-1-4-1z"/>
<path color="#000000" d="M852 804l4 0-4-1-4-1z"/>
<path color="#000001" d="M860 806l4 0-4-2-4 0z"/>
<path color="#7d0000" d="M565 662l4 0-4-4-4 0z"/>
<path color="#820000" d="M597 676l4 0-4-3-4 0z"/>
<path color="#7b0000" d="M605 679l4-1-4-3-4 1z"/>
<path color="#2d0000" d="M637 689l4 1-4-3-4 0z"/>
<path color="#0c0000" d="M645 692l4 1-4-3-4 0z"/>
<path color="#000000" d="M676 706l4 1-4-2-4-2z"/>
<path color="#000000" d="M684 710l4 2-4-3-4-2z"/>
<path color="#0d0000" d="M715 728l4 3-4-2-4-3z"/>
<path color="#0d0200" d="M723 734l4 2-4-2-4-3z"/>
<path color="#0b0d00" d="M754 755l4 3-4-2-4-3z"/>
<path color="#070d00" d="M762 760l3 3-4-2-3-3z"/>
<path color="#000d05" d="M792 780l4 2-4-2-4-2z"/>
<path color="#000d07" d="M800 784l3 2-4-2-3-2z"/>
<path color="#000000" d="M830 798l3 0-3-2-4 0z"/>
<path color="#000000" d="M837 800l4 0-4-1-4-1z"/>
<path color="#00040e" d="M867 807l4 0-4-2-3 1z"/>
<path color="#840000" d="M561 662l4 0-4-4-4-1z"/>
<path color="#8d0000" d="M569 667l4-1-4-4-4 0z"/>
<path color="#910000" d="M577 671l4-1-4-4-4 0z"/>
<path color="#930000" d="M585 674l4-1-4-3-4 0z"/>
<path color="#920000" d="M593 677l4-1-4-3-4 0z"/>
<path color="#8f0000" d="M601 680l4-1-4-3-4 0z"/>
<path color="#890000" d="M609 682l4 0-4-4-4 1z"/>
<path color="#800000" d="M617 685l4-1-4-3-4 1z"/>
<path color="#740000" d="M625 687l4 0-4-3-4 0z"/>
<path color="#640000" d="M633 690l4-1-4-2-4 0z"/>
<path color="#4f0000" d="M641 692l4 0-4-2-4-1z"/>
<path color="#340000" d="M649 695l4 0-4-2-4-1z"/>
<path color="#150000" d="M657 698l4 0-4-2-4-1z"/>
<path color="#000000" d="M664 701l4 1-3-3-4-1z"/>
<path color="#000000" d="M672 705l4 1-4-3-4-1z"/>
<path color="#000000" d="M680 708l4 2-4-3-4-1z"/>
<path color="#000000" d="M688 712l4 2-4-2-4-2z"/>
<path color="#000000" d="M696 717l4 2-4-3-4-2z"/>
<path color="#000000" d="M704 721l4 2-4-2-4-2z"/>
<path color="#000000" d="M711 726l4 2-4-2-3-3z"/>
<path color="#000000" d="M719 731l4 3-4-3-4-3z"/>
<path color="#0d0200" d="M727 736l4 3-4-3-4-2z"/>
<path color="#0d0600" d="M735 742l4 2-4-2-4-3z"/>
<path color="#0d0900" d="M742 747l4 3-4-3-3-3z"/>
<path color="#0d0c00" d="M750 753l4 2-4-2-4-3z"/>
<path color="#0a0d00" d="M758 758l4 2-4-2-4-3z"/>
<path color="#070d00" d="M765 763l4 3-4-3-3-3z"/>
<path color="#000000" d="M773 768l4 3-4-3-4-2z"/>
<path color="#000000" d="M781 773l3 2-3-2-4-2z"/>
<path color="#000000" d="M788 778l4 2-4-2-4-3z"/>
<path color="#000000" d="M796 782l4 2-4-2-4-2z"/>
<path color="#000000" d="M803 786l4 2-4-2-3-2z"/>
<path color="#000000" d="M811 790l4 1-4-2-4-1z"/>
<path color="#000000" d="M818 794l4 1-4-2-3-2z"/>
<path color="#000000" d="M826 797l4 1-4-2-4-1z"/>
<path color="#000000" d="M834 800l3 0-4-2-3 0z"/>
<path color="#000000" d="M841 802l4 0-4-2-4 0z"/>
<path color="#000001" d="M849 804l3 0-4-2-3 0z"/>
<path color="#00060d" d="M856 806l4 0-4-2-4 0z"/>
<path color="#00091b" d="M864 808l3-1-3-1-4 0z"/>
<path color="#000b27" d="M871 809l4 0-4-2-4 0z"/>
<path color="#9d0000" d="M581 675l4-1-4-4-4 1z"/>
<path color="#900000" d="M621 688l4-1-4-3-4 1z"/>
<path color="#460000" d="M661 701l3 0-3-3-4 0z"/>
<path color="#000000" d="M700 720l4 1-4-2-4-2z"/>
<path color="#000000" d="M739 745l3 2-3-3-4-2z"/>
<path color="#000000" d="M777 772l4 1-4-2-4-3z"/>
<path color="#000000" d="M815 793l3 1-3-3-4-1z"/>
<path color="#001123" d="M852 807l4-1-4-2-3 0z"/>
<path color="#8a0000" d="M557 662l4 0-4-5-4 0z"/>
<path color="#940000" d="M565 667l4 0-4-5-4 0z"/>
<path color="#9a0000" d="M573 671l4 0-4-5-4 1z"/>
<path color="#9e0000" d="M589 678l4-1-4-4-4 1z"/>
<path color="#9d0000" d="M597 681l4-1-4-4-4 1z"/>
<path color="#9b0000" d="M605 683l4-1-4-3-4 1z"/>
<path color="#960000" d="M613 686l4-1-4-3-4 0z"/>
<path color="#870000" d="M629 691l4-1-4-3-4 0z"/>
<path color="#7c0000" d="M637 693l4-1-4-3-4 1z"/>
<path color="#6e0000" d="M645 696l4-1-4-3-4 0z"/>
<path color="#5c0000" d="M653 698l4 0-4-3-4 0z"/>
<path color="#2c0000" d="M668 704l4 1-4-3-4-1z"/>
<path color="#110000" d="M676 708l4 0-4-2-4-1z"/>
<path color="#000000" d="M684 712l4 0-4-2-4-2z"/>
<path color="#000000" d="M692 716l4 1-4-3-4-2z"/>
<path color="#000000" d="M708 725l3 1-3-3-4-2z"/>
<path color="#000000" d="M715 729l4 2-4-3-4-2z"/>
<path color="#000000" d="M723 735l4 1-4-2-4-3z"/>
<path color="#000000" d="M731 740l4 2-4-3-4-3z"/>
<path color="#000000" d="M746 750l4 3-4-3-4-3z"/>
<path color="#000000" d="M754 756l4 2-4-3-4-2z"/>
<path color="#000000" d="M762 761l3 2-3-3-4-2z"/>
<path color="#000000" d="M769 766l4 2-4-2-4-3z"/>
<path color="#000000" d="M784 776l4 2-4-3-3-2z"/>
<path color="#000000" d="M792 781l4 1-4-2-4-2z"/>
<path color="#000000" d="M800 785l3 1-3-2-4-2z"/>
<path color="#000000" d="M807 789l4 1-4-2-4-2z"/>
<path color="#000000" d="M822 796l4 1-4-2-4-1z"/>
<path color="#000000" d="M830 799l4 1-4-2-4-1z"/>
<path color="#00070a" d="M837 802l4 0-4-2-3 0z"/>
<path color="#000e17" d="M845 805l4-1-4-2-4 0z"/>
<path color="#00122e" d="M860 808l4 0-4-2-4 0z"/>
<path color="#001237" d="M867 810l4-1-4-2-3 1z"/>
<path color="#00103f" d="M875 811l4-1-4-1-4 0z"/>
<path color="#900000" d="M553 662l4 0-4-5-4-1z"/>
<path color="#9b0000" d="M561 667l4 0-4-5-4 0z"/>
<path color="#a20000" d="M569 672l4-1-4-4-4 0z"/>
<path color="#a60000" d="M577 676l4-1-4-4-4 0z"/>
<path color="#a80000" d="M585 679l4-1-4-4-4 1z"/>
<path color="#a80000" d="M593 682l4-1-4-4-4 1z"/>
<path color="#a70000" d="M601 685l4-2-4-3-4 1z"/>
<path color="#a50000" d="M609 687l4-1-4-4-4 1z"/>
<path color="#a20000" d="M617 690l4-2-4-3-4 1z"/>
<path color="#9e0000" d="M625 692l4-1-4-4-4 1z"/>
<path color="#980000" d="M633 694l4-1-4-3-4 1z"/>
<path color="#910000" d="M641 697l4-1-4-4-4 1z"/>
<path color="#880000" d="M649 699l4-1-4-3-4 1z"/>
<path color="#7d0000" d="M657 702l4-1-4-3-4 0z"/>
<path color="#700000" d="M665 705l3-1-4-3-3 0z"/>
<path color="#600000" d="M672 708l4 0-4-3-4-1z"/>
<path color="#4e0000" d="M680 711l4 1-4-4-4 0z"/>
<path color="#3a0000" d="M688 715l4 1-4-4-4 0z"/>
<path color="#250000" d="M696 719l4 1-4-3-4-1z"/>
<path color="#110000" d="M704 724l4 1-4-4-4-1z"/>
<path color="#010000" d="M711 728l4 1-4-3-3-1z"/>
<path color="#000000" d="M719 733l4 2-4-4-4-2z"/>
<path color="#000000" d="M727 738l4 2-4-4-4-1z"/>
<path color="#000000" d="M735 744l4 1-4-3-4-2z"/>
<path color="#000000" d="M742 749l4 1-4-3-3-2z"/>
<path color="#000000" d="M750 754l4 2-4-3-4-3z"/>
<path color="#000000" d="M758 760l4 1-4-3-4-2z"/>
<path color="#000000" d="M765 765l4 1-4-3-3-2z"/>
<path color="#000000" d="M773 770l4 2-4-4-4-2z"/>
<path color="#000000" d="M781 775l3 1-3-3-4-1z"/>
<path color="#000000" d="M788 780l4 1-4-3-4-2z"/>
<path color="#000000" d="M796 784l4 1-4-3-4-1z"/>
<path color="#000201" d="M803 789l4 0-4-3-3-1z"/>
<path color="#000d09" d="M811 793l4 0-4-3-4-1z"/>
<path color="#001816" d="M818 796l4 0-4-2-3-1z"/>
<path color="#002124" d="M826 799l4 0-4-2-4-1z"/>
<path color="#00242e" d="M834 802l3 0-3-2-4-1z"/>
<path color="#002437" d="M841 805l4 0-4-3-4 0z"/>
<path color="#00223f" d="M849 807l3 0-3-3-4 1z"/>
<path color="#001f46" d="M856 809l4-1-4-2-4 1z"/>
<path color="#001b4b" d="M864 811l3-1-3-2-4 0z"/>
<path color="#00174f" d="M871 812l4-1-4-2-4 1z"/>
<path color="#001352" d="M879 813l4-1-4-2-4 1z"/>
<path color="#960000" d="M549 661l4 1-4-6-4-1z"/>
<path color="#a10000" d="M557 667l4 0-4-5-4 0z"/>
<path color="#a80000" d="M565 672l4 0-4-5-4 0z"/>
<path color="#ad0000" d="M573 677l4-1-4-5-4 1z"/>
<path color="#b00000" d="M581 680l4-1-4-4-4 1z"/>
<path color="#b10000" d="M589 684l4-2-4-4-4 1z"/>
<path color="#b10000" d="M597 686l4-1-4-4-4 1z"/>
<path color="#b00000" d="M605 689l4-2-4-4-4 2z"/>
<path color="#af0000" d="M613 691l4-1-4-4-4 1z"/>
<path color="#ad0000" d="M621 693l4-1-4-4-4 2z"/>
<path color="#aa0000" d="M629 696l4-2-4-3-4 1z"/>
<path color="#a60000" d="M637 698l4-1-4-4-4 1z"/>
<path color="#a20000" d="M645 700l4-1-4-3-4 1z"/>
<path color="#9c0000" d="M653 703l4-1-4-4-4 1z"/>
<path color="#960000" d="M661 706l4-1-4-4-4 1z"/>
<path color="#8e0000" d="M668 709l4-1-4-4-3 1z"/>
<path color="#850000" d="M676 712l4-1-4-3-4 0z"/>
<path color="#7b0000" d="M684 715l4 0-4-3-4-1z"/>
<path color="#700000" d="M692 719l4 0-4-3-4-1z"/>
<path color="#650000" d="M700 724l4 0-4-4-4-1z"/>
<path color="#590000" d="M708 728l3 0-3-3-4-1z"/>
<path color="#4e0000" d="M715 733l4 0-4-4-4-1z"/>
<path color="#430000" d="M723 738l4 0-4-3-4-2z"/>
<path color="#3a0e00" d="M731 743l4 1-4-4-4-2z"/>
<path color="#331900" d="M739 748l3 1-3-4-4-1z"/>
<path color="#2d2200" d="M746 753l4 1-4-4-4-1z"/>
<path color="#2a2b00" d="M754 759l4 1-4-4-4-2z"/>
<path color="#1e2a00" d="M762 764l3 1-3-4-4-1z"/>
<path color="#142b00" d="M769 769l4 1-4-4-4-1z"/>
<path color="#0a2e00" d="M777 774l4 1-4-3-4-2z"/>
<path color="#003201" d="M784 779l4 1-4-4-3-1z"/>
<path color="#00380d" d="M792 784l4 0-4-3-4-1z"/>
<path color="#003d1c" d="M800 788l3 1-3-4-4-1z"/>
<path color="#00442c" d="M807 792l4 1-4-4-4 0z"/>
<path color="#004a3e" d="M815 796l3 0-3-3-4 0z"/>
<path color="#004f4f" d="M822 799l4 0-4-3-4 0z"/>
<path color="#004754" d="M830 802l4 0-4-3-4 0z"/>
<path color="#003f58" d="M837 805l4 0-4-3-3 0z"/>
<path color="#00365b" d="M845 808l4-1-4-2-4 0z"/>
<path color="#002e5e" d="M852 810l4-1-4-2-3 0z"/>
<path color="#002660" d="M860 811l4 0-4-3-4 1z"/>
<path color="#001f61" d="M868 813l3-1-4-2-3 1z"/>
<path color="#001961" d="M875 814l4-1-4-2-4 1z"/>
<path color="#001461" d="M883 815l3-1-3-2-4 1z"/>
<path color="#a70000" d="M553 668l4-1-4-5-4-1z"/>
<path color="#ae0000" d="M561 673l4-1-4-5-4 0z"/>
<path color="#b30000" d="M570 678l3-1-4-5-4 0z"/>
<path color="#b60000" d="M578 682l3-2-4-4-4 1z"/>
<path color="#b80000" d="M586 685l3-1-4-5-4 1z"/>
<path color="#b80000" d="M594 688l3-2-4-4-4 2z"/>
<path color="#b90000" d="M601 691l4-2-4-4-4 1z"/>
<path color="#b80000" d="M609 693l4-2-4-4-4 2z"/>
<path color="#b70000" d="M617 695l4-2-4-3-4 1z"/>
<path color="#b60000" d="M625 698l4-2-4-4-4 1z"/>
<path color="#b40000" d="M633 700l4-2-4-4-4 2z"/>
<path color="#b20000" d="M641 702l4-2-4-3-4 1z"/>
<path color="#af0000" d="M649 704l4-1-4-4-4 1z"/>
<path color="#ac0000" d="M657 707l4-1-4-4-4 1z"/>
<path color="#a80000" d="M665 710l3-1-3-4-4 1z"/>
<path color="#a40000" d="M672 713l4-1-4-4-4 1z"/>
<path color="#9f0000" d="M680 716l4-1-4-4-4 1z"/>
<path color="#990000" d="M688 720l4-1-4-4-4 0z"/>
<path color="#930000" d="M696 724l4 0-4-5-4 0z"/>
<path color="#8d0000" d="M704 728l4 0-4-4-4 0z"/>
<path color="#870000" d="M711 733l4 0-4-5-3 0z"/>
<path color="#810000" d="M719 738l4 0-4-5-4 0z"/>
<path color="#7b1100" d="M727 743l4 0-4-5-4 0z"/>
<path color="#772e00" d="M735 748l4 0-4-4-4-1z"/>
<path color="#724a00" d="M742 753l4 0-4-4-3-1z"/>
<path color="#6f6400" d="M750 758l4 1-4-5-4-1z"/>
<path color="#5b6d00" d="M758 764l4 0-4-4-4-1z"/>
<path color="#3f6c00" d="M765 769l4 0-4-4-3-1z"/>
<path color="#246b00" d="M773 774l4 0-4-4-4-1z"/>
<path color="#0a6c00" d="M781 779l3 0-3-4-4-1z"/>
<path color="#006d10" d="M788 784l4 0-4-4-4-1z"/>
<path color="#006e28" d="M796 788l4 0-4-4-4 0z"/>
<path color="#007040" d="M803 792l4 0-4-3-3-1z"/>
<path color="#007156" d="M811 796l4 0-4-3-4-1z"/>
<path color="#00726b" d="M819 800l3-1-4-3-3 0z"/>
<path color="#006873" d="M826 803l4-1-4-3-4 0z"/>
<path color="#005874" d="M834 806l3-1-3-3-4 0z"/>
<path color="#004a74" d="M841 808l4 0-4-3-4 0z"/>
<path color="#003d73" d="M849 810l3 0-3-3-4 1z"/>
<path color="#003273" d="M856 812l4-1-4-2-4 1z"/>
<path color="#002871" d="M864 814l4-1-4-2-4 0z"/>
<path color="#002070" d="M871 815l4-1-4-2-3 1z"/>
<path color="#00196e" d="M879 816l4-1-4-2-4 1z"/>
<path color="#b30000" d="M557 674l4-1-4-6-4 1z"/>
<path color="#b80000" d="M566 679l4-1-5-6-4 1z"/>
<path color="#bd0000" d="M582 687l4-2-5-5-3 2z"/>
<path color="#be0000" d="M590 690l4-2-5-4-3 1z"/>
<path color="#bf0000" d="M598 693l3-2-4-5-3 2z"/>
<path color="#bf0000" d="M605 695l4-2-4-4-4 2z"/>
<path color="#be0000" d="M621 700l4-2-4-5-4 2z"/>
<path color="#bd0000" d="M629 702l4-2-4-4-4 2z"/>
<path color="#bc0000" d="M637 704l4-2-4-4-4 2z"/>
<path color="#bb0000" d="M645 706l4-2-4-4-4 2z"/>
<path color="#b70000" d="M661 712l4-2-4-4-4 1z"/>
<path color="#b50000" d="M668 714l4-1-4-4-3 1z"/>
<path color="#b20000" d="M676 718l4-2-4-4-4 1z"/>
<path color="#b00000" d="M684 721l4-1-4-5-4 1z"/>
<path color="#a90000" d="M700 729l4-1-4-4-4 0z"/>
<path color="#a60000" d="M708 733l3 0-3-5-4 0z"/>
<path color="#a20000" d="M715 738l4 0-4-5-4 0z"/>
<path color="#9f0b00" d="M723 743l4 0-4-5-4 0z"/>
<path color="#9c3100" d="M731 748l4 0-4-5-4 0z"/>
<path color="#995600" d="M739 753l3 0-3-5-4 0z"/>
<path color="#899400" d="M754 764l4 0-4-5-4-1z"/>
<path color="#629200" d="M762 769l3 0-3-5-4 0z"/>
<path color="#3c9100" d="M769 774l4 0-4-5-4 0z"/>
<path color="#189000" d="M777 779l4 0-4-5-4 0z"/>
<path color="#008f2a" d="M792 788l4 0-4-4-4 0z"/>
<path color="#008e48" d="M800 793l3-1-3-4-4 0z"/>
<path color="#008d63" d="M807 797l4-1-4-4-4 0z"/>
<path color="#008c7c" d="M815 800l4 0-4-4-4 0z"/>
<path color="#006f8a" d="M830 806l4 0-4-4-4 1z"/>
<path color="#005c88" d="M837 809l4-1-4-3-3 1z"/>
<path color="#004b86" d="M845 811l4-1-4-2-4 0z"/>
<path color="#003c83" d="M852 813l4-1-4-2-3 0z"/>
<path color="#00267d" d="M868 816l3-1-3-2-4 1z"/>
<path color="#001d79" d="M875 818l4-2-4-2-4 1z"/>
<path color="#bb0000" d="M574 683l4-1-5-5-3 1z"/>
<path color="#bf0000" d="M613 698l4-3-4-4-4 2z"/>
<path color="#b90000" d="M653 709l4-2-4-4-4 1z"/>
<path color="#ad0000" d="M692 725l4-1-4-5-4 1z"/>
<path color="#967b00" d="M746 758l4 0-4-5-4 0z"/>
<path color="#008f0a" d="M784 784l4 0-4-5-3 0z"/>
<path color="#00858b" d="M822 804l4-1-4-4-3 1z"/>
<path color="#003080" d="M860 815l4-1-4-3-4 1z"/>
<path color="#bd0000" d="M562 680l4-1-5-6-4 1z"/>
<path color="#c30000" d="M586 692l4-2-4-5-4 2z"/>
<path color="#c40000" d="M594 695l4-2-4-5-4 2z"/>
<path color="#c40000" d="M602 698l3-3-4-4-3 2z"/>
<path color="#c40000" d="M625 704l4-2-4-4-4 2z"/>
<path color="#c30000" d="M633 707l4-3-4-4-4 2z"/>
<path color="#c30000" d="M641 709l4-3-4-4-4 2z"/>
<path color="#c00000" d="M665 716l3-2-3-4-4 2z"/>
<path color="#bf0000" d="M672 720l4-2-4-5-4 1z"/>
<path color="#bd0000" d="M680 723l4-2-4-5-4 2z"/>
<path color="#b70000" d="M704 735l4-2-4-5-4 1z"/>
<path color="#b50000" d="M712 739l3-1-4-5-3 0z"/>
<path color="#b30500" d="M719 744l4-1-4-5-4 0z"/>
<path color="#b12f00" d="M727 749l4-1-4-5-4 0z"/>
<path color="#af5a00" d="M735 754l4-1-4-5-4 0z"/>
<path color="#7ba900" d="M758 770l4-1-4-5-4 0z"/>
<path color="#50a800" d="M765 775l4-1-4-5-3 0z"/>
<path color="#26a600" d="M773 780l4-1-4-5-4 0z"/>
<path color="#00a249" d="M796 793l4 0-4-5-4 0z"/>
<path color="#00a169" d="M803 797l4 0-4-5-3 1z"/>
<path color="#009f85" d="M811 801l4-1-4-4-4 1z"/>
<path color="#006b97" d="M834 810l3-1-3-3-4 0z"/>
<path color="#005794" d="M841 812l4-1-4-3-4 1z"/>
<path color="#004690" d="M849 814l3-1-3-3-4 1z"/>
<path color="#002183" d="M871 819l4-1-4-3-3 1z"/>
<path color="#c00000" d="M570 685l4-2-4-5-4 1z"/>
<path color="#c20000" d="M578 689l4-2-4-5-4 1z"/>
<path color="#c40000" d="M609 700l4-2-4-5-4 2z"/>
<path color="#c40000" d="M617 702l4-2-4-5-4 3z"/>
<path color="#c20000" d="M649 711l4-2-4-5-4 2z"/>
<path color="#c10000" d="M657 714l4-2-4-5-4 2z"/>
<path color="#bb0000" d="M688 726l4-1-4-5-4 1z"/>
<path color="#b90000" d="M696 730l4-1-4-5-4 1z"/>
<path color="#ad8400" d="M742 759l4-1-4-5-3 0z"/>
<path color="#a8ab00" d="M750 764l4 0-4-6-4 0z"/>
<path color="#00a502" d="M781 784l3 0-3-5-4 0z"/>
<path color="#00a427" d="M788 789l4-1-4-4-4 0z"/>
<path color="#009b9d" d="M819 804l3 0-3-4-4 0z"/>
<path color="#00829a" d="M826 807l4-1-4-3-4 1z"/>
<path color="#00378c" d="M856 816l4-1-4-3-4 1z"/>
<path color="#002b88" d="M864 818l4-2-4-2-4 1z"/>
<path color="#c80000" d="M590 698l4-3-4-5-4 2z"/>
<path color="#c80000" d="M598 700l4-2-4-5-4 2z"/>
<path color="#c90000" d="M629 709l4-2-4-5-4 2z"/>
<path color="#c80000" d="M637 712l4-3-4-5-4 3z"/>
<path color="#c60000" d="M669 722l3-2-4-6-3 2z"/>
<path color="#c50000" d="M676 725l4-2-4-5-4 2z"/>
<path color="#c10000" d="M708 741l4-2-4-6-4 2z"/>
<path color="#bf0400" d="M715 745l4-1-4-6-3 1z"/>
<path color="#be2f00" d="M723 750l4-1-4-6-4 1z"/>
<path color="#bc5c00" d="M731 755l4-1-4-6-4 1z"/>
<path color="#5db600" d="M762 776l3-1-3-6-4 1z"/>
<path color="#30b500" d="M769 781l4-1-4-6-4 1z"/>
<path color="#00ae6c" d="M800 798l3-1-3-4-4 0z"/>
<path color="#00ac8b" d="M807 802l4-1-4-4-4 0z"/>
<path color="#00609f" d="M837 814l4-2-4-3-3 1z"/>
<path color="#004d9b" d="M845 816l4-2-4-3-4 1z"/>
<path color="#c40000" d="M566 687l4-2-4-6-4 1z"/>
<path color="#c60000" d="M574 691l4-2-4-6-4 2z"/>
<path color="#c70000" d="M582 695l4-3-4-5-4 2z"/>
<path color="#c90000" d="M606 703l3-3-4-5-3 3z"/>
<path color="#c90000" d="M613 705l4-3-4-4-4 2z"/>
<path color="#c90000" d="M621 707l4-3-4-4-4 2z"/>
<path color="#c80000" d="M645 714l4-3-4-5-4 3z"/>
<path color="#c80000" d="M653 716l4-2-4-5-4 2z"/>
<path color="#c70000" d="M661 719l4-3-4-4-4 2z"/>
<path color="#c40000" d="M684 729l4-3-4-5-4 2z"/>
<path color="#c30000" d="M692 732l4-2-4-5-4 1z"/>
<path color="#c20000" d="M700 736l4-1-4-6-4 1z"/>
<path color="#bb8900" d="M739 760l3-1-3-6-4 1z"/>
<path color="#b9b700" d="M746 765l4-1-4-6-4 1z"/>
<path color="#8cb800" d="M754 771l4-1-4-6-4 0z"/>
<path color="#05b300" d="M777 785l4-1-4-5-4 1z"/>
<path color="#00b224" d="M784 790l4-1-4-5-3 0z"/>
<path color="#00b049" d="M792 794l4-1-4-5-4 1z"/>
<path color="#00a9a6" d="M815 806l4-2-4-4-4 1z"/>
<path color="#0090a6" d="M822 809l4-2-4-3-3 0z"/>
<path color="#0076a3" d="M830 811l4-1-4-4-4 1z"/>
<path color="#003d96" d="M852 818l4-2-4-3-3 1z"/>
<path color="#002f91" d="M860 819l4-1-4-3-4 1z"/>
<path color="#00248c" d="M868 820l3-1-3-3-4 2z"/>
<path color="#cc0000" d="M594 703l4-3-4-5-4 3z"/>
<path color="#cc0000" d="M633 715l4-3-4-5-4 2z"/>
<path color="#cb0000" d="M673 728l3-3-4-5-3 2z"/>
<path color="#c70700" d="M712 747l3-2-3-6-4 2z"/>
<path color="#c46100" d="M727 757l4-2-4-6-4 1z"/>
<path color="#36be00" d="M765 782l4-1-4-6-3 1z"/>
<path color="#00b590" d="M803 804l4-2-4-5-3 1z"/>
<path color="#0052a3" d="M841 817l4-1-4-4-4 2z"/>
<path color="#c90000" d="M570 693l4-2-4-6-4 2z"/>
<path color="#ca0000" d="M578 697l4-2-4-6-4 2z"/>
<path color="#cb0000" d="M586 700l4-2-4-6-4 3z"/>
<path color="#cc0000" d="M602 706l4-3-4-5-4 2z"/>
<path color="#cc0000" d="M610 708l3-3-4-5-3 3z"/>
<path color="#cc0000" d="M618 710l3-3-4-5-4 3z"/>
<path color="#cc0000" d="M625 713l4-4-4-5-4 3z"/>
<path color="#cc0000" d="M641 717l4-3-4-5-4 3z"/>
<path color="#cc0000" d="M649 719l4-3-4-5-4 3z"/>
<path color="#cc0000" d="M657 722l4-3-4-5-4 2z"/>
<path color="#cb0000" d="M665 725l4-3-4-6-4 3z"/>
<path color="#ca0000" d="M688 735l4-3-4-6-4 3z"/>
<path color="#c90000" d="M696 739l4-3-4-6-4 2z"/>
<path color="#c80000" d="M704 743l4-2-4-6-4 1z"/>
<path color="#c63300" d="M719 752l4-2-4-6-4 1z"/>
<path color="#c38f00" d="M735 762l4-2-4-6-4 1z"/>
<path color="#c2be00" d="M742 767l4-2-4-6-3 1z"/>
<path color="#95c100" d="M750 772l4-1-4-7-4 1z"/>
<path color="#09bd00" d="M773 787l4-2-4-5-4 1z"/>
<path color="#00bb22" d="M781 791l3-1-3-6-4 1z"/>
<path color="#00b94a" d="M788 796l4-2-4-5-4 1z"/>
<path color="#00b76f" d="M796 800l4-2-4-5-4 1z"/>
<path color="#00b2ac" d="M811 807l4-1-4-5-4 1z"/>
<path color="#009aaf" d="M818 810l4-1-3-5-4 2z"/>
<path color="#007eac" d="M826 813l4-2-4-4-4 2z"/>
<path color="#0067a8" d="M834 815l3-1-3-4-4 1z"/>
<path color="#00419e" d="M849 819l3-1-3-4-4 2z"/>
<path color="#003399" d="M856 820l4-1-4-3-4 2z"/>
<path color="#002793" d="M864 822l4-2-4-2-4 1z"/>
<path color="#ca0000" d="M680 731l4-2-4-6-4 2z"/>
<path color="#65bf00" d="M758 777l4-1-4-6-4 1z"/>
<path color="#cd0000" d="M574 700l4-3-4-6-4 2z"/>
<path color="#ce0000" d="M582 703l4-3-4-5-4 2z"/>
<path color="#ce0000" d="M590 706l4-3-4-5-4 2z"/>
<path color="#cf0000" d="M606 712l4-4-4-5-4 3z"/>
<path color="#cf0000" d="M614 714l4-4-5-5-3 3z"/>
<path color="#cf0000" d="M622 716l3-3-4-6-3 3z"/>
<path color="#cf0000" d="M629 718l4-3-4-6-4 4z"/>
<path color="#cf0000" d="M645 723l4-4-4-5-4 3z"/>
<path color="#cf0000" d="M653 725l4-3-4-6-4 3z"/>
<path color="#cf0000" d="M661 728l4-3-4-6-4 3z"/>
<path color="#cf0000" d="M669 731l4-3-4-6-4 3z"/>
<path color="#cd0000" d="M692 741l4-2-4-7-4 3z"/>
<path color="#cd0000" d="M700 745l4-2-4-7-4 3z"/>
<path color="#cc0f00" d="M708 750l4-3-4-6-4 2z"/>
<path color="#cb3b00" d="M715 754l4-2-4-7-3 2z"/>
<path color="#ca6900" d="M723 759l4-2-4-7-4 2z"/>
<path color="#c99700" d="M731 764l4-2-4-7-4 2z"/>
<path color="#c8c700" d="M739 769l3-2-3-7-4 2z"/>
<path color="#98c700" d="M746 774l4-2-4-7-4 2z"/>
<path color="#09c300" d="M769 789l4-2-4-6-4 1z"/>
<path color="#00c123" d="M777 793l4-2-4-6-4 2z"/>
<path color="#00c04c" d="M784 797l4-1-4-6-3 1z"/>
<path color="#00be72" d="M792 801l4-1-4-6-4 2z"/>
<path color="#00b9b2" d="M807 809l4-2-4-5-4 2z"/>
<path color="#00a0b6" d="M815 812l3-2-3-4-4 1z"/>
<path color="#0084b2" d="M822 814l4-1-4-4-4 1z"/>
<path color="#006bae" d="M830 817l4-2-4-4-4 2z"/>
<path color="#0043a5" d="M845 821l4-2-4-3-4 1z"/>
<path color="#00349f" d="M852 822l4-2-4-2-3 1z"/>
<path color="#002899" d="M860 823l4-1-4-3-4 1z"/>
<path color="#cf0000" d="M598 709l4-3-4-6-4 3z"/>
<path color="#cf0000" d="M637 720l4-3-4-5-4 3z"/>
<path color="#ce0000" d="M676 734l4-3-4-6-3 3z"/>
<path color="#ce0000" d="M684 738l4-3-4-6-4 2z"/>
<path color="#67c600" d="M754 779l4-2-4-6-4 1z"/>
<path color="#37c400" d="M762 784l3-2-3-6-4 1z"/>
<path color="#00bc94" d="M800 805l3-1-3-6-4 2z"/>
<path color="#0056aa" d="M837 819l4-2-4-3-3 1z"/>
<path color="#d00000" d="M578 706l4-3-4-6-4 3z"/>
<path color="#d00000" d="M586 710l4-4-4-6-4 3z"/>
<path color="#d10000" d="M610 717l4-3-4-6-4 4z"/>
<path color="#d10000" d="M618 720l4-4-4-6-4 4z"/>
<path color="#d20000" d="M626 722l3-4-4-5-3 3z"/>
<path color="#d20000" d="M649 729l4-4-4-6-4 4z"/>
<path color="#d20000" d="M657 732l4-4-4-6-4 3z"/>
<path color="#d10000" d="M665 734l4-3-4-6-4 3z"/>
<path color="#d00000" d="M696 749l4-4-4-6-4 2z"/>
<path color="#cf1c00" d="M704 753l4-3-4-7-4 2z"/>
<path color="#ce7400" d="M719 762l4-3-4-7-4 2z"/>
<path color="#c6cc00" d="M735 771l4-2-4-7-4 2z"/>
<path color="#95cb00" d="M742 776l4-2-4-7-3 2z"/>
<path color="#00c627" d="M773 795l4-2-4-6-4 2z"/>
<path color="#00c451" d="M781 799l3-2-3-6-4 2z"/>
<path color="#00c377" d="M788 803l4-2-4-5-4 1z"/>
<path color="#00a3bb" d="M811 813l4-1-4-5-4 2z"/>
<path color="#0086b7" d="M818 816l4-2-4-4-3 2z"/>
<path color="#006db3" d="M826 818l4-1-4-4-4 1z"/>
<path color="#0035a4" d="M849 824l3-2-3-3-4 2z"/>
<path color="#00299d" d="M856 825l4-2-4-3-4 2z"/>
<path color="#d10000" d="M594 713l4-4-4-6-4 3z"/>
<path color="#d10000" d="M602 715l4-3-4-6-4 3z"/>
<path color="#d20000" d="M633 724l4-4-4-5-4 3z"/>
<path color="#d20000" d="M641 726l4-3-4-6-4 3z"/>
<path color="#d10000" d="M673 738l3-4-3-6-4 3z"/>
<path color="#d10000" d="M680 741l4-3-4-7-4 3z"/>
<path color="#d10000" d="M688 745l4-4-4-6-4 3z"/>
<path color="#cf4700" d="M712 757l3-3-3-7-4 3z"/>
<path color="#cda300" d="M727 767l4-3-4-7-4 2z"/>
<path color="#64ca00" d="M750 781l4-2-4-7-4 2z"/>
<path color="#34c900" d="M758 786l4-2-4-7-4 2z"/>
<path color="#05c800" d="M765 791l4-2-4-7-3 2z"/>
<path color="#00c09a" d="M796 807l4-2-4-5-4 1z"/>
<path color="#00beb9" d="M803 810l4-1-4-5-3 1z"/>
<path color="#0057af" d="M834 820l3-1-3-4-4 2z"/>
<path color="#0045a9" d="M841 822l4-1-4-4-4 2z"/>
<path color="#d20000" d="M582 713l4-3-4-7-4 3z"/>
<path color="#d30000" d="M614 724l4-4-4-6-4 3z"/>
<path color="#d30000" d="M622 726l4-4-4-6-4 4z"/>
<path color="#d40000" d="M653 735l4-3-4-7-4 4z"/>
<path color="#d30000" d="M661 738l4-4-4-6-4 4z"/>
<path color="#d22c00" d="M700 756l4-3-4-8-4 4z"/>
<path color="#8dce00" d="M739 779l3-3-3-7-4 2z"/>
<path color="#00c857" d="M777 801l4-2-4-6-4 2z"/>
<path color="#00c67e" d="M784 805l4-2-4-6-3 2z"/>
<path color="#0086bb" d="M815 818l3-2-3-4-4 1z"/>
<path color="#006db7" d="M822 820l4-2-4-4-4 2z"/>
<path color="#0028a0" d="M852 827l4-2-4-3-3 2z"/>
<path color="#d30000" d="M590 716l4-3-4-7-4 4z"/>
<path color="#d30000" d="M598 719l4-4-4-6-4 4z"/>
<path color="#d30000" d="M606 721l4-4-4-5-4 3z"/>
<path color="#d30000" d="M630 728l3-4-4-6-3 4z"/>
<path color="#d40000" d="M637 730l4-4-4-6-4 4z"/>
<path color="#d40000" d="M645 733l4-4-4-6-4 3z"/>
<path color="#d30000" d="M669 741l4-3-4-7-4 3z"/>
<path color="#d30000" d="M677 744l3-3-4-7-3 4z"/>
<path color="#d30000" d="M684 748l4-3-4-7-4 3z"/>
<path color="#d20400" d="M692 752l4-3-4-8-4 4z"/>
<path color="#d15700" d="M708 760l4-3-4-7-4 3z"/>
<path color="#d18300" d="M715 765l4-3-4-8-3 3z"/>
<path color="#d0b100" d="M723 769l4-2-4-8-4 3z"/>
<path color="#becf00" d="M731 774l4-3-4-7-4 3z"/>
<path color="#5dcd00" d="M746 784l4-3-4-7-4 2z"/>
<path color="#2dcc00" d="M754 788l4-2-4-7-4 2z"/>
<path color="#00cb01" d="M762 793l3-2-3-7-4 2z"/>
<path color="#00c92e" d="M769 797l4-2-4-6-4 2z"/>
<path color="#00c4a1" d="M792 809l4-2-4-6-4 2z"/>
<path color="#00c1bf" d="M800 812l3-2-3-5-4 2z"/>
<path color="#00a3be" d="M807 815l4-2-4-4-4 1z"/>
<path color="#0057b2" d="M830 822l4-2-4-3-4 1z"/>
<path color="#0044ad" d="M837 824l4-2-4-3-3 1z"/>
<path color="#0035a7" d="M845 825l4-1-4-3-4 1z"/>
<path color="#d50000" d="M618 730l4-4-4-6-4 4z"/>
<path color="#d50000" d="M657 742l4-4-4-6-4 3z"/>
<path color="#00c886" d="M781 808l3-3-3-6-4 2z"/>
<path color="#006bb9" d="M818 822l4-2-4-4-3 2z"/>
<path color="#d40000" d="M586 720l4-4-4-6-4 3z"/>
<path color="#d40000" d="M594 723l4-4-4-6-4 3z"/>
<path color="#d50000" d="M602 725l4-4-4-6-4 4z"/>
<path color="#d50000" d="M610 728l4-4-4-7-4 4z"/>
<path color="#d50000" d="M626 732l4-4-4-6-4 4z"/>
<path color="#d50000" d="M634 735l3-5-4-6-3 4z"/>
<path color="#d50000" d="M641 737l4-4-4-7-4 4z"/>
<path color="#d50000" d="M649 739l4-4-4-6-4 4z"/>
<path color="#d50000" d="M665 745l4-4-4-7-4 4z"/>
<path color="#d50000" d="M673 748l4-4-4-6-4 3z"/>
<path color="#d40000" d="M681 752l3-4-4-7-3 3z"/>
<path color="#d41a00" d="M688 756l4-4-4-7-4 3z"/>
<path color="#d44100" d="M696 759l4-3-4-7-4 3z"/>
<path color="#d36a00" d="M704 764l4-4-4-7-4 3z"/>
<path color="#d39600" d="M712 768l3-3-3-8-4 3z"/>
<path color="#d2c300" d="M719 773l4-4-4-7-4 3z"/>
<path color="#b2d100" d="M727 777l4-3-4-7-4 2z"/>
<path color="#82d000" d="M735 782l4-3-4-8-4 3z"/>
<path color="#52cf00" d="M742 786l4-2-4-8-3 3z"/>
<path color="#23ce00" d="M750 791l4-3-4-7-4 3z"/>
<path color="#00cd0b" d="M758 795l4-2-4-7-4 2z"/>
<path color="#00cc37" d="M765 800l4-3-4-6-3 2z"/>
<path color="#00ca60" d="M773 804l4-3-4-6-4 2z"/>
<path color="#00c6a9" d="M788 811l4-2-4-6-4 2z"/>
<path color="#00c1c4" d="M796 814l4-2-4-5-4 2z"/>
<path color="#00a0c1" d="M803 817l4-2-4-5-3 2z"/>
<path color="#0084bd" d="M811 820l4-2-4-5-4 2z"/>
<path color="#0055b5" d="M826 824l4-2-4-4-4 2z"/>
<path color="#0043af" d="M834 826l3-2-3-4-4 2z"/>
<path color="#0034a9" d="M841 827l4-2-4-3-4 2z"/>
<path color="#0027a3" d="M849 828l3-1-3-3-4 1z"/>
<path color="#d60000" d="M590 727l4-4-4-7-4 4z"/>
<path color="#d60000" d="M598 730l4-5-4-6-4 4z"/>
<path color="#d60000" d="M606 732l4-4-4-7-4 4z"/>
<path color="#d60000" d="M614 734l4-4-4-6-4 4z"/>
<path color="#d60000" d="M622 737l4-5-4-6-4 4z"/>
<path color="#d60000" d="M630 739l4-4-4-7-4 4z"/>
<path color="#d60000" d="M638 741l3-4-4-7-3 5z"/>
<path color="#d60000" d="M645 744l4-5-4-6-4 4z"/>
<path color="#d60000" d="M653 747l4-5-4-7-4 4z"/>
<path color="#d60000" d="M661 749l4-4-4-7-4 4z"/>
<path color="#d60000" d="M669 753l4-5-4-7-4 4z"/>
<path color="#d60e00" d="M677 756l4-4-4-8-4 4z"/>
<path color="#d53200" d="M684 759l4-3-4-8-3 4z"/>
<path color="#d55800" d="M692 763l4-4-4-7-4 4z"/>
<path color="#d58100" d="M700 767l4-3-4-8-4 3z"/>
<path color="#d4ab00" d="M708 772l4-4-4-8-4 4z"/>
<path color="#d0d300" d="M715 776l4-3-4-8-3 3z"/>
<path color="#a1d300" d="M723 780l4-3-4-8-4 4z"/>
<path color="#73d200" d="M731 785l4-3-4-8-4 3z"/>
<path color="#44d100" d="M739 789l3-3-3-7-4 3z"/>
<path color="#16d000" d="M746 794l4-3-4-7-4 2z"/>
<path color="#00cf17" d="M754 798l4-3-4-7-4 3z"/>
<path color="#00ce42" d="M761 802l4-2-3-7-4 2z"/>
<path color="#00cc6a" d="M769 806l4-2-4-7-4 3z"/>
<path color="#00ca90" d="M777 810l4-2-4-7-4 3z"/>
<path color="#00c8b2" d="M784 814l4-3-4-6-3 3z"/>
<path color="#00bcc6" d="M792 817l4-3-4-5-4 2z"/>
<path color="#009cc3" d="M799 819l4-2-3-5-4 2z"/>
<path color="#0080bf" d="M807 822l4-2-4-5-4 2z"/>
<path color="#0068bb" d="M815 824l3-2-3-4-4 2z"/>
<path color="#0052b6" d="M822 826l4-2-4-4-4 2z"/>
<path color="#0040b1" d="M830 828l4-2-4-4-4 2z"/>
<path color="#0032ab" d="M837 829l4-2-4-3-3 2z"/>
<path color="#0026a4" d="M845 830l4-2-4-3-4 2z"/>
<path color="#d70000" d="M594 734l4-4-4-7-4 4z"/>
<path color="#d70000" d="M602 737l4-5-4-7-4 5z"/>
<path color="#d70000" d="M610 739l4-5-4-6-4 4z"/>
<path color="#d70000" d="M618 741l4-4-4-7-4 4z"/>
<path color="#d70000" d="M626 744l4-5-4-7-4 5z"/>
<path color="#d70000" d="M634 746l4-5-4-6-4 4z"/>
<path color="#d70000" d="M642 748l3-4-4-7-3 4z"/>
<path color="#d70000" d="M649 751l4-4-4-8-4 5z"/>
<path color="#d70000" d="M657 754l4-5-4-7-4 5z"/>
<path color="#d70a00" d="M665 757l4-4-4-8-4 4z"/>
<path color="#d72a00" d="M673 760l4-4-4-8-4 5z"/>
<path color="#d64d00" d="M681 764l3-5-3-7-4 4z"/>
<path color="#d67200" d="M688 767l4-4-4-7-4 3z"/>
<path color="#d69a00" d="M696 771l4-4-4-8-4 4z"/>
<path color="#d5c300" d="M704 775l4-3-4-8-4 3z"/>
<path color="#bbd400" d="M712 780l3-4-3-8-4 4z"/>
<path color="#8ed400" d="M719 784l4-4-4-7-4 3z"/>
<path color="#61d300" d="M727 788l4-3-4-8-4 3z"/>
<path color="#33d200" d="M735 793l4-4-4-7-4 3z"/>
<path color="#06d100" d="M742 797l4-3-4-8-3 3z"/>
<path color="#00d025" d="M750 801l4-3-4-7-4 3z"/>
<path color="#00cf4f" d="M758 805l3-3-3-7-4 3z"/>
<path color="#00cd77" d="M765 809l4-3-4-6-4 2z"/>
<path color="#00cb9b" d="M773 813l4-3-4-6-4 2z"/>
<path color="#00c9bc" d="M780 816l4-2-3-6-4 2z"/>
<path color="#00b5c7" d="M788 819l4-2-4-6-4 3z"/>
<path color="#0096c4" d="M796 822l3-3-3-5-4 3z"/>
<path color="#007bc0" d="M803 824l4-2-4-5-4 2z"/>
<path color="#0063bc" d="M811 826l4-2-4-4-4 2z"/>
<path color="#004fb7" d="M818 828l4-2-4-4-3 2z"/>
<path color="#003db2" d="M826 829l4-1-4-4-4 2z"/>
<path color="#002fac" d="M834 831l3-2-3-3-4 2z"/>
<path color="#0023a5" d="M841 832l4-2-4-3-4 2z"/>
<path color="#d80000" d="M599 742l3-5-4-7-4 4z"/>
<path color="#d80000" d="M606 744l4-5-4-7-4 5z"/>
<path color="#d80000" d="M622 748l4-4-4-7-4 4z"/>
<path color="#d80000" d="M630 751l4-5-4-7-4 5z"/>
<path color="#d80000" d="M638 753l4-5-4-7-4 5z"/>
<path color="#d80000" d="M646 756l3-5-4-7-3 4z"/>
<path color="#d72900" d="M661 761l4-4-4-8-4 5z"/>
<path color="#d74900" d="M669 765l4-5-4-7-4 4z"/>
<path color="#d76b00" d="M677 768l4-4-4-8-4 4z"/>
<path color="#d78f00" d="M685 772l3-5-4-8-3 5z"/>
<path color="#d6b500" d="M692 775l4-4-4-8-4 4z"/>
<path color="#cfd600" d="M700 779l4-4-4-8-4 4z"/>
<path color="#a4d500" d="M708 783l4-3-4-8-4 3z"/>
<path color="#79d500" d="M715 788l4-4-4-8-3 4z"/>
<path color="#4dd400" d="M723 792l4-4-4-8-4 4z"/>
<path color="#21d300" d="M731 796l4-3-4-8-4 3z"/>
<path color="#00d20b" d="M739 800l3-3-3-8-4 4z"/>
<path color="#00d135" d="M746 804l4-3-4-7-4 3z"/>
<path color="#00d05e" d="M754 808l4-3-4-7-4 3z"/>
<path color="#00ce84" d="M761 812l4-3-4-7-3 3z"/>
<path color="#00cca7" d="M769 815l4-2-4-7-4 3z"/>
<path color="#00cac7" d="M777 818l3-2-3-6-4 3z"/>
<path color="#008fc5" d="M792 824l4-2-4-5-4 2z"/>
<path color="#0075c1" d="M799 826l4-2-4-5-3 3z"/>
<path color="#005ebd" d="M807 828l4-2-4-4-4 2z"/>
<path color="#004ab8" d="M815 830l3-2-3-4-4 2z"/>
<path color="#002cac" d="M830 833l4-2-4-3-4 1z"/>
<path color="#0021a5" d="M837 834l4-2-4-3-3 2z"/>
<path color="#d80000" d="M614 746l4-5-4-7-4 5z"/>
<path color="#d80c00" d="M653 758l4-4-4-7-4 4z"/>
<path color="#00adc8" d="M784 821l4-2-4-5-4 2z"/>
<path color="#003ab2" d="M822 831l4-2-4-3-4 2z"/>
<path color="#d80000" d="M603 749l3-5-4-7-3 5z"/>
<path color="#d80000" d="M626 756l4-5-4-7-4 4z"/>
<path color="#d80000" d="M634 758l4-5-4-7-4 5z"/>
<path color="#d81300" d="M642 761l4-5-4-8-4 5z"/>
<path color="#d86900" d="M665 769l4-4-4-8-4 4z"/>
<path color="#d78900" d="M673 772l4-4-4-8-4 5z"/>
<path color="#d7ac00" d="M681 776l4-4-4-8-4 4z"/>
<path color="#d7d100" d="M688 780l4-5-4-8-3 5z"/>
<path color="#b5d600" d="M696 783l4-4-4-8-4 4z"/>
<path color="#8cd600" d="M704 787l4-4-4-8-4 4z"/>
<path color="#62d500" d="M712 791l3-3-3-8-4 3z"/>
<path color="#37d400" d="M719 795l4-3-4-8-4 4z"/>
<path color="#0dd300" d="M727 799l4-3-4-8-4 4z"/>
<path color="#00d31d" d="M735 803l4-3-4-7-4 3z"/>
<path color="#00d146" d="M742 807l4-3-4-7-3 3z"/>
<path color="#00d06d" d="M750 811l4-3-4-7-4 3z"/>
<path color="#00cf92" d="M758 815l3-3-3-7-4 3z"/>
<path color="#00cdb3" d="M765 818l4-3-4-6-4 3z"/>
<path color="#00c3cb" d="M773 821l4-3-4-5-4 2z"/>
<path color="#006ec1" d="M796 828l3-2-3-4-4 2z"/>
<path color="#0058bd" d="M803 830l4-2-4-4-4 2z"/>
<path color="#0045b8" d="M811 832l4-2-4-4-4 2z"/>
<path color="#001ea4" d="M834 835l3-1-3-3-4 2z"/>
<path color="#d80000" d="M610 751l4-5-4-7-4 5z"/>
<path color="#d80000" d="M618 753l4-5-4-7-4 5z"/>
<path color="#d82d00" d="M650 763l3-5-4-7-3 5z"/>
<path color="#d84a00" d="M657 766l4-5-4-7-4 4z"/>
<path color="#00a4c8" d="M780 824l4-3-4-5-3 2z"/>
<path color="#0087c5" d="M788 826l4-2-4-5-4 2z"/>
<path color="#0036b2" d="M818 833l4-2-4-3-3 2z"/>
<path color="#0029ab" d="M826 834l4-1-4-4-4 2z"/>
<path color="#d91e00" d="M630 763l4-5-4-7-4 5z"/>
<path color="#d83600" d="M638 765l4-4-4-8-4 5z"/>
<path color="#d8a900" d="M669 777l4-5-4-7-4 4z"/>
<path color="#d7cb00" d="M677 780l4-4-4-8-4 4z"/>
<path color="#bfd700" d="M685 784l3-4-3-8-4 4z"/>
<path color="#99d700" d="M692 787l4-4-4-8-4 5z"/>
<path color="#49d500" d="M708 795l4-4-4-8-4 4z"/>
<path color="#20d500" d="M716 799l3-4-4-7-3 3z"/>
<path color="#00d409" d="M723 803l4-4-4-7-4 3z"/>
<path color="#00d331" d="M731 807l4-4-4-7-4 3z"/>
<path color="#00d07d" d="M746 814l4-3-4-7-4 3z"/>
<path color="#00cfa0" d="M754 818l4-3-4-7-4 3z"/>
<path color="#00cdc0" d="M761 821l4-3-4-6-3 3z"/>
<path color="#00b8cb" d="M769 824l4-3-4-6-4 3z"/>
<path color="#0052bc" d="M799 832l4-2-4-4-3 2z"/>
<path color="#0040b7" d="M807 834l4-2-4-4-4 2z"/>
<path color="#d90000" d="M607 756l3-5-4-7-3 5z"/>
<path color="#d90000" d="M615 758l3-5-4-7-4 5z"/>
<path color="#d90700" d="M622 761l4-5-4-8-4 5z"/>
<path color="#d85000" d="M646 768l4-5-4-7-4 5z"/>
<path color="#d86c00" d="M654 771l3-5-4-8-3 5z"/>
<path color="#d88a00" d="M661 774l4-5-4-8-4 5z"/>
<path color="#72d600" d="M700 791l4-4-4-8-4 4z"/>
<path color="#00d258" d="M739 811l3-4-3-7-4 3z"/>
<path color="#009ac8" d="M777 826l3-2-3-6-4 3z"/>
<path color="#007fc5" d="M784 829l4-3-4-5-4 3z"/>
<path color="#0067c1" d="M792 831l4-3-4-4-4 2z"/>
<path color="#0031b1" d="M815 835l3-2-3-3-4 2z"/>
<path color="#0025aa" d="M822 836l4-2-4-3-4 2z"/>
<path color="#001ca3" d="M830 837l4-2-4-2-4 1z"/>
<path color="#d95b00" d="M634 771l4-6-4-7-4 5z"/>
<path color="#c4d800" d="M673 785l4-5-4-8-4 5z"/>
<path color="#7dd700" d="M689 792l3-5-4-7-3 4z"/>
<path color="#09d500" d="M712 803l4-4-4-8-4 4z"/>
<path color="#00d345" d="M727 810l4-3-4-8-4 4z"/>
<path color="#00cfaf" d="M750 820l4-2-4-7-4 3z"/>
<path color="#00adca" d="M765 826l4-2-4-6-4 3z"/>
<path color="#003bb6" d="M803 836l4-2-4-4-4 2z"/>
<path color="#d91600" d="M611 764l4-6-5-7-3 5z"/>
<path color="#d92c00" d="M619 766l3-5-4-8-3 5z"/>
<path color="#d94300" d="M626 768l4-5-4-7-4 5z"/>
<path color="#d97400" d="M642 773l4-5-4-7-4 4z"/>
<path color="#d88f00" d="M650 776l4-5-4-8-4 5z"/>
<path color="#d8ac00" d="M658 779l3-5-4-8-3 5z"/>
<path color="#d8ca00" d="M665 782l4-5-4-8-4 5z"/>
<path color="#a2d700" d="M681 788l4-4-4-8-4 4z"/>
<path color="#57d600" d="M696 795l4-4-4-8-4 4z"/>
<path color="#30d600" d="M704 799l4-4-4-8-4 4z"/>
<path color="#00d41e" d="M719 807l4-4-4-8-3 4z"/>
<path color="#00d26a" d="M735 814l4-3-4-8-4 4z"/>
<path color="#00d08e" d="M742 817l4-3-4-7-3 4z"/>
<path color="#00cccd" d="M758 824l3-3-3-6-4 3z"/>
<path color="#0090c8" d="M773 829l4-3-4-5-4 3z"/>
<path color="#0076c4" d="M780 831l4-2-4-5-3 2z"/>
<path color="#005fc0" d="M788 833l4-2-4-5-4 3z"/>
<path color="#004cbc" d="M796 835l3-3-3-4-4 3z"/>
<path color="#002db0" d="M811 837l4-2-4-3-4 2z"/>
<path color="#0022a9" d="M818 838l4-2-4-3-3 2z"/>
<path color="#0019a2" d="M826 839l4-2-4-3-4 2z"/>
<path color="#d95300" d="M615 771l4-5-4-8-4 6z"/>
<path color="#d96a00" d="M623 773l3-5-4-7-3 5z"/>
<path color="#d98100" d="M630 776l4-5-4-8-4 5z"/>
<path color="#d9b300" d="M646 781l4-5-4-8-4 5z"/>
<path color="#d8cf00" d="M654 783l4-4-4-8-4 5z"/>
<path color="#c4d800" d="M661 786l4-4-4-8-3 5z"/>
<path color="#a4d800" d="M669 789l4-4-4-8-4 5z"/>
<path color="#83d700" d="M677 793l4-5-4-8-4 5z"/>
<path color="#60d700" d="M685 796l4-4-4-8-4 4z"/>
<path color="#3cd600" d="M692 799l4-4-4-8-3 5z"/>
<path color="#16d600" d="M700 803l4-4-4-8-4 4z"/>
<path color="#00d50f" d="M708 807l4-4-4-8-4 4z"/>
<path color="#00d434" d="M716 810l3-3-3-8-4 4z"/>
<path color="#00d359" d="M723 814l4-4-4-7-4 4z"/>
<path color="#00d27d" d="M731 817l4-3-4-7-4 3z"/>
<path color="#00d09e" d="M739 820l3-3-3-6-4 3z"/>
<path color="#00cfbe" d="M746 823l4-3-4-6-4 3z"/>
<path color="#00bfcc" d="M754 826l4-2-4-6-4 2z"/>
<path color="#00a1ca" d="M761 829l4-3-4-5-3 3z"/>
<path color="#0085c7" d="M769 831l4-2-4-5-4 2z"/>
<path color="#006dc4" d="M777 833l3-2-3-5-4 3z"/>
<path color="#0058bf" d="M784 835l4-2-4-4-4 2z"/>
<path color="#0045bb" d="M792 837l4-2-4-4-4 2z"/>
<path color="#0029af" d="M807 839l4-2-4-3-4 2z"/>
<path color="#001fa8" d="M815 840l3-2-3-3-4 2z"/>
<path color="#0016a0" d="M822 841l4-2-4-3-4 2z"/>
<path color="#d99900" d="M638 778l4-5-4-8-4 6z"/>
<path color="#0036b5" d="M799 838l4-2-4-4-3 3z"/>
<path color="#d99100" d="M619 779l4-6-4-7-4 5z"/>
<path color="#d9a700" d="M627 781l3-5-4-8-3 5z"/>
<path color="#bfd800" d="M650 788l4-5-4-7-4 5z"/>
<path color="#a2d800" d="M658 791l3-5-3-7-4 4z"/>
<path color="#84d800" d="M665 794l4-5-4-7-4 4z"/>
<path color="#64d700" d="M673 797l4-4-4-8-4 4z"/>
<path color="#43d700" d="M681 800l4-4-4-8-4 5z"/>
<path color="#20d600" d="M689 804l3-5-3-7-4 4z"/>
<path color="#00d603" d="M696 807l4-4-4-8-4 4z"/>
<path color="#00d527" d="M704 810l4-3-4-8-4 4z"/>
<path color="#00d36d" d="M719 817l4-3-4-7-3 3z"/>
<path color="#00d0af" d="M735 823l4-3-4-6-4 3z"/>
<path color="#00cecc" d="M742 826l4-3-4-6-3 3z"/>
<path color="#00b1cc" d="M750 829l4-3-4-6-4 3z"/>
<path color="#0095c9" d="M758 831l3-2-3-5-4 2z"/>
<path color="#007bc6" d="M765 834l4-3-4-5-4 3z"/>
<path color="#0064c3" d="M773 836l4-3-4-4-4 2z"/>
<path color="#0050be" d="M780 837l4-2-4-4-3 2z"/>
<path color="#003fb9" d="M788 839l4-2-4-4-4 2z"/>
<path color="#001ba6" d="M811 842l4-2-4-3-4 2z"/>
<path color="#00149e" d="M818 843l4-2-4-3-3 2z"/>
<path color="#d9bf00" d="M634 783l4-5-4-7-4 5z"/>
<path color="#d9d700" d="M642 786l4-5-4-8-4 5z"/>
<path color="#00d44b" d="M712 814l4-4-4-7-4 4z"/>
<path color="#00d18f" d="M727 820l4-3-4-7-4 4z"/>
<path color="#0031b3" d="M796 840l3-2-3-3-4 2z"/>
<path color="#0025ad" d="M803 841l4-2-4-3-4 2z"/>
<path color="#d9ce00" d="M623 786l4-5-4-8-4 6z"/>
<path color="#80d800" d="M654 796l4-5-4-8-4 5z"/>
<path color="#64d800" d="M662 799l3-5-4-8-3 5z"/>
<path color="#25d700" d="M677 805l4-5-4-7-4 4z"/>
<path color="#00d51d" d="M693 811l3-4-4-8-3 5z"/>
<path color="#00d43f" d="M700 814l4-4-4-7-4 4z"/>
<path color="#00c1ce" d="M739 829l3-3-3-6-4 3z"/>
<path color="#00a4cb" d="M746 832l4-3-4-6-4 3z"/>
<path color="#0071c5" d="M761 836l4-2-4-5-3 2z"/>
<path color="#0049bd" d="M777 840l3-3-3-4-4 3z"/>
<path color="#0039b8" d="M784 841l4-2-4-4-4 2z"/>
<path color="#00129c" d="M815 844l3-1-3-3-4 2z"/>
<path color="#ced900" d="M631 788l3-5-4-7-3 5z"/>
<path color="#b5d900" d="M638 791l4-5-4-8-4 5z"/>
<path color="#9cd800" d="M646 793l4-5-4-7-4 5z"/>
<path color="#45d700" d="M669 801l4-4-4-8-4 5z"/>
<path color="#04d600" d="M685 808l4-4-4-8-4 4z"/>
<path color="#00d360" d="M708 817l4-3-4-7-4 3z"/>
<path color="#00d281" d="M716 821l3-4-3-7-4 4z"/>
<path color="#00d1a1" d="M723 824l4-4-4-6-4 3z"/>
<path color="#00cfbf" d="M731 826l4-3-4-6-4 3z"/>
<path color="#0089c9" d="M754 834l4-3-4-5-4 3z"/>
<path color="#005cc1" d="M769 838l4-2-4-5-4 3z"/>
<path color="#002cb2" d="M792 842l4-2-4-3-4 2z"/>
<path color="#0021ab" d="M799 843l4-2-4-3-3 2z"/>
<path color="#0018a4" d="M807 844l4-2-4-3-4 2z"/>
<path color="#43d700" d="M658 803l4-4-4-8-4 5z"/>
<path color="#00d456" d="M696 818l4-4-4-7-3 4z"/>
<path color="#0097ca" d="M742 834l4-2-4-6-3 3z"/>
<path color="#0033b6" d="M780 843l4-2-4-4-3 3z"/>
<path color="#a8d900" d="M627 793l4-5-4-7-4 5z"/>
<path color="#91d900" d="M635 796l3-5-4-8-3 5z"/>
<path color="#78d800" d="M642 798l4-5-4-7-4 5z"/>
<path color="#5ed800" d="M650 800l4-4-4-8-4 5z"/>
<path color="#26d700" d="M666 806l3-5-4-7-3 5z"/>
<path color="#08d600" d="M673 809l4-4-4-8-4 4z"/>
<path color="#00d617" d="M681 812l4-4-4-8-4 5z"/>
<path color="#00d536" d="M689 815l4-4-4-7-4 4z"/>
<path color="#00d376" d="M704 821l4-4-4-7-4 4z"/>
<path color="#00d295" d="M712 824l4-3-4-7-4 3z"/>
<path color="#00d0b2" d="M719 827l4-3-4-7-3 4z"/>
<path color="#00cfce" d="M727 829l4-3-4-6-4 4z"/>
<path color="#00b2cd" d="M735 832l4-3-4-6-4 3z"/>
<path color="#007ec7" d="M750 837l4-3-4-5-4 3z"/>
<path color="#0067c4" d="M758 839l3-3-3-5-4 3z"/>
<path color="#0053c0" d="M765 840l4-2-4-4-4 2z"/>
<path color="#0042bb" d="M773 842l4-2-4-4-4 2z"/>
<path color="#0027b0" d="M788 844l4-2-4-3-4 2z"/>
<path color="#001da9" d="M796 845l3-2-3-3-4 2z"/>
<path color="#0016a2" d="M803 846l4-2-4-3-4 2z"/>
<path color="#000f9a" d="M811 846l4-2-4-2-4 2z"/>
<path color="#6cd800" d="M631 801l4-5-4-8-4 5z"/>
<path color="#55d800" d="M639 803l3-5-4-7-3 5z"/>
<path color="#3dd800" d="M646 805l4-5-4-7-4 5z"/>
<path color="#23d700" d="M654 808l4-5-4-7-4 4z"/>
<path color="#08d700" d="M662 810l4-4-4-7-4 4z"/>
<path color="#00d614" d="M669 813l4-4-4-8-3 5z"/>
<path color="#00d531" d="M677 816l4-4-4-7-4 4z"/>
<path color="#00d54f" d="M685 819l4-4-4-7-4 4z"/>
<path color="#00d46d" d="M693 822l3-4-3-7-4 4z"/>
<path color="#00d38b" d="M700 824l4-3-4-7-4 4z"/>
<path color="#00d1a7" d="M708 827l4-3-4-7-4 4z"/>
<path color="#00d0c3" d="M716 830l3-3-3-6-4 3z"/>
<path color="#00c0ce" d="M723 832l4-3-4-5-4 3z"/>
<path color="#00a4cc" d="M731 835l4-3-4-6-4 3z"/>
<path color="#008ac9" d="M739 837l3-3-3-5-4 3z"/>
<path color="#0073c6" d="M746 839l4-2-4-5-4 2z"/>
<path color="#005ec3" d="M754 841l4-2-4-5-4 3z"/>
<path color="#004cbe" d="M761 843l4-3-4-4-3 3z"/>
<path color="#003cb9" d="M769 844l4-2-4-4-4 2z"/>
<path color="#002eb4" d="M777 845l3-2-3-3-4 2z"/>
<path color="#0023ad" d="M784 846l4-2-4-3-4 2z"/>
<path color="#001aa6" d="M792 847l4-2-4-3-4 2z"/>
<path color="#00139f" d="M799 847l4-1-4-3-3 2z"/>
<path color="#000e98" d="M807 848l4-2-4-2-4 2z"/>
<path color="#32d800" d="M635 808l4-5-4-7-4 5z"/>
<path color="#1cd700" d="M642 810l4-5-4-7-3 5z"/>
<path color="#03d700" d="M650 812l4-4-4-8-4 5z"/>
<path color="#00d616" d="M658 815l4-5-4-7-4 5z"/>
<path color="#00d630" d="M666 817l3-4-3-7-4 4z"/>
<path color="#00d54c" d="M673 820l4-4-4-7-4 4z"/>
<path color="#00d467" d="M681 822l4-3-4-7-4 4z"/>
<path color="#00d383" d="M689 825l4-3-4-7-4 4z"/>
<path color="#00d29e" d="M696 828l4-4-4-6-3 4z"/>
<path color="#00d1b9" d="M704 830l4-3-4-6-4 3z"/>
<path color="#00cbcf" d="M712 833l4-3-4-6-4 3z"/>
<path color="#00b0cd" d="M719 835l4-3-4-5-3 3z"/>
<path color="#0096cb" d="M727 838l4-3-4-6-4 3z"/>
<path color="#007ec8" d="M735 840l4-3-4-5-4 3z"/>
<path color="#0069c5" d="M742 842l4-3-4-5-3 3z"/>
<path color="#0055c1" d="M750 843l4-2-4-4-4 2z"/>
<path color="#0044bd" d="M758 845l3-2-3-4-4 2z"/>
<path color="#0035b7" d="M765 846l4-2-4-4-4 3z"/>
<path color="#0029b1" d="M773 847l4-2-4-3-4 2z"/>
<path color="#001fab" d="M780 848l4-2-4-3-3 2z"/>
<path color="#0017a4" d="M788 849l4-2-4-3-4 2z"/>
<path color="#00119d" d="M796 849l3-2-3-2-4 2z"/>
<path color="#000c96" d="M803 850l4-2-4-2-4 1z"/>
<path color="#00d705" d="M639 815l3-5-3-7-4 5z"/>
<path color="#00d71c" d="M646 817l4-5-4-7-4 5z"/>
<path color="#00d633" d="M654 819l4-4-4-7-4 4z"/>
<path color="#00d54c" d="M662 821l4-4-4-7-4 5z"/>
<path color="#00d465" d="M670 824l3-4-4-7-3 4z"/>
<path color="#00d47e" d="M677 826l4-4-4-6-4 4z"/>
<path color="#00d298" d="M685 829l4-4-4-6-4 3z"/>
<path color="#00d1b2" d="M693 831l3-3-3-6-4 3z"/>
<path color="#00d0ca" d="M700 834l4-4-4-6-4 4z"/>
<path color="#00bbce" d="M708 836l4-3-4-6-4 3z"/>
<path color="#00a1cc" d="M716 838l3-3-3-5-4 3z"/>
<path color="#0089ca" d="M723 840l4-2-4-6-4 3z"/>
<path color="#0073c7" d="M731 842l4-2-4-5-4 3z"/>
<path color="#005fc3" d="M739 844l3-2-3-5-4 3z"/>
<path color="#004dbf" d="M746 846l4-3-4-4-4 3z"/>
<path color="#003dbb" d="M754 847l4-2-4-4-4 2z"/>
<path color="#0030b5" d="M761 848l4-2-4-3-3 2z"/>
<path color="#0025af" d="M769 849l4-2-4-3-4 2z"/>
<path color="#001ba9" d="M777 850l3-2-3-3-4 2z"/>
<path color="#0014a2" d="M784 850l4-1-4-3-4 2z"/>
<path color="#000f9a" d="M792 851l4-2-4-2-4 2z"/>
<path color="#000a93" d="M799 851l4-1-4-3-3 2z"/>
<path color="#00d63a" d="M643 821l3-4-4-7-3 5z"/>
<path color="#00d566" d="M658 825l4-4-4-6-4 4z"/>
<path color="#00d395" d="M673 830l4-4-4-6-3 4z"/>
<path color="#00d2ac" d="M681 832l4-3-4-7-4 4z"/>
<path color="#00c4cf" d="M696 837l4-3-4-6-3 3z"/>
<path color="#0093cb" d="M712 841l4-3-4-5-4 3z"/>
<path color="#007dc8" d="M719 843l4-3-4-5-3 3z"/>
<path color="#0068c5" d="M727 845l4-3-4-4-4 2z"/>
<path color="#0045bd" d="M742 848l4-2-4-4-3 2z"/>
<path color="#002bb3" d="M758 850l3-2-3-3-4 2z"/>
<path color="#0020ad" d="M765 851l4-2-4-3-4 2z"/>
<path color="#00129f" d="M780 852l4-2-4-2-3 2z"/>
<path color="#000991" d="M796 853l3-2-3-2-4 2z"/>
<path color="#00d54f" d="M650 823l4-4-4-7-4 5z"/>
<path color="#00d47d" d="M666 828l4-4-4-7-4 4z"/>
<path color="#00d0c4" d="M689 835l4-4-4-6-4 4z"/>
<path color="#00abcd" d="M704 839l4-3-4-6-4 4z"/>
<path color="#0056c1" d="M735 846l4-2-4-4-4 2z"/>
<path color="#0037b8" d="M750 849l4-2-4-4-4 3z"/>
<path color="#0018a6" d="M773 852l4-2-4-3-4 2z"/>
<path color="#000d98" d="M788 853l4-2-4-2-4 1z"/>
<path color="#00d1c0" d="M677 836l4-4-4-6-4 4z"/>
<path color="#0071c7" d="M716 846l3-3-3-5-4 3z"/>
<path color="#005ec3" d="M723 847l4-2-4-5-4 3z"/>
<path color="#001daa" d="M761 853l4-2-4-3-3 2z"/>
<path color="#00d56b" d="M647 827l3-4-4-6-3 4z"/>
<path color="#00d47f" d="M654 829l4-4-4-6-4 4z"/>
<path color="#00d394" d="M662 831l4-3-4-7-4 4z"/>
<path color="#00d2aa" d="M670 834l3-4-3-6-4 4z"/>
<path color="#00cacf" d="M685 838l4-3-4-6-4 3z"/>
<path color="#00b2ce" d="M693 840l3-3-3-6-4 4z"/>
<path color="#0086c9" d="M708 844l4-3-4-5-4 3z"/>
<path color="#004dc0" d="M731 849l4-3-4-4-4 3z"/>
<path color="#0031b6" d="M746 851l4-2-4-3-4 2z"/>
<path color="#0026b0" d="M754 852l4-2-4-3-4 2z"/>
<path color="#0015a3" d="M769 854l4-2-4-3-4 2z"/>
<path color="#000f9d" d="M777 854l3-2-3-2-4 2z"/>
<path color="#000b96" d="M784 855l4-2-4-3-4 2z"/>
<path color="#00088f" d="M792 855l4-2-4-2-4 2z"/>
<path color="#009ccc" d="M700 842l4-3-4-5-4 3z"/>
<path color="#003ebb" d="M739 850l3-2-3-4-4 2z"/>
<path color="#00d398" d="M650 833l4-4-4-6-3 4z"/>
<path color="#00d1be" d="M666 837l4-3-4-6-4 3z"/>
<path color="#00ced0" d="M674 839l3-3-4-6-3 4z"/>
<path color="#00a2cd" d="M689 843l4-3-4-5-4 3z"/>
<path color="#0066c5" d="M712 848l4-2-4-5-4 3z"/>
<path color="#0055c2" d="M719 850l4-3-4-4-3 3z"/>
<path color="#0045be" d="M727 851l4-2-4-4-4 2z"/>
<path color="#0021ae" d="M750 854l4-2-4-3-4 2z"/>
<path color="#0013a1" d="M765 855l4-1-4-3-4 2z"/>
<path color="#000d9a" d="M773 856l4-2-4-2-4 2z"/>
<path color="#00078d" d="M788 857l4-2-4-2-4 2z"/>
<path color="#00d2ab" d="M658 835l4-4-4-6-4 4z"/>
<path color="#00b8ce" d="M681 841l4-3-4-6-4 4z"/>
<path color="#008dca" d="M697 845l3-3-4-5-3 3z"/>
<path color="#0079c8" d="M704 847l4-3-4-5-4 3z"/>
<path color="#0037b9" d="M735 852l4-2-4-4-4 3z"/>
<path color="#002bb4" d="M742 853l4-2-4-3-3 2z"/>
<path color="#0019a8" d="M758 855l3-2-3-3-4 2z"/>
<path color="#000a94" d="M780 856l4-1-4-3-3 2z"/>
<path color="#00bbcf" d="M670 842l4-3-4-5-4 3z"/>
<path color="#000c98" d="M769 858l4-2-4-2-4 1z"/>
<path color="#00d1c0" d="M654 839l4-4-4-6-4 4z"/>
<path color="#00cfd0" d="M662 841l4-4-4-6-4 4z"/>
<path color="#00a7cd" d="M677 844l4-3-4-5-3 3z"/>
<path color="#0093cb" d="M685 846l4-3-4-5-4 3z"/>
<path color="#007fc9" d="M693 848l4-3-4-5-4 3z"/>
<path color="#006dc6" d="M700 849l4-2-4-5-3 3z"/>
<path color="#005cc3" d="M708 851l4-3-4-4-4 3z"/>
<path color="#004cc0" d="M716 852l3-2-3-4-4 2z"/>
<path color="#003ebb" d="M723 853l4-2-4-4-4 3z"/>
<path color="#0031b7" d="M731 854l4-2-4-3-4 2z"/>
<path color="#0027b1" d="M739 855l3-2-3-3-4 2z"/>
<path color="#001dab" d="M746 856l4-2-4-3-4 2z"/>
<path color="#0016a5" d="M754 857l4-2-4-3-4 2z"/>
<path color="#00109f" d="M761 857l4-2-4-2-3 2z"/>
<path color="#000892" d="M777 858l3-2-3-2-4 2z"/>
<path color="#00068c" d="M784 858l4-1-4-2-4 1z"/>
<path color="#00bbcf" d="M658 844l4-3-4-6-4 4z"/>
<path color="#00a9cd" d="M666 846l4-4-4-5-4 4z"/>
<path color="#0096cc" d="M674 847l3-3-3-5-4 3z"/>
<path color="#0084ca" d="M681 849l4-3-4-5-4 3z"/>
<path color="#0073c7" d="M689 850l4-2-4-5-4 3z"/>
<path color="#0062c4" d="M697 852l3-3-3-4-4 3z"/>
<path color="#0052c1" d="M704 853l4-2-4-4-4 2z"/>
<path color="#0044bd" d="M712 854l4-2-4-4-4 3z"/>
<path color="#0037b9" d="M719 856l4-3-4-3-3 2z"/>
<path color="#002cb4" d="M727 857l4-3-4-3-4 2z"/>
<path color="#0022af" d="M735 857l4-2-4-3-4 2z"/>
<path color="#001aa9" d="M742 858l4-2-4-3-3 2z"/>
<path color="#0013a3" d="M750 859l4-2-4-3-4 2z"/>
<path color="#000e9c" d="M758 859l3-2-3-2-4 2z"/>
<path color="#000a96" d="M765 860l4-2-4-3-4 2z"/>
<path color="#000790" d="M773 860l4-2-4-2-4 2z"/>
<path color="#00058a" d="M780 860l4-2-4-2-3 2z"/>
<path color="#0098cc" d="M662 849l4-3-4-5-4 3z"/>
<path color="#0077c8" d="M677 852l4-3-4-5-3 3z"/>
<path color="#0058c3" d="M693 854l4-2-4-4-4 2z"/>
<path color="#0049bf" d="M700 856l4-3-4-4-3 3z"/>
<path color="#003cbb" d="M708 857l4-3-4-3-4 2z"/>
<path color="#0031b7" d="M716 858l3-2-3-4-4 2z"/>
<path color="#0027b2" d="M723 859l4-2-4-4-4 3z"/>
<path color="#001eac" d="M731 859l4-2-4-3-4 3z"/>
<path color="#0017a6" d="M739 860l3-2-3-3-4 2z"/>
<path color="#0011a0" d="M746 861l4-2-4-3-4 2z"/>
<path color="#000994" d="M761 861l4-1-4-3-3 2z"/>
<path color="#000489" d="M777 862l3-2-3-2-4 2z"/>
<path color="#0087ca" d="M670 850l4-3-4-5-4 4z"/>
<path color="#0067c5" d="M685 853l4-3-4-4-4 3z"/>
<path color="#000c9a" d="M754 861l4-2-4-2-4 2z"/>
<path color="#00068e" d="M769 862l4-2-4-2-4 2z"/>
<path color="#0041bd" d="M697 858l3-2-3-4-4 2z"/>
<path color="#0036b9" d="M704 859l4-2-4-4-4 3z"/>
<path color="#0014a4" d="M735 862l4-2-4-3-4 2z"/>
<path color="#000f9e" d="M742 862l4-1-4-3-3 2z"/>
<path color="#0079c9" d="M666 853l4-3-4-4-4 3z"/>
<path color="#006ac6" d="M674 854l3-2-3-5-4 3z"/>
<path color="#005cc4" d="M681 856l4-3-4-4-4 3z"/>
<path color="#004ec0" d="M689 857l4-3-4-4-4 3z"/>
<path color="#002bb4" d="M712 860l4-2-4-4-4 3z"/>
<path color="#0022af" d="M719 861l4-2-4-3-3 2z"/>
<path color="#001aaa" d="M727 861l4-2-4-2-4 2z"/>
<path color="#000b98" d="M750 863l4-2-4-2-4 2z"/>
<path color="#000892" d="M758 863l3-2-3-2-4 2z"/>
<path color="#00058d" d="M765 863l4-1-4-2-4 1z"/>
<path color="#000488" d="M773 864l4-2-4-2-4 2z"/>
<path color="#005ec4" d="M670 857l4-3-4-4-4 3z"/>
<path color="#0045be" d="M685 859l4-2-4-4-4 3z"/>
<path color="#003abb" d="M693 860l4-2-4-4-4 3z"/>
<path color="#002fb6" d="M700 861l4-2-4-3-3 2z"/>
<path color="#0026b2" d="M708 862l4-2-4-3-4 2z"/>
<path color="#0012a1" d="M731 864l4-2-4-3-4 2z"/>
<path color="#000d9c" d="M739 864l3-2-3-2-4 2z"/>
<path color="#000996" d="M746 865l4-2-4-2-4 1z"/>
<path color="#000790" d="M754 865l4-2-4-2-4 2z"/>
<path color="#000387" d="M769 865l4-1-4-2-4 1z"/>
<path color="#0051c1" d="M677 858l4-2-4-4-3 2z"/>
<path color="#001ead" d="M716 863l3-2-3-3-4 2z"/>
<path color="#0017a7" d="M723 863l4-2-4-2-4 2z"/>
<path color="#00058b" d="M761 865l4-2-4-2-3 2z"/>
<path color="#0033b8" d="M689 863l4-3-4-3-4 2z"/>
<path color="#00068f" d="M750 867l4-2-4-2-4 2z"/>
<path color="#0048bf" d="M674 861l3-3-3-4-4 3z"/>
<path color="#003dbc" d="M681 862l4-3-4-3-4 2z"/>
<path color="#002ab4" d="M697 863l3-2-3-3-4 2z"/>
<path color="#0021af" d="M704 864l4-2-4-3-4 2z"/>
<path color="#001aaa" d="M712 865l4-2-4-3-4 2z"/>
<path color="#0014a5" d="M719 865l4-2-4-2-3 2z"/>
<path color="#000f9f" d="M727 866l4-2-4-3-4 2z"/>
<path color="#000b99" d="M735 866l4-2-4-2-4 2z"/>
<path color="#000894" d="M742 866l4-1-4-3-3 2z"/>
<path color="#00048a" d="M758 867l3-2-3-2-4 2z"/>
<path color="#000386" d="M765 867l4-2-4-2-4 2z"/>
<path color="#0035b9" d="M677 864l4-2-4-4-3 3z"/>
<path color="#002db6" d="M685 865l4-2-4-4-4 3z"/>
<path color="#0024b1" d="M693 866l4-3-4-3-4 3z"/>
<path color="#001dad" d="M700 866l4-2-4-3-3 2z"/>
<path color="#0017a8" d="M708 867l4-2-4-3-4 2z"/>
<path color="#0012a2" d="M716 867l3-2-3-2-4 2z"/>
<path color="#000d9d" d="M723 868l4-2-4-3-4 2z"/>
<path color="#000a97" d="M731 868l4-2-4-2-4 2z"/>
<path color="#000792" d="M739 868l3-2-3-2-4 2z"/>
<path color="#00058e" d="M746 869l4-2-4-2-4 1z"/>
<path color="#000489" d="M754 869l4-2-4-2-4 2z"/>
<path color="#000286" d="M761 869l4-2-4-2-3 2z"/>
<path color="#0027b3" d="M681 867l4-2-4-3-4 2z"/>
<path color="#0020af" d="M689 868l4-2-4-3-4 2z"/>
<path color="#0019aa" d="M697 868l3-2-3-3-4 3z"/>
<path color="#000c9b" d="M720 870l3-2-4-3-3 2z"/>
<path color="#00048c" d="M742 870l4-1-4-3-3 2z"/>
<path color="#000389" d="M750 870l4-1-4-2-4 2z"/>
<path color="#000285" d="M758 871l3-2-3-2-4 2z"/>
<path color="#0014a5" d="M704 869l4-2-4-3-4 2z"/>
<path color="#000fa0" d="M712 869l4-2-4-2-4 2z"/>
<path color="#000996" d="M727 870l4-2-4-2-4 2z"/>
<path color="#000691" d="M735 870l4-2-4-2-4 2z"/>
<path color="#001cac" d="M685 870l4-2-4-3-4 2z"/>
<path color="#0016a7" d="M693 870l4-2-4-2-4 2z"/>
<path color="#000a99" d="M716 871l4-1-4-3-4 2z"/>
<path color="#000794" d="M723 872l4-2-4-2-3 2z"/>
<path color="#000388" d="M746 872l4-2-4-1-4 1z"/>
<path color="#000285" d="M754 872l4-1-4-2-4 1z"/>
<path color="#0011a3" d="M700 871l4-2-4-3-3 2z"/>
<path color="#000d9e" d="M708 871l4-2-4-2-4 2z"/>
<path color="#000590" d="M731 872l4-2-4-2-4 2z"/>
<path color="#00048b" d="M739 872l3-2-3-2-4 2z"/>
<path color="#0013a5" d="M689 872l4-2-4-2-4 2z"/>
<path color="#000fa0" d="M697 873l3-2-3-3-4 2z"/>
<path color="#000c9c" d="M704 873l4-2-4-2-4 2z"/>
<path color="#000997" d="M712 873l4-2-4-2-4 2z"/>
<path color="#000693" d="M720 874l3-2-3-2-4 1z"/>
<path color="#00058e" d="M727 874l4-2-4-2-4 2z"/>
<path color="#00038b" d="M735 874l4-2-4-2-4 2z"/>
<path color="#000288" d="M742 874l4-2-4-2-3 2z"/>
<path color="#000285" d="M750 874l4-2-4-2-4 2z"/>
<path color="#000895" d="M708 875l4-2-4-2-4 2z"/>
<path color="#00038a" d="M731 876l4-2-4-2-4 2z"/>
<path color="#000d9e" d="M693 875l4-2-4-3-4 2z"/>
<path color="#000a9a" d="M700 875l4-2-4-2-3 2z"/>
<path color="#000691" d="M716 875l4-1-4-3-4 2z"/>
<path color="#00048d" d="M723 876l4-2-4-2-3 2z"/>
<path color="#000287" d="M739 876l3-2-3-2-4 2z"/>
<path color="#000185" d="M746 876l4-2-4-2-4 2z"/>
<path color="#000694" d="M704 877l4-2-4-2-4 2z"/>
<path color="#000287" d="M735 878l4-2-4-2-4 2z"/>
<path color="#000998" d="M697 877l3-2-3-2-4 2z"/>
<path color="#000590" d="M712 877l4-2-4-2-4 2z"/>
<path color="#00038d" d="M720 877l3-1-3-2-4 1z"/>
<path color="#00028a" d="M727 877l4-1-4-2-4 2z"/>
<path color="#000185" d="M742 878l4-2-4-2-3 2z"/>
<path color="#000692" d="M700 879l4-2-4-2-3 2z"/>
<path color="#00048f" d="M708 879l4-2-4-2-4 2z"/>
<path color="#000187" d="M731 879l4-1-4-2-4 1z"/>
<path color="#000185" d="M739 879l3-1-3-2-4 2z"/>
<path color="#00038c" d="M716 879l4-2-4-2-4 2z"/>
<path color="#000289" d="M723 879l4-2-4-1-3 1z"/>
<path color="#00048e" d="M704 881l4-2-4-2-4 2z"/>
<path color="#00038c" d="M712 881l4-2-4-2-4 2z"/>
<path color="#000289" d="M720 881l3-2-3-2-4 2z"/>
<path color="#000187" d="M727 881l4-2-4-2-4 2z"/>
<path color="#000186" d="M735 881l4-2-4-1-4 1z"/>
<path color="#00028b" d="M708 883l4-2-4-2-4 2z"/>
<path color="#000289" d="M716 883l4-2-4-2-4 2z"/>
<path color="#000187" d="M723 883l4-2-4-2-3 2z"/>
<path color="#000186" d="M731 883l4-2-4-2-4 2z"/>
<path color="#000189" d="M712 885l4-2-4-2-4 2z"/>
<path color="#000188" d="M720 885l3-2-3-2-4 2z"/>
<path color="#000186" d="M727 885l4-2-4-2-4 2z"/>
<path color="#000188" d="M716 887l4-2-4-2-4 2z"/>
<path color="#000187" d="M723 887l4-2-4-2-3 2z"/>
<path color="#000087" d="M720 888l3-1-3-2-4 2z"/>
</g>
<line x1="500.4" y1="435.7" x2="495.2" y2="324" stroke="#8c8c8c" stroke-width="0.75"/>
<line x1="515.9" y1="402.3" x2="512.8" y2="319.8" stroke="#8c8c8c" stroke-width="0.75"/>
<line x1="532.6" y1="396.5" x2="530.2" y2="315.8" stroke="#8c8c8c" stroke-width="0.75"/>
<line x1="549.3" y1="391" x2="547.7" y2="311.9" stroke="#8c8c8c" stroke-width="0.75"/>
<line x1="565.9" y1="385.7" x2="565" y2="308.2" stroke="#8c8c8c" stroke-width="0.75"/>
<line x1="582.5" y1="380.7" x2="582.4" y2="304.7" stroke="#8c8c8c" stroke-width="0.75"/>
<line x1="499.2" y1="408.4" x2="582.5" y2="380.7" stroke="#8c8c8c" stroke-width="0.75"/>
<line x1="498.2" y1="387.9" x2="582.4" y2="362.1" stroke="#8c8c8c" stroke-width="0.75"/>
<line x1="497.2" y1="367" x2="582.4" y2="343.3" stroke="#8c8c8c" stroke-width="0.75"/>
<line x1="496.3" y1="345.7" x2="582.4" y2="324.2" stroke="#8c8c8c" stroke-width="0.75"/>
<line x1="495.2" y1="324" x2="582.4" y2="304.7" stroke="#8c8c8c" stroke-width="0.75"/>
<line x1="664.8" y1="435.7" x2="669.8" y2="324.3" stroke="#8c8c8c" stroke-width="0.75"/>
<line x1="654" y1="404.1" x2="657.2" y2="321.2" stroke="#8c8c8c" stroke-width="0.75"/>
<line x1="642" y1="399.9" x2="644.6" y2="318.2" stroke="#8c8c8c" stroke-width="0.75"/>
<line x1="630" y1="395.8" x2="632.1" y2="315.3" stroke="#8c8c8c" stroke-width="0.75"/>
<line x1="618.1" y1="391.8" x2="619.6" y2="312.6" stroke="#8c8c8c" stroke-width="0.75"/>
<line x1="606.2" y1="388" x2="607.2" y2="309.9" stroke="#8c8c8c" stroke-width="0.75"/>
<line x1="594.3" y1="384.3" x2="594.8" y2="307.3" stroke="#8c8c8c" stroke-width="0.75"/>
<line x1="582.5" y1="380.7" x2="582.4" y2="304.7" stroke="#8c8c8c" stroke-width="0.75"/>
<line x1="666" y1="408.4" x2="582.5" y2="380.7" stroke="#8c8c8c" stroke-width="0.75"/>
<line x1="666.9" y1="388" x2="582.4" y2="362.1" stroke="#8c8c8c" stroke-width="0.75"/>
<line x1="667.9" y1="367.1" x2="582.4" y2="343.3" stroke="#8c8c8c" stroke-width="0.75"/>
<line x1="668.8" y1="345.9" x2="582.4" y2="324.2" stroke="#8c8c8c" stroke-width="0.75"/>
<line x1="669.8" y1="324.3" x2="582.4" y2="304.7" stroke="#8c8c8c" stroke-width="0.75"/>
<polygon points="582.7,474.1 664.8,435.7 582.5,405.4 500.4,435.7" fill="#ffff00" stroke="#333" stroke-width="0.6"/>
<path transform="scale(.5)" d="M1148 816l4 0 3 0 3 0 3 1 3 0 4 0 3 1 2 0 5 1 2 0 4 1 3 0 3 1 4 1 4 1 1 1 4 1 3 1 4 1 3 1 3 1 1 1 3 1 3 1 3 2 1 1 3 1 2 2 2 0 2 2 1 1 2 1 1 1 2 2 1 1 1 1 1 1 1 2 0 1 1 1 1 1 0 2 0 1 0 1 0 1 0 2 0 1-1 1-1 2-1 1-1 1-2 2-1 1-2 2-1 0-3 2-3 2-3 1-1 1-3 1-4 2-3 1-2 1-4 1-3 1-4 1-2 1-4 1-3 0-4 1-2 1-5 1-2 0-4 1-4 0-2 0-3 1-4 0-4 0-3 1-3 0-3 0-3 0-4 0-3 0-3 0-4 0-3-1-3 0-3 0-3 0-5-1-2 0-3-1-5 0-2-1-4-1-3 0-3-1-3-1-4-1-2 0-4-1-4-2-2 0-4-1-3-2-4-1-3-2-3-1-1-1-2-2-2-1-1-2-1-1 0-1-1-1 0-1 0-2 1-1 0-2 1-1 1-1 0-1 2-2 1-1 1-1 1-2 2-1 1-1 2-1 1-1 2-2 2-1" stroke="#66dd44" stroke-width="1.4" fill="none"/>
<line x1="576.9" y1="309" x2="576.9" y2="370" stroke="#555" stroke-width="0.8"/>
<g transform="scale(.5)" fill="currentColor" stroke="currentColor" stroke-width="0.9" stroke-linejoin="round">
<path color="#000d0a" d="M1165 741l5 3-5 0-6-3z"/>
<path color="#000d07" d="M1159 738l6 3-6 0-5-1z"/>
<path color="#000d08" d="M1170 740l6 3-6 1-5-3z"/>
<path color="#000d04" d="M1154 736l5 2-5 2-6-2z"/>
<path color="#000d05" d="M1165 737l5 3-5 1-6-3z"/>
<path color="#000d07" d="M1176 740l6 3-6 0-6-3z"/>
<path color="#000d02" d="M1148 735l6 1-6 2-5-1z"/>
<path color="#000d02" d="M1159 734l6 3-6 1-5-2z"/>
<path color="#000d03" d="M1170 736l6 4-6 0-5-3z"/>
<path color="#000d05" d="M1182 739l5 5-5-1-6-3z"/>
<path color="#000d00" d="M1143 733l5 2-5 2-6 0z"/>
<path color="#010d00" d="M1154 732l5 2-5 2-6-1z"/>
<path color="#000d00" d="M1165 733l5 3-5 1-6-3z"/>
<path color="#000d01" d="M1176 736l6 3-6 1-6-4z"/>
<path color="#000d04" d="M1187 740l6 4-6 0-5-5z"/>
<path color="#020d00" d="M1137 733l6 0-6 4-6-1z"/>
<path color="#030d00" d="M1148 731l6 1-6 3-5-2z"/>
<path color="#040d00" d="M1159 731l6 2-6 1-5-2z"/>
<path color="#020d00" d="M1171 732l5 4-6 0-5-3z"/>
<path color="#000d00" d="M1182 736l5 4-5-1-6-3z"/>
<path color="#000d04" d="M1193 740l5 5-5-1-6-4z"/>
<path color="#030d00" d="M1131 733l6 0-6 3-5 1z"/>
<path color="#050d00" d="M1143 730l5 1-5 2-6 0z"/>
<path color="#060d00" d="M1154 729l5 2-5 1-6-1z"/>
<path color="#060d00" d="M1165 729l6 3-6 1-6-2z"/>
<path color="#040d00" d="M1176 732l6 4-6 0-5-4z"/>
<path color="#010d00" d="M1187 736l6 4-6 0-5-4z"/>
<path color="#000d03" d="M1198 741l6 5-6-1-5-5z"/>
<path color="#090d00" d="M1148 727l6 2-6 2-5-1z"/>
<path color="#090d00" d="M1159 727l6 2-6 2-5-2z"/>
<path color="#080d00" d="M1171 729l5 3-5 0-6-3z"/>
<path color="#050d00" d="M1182 732l5 4-5 0-6-4z"/>
<path color="#040d00" d="M1126 733l5 0-5 4-6 0z"/>
<path color="#070d00" d="M1137 729l6 1-6 3-6 0z"/>
<path color="#020d00" d="M1193 737l5 4-5-1-6-4z"/>
<path color="#000d03" d="M1204 742l6 5-6-1-6-5z"/>
<path color="#0b0d00" d="M1154 725l5 2-5 2-6-2z"/>
<path color="#0b0d00" d="M1165 726l6 3-6 0-6-2z"/>
<path color="#090d00" d="M1176 728l6 4-6 0-5-3z"/>
<path color="#050d00" d="M1120 734l6-1-6 4-5 2z"/>
<path color="#080d00" d="M1131 729l6 0-6 4-5 0z"/>
<path color="#0a0d00" d="M1142 726l6 1-5 3-6-1z"/>
<path color="#060d00" d="M1187 732l6 5-6-1-5-4z"/>
<path color="#020d00" d="M1199 738l5 4-6-1-5-4z"/>
<path color="#000d03" d="M1210 744l5 5-5-2-6-5z"/>
<path color="#050d00" d="M1114 735l6-1-5 5-6 1z"/>
<path color="#090d00" d="M1126 730l5-1-5 4-6 1z"/>
<path color="#0c0d00" d="M1137 726l5 0-5 3-6 0z"/>
<path color="#0d0c00" d="M1148 724l6 1-6 2-6-1z"/>
<path color="#0d0c00" d="M1159 724l6 2-6 1-5-2z"/>
<path color="#0c0d00" d="M1171 726l5 2-5 1-6-3z"/>
<path color="#0a0d00" d="M1182 729l5 3-5 0-6-4z"/>
<path color="#070d00" d="M1193 733l6 5-6-1-6-5z"/>
<path color="#020d00" d="M1204 739l6 5-6-2-5-4z"/>
<path color="#000d03" d="M1215 746l6 5-6-2-5-5z"/>
<path color="#050d00" d="M1109 737l5-2-5 5-6 2z"/>
<path color="#0a0d00" d="M1120 731l6-1-6 4-6 1z"/>
<path color="#0d0d00" d="M1131 727l6-1-6 3-5 1z"/>
<path color="#0d0b00" d="M1142 724l6 0-6 2-5 0z"/>
<path color="#0d0a00" d="M1154 723l5 1-5 1-6-1z"/>
<path color="#0d0a00" d="M1165 723l6 3-6 0-6-2z"/>
<path color="#0d0c00" d="M1176 726l6 3-6-1-5-2z"/>
<path color="#0b0d00" d="M1187 730l6 3-6-1-5-3z"/>
<path color="#070d00" d="M1199 735l5 4-5-1-6-5z"/>
<path color="#020d00" d="M1210 741l5 5-5-2-6-5z"/>
<path color="#000d03" d="M1221 749l5 5-5-3-6-5z"/>
<path color="#050d00" d="M1103 739l6-2-6 5-5 3z"/>
<path color="#0a0d00" d="M1114 733l6-2-6 4-5 2z"/>
<path color="#0d0c00" d="M1126 728l5-1-5 3-6 1z"/>
<path color="#0d0900" d="M1137 724l5 0-5 2-6 1z"/>
<path color="#0d0800" d="M1148 722l6 1-6 1-6 0z"/>
<path color="#0d0800" d="M1159 722l6 1-6 1-5-1z"/>
<path color="#0d0900" d="M1171 723l5 3-5 0-6-3z"/>
<path color="#0d0b00" d="M1182 727l5 3-5-1-6-3z"/>
<path color="#0b0d00" d="M1193 731l6 4-6-2-6-3z"/>
<path color="#070d00" d="M1204 737l6 4-6-2-5-4z"/>
<path color="#020d00" d="M1215 744l6 5-6-3-5-5z"/>
<path color="#000d04" d="M1226 752l6 5-6-3-5-5z"/>
<path color="#040d00" d="M1098 742l5-3-5 6-6 2z"/>
<path color="#090d00" d="M1109 735l5-2-5 4-6 2z"/>
<path color="#0d0c00" d="M1120 729l6-1-6 3-6 2z"/>
<path color="#0d0900" d="M1131 725l6-1-6 3-5 1z"/>
<path color="#0d0700" d="M1142 722l6 0-6 2-5 0z"/>
<path color="#0d0600" d="M1154 721l5 1-5 1-6-1z"/>
<path color="#0d0600" d="M1165 722l6 1-6 0-6-1z"/>
<path color="#0d0800" d="M1176 724l6 3-6-1-5-3z"/>
<path color="#0d0b00" d="M1187 728l6 3-6-1-5-3z"/>
<path color="#0b0d00" d="M1199 733l5 4-5-2-6-4z"/>
<path color="#060d00" d="M1210 740l5 4-5-3-6-4z"/>
<path color="#010d00" d="M1221 747l5 5-5-3-6-5z"/>
<path color="#000d05" d="M1232 755l5 5-5-3-6-5z"/>
<path color="#030d00" d="M1092 745l6-3-6 5-5 3z"/>
<path color="#090d00" d="M1103 737l6-2-6 4-5 3z"/>
<path color="#0d0c00" d="M1114 731l6-2-6 4-5 2z"/>
<path color="#0d0800" d="M1125 726l6-1-5 3-6 1z"/>
<path color="#0d0600" d="M1137 723l5-1-5 2-6 1z"/>
<path color="#0d0400" d="M1148 721l6 0-6 1-6 0z"/>
<path color="#0d0400" d="M1159 721l6 1-6 0-5-1z"/>
<path color="#0d0500" d="M1171 722l5 2-5-1-6-1z"/>
<path color="#0d0800" d="M1182 725l5 3-5-1-6-3z"/>
<path color="#0d0b00" d="M1193 730l6 3-6-2-6-3z"/>
<path color="#0a0d00" d="M1204 736l6 4-6-3-5-4z"/>
<path color="#050d00" d="M1215 743l6 4-6-3-5-4z"/>
<path color="#000d00" d="M1227 750l5 5-6-3-5-5z"/>
<path color="#000d06" d="M1238 758l5 5-6-3-5-5z"/>
<path color="#020d00" d="M1087 748l5-3-5 5-6 3z"/>
<path color="#080d00" d="M1098 740l5-3-5 5-6 3z"/>
<path color="#0d0c00" d="M1109 734l5-3-5 4-6 2z"/>
<path color="#0d0800" d="M1120 728l5-2-5 3-6 2z"/>
<path color="#0d0500" d="M1131 724l6-1-6 2-6 1z"/>
<path color="#0d0400" d="M1142 722l6-1-6 1-5 1z"/>
<path color="#0d0800" d="M1188 727l5 3-6-2-5-3z"/>
<path color="#0d0b00" d="M1199 733l5 3-5-3-6-3z"/>
<path color="#0a0d00" d="M1210 739l5 4-5-3-6-4z"/>
<path color="#040d00" d="M1221 746l6 4-6-3-6-4z"/>
<path color="#000d01" d="M1232 754l6 4-6-3-5-5z"/>
<path color="#000d07" d="M1243 762l6 5-6-4-5-5z"/>
<path color="#0d0300" d="M1154 721l5 0-5 0-6 0z"/>
<path color="#0d0300" d="M1165 721l6 1-6 0-6-1z"/>
<path color="#0d0500" d="M1176 724l6 1-6-1-5-2z"/>
<path color="#010d00" d="M1081 752l6-4-6 5-5 4z"/>
<path color="#070d00" d="M1092 744l6-4-6 5-5 3z"/>
<path color="#0c0d00" d="M1103 737l6-3-6 3-5 3z"/>
<path color="#0d0900" d="M1114 731l6-3-6 3-5 3z"/>
<path color="#0d0500" d="M1125 726l6-2-6 2-5 2z"/>
<path color="#000000" d="M1137 723l5-1-5 1-6 1z"/>
<path color="#000000" d="M1193 730l6 3-6-3-5-3z"/>
<path color="#0d0c00" d="M1204 736l6 3-6-3-5-3z"/>
<path color="#080d00" d="M1216 743l5 3-6-3-5-4z"/>
<path color="#030d00" d="M1227 750l5 4-5-4-6-4z"/>
<path color="#000d03" d="M1238 758l5 4-5-4-6-4z"/>
<path color="#000d09" d="M1249 766l5 5-5-4-6-5z"/>
<path color="#000000" d="M1148 721l6 0-6 0-6 1z"/>
<path color="#000000" d="M1159 721l6 0-6 0-5 0z"/>
<path color="#000000" d="M1171 723l5 1-5-2-6-1z"/>
<path color="#000000" d="M1182 726l6 1-6-2-6-1z"/>
<path color="#000d00" d="M1075 755l6-3-5 5-6 4z"/>
<path color="#060d00" d="M1086 747l6-3-5 4-6 4z"/>
<path color="#0b0d00" d="M1097 740l6-3-5 3-6 4z"/>
<path color="#000000" d="M1109 734l5-3-5 3-6 3z"/>
<path color="#000000" d="M1120 729l5-3-5 2-6 3z"/>
<path color="#000000" d="M1131 725l6-2-6 1-6 2z"/>
<path color="#000000" d="M1142 723l6-2-6 1-5 1z"/>
<path color="#000000" d="M1154 722l5-1-5 0-6 0z"/>
<path color="#000000" d="M1165 722l6 1-6-2-6 0z"/>
<path color="#000000" d="M1176 725l6 1-6-2-5-1z"/>
<path color="#000000" d="M1188 728l5 2-5-3-6-1z"/>
<path color="#000000" d="M1199 733l5 3-5-3-6-3z"/>
<path color="#000000" d="M1210 739l6 4-6-4-6-3z"/>
<path color="#000000" d="M1221 747l6 3-6-4-5-3z"/>
<path color="#000000" d="M1232 754l6 4-6-4-5-4z"/>
<path color="#000000" d="M1243 762l6 4-6-4-5-4z"/>
<path color="#000d0a" d="M1254 771l6 3-6-3-5-5z"/>
<path color="#000d02" d="M1070 759l5-4-5 6-6 4z"/>
<path color="#050d00" d="M1081 751l5-4-5 5-6 3z"/>
<path color="#000000" d="M1092 744l5-4-5 4-6 3z"/>
<path color="#000000" d="M1103 737l6-3-6 3-6 3z"/>
<path color="#000000" d="M1114 732l6-3-6 2-5 3z"/>
<path color="#000000" d="M1125 728l6-3-6 1-5 3z"/>
<path color="#000000" d="M1137 725l5-2-5 0-6 2z"/>
<path color="#000000" d="M1148 723l6-1-6-1-6 2z"/>
<path color="#000000" d="M1159 723l6-1-6-1-5 1z"/>
<path color="#000000" d="M1171 724l5 1-5-2-6-1z"/>
<path color="#000000" d="M1182 727l6 1-6-2-6-1z"/>
<path color="#000000" d="M1193 732l6 1-6-3-5-2z"/>
<path color="#000000" d="M1204 737l6 2-6-3-5-3z"/>
<path color="#000000" d="M1216 744l5 3-5-4-6-4z"/>
<path color="#000000" d="M1227 751l5 3-5-4-6-3z"/>
<path color="#000000" d="M1238 759l5 3-5-4-6-4z"/>
<path color="#000000" d="M1249 767l5 4-5-5-6-4z"/>
<path color="#000000" d="M1260 775l5 3-5-4-6-3z"/>
<path color="#030d00" d="M1075 755l6-4-6 4-5 4z"/>
<path color="#000000" d="M1086 748l6-4-6 3-5 4z"/>
<path color="#000000" d="M1097 741l6-4-6 3-5 4z"/>
<path color="#000000" d="M1109 735l5-3-5 2-6 3z"/>
<path color="#000000" d="M1120 731l5-3-5 1-6 3z"/>
<path color="#000000" d="M1210 741l6 3-6-5-6-2z"/>
<path color="#000000" d="M1221 748l6 3-6-4-5-3z"/>
<path color="#000000" d="M1232 756l6 3-6-5-5-3z"/>
<path color="#000000" d="M1243 764l6 3-6-5-5-3z"/>
<path color="#000000" d="M1254 772l6 3-6-4-5-4z"/>
<path color="#000d03" d="M1064 764l6-5-6 6-5 4z"/>
<path color="#000000" d="M1131 727l6-2-6 0-6 3z"/>
<path color="#000000" d="M1142 725l6-2-6 0-5 2z"/>
<path color="#000000" d="M1154 724l5-1-5-1-6 1z"/>
<path color="#000000" d="M1165 725l6-1-6-2-6 1z"/>
<path color="#000000" d="M1176 727l6 0-6-2-5-1z"/>
<path color="#000000" d="M1188 730l5 2-5-4-6-1z"/>
<path color="#000000" d="M1199 735l5 2-5-4-6-1z"/>
<path color="#000000" d="M1265 779l6 4-6-5-5-3z"/>
<path color="#000d05" d="M1059 768l5-4-5 5-6 4z"/>
<path color="#000000" d="M1070 760l5-5-5 4-6 5z"/>
<path color="#000000" d="M1081 752l5-4-5 3-6 4z"/>
<path color="#000000" d="M1092 745l5-4-5 3-6 4z"/>
<path color="#000000" d="M1103 739l6-4-6 2-6 4z"/>
<path color="#000000" d="M1114 734l6-3-6 1-5 3z"/>
<path color="#000000" d="M1216 746l5 2-5-4-6-3z"/>
<path color="#000000" d="M1227 753l5 3-5-5-6-3z"/>
<path color="#000000" d="M1238 761l5 3-5-5-6-3z"/>
<path color="#000000" d="M1249 769l5 3-5-5-6-3z"/>
<path color="#000000" d="M1260 776l5 3-5-4-6-3z"/>
<path color="#000000" d="M1271 784l5 3-5-4-6-4z"/>
<path color="#010000" d="M1125 730l6-3-6 1-5 3z"/>
<path color="#120100" d="M1137 728l5-3-5 0-6 2z"/>
<path color="#1e0000" d="M1148 726l6-2-6-1-6 2z"/>
<path color="#210000" d="M1159 726l6-1-6-2-5 1z"/>
<path color="#1b0100" d="M1171 727l5 0-5-3-6 1z"/>
<path color="#0e0300" d="M1182 730l6 0-6-3-6 0z"/>
<path color="#000000" d="M1193 734l6 1-6-3-5-2z"/>
<path color="#000000" d="M1204 740l6 1-6-4-5-2z"/>
<path color="#000d07" d="M1053 773l6-5-6 5-5 4z"/>
<path color="#000000" d="M1064 764l6-4-6 4-5 4z"/>
<path color="#000000" d="M1075 757l6-5-6 3-5 5z"/>
<path color="#000000" d="M1086 750l6-5-6 3-5 4z"/>
<path color="#000000" d="M1097 744l6-5-6 2-5 4z"/>
<path color="#030200" d="M1109 738l5-4-5 1-6 4z"/>
<path color="#1f0900" d="M1120 734l5-4-5 1-6 3z"/>
<path color="#370600" d="M1131 731l6-3-6-1-6 3z"/>
<path color="#460000" d="M1142 729l6-3-6-1-5 3z"/>
<path color="#4d0000" d="M1154 728l5-2-5-2-6 2z"/>
<path color="#4c0000" d="M1165 729l6-2-6-2-6 1z"/>
<path color="#430700" d="M1176 731l6-1-6-3-5 0z"/>
<path color="#330f00" d="M1188 734l5 0-5-4-6 0z"/>
<path color="#1e1100" d="M1199 739l5 1-5-5-6-1z"/>
<path color="#070700" d="M1210 745l6 1-6-5-6-1z"/>
<path color="#000000" d="M1221 751l6 2-6-5-5-2z"/>
<path color="#000000" d="M1232 759l6 2-6-5-5-3z"/>
<path color="#000000" d="M1243 766l6 3-6-5-5-3z"/>
<path color="#000000" d="M1255 774l5 2-6-4-5-3z"/>
<path color="#000000" d="M1266 781l5 3-6-5-5-3z"/>
<path color="#000000" d="M1276 788l6 2-6-3-5-3z"/>
<path color="#000d09" d="M1048 777l5-4-5 4-6 5z"/>
<path color="#000000" d="M1059 769l5-5-5 4-6 5z"/>
<path color="#000000" d="M1070 761l5-4-5 3-6 4z"/>
<path color="#000000" d="M1081 755l5-5-5 2-6 5z"/>
<path color="#000000" d="M1092 748l5-4-5 1-6 5z"/>
<path color="#1d1400" d="M1103 743l6-5-6 1-6 5z"/>
<path color="#3d1a00" d="M1114 738l6-4-6 0-5 4z"/>
<path color="#551200" d="M1125 735l6-4-6-1-5 4z"/>
<path color="#650700" d="M1137 732l5-3-5-1-6 3z"/>
<path color="#6d0000" d="M1148 731l6-3-6-2-6 3z"/>
<path color="#6f0000" d="M1159 731l6-2-6-3-5 2z"/>
<path color="#6b0700" d="M1171 732l5-1-5-4-6 2z"/>
<path color="#611500" d="M1182 735l6-1-6-4-6 1z"/>
<path color="#512400" d="M1193 739l6 0-6-5-5 0z"/>
<path color="#3d2c00" d="M1205 744l5 1-6-5-5-1z"/>
<path color="#232500" d="M1216 750l5 1-5-5-6-1z"/>
<path color="#070d00" d="M1227 757l5 2-5-6-6-2z"/>
<path color="#000000" d="M1238 764l5 2-5-5-6-2z"/>
<path color="#000000" d="M1249 772l6 2-6-5-6-3z"/>
<path color="#000000" d="M1260 779l6 2-6-5-5-2z"/>
<path color="#000000" d="M1271 786l5 2-5-4-5-3z"/>
<path color="#000000" d="M1282 792l5 2-5-4-6-2z"/>
<path color="#372e00" d="M1097 748l6-5-6 1-5 4z"/>
<path color="#0e2800" d="M1232 763l6 1-6-5-5-2z"/>
<path color="#000d0b" d="M1042 782l6-5-6 5-5 4z"/>
<path color="#000000" d="M1053 774l6-5-6 4-5 4z"/>
<path color="#000000" d="M1064 766l6-5-6 3-5 5z"/>
<path color="#000000" d="M1075 760l6-5-6 2-5 4z"/>
<path color="#0d0f00" d="M1086 753l6-5-6 2-5 5z"/>
<path color="#553000" d="M1109 743l5-5-5 0-6 5z"/>
<path color="#6b2400" d="M1120 739l5-4-5-1-6 4z"/>
<path color="#7a1500" d="M1131 736l6-4-6-1-6 4z"/>
<path color="#830800" d="M1142 734l6-3-6-2-5 3z"/>
<path color="#870300" d="M1154 733l5-2-5-3-6 3z"/>
<path color="#860800" d="M1165 734l6-2-6-3-6 2z"/>
<path color="#801600" d="M1176 736l6-1-6-4-5 1z"/>
<path color="#762a00" d="M1188 739l5 0-5-5-6 1z"/>
<path color="#683f00" d="M1199 744l6 0-6-5-6 0z"/>
<path color="#554e00" d="M1210 749l6 1-6-5-5-1z"/>
<path color="#2f4000" d="M1221 756l6 1-6-6-5-1z"/>
<path color="#001001" d="M1244 770l5 2-6-6-5-2z"/>
<path color="#000000" d="M1255 777l5 2-5-5-6-2z"/>
<path color="#000000" d="M1266 784l5 2-5-5-6-2z"/>
<path color="#000000" d="M1277 790l5 2-6-4-5-2z"/>
<path color="#000000" d="M1288 796l5 2-6-4-5-2z"/>
<path color="#000000" d="M1037 787l5-5-5 4-6 5z"/>
<path color="#000000" d="M1048 779l5-5-5 3-6 5z"/>
<path color="#000000" d="M1059 771l5-5-5 3-6 5z"/>
<path color="#000000" d="M1070 765l5-5-5 1-6 5z"/>
<path color="#192600" d="M1081 758l5-5-5 2-6 5z"/>
<path color="#4b4c00" d="M1092 753l5-5-5 0-6 5z"/>
<path color="#084000" d="M1238 769l6 1-6-6-6-1z"/>
<path color="#00290b" d="M1249 776l6 1-6-5-5-2z"/>
<path color="#000f0a" d="M1260 782l6 2-6-5-5-2z"/>
<path color="#000000" d="M1271 789l6 1-6-4-5-2z"/>
<path color="#000000" d="M1282 794l6 2-6-4-5-2z"/>
<path color="#000000" d="M1293 799l6 2-6-3-5-2z"/>
<path color="#684c00" d="M1103 748l6-5-6 0-6 5z"/>
<path color="#7b3c00" d="M1114 744l6-5-6-1-5 5z"/>
<path color="#892900" d="M1125 740l6-4-6-1-5 4z"/>
<path color="#921800" d="M1137 738l5-4-5-2-6 4z"/>
<path color="#970e00" d="M1148 737l6-4-6-2-6 3z"/>
<path color="#980f00" d="M1159 737l6-3-6-3-5 2z"/>
<path color="#961900" d="M1171 738l5-2-5-4-6 2z"/>
<path color="#8f2d00" d="M1182 741l6-2-6-4-6 1z"/>
<path color="#864600" d="M1193 745l6-1-6-5-5 0z"/>
<path color="#786000" d="M1205 750l5-1-5-5-6 0z"/>
<path color="#5b6800" d="M1216 755l5 1-5-6-6-1z"/>
<path color="#2c5500" d="M1227 762l5 1-5-6-6-1z"/>
<path color="#000000" d="M1031 791l6-4-6 4-5 4z"/>
<path color="#000000" d="M1042 783l6-4-6 3-5 5z"/>
<path color="#000000" d="M1053 776l6-5-6 3-5 5z"/>
<path color="#010a00" d="M1064 770l6-5-6 1-5 5z"/>
<path color="#1c3a00" d="M1075 764l6-6-6 2-5 5z"/>
<path color="#4b5d00" d="M1086 758l6-5-6 0-5 5z"/>
<path color="#766b00" d="M1097 753l6-5-6 0-5 5z"/>
<path color="#875900" d="M1109 749l5-5-5-1-6 5z"/>
<path color="#944200" d="M1120 745l5-5-5-1-6 5z"/>
<path color="#9d2e00" d="M1131 742l6-4-6-2-6 4z"/>
<path color="#a22000" d="M1142 741l6-4-6-3-5 4z"/>
<path color="#a41b00" d="M1154 740l5-3-5-4-6 4z"/>
<path color="#a42100" d="M1165 741l6-3-6-4-6 3z"/>
<path color="#a03200" d="M1176 743l6-2-6-5-5 2z"/>
<path color="#9a4b00" d="M1188 746l5-1-5-6-6 2z"/>
<path color="#916900" d="M1199 750l6 0-6-6-6 1z"/>
<path color="#838500" d="M1210 756l6-1-6-6-5 1z"/>
<path color="#4d7700" d="M1221 762l6 0-6-6-5-1z"/>
<path color="#1d6600" d="M1232 768l6 1-6-6-5-1z"/>
<path color="#005408" d="M1244 775l5 1-5-6-6-1z"/>
<path color="#003e1d" d="M1255 781l5 1-5-5-6-1z"/>
<path color="#00241e" d="M1266 788l5 1-5-5-6-2z"/>
<path color="#000506" d="M1277 793l5 1-5-4-6-1z"/>
<path color="#000000" d="M1288 798l5 1-5-3-6-2z"/>
<path color="#000000" d="M1299 803l5 1-5-3-6-2z"/>
<path color="#000000" d="M1026 796l5-5-5 4-6 5z"/>
<path color="#000000" d="M1037 788l5-5-5 4-6 4z"/>
<path color="#000000" d="M1047 781l6-5-5 3-6 4z"/>
<path color="#001d01" d="M1058 775l6-5-5 1-6 5z"/>
<path color="#174c00" d="M1070 769l5-5-5 1-6 5z"/>
<path color="#426b00" d="M1081 764l5-6-5 0-6 6z"/>
<path color="#9c6100" d="M1114 750l6-5-6-1-5 5z"/>
<path color="#a44900" d="M1125 747l6-5-6-2-5 5z"/>
<path color="#aa3700" d="M1137 745l5-4-5-3-6 4z"/>
<path color="#ad2e00" d="M1148 744l6-4-6-3-6 4z"/>
<path color="#ae2f00" d="M1159 744l6-3-6-4-5 3z"/>
<path color="#ac3b00" d="M1171 745l5-2-5-5-6 3z"/>
<path color="#a85000" d="M1182 748l6-2-6-5-6 2z"/>
<path color="#a16e00" d="M1193 752l6-2-6-5-5 1z"/>
<path color="#999000" d="M1205 756l5 0-5-6-6 0z"/>
<path color="#6b8e00" d="M1216 762l5 0-5-7-6 1z"/>
<path color="#00631f" d="M1249 781l6 0-6-5-5-1z"/>
<path color="#004f35" d="M1260 787l6 1-6-6-5-1z"/>
<path color="#003535" d="M1271 793l6 0-6-4-5-1z"/>
<path color="#000d13" d="M1282 798l6 0-6-4-5-1z"/>
<path color="#000000" d="M1293 802l6 1-6-4-5-1z"/>
<path color="#000000" d="M1304 806l6 1-6-3-5-1z"/>
<path color="#758100" d="M1092 759l5-6-5 0-6 5z"/>
<path color="#917900" d="M1103 754l6-5-6-1-6 5z"/>
<path color="#358200" d="M1227 768l5 0-5-6-6 0z"/>
<path color="#067400" d="M1238 774l6 1-6-6-6-1z"/>
<path color="#000000" d="M1020 800l6-4-6 4-5 4z"/>
<path color="#000000" d="M1031 793l6-5-6 3-5 5z"/>
<path color="#000000" d="M1042 787l5-6-5 2-5 5z"/>
<path color="#00300b" d="M1053 780l5-5-5 1-6 5z"/>
<path color="#0a5b00" d="M1064 775l6-6-6 1-6 5z"/>
<path color="#327700" d="M1075 769l6-5-6 0-5 5z"/>
<path color="#628a00" d="M1086 764l6-5-6-1-5 6z"/>
<path color="#939800" d="M1097 760l6-6-6-1-5 6z"/>
<path color="#a28300" d="M1109 756l5-6-5-1-6 5z"/>
<path color="#aa6900" d="M1120 752l5-5-5-2-6 5z"/>
<path color="#af5400" d="M1131 750l6-5-6-3-6 5z"/>
<path color="#b34600" d="M1142 748l6-4-6-3-5 4z"/>
<path color="#b44200" d="M1154 748l5-4-5-4-6 4z"/>
<path color="#b44900" d="M1165 749l6-4-6-4-6 3z"/>
<path color="#b25a00" d="M1176 751l6-3-6-5-5 2z"/>
<path color="#ad7500" d="M1188 754l5-2-5-6-6 2z"/>
<path color="#a79700" d="M1199 758l6-2-6-6-6 2z"/>
<path color="#839f00" d="M1210 763l6-1-6-6-5 0z"/>
<path color="#4c9600" d="M1221 768l6 0-6-6-5 0z"/>
<path color="#178b00" d="M1232 775l6-1-6-6-5 0z"/>
<path color="#007e17" d="M1244 781l5 0-5-6-6-1z"/>
<path color="#006f3b" d="M1255 787l5 0-5-6-6 0z"/>
<path color="#005c4f" d="M1266 793l5 0-5-5-6-1z"/>
<path color="#003842" d="M1277 798l5 0-5-5-6 0z"/>
<path color="#00111c" d="M1288 802l5 0-5-4-6 0z"/>
<path color="#000000" d="M1299 805l5 1-5-3-6-1z"/>
<path color="#000000" d="M1310 808l5 1-5-2-6-1z"/>
<path color="#000000" d="M1015 805l5-5-5 4-6 4z"/>
<path color="#000000" d="M1026 798l5-5-5 3-6 4z"/>
<path color="#000806" d="M1036 792l6-5-5 1-6 5z"/>
<path color="#00421b" d="M1047 786l6-6-6 1-5 6z"/>
<path color="#006809" d="M1058 780l6-5-6 0-5 5z"/>
<path color="#1d8100" d="M1070 775l5-6-5 0-6 6z"/>
<path color="#007859" d="M1260 793l6 0-6-6-5 0z"/>
<path color="#006266" d="M1271 798l6 0-6-5-5 0z"/>
<path color="#00354a" d="M1282 802l6 0-6-4-5 0z"/>
<path color="#001021" d="M1293 806l6-1-6-3-5 0z"/>
<path color="#000000" d="M1304 808l6 0-6-2-5-1z"/>
<path color="#000000" d="M1315 810l6 1-6-2-5-1z"/>
<path color="#4a9200" d="M1081 770l5-6-5 0-6 5z"/>
<path color="#799e00" d="M1092 765l5-5-5-1-6 5z"/>
<path color="#a6a700" d="M1103 761l6-5-6-2-6 6z"/>
<path color="#ae8d00" d="M1114 758l6-6-6-2-5 6z"/>
<path color="#b37500" d="M1126 755l5-5-6-3-5 5z"/>
<path color="#b76400" d="M1137 753l5-5-5-3-6 5z"/>
<path color="#b95c00" d="M1148 752l6-4-6-4-6 4z"/>
<path color="#ba5d00" d="M1159 753l6-4-6-5-5 4z"/>
<path color="#b86900" d="M1171 754l5-3-5-6-6 4z"/>
<path color="#b58000" d="M1182 756l6-2-6-6-6 3z"/>
<path color="#b19f00" d="M1193 760l6-2-6-6-5 2z"/>
<path color="#93ab00" d="M1205 764l5-1-5-7-6 2z"/>
<path color="#5ea400" d="M1216 769l5-1-5-6-6 1z"/>
<path color="#279b00" d="M1227 775l5 0-5-7-6 0z"/>
<path color="#00910c" d="M1238 781l6 0-6-7-6 1z"/>
<path color="#008638" d="M1249 787l6 0-6-6-5 0z"/>
<path color="#000000" d="M1009 809l6-4-6 3-5 4z"/>
<path color="#000000" d="M1020 803l6-5-6 2-5 5z"/>
<path color="#001e1b" d="M1031 797l5-5-5 1-5 5z"/>
<path color="#005431" d="M1042 791l5-5-5 1-6 5z"/>
<path color="#007520" d="M1053 786l5-6-5 0-6 6z"/>
<path color="#038a00" d="M1064 781l6-6-6 0-6 5z"/>
<path color="#2d9800" d="M1075 776l6-6-6-1-5 6z"/>
<path color="#5aa300" d="M1086 771l6-6-6-1-5 6z"/>
<path color="#86ab00" d="M1097 767l6-6-6-1-5 5z"/>
<path color="#afb100" d="M1109 764l5-6-5-2-6 5z"/>
<path color="#b69a00" d="M1120 761l6-6-6-3-6 6z"/>
<path color="#ba8600" d="M1131 759l6-6-6-3-5 5z"/>
<path color="#bc7a00" d="M1142 757l6-5-6-4-5 5z"/>
<path color="#bd7600" d="M1154 757l5-4-5-5-6 4z"/>
<path color="#bd7e00" d="M1165 758l6-4-6-5-6 4z"/>
<path color="#bb8f00" d="M1176 759l6-3-6-5-5 3z"/>
<path color="#b8aa00" d="M1188 762l5-2-5-6-6 2z"/>
<path color="#9cb400" d="M1199 766l6-2-6-6-6 2z"/>
<path color="#6aae00" d="M1210 771l6-2-6-6-5 1z"/>
<path color="#34a700" d="M1221 776l6-1-6-7-5 1z"/>
<path color="#00a001" d="M1232 782l6-1-6-6-5 0z"/>
<path color="#009731" d="M1244 788l5-1-5-6-6 0z"/>
<path color="#008c5a" d="M1255 793l5 0-5-6-6 0z"/>
<path color="#007f76" d="M1266 798l5 0-5-5-6 0z"/>
<path color="#00576c" d="M1277 803l5-1-5-4-6 0z"/>
<path color="#002f4e" d="M1288 806l5 0-5-4-6 0z"/>
<path color="#000d1f" d="M1299 809l5-1-5-3-6 1z"/>
<path color="#000000" d="M1310 810l5 0-5-2-6 0z"/>
<path color="#000000" d="M1321 812l6 0-6-1-6-1z"/>
<path color="#000000" d="M1004 813l5-4-5 3-6 3z"/>
<path color="#000000" d="M1015 808l5-5-5 2-6 4z"/>
<path color="#003338" d="M1025 802l6-5-5 1-6 5z"/>
<path color="#00664e" d="M1036 797l6-6-6 1-5 5z"/>
<path color="#00803c" d="M1047 792l6-6-6 0-5 5z"/>
<path color="#00921b" d="M1059 787l5-6-6-1-5 6z"/>
<path color="#bf9c00" d="M1137 762l5-5-5-4-6 6z"/>
<path color="#c09400" d="M1148 762l6-5-6-5-6 5z"/>
<path color="#c19700" d="M1159 762l6-4-6-5-5 4z"/>
<path color="#c0a300" d="M1171 763l5-4-5-5-6 4z"/>
<path color="#bdb900" d="M1182 766l6-4-6-6-6 3z"/>
<path color="#9dba00" d="M1193 769l6-3-6-6-5 2z"/>
<path color="#007583" d="M1271 803l6 0-6-5-5 0z"/>
<path color="#004b6e" d="M1282 807l6-1-6-4-5 1z"/>
<path color="#00274d" d="M1293 810l6-1-6-3-5 0z"/>
<path color="#000917" d="M1305 811l5-1-6-2-5 1z"/>
<path color="#000000" d="M1316 812l5 0-6-2-5 0z"/>
<path color="#000000" d="M1327 813l5 0-5-1-6 0z"/>
<path color="#0d9e00" d="M1070 782l5-6-5-1-6 6z"/>
<path color="#38a700" d="M1081 777l5-6-5-1-6 6z"/>
<path color="#63ae00" d="M1092 773l5-6-5-2-6 6z"/>
<path color="#8bb400" d="M1103 770l6-6-6-3-6 6z"/>
<path color="#b0b900" d="M1114 767l6-6-6-3-5 6z"/>
<path color="#bcab00" d="M1126 764l5-5-5-4-6 6z"/>
<path color="#6fb600" d="M1205 773l5-2-5-7-6 2z"/>
<path color="#3db000" d="M1216 778l5-2-5-7-6 2z"/>
<path color="#08aa00" d="M1227 783l5-1-5-7-6 1z"/>
<path color="#00a32a" d="M1238 789l6-1-6-7-6 1z"/>
<path color="#009a57" d="M1249 794l6-1-6-6-5 1z"/>
<path color="#00907b" d="M1260 799l6-1-6-5-5 0z"/>
<path color="#000a16" d="M1009 813l6-5-6 1-5 4z"/>
<path color="#004055" d="M1020 808l5-6-5 1-5 5z"/>
<path color="#007873" d="M1031 803l5-6-5 0-6 5z"/>
<path color="#008c5e" d="M1042 798l5-6-5-1-6 6z"/>
<path color="#00993c" d="M1053 793l6-6-6-1-6 6z"/>
<path color="#14ab00" d="M1075 784l6-7-6-1-5 6z"/>
<path color="#3db100" d="M1086 780l6-7-6-2-5 6z"/>
<path color="#65b600" d="M1098 776l5-6-6-3-5 6z"/>
<path color="#89ba00" d="M1109 773l5-6-5-3-6 6z"/>
<path color="#a8be00" d="M1120 770l6-6-6-3-6 6z"/>
<path color="#c0c000" d="M1131 768l6-6-6-3-5 5z"/>
<path color="#c2b600" d="M1143 767l5-5-6-5-5 5z"/>
<path color="#c3b400" d="M1154 767l5-5-5-5-6 5z"/>
<path color="#c3bc00" d="M1165 767l6-4-6-5-6 4z"/>
<path color="#b6c100" d="M1176 769l6-3-6-7-5 4z"/>
<path color="#97bf00" d="M1188 772l5-3-5-7-6 4z"/>
<path color="#6fbb00" d="M1199 776l6-3-6-7-6 3z"/>
<path color="#40b700" d="M1210 780l6-2-6-7-5 2z"/>
<path color="#0eb200" d="M1221 785l6-2-6-7-5 2z"/>
<path color="#00ac25" d="M1232 790l6-1-6-7-5 1z"/>
<path color="#00a554" d="M1244 795l5-1-5-6-6 1z"/>
<path color="#009d7c" d="M1255 800l5-1-5-6-6 1z"/>
<path color="#006284" d="M1277 808l5-1-5-4-6 0z"/>
<path color="#003f6d" d="M1288 811l5-1-5-4-6 1z"/>
<path color="#002045" d="M1299 812l6-1-6-2-6 1z"/>
<path color="#000309" d="M1310 813l6-1-6-2-5 1z"/>
<path color="#000000" d="M1321 813l6 0-6-1-5 0z"/>
<path color="#00a315" d="M1064 788l6-6-6-1-5 6z"/>
<path color="#008d93" d="M1266 805l5-2-5-5-6 1z"/>
<path color="#004373" d="M1015 813l5-5-5 0-6 5z"/>
<path color="#00768a" d="M1025 808l6-5-6-1-5 6z"/>
<path color="#009884" d="M1036 804l6-6-6-1-5 6z"/>
<path color="#00a162" d="M1048 799l5-6-6-1-5 6z"/>
<path color="#b4c400" d="M1148 772l6-5-6-5-5 5z"/>
<path color="#b1c500" d="M1159 772l6-5-6-5-5 5z"/>
<path color="#a3c400" d="M1171 773l5-4-5-6-6 4z"/>
<path color="#8bc200" d="M1182 775l6-3-6-6-6 3z"/>
<path color="#005183" d="M1282 812l6-1-6-4-5 1z"/>
<path color="#003467" d="M1294 814l5-2-6-2-5 1z"/>
<path color="#001836" d="M1305 815l5-2-5-2-6 1z"/>
<path color="#000000" d="M1316 815l5-2-5-1-6 1z"/>
<path color="#00a83b" d="M1059 794l5-6-5-1-6 6z"/>
<path color="#00ae13" d="M1070 790l5-6-5-2-6 6z"/>
<path color="#15b300" d="M1081 786l5-6-5-3-6 7z"/>
<path color="#3cb800" d="M1092 782l6-6-6-3-6 7z"/>
<path color="#61bc00" d="M1103 779l6-6-6-3-5 6z"/>
<path color="#80bf00" d="M1114 776l6-6-6-3-5 6z"/>
<path color="#9ac100" d="M1126 774l5-6-5-4-6 6z"/>
<path color="#acc300" d="M1137 772l6-5-6-5-6 6z"/>
<path color="#68bf00" d="M1193 779l6-3-6-7-5 3z"/>
<path color="#3ebc00" d="M1205 782l5-2-5-7-6 3z"/>
<path color="#0fb800" d="M1216 787l5-2-5-7-6 2z"/>
<path color="#00b322" d="M1227 792l5-2-5-7-6 2z"/>
<path color="#00ad51" d="M1238 797l6-2-6-6-6 1z"/>
<path color="#00a67b" d="M1249 802l6-2-6-6-5 1z"/>
<path color="#009e9d" d="M1260 806l6-1-6-6-5 1z"/>
<path color="#007493" d="M1271 810l6-2-6-5-5 2z"/>
<path color="#00679b" d="M1020 814l5-6-5 0-5 5z"/>
<path color="#0096a3" d="M1031 810l5-6-5-1-6 5z"/>
<path color="#00a98b" d="M1042 805l6-6-6-1-6 6z"/>
<path color="#12b900" d="M1086 788l6-6-6-2-5 6z"/>
<path color="#36bd00" d="M1098 785l5-6-5-3-6 6z"/>
<path color="#57c000" d="M1109 782l5-6-5-3-6 6z"/>
<path color="#72c200" d="M1120 780l6-6-6-4-6 6z"/>
<path color="#86c400" d="M1131 778l6-6-6-4-5 6z"/>
<path color="#92c500" d="M1143 777l5-5-5-5-6 5z"/>
<path color="#94c600" d="M1154 777l5-5-5-5-6 5z"/>
<path color="#8cc600" d="M1165 778l6-5-6-6-6 5z"/>
<path color="#79c500" d="M1176 779l6-4-6-6-5 4z"/>
<path color="#5cc300" d="M1188 782l5-3-5-7-6 3z"/>
<path color="#37c000" d="M1199 785l6-3-6-6-6 3z"/>
<path color="#0cbc00" d="M1210 789l6-2-6-7-5 2z"/>
<path color="#00b822" d="M1221 794l6-2-6-7-5 2z"/>
<path color="#00b350" d="M1232 799l6-2-6-7-5 2z"/>
<path color="#00ad7b" d="M1244 803l5-1-5-7-6 2z"/>
<path color="#00427d" d="M1288 816l6-2-6-3-6 1z"/>
<path color="#002a5a" d="M1299 817l6-2-6-3-5 2z"/>
<path color="#000d1d" d="M1310 816l6-1-6-2-5 2z"/>
<path color="#00ad64" d="M1053 801l6-7-6-1-5 6z"/>
<path color="#00b23c" d="M1064 796l6-6-6-2-5 6z"/>
<path color="#00b614" d="M1075 792l6-6-6-2-5 6z"/>
<path color="#00a6a0" d="M1255 808l5-2-5-6-6 2z"/>
<path color="#00829e" d="M1266 811l5-1-5-5-6 1z"/>
<path color="#005f91" d="M1277 814l5-2-5-4-6 2z"/>
<path color="#0079ae" d="M1026 816l5-6-6-2-5 6z"/>
<path color="#00a7b1" d="M1037 812l5-7-6-1-5 6z"/>
<path color="#70c700" d="M1159 782l6-4-6-6-5 5z"/>
<path color="#63c600" d="M1171 784l5-5-5-6-6 5z"/>
<path color="#003672" d="M1294 819l5-2-5-3-6 2z"/>
<path color="#001f43" d="M1305 819l5-3-5-1-6 2z"/>
<path color="#00b390" d="M1048 807l5-6-5-2-6 6z"/>
<path color="#00b567" d="M1059 803l5-7-5-2-6 7z"/>
<path color="#00b83f" d="M1070 799l5-7-5-2-6 6z"/>
<path color="#00bb19" d="M1081 795l5-7-5-2-6 6z"/>
<path color="#0bbd00" d="M1092 791l6-6-6-3-6 6z"/>
<path color="#2cc000" d="M1103 788l6-6-6-3-5 6z"/>
<path color="#48c200" d="M1114 786l6-6-6-4-5 6z"/>
<path color="#5ec400" d="M1126 784l5-6-5-4-6 6z"/>
<path color="#6dc600" d="M1137 783l6-6-6-5-6 6z"/>
<path color="#74c700" d="M1148 782l6-5-6-5-5 5z"/>
<path color="#4cc500" d="M1182 786l6-4-6-7-6 4z"/>
<path color="#2cc200" d="M1193 789l6-4-6-6-5 3z"/>
<path color="#05bf00" d="M1204 792l6-3-5-7-6 3z"/>
<path color="#00bc25" d="M1216 796l5-2-5-7-6 2z"/>
<path color="#00b752" d="M1227 801l5-2-5-7-6 2z"/>
<path color="#00b27c" d="M1238 805l6-2-6-6-6 2z"/>
<path color="#00ada2" d="M1249 809l6-1-6-6-5 1z"/>
<path color="#008ca5" d="M1260 813l6-2-6-5-5 2z"/>
<path color="#00689b" d="M1271 816l6-2-6-4-5 1z"/>
<path color="#004c8c" d="M1282 818l6-2-6-4-5 2z"/>
<path color="#0082b8" d="M1031 819l6-7-6-2-5 6z"/>
<path color="#00c000" d="M1098 795l5-7-5-3-6 6z"/>
<path color="#1dc300" d="M1109 792l5-6-5-4-6 6z"/>
<path color="#35c400" d="M1120 790l6-6-6-4-6 6z"/>
<path color="#46c600" d="M1131 788l6-5-6-5-5 6z"/>
<path color="#50c700" d="M1143 787l5-5-5-5-6 6z"/>
<path color="#51c700" d="M1154 787l5-5-5-5-6 5z"/>
<path color="#49c700" d="M1165 788l6-4-6-6-6 4z"/>
<path color="#37c600" d="M1176 790l6-4-6-7-5 5z"/>
<path color="#1cc400" d="M1188 792l5-3-5-7-6 4z"/>
<path color="#00c205" d="M1199 795l5-3-5-7-6 4z"/>
<path color="#00bf2c" d="M1210 799l6-3-6-7-6 3z"/>
<path color="#00bb56" d="M1221 803l6-2-6-7-5 2z"/>
<path color="#00b67f" d="M1232 807l6-2-6-6-5 2z"/>
<path color="#002c5e" d="M1299 821l6-2-6-2-5 2z"/>
<path color="#00afb8" d="M1042 814l6-7-6-2-5 7z"/>
<path color="#00b996" d="M1053 810l6-7-6-2-5 6z"/>
<path color="#00ba6d" d="M1064 806l6-7-6-3-5 7z"/>
<path color="#00bc46" d="M1075 802l6-7-6-3-5 7z"/>
<path color="#00be22" d="M1087 798l5-7-6-3-5 7z"/>
<path color="#00b1a4" d="M1244 812l5-3-5-6-6 2z"/>
<path color="#0093ab" d="M1255 815l5-2-5-5-6 1z"/>
<path color="#006fa2" d="M1266 818l5-2-5-5-6 2z"/>
<path color="#005396" d="M1277 820l5-2-5-4-6 2z"/>
<path color="#003e82" d="M1288 821l6-2-6-3-6 2z"/>
<path color="#0082be" d="M1037 822l5-8-5-2-6 7z"/>
<path color="#00b0bd" d="M1048 817l5-7-5-3-6 7z"/>
<path color="#00bd9e" d="M1059 813l5-7-5-3-6 7z"/>
<path color="#00be75" d="M1070 808l5-6-5-3-6 7z"/>
<path color="#00bf4f" d="M1081 805l6-7-6-3-6 7z"/>
<path color="#00c12d" d="M1092 801l6-6-6-4-5 7z"/>
<path color="#00c20f" d="M1103 798l6-6-6-4-5 7z"/>
<path color="#0ac400" d="M1115 796l5-6-6-4-5 6z"/>
<path color="#1ec600" d="M1126 794l5-6-5-4-6 6z"/>
<path color="#2bc700" d="M1137 793l6-6-6-4-6 5z"/>
<path color="#30c800" d="M1148 793l6-6-6-5-5 5z"/>
<path color="#2cc800" d="M1160 793l5-5-6-6-5 5z"/>
<path color="#1fc700" d="M1171 794l5-4-5-6-6 4z"/>
<path color="#09c600" d="M1182 796l6-4-6-6-6 4z"/>
<path color="#00c413" d="M1193 799l6-4-6-6-5 3z"/>
<path color="#00c136" d="M1204 802l6-3-6-7-5 3z"/>
<path color="#00bd5c" d="M1216 806l5-3-5-7-6 3z"/>
<path color="#00b983" d="M1227 810l5-3-5-6-6 2z"/>
<path color="#00b4a8" d="M1238 814l6-2-6-7-6 2z"/>
<path color="#0097af" d="M1249 817l6-2-6-6-5 3z"/>
<path color="#0073a7" d="M1260 820l6-2-6-5-5 2z"/>
<path color="#00569d" d="M1271 823l6-3-6-4-5 2z"/>
<path color="#00428c" d="M1282 824l6-3-6-3-5 2z"/>
<path color="#003370" d="M1294 824l5-3-5-2-6 2z"/>
<path color="#00c421" d="M1109 802l6-6-6-4-6 6z"/>
<path color="#00c50b" d="M1120 800l6-6-6-4-5 6z"/>
<path color="#04c700" d="M1131 799l6-6-6-5-5 6z"/>
<path color="#0cc700" d="M1143 798l5-5-5-6-6 6z"/>
<path color="#0cc800" d="M1154 798l6-5-6-6-6 6z"/>
<path color="#00c60c" d="M1176 800l6-4-6-6-5 4z"/>
<path color="#00c524" d="M1188 803l5-4-5-7-6 4z"/>
<path color="#00c243" d="M1199 806l5-4-5-7-6 4z"/>
<path color="#00bf65" d="M1210 809l6-3-6-7-6 3z"/>
<path color="#00bb89" d="M1221 813l6-3-6-7-5 3z"/>
<path color="#007fc1" d="M1042 825l6-8-6-3-5 8z"/>
<path color="#00adc0" d="M1053 820l6-7-6-3-5 7z"/>
<path color="#00c0a7" d="M1064 815l6-7-6-2-5 7z"/>
<path color="#00c07f" d="M1075 811l6-6-6-3-5 6z"/>
<path color="#00c15b" d="M1087 808l5-7-5-3-6 7z"/>
<path color="#00c23b" d="M1098 805l5-7-5-3-6 6z"/>
<path color="#04c700" d="M1165 799l6-5-6-6-5 5z"/>
<path color="#00b7ac" d="M1232 816l6-2-6-7-5 3z"/>
<path color="#0099b2" d="M1244 820l5-3-5-5-6 2z"/>
<path color="#0075ab" d="M1255 823l5-3-5-5-6 2z"/>
<path color="#0058a2" d="M1266 825l5-2-5-5-6 2z"/>
<path color="#004493" d="M1277 826l5-2-5-4-6 3z"/>
<path color="#00367c" d="M1288 826l6-2-6-3-6 3z"/>
<path color="#0078c3" d="M1048 828l5-8-5-3-6 8z"/>
<path color="#00a7c2" d="M1059 823l5-8-5-2-6 7z"/>
<path color="#00c1b0" d="M1070 818l5-7-5-3-6 7z"/>
<path color="#00c18a" d="M1081 815l6-7-6-3-6 6z"/>
<path color="#00c268" d="M1092 811l6-6-6-4-5 7z"/>
<path color="#00c34c" d="M1103 808l6-6-6-4-5 7z"/>
<path color="#00c535" d="M1115 806l5-6-5-4-6 6z"/>
<path color="#00c623" d="M1126 805l5-6-5-5-6 6z"/>
<path color="#00c718" d="M1137 804l6-6-6-5-6 6z"/>
<path color="#00c714" d="M1148 803l6-5-6-5-5 5z"/>
<path color="#00c719" d="M1160 804l5-5-5-6-6 5z"/>
<path color="#00c725" d="M1171 805l5-5-5-6-6 5z"/>
<path color="#00c538" d="M1182 807l6-4-6-7-6 4z"/>
<path color="#00c352" d="M1193 809l6-3-6-7-5 4z"/>
<path color="#00c070" d="M1204 812l6-3-6-7-5 4z"/>
<path color="#00bd91" d="M1216 815l5-2-5-7-6 3z"/>
<path color="#00b9b1" d="M1227 819l5-3-5-6-6 3z"/>
<path color="#0099b4" d="M1238 822l6-2-6-6-6 2z"/>
<path color="#0075ad" d="M1249 825l6-2-6-6-5 3z"/>
<path color="#0059a5" d="M1260 827l6-2-6-5-5 3z"/>
<path color="#004498" d="M1271 829l6-3-6-3-5 2z"/>
<path color="#003683" d="M1283 829l5-3-6-2-5 2z"/>
<path color="#00c54a" d="M1120 810l6-5-6-5-5 6z"/>
<path color="#00c63d" d="M1131 809l6-5-6-5-5 6z"/>
<path color="#00c736" d="M1143 808l5-5-5-5-6 6z"/>
<path color="#00c463" d="M1188 813l5-4-5-6-6 4z"/>
<path color="#00c17d" d="M1199 815l5-3-5-6-6 3z"/>
<path color="#00be9a" d="M1210 818l6-3-6-6-6 3z"/>
<path color="#0070c4" d="M1053 831l6-8-6-3-5 8z"/>
<path color="#009fc2" d="M1065 826l5-8-6-3-5 8z"/>
<path color="#00c2bb" d="M1076 822l5-7-6-4-5 7z"/>
<path color="#00c296" d="M1087 818l5-7-5-3-6 7z"/>
<path color="#00c377" d="M1098 815l5-7-5-3-6 6z"/>
<path color="#00c45e" d="M1109 812l6-6-6-4-6 6z"/>
<path color="#00c736" d="M1154 809l6-5-6-6-6 5z"/>
<path color="#00c73e" d="M1165 809l6-4-6-6-5 5z"/>
<path color="#00c64d" d="M1176 811l6-4-6-7-5 5z"/>
<path color="#00bab8" d="M1221 821l6-2-6-6-5 2z"/>
<path color="#0097b5" d="M1232 825l6-3-6-6-5 3z"/>
<path color="#0075af" d="M1244 827l5-2-5-5-6 2z"/>
<path color="#0058a6" d="M1255 830l5-3-5-4-6 2z"/>
<path color="#00439a" d="M1266 831l5-2-5-4-6 2z"/>
<path color="#003588" d="M1277 832l6-3-6-3-6 3z"/>
<path color="#0068c4" d="M1059 834l6-8-6-3-6 8z"/>
<path color="#0096c2" d="M1070 829l6-7-6-4-5 8z"/>
<path color="#00bfc2" d="M1081 825l6-7-6-3-5 7z"/>
<path color="#00c2a3" d="M1092 821l6-6-6-4-5 7z"/>
<path color="#00c387" d="M1103 818l6-6-6-4-5 7z"/>
<path color="#00c471" d="M1115 816l5-6-5-4-6 6z"/>
<path color="#00c561" d="M1126 815l5-6-5-4-6 5z"/>
<path color="#00c658" d="M1137 814l6-6-6-4-6 5z"/>
<path color="#00c655" d="M1148 814l6-5-6-6-5 5z"/>
<path color="#00c659" d="M1160 814l5-5-5-5-6 5z"/>
<path color="#00c564" d="M1171 815l5-4-5-6-6 4z"/>
<path color="#00c475" d="M1182 817l6-4-6-6-6 4z"/>
<path color="#00c28b" d="M1193 819l6-4-6-6-5 4z"/>
<path color="#00bfa4" d="M1204 821l6-3-6-6-5 3z"/>
<path color="#00b6bb" d="M1216 824l5-3-5-6-6 3z"/>
<path color="#0093b6" d="M1227 827l5-2-5-6-6 2z"/>
<path color="#0073b0" d="M1238 830l6-3-6-5-6 3z"/>
<path color="#0057a7" d="M1249 832l6-2-6-5-5 2z"/>
<path color="#00419c" d="M1260 834l6-3-6-4-5 3z"/>
<path color="#00338a" d="M1271 834l6-2-6-3-5 2z"/>
<path color="#00c579" d="M1132 819l5-5-6-5-5 6z"/>
<path color="#00bfb0" d="M1199 825l5-4-5-6-6 4z"/>
<path color="#0060c3" d="M1065 837l5-8-5-3-6 8z"/>
<path color="#008dc2" d="M1076 832l5-7-5-3-6 7z"/>
<path color="#00b4c2" d="M1087 828l5-7-5-3-6 7z"/>
<path color="#00c2b0" d="M1098 825l5-7-5-3-6 6z"/>
<path color="#00c398" d="M1109 822l6-6-6-4-6 6z"/>
<path color="#00c485" d="M1120 820l6-5-6-5-5 6z"/>
<path color="#00c574" d="M1143 819l5-5-5-6-6 6z"/>
<path color="#00c574" d="M1154 819l6-5-6-5-6 5z"/>
<path color="#00c57b" d="M1165 819l6-4-6-6-5 5z"/>
<path color="#00c388" d="M1176 821l6-4-6-6-5 4z"/>
<path color="#00c19a" d="M1188 822l5-3-5-6-6 4z"/>
<path color="#00afbb" d="M1210 827l6-3-6-6-6 3z"/>
<path color="#008fb6" d="M1221 830l6-3-6-6-5 3z"/>
<path color="#0070b0" d="M1232 832l6-2-6-5-5 2z"/>
<path color="#0055a7" d="M1244 835l5-3-5-5-6 3z"/>
<path color="#00409c" d="M1255 836l5-2-5-4-6 2z"/>
<path color="#00318a" d="M1266 837l5-3-5-3-6 3z"/>
<path color="#0059c2" d="M1070 839l6-7-6-3-5 8z"/>
<path color="#0084c1" d="M1081 835l6-7-6-3-5 7z"/>
<path color="#00a8c1" d="M1092 831l6-6-6-4-5 7z"/>
<path color="#00c1be" d="M1104 828l5-6-6-4-5 7z"/>
<path color="#00c2a9" d="M1115 826l5-6-5-4-6 6z"/>
<path color="#00c39a" d="M1126 825l6-6-6-4-6 5z"/>
<path color="#00c492" d="M1137 824l6-5-6-5-5 5z"/>
<path color="#00c48f" d="M1148 823l6-4-6-5-5 5z"/>
<path color="#00c493" d="M1160 824l5-5-5-5-6 5z"/>
<path color="#00c39c" d="M1171 825l5-4-5-6-6 4z"/>
<path color="#00c1aa" d="M1182 826l6-4-6-5-6 4z"/>
<path color="#00bebc" d="M1193 828l6-3-6-6-5 3z"/>
<path color="#00a6bb" d="M1204 830l6-3-6-6-5 4z"/>
<path color="#0089b6" d="M1216 833l5-3-5-6-6 3z"/>
<path color="#006db0" d="M1227 835l5-3-5-5-6 3z"/>
<path color="#0053a7" d="M1238 837l6-2-6-5-6 2z"/>
<path color="#003e9b" d="M1249 838l6-2-6-4-5 3z"/>
<path color="#002f88" d="M1260 839l6-2-6-3-5 2z"/>
<path color="#0052c1" d="M1076 842l5-7-5-3-6 7z"/>
<path color="#007bc0" d="M1087 838l5-7-5-3-6 7z"/>
<path color="#009cc0" d="M1098 834l6-6-6-3-6 6z"/>
<path color="#00b6c1" d="M1109 832l6-6-6-4-5 6z"/>
<path color="#00c1ba" d="M1120 830l6-5-6-5-5 6z"/>
<path color="#00c2af" d="M1132 829l5-5-5-5-6 6z"/>
<path color="#00c2aa" d="M1143 828l5-5-5-4-6 5z"/>
<path color="#00c2aa" d="M1154 828l6-4-6-5-6 4z"/>
<path color="#00c2b0" d="M1165 829l6-4-6-6-5 5z"/>
<path color="#00c0bb" d="M1176 830l6-4-6-5-5 4z"/>
<path color="#00b3be" d="M1188 832l5-4-5-6-6 4z"/>
<path color="#009cba" d="M1199 833l5-3-5-5-6 3z"/>
<path color="#0082b6" d="M1210 836l6-3-6-6-6 3z"/>
<path color="#0069af" d="M1221 838l6-3-6-5-5 3z"/>
<path color="#0051a6" d="M1232 839l6-2-6-5-5 3z"/>
<path color="#003d99" d="M1244 841l5-3-5-3-6 2z"/>
<path color="#002d86" d="M1255 841l5-2-5-3-6 2z"/>
<path color="#004cbf" d="M1081 845l6-7-6-3-5 7z"/>
<path color="#0072be" d="M1092 841l6-7-6-3-5 7z"/>
<path color="#0090bf" d="M1104 838l5-6-5-4-6 6z"/>
<path color="#00a6bf" d="M1115 835l5-5-5-4-6 6z"/>
<path color="#00b5c0" d="M1126 834l6-5-6-4-6 5z"/>
<path color="#00bec1" d="M1137 833l6-5-6-4-5 5z"/>
<path color="#00c0c1" d="M1148 833l6-5-6-5-5 5z"/>
<path color="#00bdc0" d="M1160 833l5-4-5-5-6 4z"/>
<path color="#00b3bf" d="M1171 834l5-4-5-5-6 4z"/>
<path color="#00a4bd" d="M1182 835l6-3-6-6-6 4z"/>
<path color="#0091b9" d="M1193 837l6-4-6-5-5 4z"/>
<path color="#007bb5" d="M1204 838l6-2-6-6-5 3z"/>
<path color="#0064ae" d="M1216 840l5-2-5-5-6 3z"/>
<path color="#004ea5" d="M1227 842l5-3-5-4-6 3z"/>
<path color="#003b97" d="M1238 843l6-2-6-4-6 2z"/>
<path color="#002c82" d="M1249 844l6-3-6-3-5 3z"/>
<path color="#0047bd" d="M1087 847l5-6-5-3-6 7z"/>
<path color="#006abc" d="M1098 844l6-6-6-4-6 7z"/>
<path color="#0084bd" d="M1109 841l6-6-6-3-5 6z"/>
<path color="#0096be" d="M1120 839l6-5-6-4-5 5z"/>
<path color="#00a1be" d="M1132 838l5-5-5-4-6 5z"/>
<path color="#00a7bf" d="M1143 837l5-4-5-5-6 5z"/>
<path color="#00a6be" d="M1154 837l6-4-6-5-6 5z"/>
<path color="#00a0bd" d="M1165 838l6-4-6-5-5 4z"/>
<path color="#0094bb" d="M1176 839l6-4-6-5-5 4z"/>
<path color="#0085b8" d="M1188 840l5-3-5-5-6 3z"/>
<path color="#0073b4" d="M1199 841l5-3-5-5-6 4z"/>
<path color="#005fad" d="M1210 843l6-3-6-4-6 2z"/>
<path color="#004ba3" d="M1221 844l6-2-6-4-5 2z"/>
<path color="#003a95" d="M1232 845l6-2-6-4-5 3z"/>
<path color="#002b7e" d="M1244 846l5-2-5-3-6 2z"/>
<path color="#0043ba" d="M1093 850l5-6-6-3-5 6z"/>
<path color="#0061ba" d="M1104 846l5-5-5-3-6 6z"/>
<path color="#0086bc" d="M1126 843l6-5-6-4-6 5z"/>
<path color="#008ebc" d="M1137 842l6-5-6-4-5 5z"/>
<path color="#0090bc" d="M1148 842l6-5-6-4-5 4z"/>
<path color="#008dbb" d="M1160 842l5-4-5-5-6 4z"/>
<path color="#0085ba" d="M1171 843l5-4-5-5-6 4z"/>
<path color="#0079b7" d="M1182 843l6-3-6-5-6 4z"/>
<path color="#006ab2" d="M1193 845l6-4-6-4-5 3z"/>
<path color="#0059ac" d="M1204 846l6-3-6-5-5 3z"/>
<path color="#003892" d="M1227 848l5-3-5-3-6 2z"/>
<path color="#002a7a" d="M1238 848l6-2-6-3-6 2z"/>
<path color="#0077bb" d="M1115 844l5-5-5-4-6 6z"/>
<path color="#0048a1" d="M1216 847l5-3-5-4-6 3z"/>
<path color="#003fb7" d="M1098 852l6-6-6-2-5 6z"/>
<path color="#0076b9" d="M1132 846l5-4-5-4-6 5z"/>
<path color="#007bba" d="M1143 846l5-4-5-5-6 5z"/>
<path color="#007ab9" d="M1154 846l6-4-6-5-6 5z"/>
<path color="#0075b8" d="M1165 846l6-3-6-5-5 4z"/>
<path color="#006cb5" d="M1176 847l6-4-6-4-5 4z"/>
<path color="#0061b1" d="M1188 848l5-3-5-5-6 3z"/>
<path color="#0053aa" d="M1199 849l5-3-5-5-6 4z"/>
<path color="#002975" d="M1232 850l6-2-6-3-5 3z"/>
<path color="#0059b8" d="M1109 849l6-5-6-3-5 5z"/>
<path color="#006bb8" d="M1120 847l6-4-6-4-5 5z"/>
<path color="#0045a0" d="M1210 849l6-2-6-4-6 3z"/>
<path color="#00378f" d="M1221 850l6-2-6-4-5 3z"/>
<path color="#0066b6" d="M1137 850l6-4-6-4-5 4z"/>
<path color="#0068b6" d="M1148 850l6-4-6-4-5 4z"/>
<path color="#0066b5" d="M1160 850l5-4-5-4-6 4z"/>
<path color="#0060b3" d="M1171 850l5-3-5-4-6 3z"/>
<path color="#0057af" d="M1182 851l6-3-6-5-6 4z"/>
<path color="#004ca8" d="M1193 852l6-3-6-4-5 3z"/>
<path color="#003bb4" d="M1104 855l5-6-5-3-6 6z"/>
<path color="#0051b5" d="M1115 852l5-5-5-3-6 5z"/>
<path color="#005eb6" d="M1126 851l6-5-6-3-6 4z"/>
<path color="#00419e" d="M1204 852l6-3-6-3-5 3z"/>
<path color="#00358d" d="M1216 852l5-2-5-3-6 2z"/>
<path color="#002871" d="M1227 852l5-2-5-2-6 2z"/>
<path color="#0057b3" d="M1143 854l5-4-5-4-6 4z"/>
<path color="#0057b3" d="M1154 854l6-4-6-4-6 4z"/>
<path color="#004dad" d="M1176 854l6-3-6-4-5 3z"/>
<path color="#0045a7" d="M1188 855l5-3-5-4-6 3z"/>
<path color="#0037b1" d="M1109 857l6-5-6-3-5 6z"/>
<path color="#0048b2" d="M1120 855l6-4-6-4-5 5z"/>
<path color="#0052b3" d="M1132 854l5-4-5-4-6 5z"/>
<path color="#0054b1" d="M1165 854l6-4-6-4-5 4z"/>
<path color="#003c9c" d="M1199 855l5-3-5-3-6 3z"/>
<path color="#00338b" d="M1210 855l6-3-6-3-6 3z"/>
<path color="#00276e" d="M1221 855l6-3-6-2-5 2z"/>
<path color="#0049b0" d="M1148 857l6-3-6-4-5 4z"/>
<path color="#003ea5" d="M1182 858l6-3-6-4-6 3z"/>
<path color="#0033ad" d="M1115 860l5-5-5-3-6 5z"/>
<path color="#0040af" d="M1126 858l6-4-6-3-6 4z"/>
<path color="#0047b0" d="M1137 858l6-4-6-4-5 4z"/>
<path color="#0048ae" d="M1160 857l5-3-5-4-6 4z"/>
<path color="#0044ab" d="M1171 858l5-4-5-4-6 4z"/>
<path color="#00389b" d="M1193 858l6-3-6-3-5 3z"/>
<path color="#00318a" d="M1204 858l6-3-6-3-5 3z"/>
<path color="#00276c" d="M1216 857l5-2-5-3-6 3z"/>
<path color="#002eaa" d="M1120 862l6-4-6-3-5 5z"/>
<path color="#0038ac" d="M1132 861l5-3-5-4-6 4z"/>
<path color="#003cac" d="M1143 861l5-4-5-3-6 4z"/>
<path color="#003cac" d="M1154 861l6-4-6-3-6 3z"/>
<path color="#003aa9" d="M1165 861l6-3-6-4-5 3z"/>
<path color="#0037a4" d="M1176 861l6-3-6-4-5 4z"/>
<path color="#00339a" d="M1188 861l5-3-5-3-6 3z"/>
<path color="#002e89" d="M1199 860l5-2-5-3-6 3z"/>
<path color="#00266c" d="M1210 860l6-3-6-2-6 3z"/>
<path color="#0029a6" d="M1126 865l6-4-6-3-6 4z"/>
<path color="#002fa8" d="M1137 865l6-4-6-3-5 3z"/>
<path color="#0032a9" d="M1148 864l6-3-6-4-5 4z"/>
<path color="#0031a7" d="M1160 864l5-3-5-4-6 4z"/>
<path color="#0030a2" d="M1171 864l5-3-5-3-6 3z"/>
<path color="#002e9a" d="M1182 864l6-3-6-3-6 3z"/>
<path color="#002b8a" d="M1193 863l6-3-6-2-5 3z"/>
<path color="#00266d" d="M1205 862l5-2-6-2-5 2z"/>
<path color="#0024a4" d="M1132 868l5-3-5-4-6 4z"/>
<path color="#0029a5" d="M1154 868l6-4-6-3-6 3z"/>
<path color="#0029a1" d="M1165 868l6-4-6-3-5 3z"/>
<path color="#00289a" d="M1177 867l5-3-6-3-5 3z"/>
<path color="#002571" d="M1199 865l6-3-6-2-6 3z"/>
<path color="#0028a5" d="M1143 868l5-4-5-3-6 4z"/>
<path color="#00288b" d="M1188 866l5-3-5-2-6 3z"/>
<path color="#0022a0" d="M1160 871l5-3-5-4-6 4z"/>
<path color="#00229a" d="M1171 870l6-3-6-3-6 4z"/>
<path color="#001fa1" d="M1137 871l6-3-6-3-5 3z"/>
<path color="#0021a2" d="M1149 871l5-3-6-4-5 4z"/>
<path color="#00248d" d="M1182 870l6-4-6-2-5 3z"/>
<path color="#002375" d="M1193 868l6-3-6-2-5 3z"/>
<path color="#001a9f" d="M1143 874l6-3-6-3-6 3z"/>
<path color="#001b9e" d="M1154 874l6-3-6-3-5 3z"/>
<path color="#001d9a" d="M1165 874l6-4-6-2-5 3z"/>
<path color="#001f8f" d="M1177 873l5-3-5-3-6 3z"/>
<path color="#00217a" d="M1188 871l5-3-5-2-6 4z"/>
<path color="#00159c" d="M1149 877l5-3-5-3-6 3z"/>
<path color="#00179a" d="M1160 877l5-3-5-3-6 3z"/>
<path color="#001a92" d="M1171 876l6-3-6-3-6 4z"/>
<path color="#001e80" d="M1182 875l6-4-6-1-5 3z"/>
<path color="#001299" d="M1154 880l6-3-6-3-5 3z"/>
<path color="#001593" d="M1165 880l6-4-6-2-5 3z"/>
<path color="#001a85" d="M1177 878l5-3-5-2-6 3z"/>
<path color="#001094" d="M1160 883l5-3-5-3-6 3z"/>
<path color="#001689" d="M1171 882l6-4-6-2-6 4z"/>
<path color="#00118b" d="M1165 885l6-3-6-2-5 3z"/>
</g>
<line x1="40" y1="122.4" x2="41.6" y2="122.4" stroke="#333" stroke-width="0.7"/>
<text x="39" y="124.1" font-size="7.6" text-anchor="end" fill="#1e1e1e">0</text>
<line x1="39.1" y1="101.9" x2="40.7" y2="101.9" stroke="#333" stroke-width="0.7"/>
<text x="39.8" y="103.6" font-size="8" text-anchor="end" fill="#1e1e1e">2x10<tspan font-size="4.2" dx="0.7" dy="-2.5">12</tspan></text>
<line x1="38.1" y1="81" x2="39.7" y2="81" stroke="#333" stroke-width="0.7"/>
<text x="38.8" y="82.7" font-size="8" text-anchor="end" fill="#1e1e1e">4x10<tspan font-size="4.2" dx="0.7" dy="-2.5">12</tspan></text>
<line x1="37.1" y1="59.7" x2="38.7" y2="59.7" stroke="#333" stroke-width="0.7"/>
<text x="37.8" y="61.4" font-size="8" text-anchor="end" fill="#1e1e1e">6x10<tspan font-size="4.2" dx="0.7" dy="-2.5">12</tspan></text>
<line x1="36.1" y1="38" x2="37.7" y2="38" stroke="#333" stroke-width="0.7"/>
<text x="36.8" y="39.7" font-size="8" text-anchor="end" fill="#1e1e1e">8x10<tspan font-size="4.2" dx="0.7" dy="-2.5">12</tspan></text>
<text transform="translate(14 155.1) rotate(-93)" font-size="9.2" fill="#1e1e1e">Lipid productivity (total FL/mL)</text>
<text x="40.8" y="156.8" font-size="7.6" text-anchor="end" fill="#1e1e1e">300</text>
<line x1="59.3" y1="158.1" x2="57.2" y2="159" stroke="#333" stroke-width="0.8"/>
<text x="57.2" y="165.1" font-size="7.6" text-anchor="end" fill="#1e1e1e">250</text>
<line x1="75.7" y1="165.4" x2="73.6" y2="166.3" stroke="#333" stroke-width="0.8"/>
<text x="73.6" y="172.4" font-size="7.6" text-anchor="end" fill="#1e1e1e">200</text>
<line x1="92.1" y1="173" x2="90.1" y2="174" stroke="#333" stroke-width="0.8"/>
<text x="90" y="180" font-size="7.6" text-anchor="end" fill="#1e1e1e">150</text>
<line x1="108.6" y1="181.1" x2="106.6" y2="182.1" stroke="#333" stroke-width="0.8"/>
<text x="106.5" y="188.1" font-size="7.6" text-anchor="end" fill="#1e1e1e">100</text>
<text x="123.1" y="196.6" font-size="7.6" text-anchor="end" fill="#1e1e1e">50</text>
<text x="127.7" y="196.5" font-size="7.6" fill="#1e1e1e">25</text>
<line x1="141.7" y1="181.1" x2="143.8" y2="182.1" stroke="#333" stroke-width="0.8"/>
<text x="144.2" y="188" font-size="7.6" fill="#1e1e1e">40</text>
<line x1="158.2" y1="173" x2="160.3" y2="174" stroke="#333" stroke-width="0.8"/>
<text x="160.7" y="179.9" font-size="7.6" fill="#1e1e1e">55</text>
<line x1="174.6" y1="165.3" x2="176.7" y2="166.3" stroke="#333" stroke-width="0.8"/>
<text x="177.1" y="172.2" font-size="7.6" fill="#1e1e1e">70</text>
<line x1="191" y1="158" x2="193.1" y2="158.9" stroke="#333" stroke-width="0.8"/>
<text x="193.5" y="164.9" font-size="7.6" fill="#1e1e1e">85</text>
<text x="209.8" y="156.5" font-size="7.6" fill="#1e1e1e">100</text>
<text x="35.1" y="183.3" font-size="10.3" fill="#1e1e1e">B:LI</text>
<text x="19.9" y="196" font-size="10.2" fill="#1e1e1e">(μmol/m<tspan font-size="5.5" dy="-3.2">2</tspan><tspan dy="3.2">/s</tspan>)</text>
<text x="174.6" y="191.7" font-size="10.3" fill="#1e1e1e">A:IR (%)</text>
<ellipse cx="47.6" cy="15.2" rx="14.1" ry="13.8" fill="none" stroke="#9a9a9a" stroke-width="0.7"/>
<text x="47.4" y="21" font-size="20" text-anchor="middle" fill="#111">A</text>
<rect x="135.5" y="8.3" width="25.2" height="11.1" fill="#fff" stroke="#8a8a8a" stroke-width="0.7"/>
<text x="135.7" y="16.8" font-size="6.9" fill="#1e1e1e">3.7x10<tspan font-size="4.2" dy="-2.1">12</tspan></text>
<text x="25" y="225.6" font-size="9.2" fill="#1e1e1e">Factors coding: Actual</text>
<text x="25" y="236.8" font-size="9.2" fill="#1e1e1e">Lipid productivity</text>
<rect x="25.2" y="241.4" width="5.7" height="27.2" fill="url(#cb)" stroke="#444" stroke-width="0.4"/>
<text x="33.4" y="248.2" font-size="8" fill="#ee1111">3.6 x10<tspan font-size="4.4" dy="-2.9">12</tspan></text>
<text x="33.4" y="266.4" font-size="8" fill="#1111ee">2.8 x10<tspan font-size="4.8" dy="-2.9">2</tspan></text>
<text x="136.1" y="226.5" font-size="9.2" fill="#1e1e1e">Actual Factors</text>
<text x="136.1" y="237.4" font-size="9.2" fill="#1e1e1e">C:CO<tspan font-size="6" dy="2">2</tspan><tspan dy="-2"> = 3.6 %</tspan></text>
<text x="136.1" y="248.3" font-size="9.2" fill="#1e1e1e">D: Harvest time</text>
<text x="146.5" y="259.2" font-size="9.2" fill="#1e1e1e">= 10.6 days</text>
<line x1="272.9" y1="122.9" x2="274.5" y2="122.9" stroke="#333" stroke-width="0.7"/>
<text x="271.9" y="124.6" font-size="7.6" text-anchor="end" fill="#1e1e1e">0</text>
<line x1="271.9" y1="102.4" x2="273.5" y2="102.4" stroke="#333" stroke-width="0.7"/>
<text x="272.6" y="104.1" font-size="8" text-anchor="end" fill="#1e1e1e">2x10<tspan font-size="4.2" dx="0.7" dy="-2.5">12</tspan></text>
<line x1="270.9" y1="81.6" x2="272.5" y2="81.6" stroke="#333" stroke-width="0.7"/>
<text x="271.6" y="83.3" font-size="8" text-anchor="end" fill="#1e1e1e">4x10<tspan font-size="4.2" dx="0.7" dy="-2.5">12</tspan></text>
<line x1="269.9" y1="60.4" x2="271.5" y2="60.4" stroke="#333" stroke-width="0.7"/>
<text x="270.6" y="62.1" font-size="8" text-anchor="end" fill="#1e1e1e">6x10<tspan font-size="4.2" dx="0.7" dy="-2.5">12</tspan></text>
<line x1="268.9" y1="38.8" x2="270.5" y2="38.8" stroke="#333" stroke-width="0.7"/>
<text x="269.6" y="40.5" font-size="8" text-anchor="end" fill="#1e1e1e">8x10<tspan font-size="4.2" dx="0.7" dy="-2.5">12</tspan></text>
<text transform="translate(247.2 151.6) rotate(-93)" font-size="9.2" fill="#1e1e1e">Lipid productivity (total FL/mL)</text>
<text x="273.6" y="156.6" font-size="7.6" text-anchor="end" fill="#1e1e1e">15</text>
<line x1="287.4" y1="155.8" x2="285.3" y2="156.7" stroke="#333" stroke-width="0.8"/>
<text x="285.3" y="162.8" font-size="7.6" text-anchor="end" fill="#1e1e1e">13</text>
<line x1="299.1" y1="160.9" x2="297" y2="161.9" stroke="#333" stroke-width="0.8"/>
<text x="297" y="167.9" font-size="7.6" text-anchor="end" fill="#1e1e1e">11</text>
<line x1="310.8" y1="166.2" x2="308.8" y2="167.2" stroke="#333" stroke-width="0.8"/>
<text x="308.7" y="173.2" font-size="7.6" text-anchor="end" fill="#1e1e1e">9</text>
<line x1="322.6" y1="171.7" x2="320.5" y2="172.7" stroke="#333" stroke-width="0.8"/>
<text x="320.5" y="178.7" font-size="7.6" text-anchor="end" fill="#1e1e1e">7</text>
<line x1="334.4" y1="177.4" x2="332.3" y2="178.4" stroke="#333" stroke-width="0.8"/>
<text x="332.3" y="184.4" font-size="7.6" text-anchor="end" fill="#1e1e1e">5</text>
<line x1="346.2" y1="183.3" x2="344.1" y2="184.3" stroke="#333" stroke-width="0.8"/>
<text x="344.1" y="190.3" font-size="7.6" text-anchor="end" fill="#1e1e1e">3</text>
<text x="355.9" y="196.4" font-size="7.6" text-anchor="end" fill="#1e1e1e">1</text>
<text x="360.5" y="196.3" font-size="7.6" fill="#1e1e1e">25</text>
<line x1="374.5" y1="180.9" x2="376.6" y2="181.9" stroke="#333" stroke-width="0.8"/>
<text x="377" y="187.8" font-size="7.6" fill="#1e1e1e">40</text>
<line x1="391" y1="172.8" x2="393.1" y2="173.8" stroke="#333" stroke-width="0.8"/>
<text x="393.5" y="179.7" font-size="7.6" fill="#1e1e1e">55</text>
<line x1="407.4" y1="165.1" x2="409.5" y2="166.1" stroke="#333" stroke-width="0.8"/>
<text x="409.9" y="172" font-size="7.6" fill="#1e1e1e">70</text>
<line x1="423.8" y1="157.8" x2="425.9" y2="158.7" stroke="#333" stroke-width="0.8"/>
<text x="426.3" y="164.7" font-size="7.6" fill="#1e1e1e">85</text>
<text x="442.6" y="156.3" font-size="7.6" fill="#1e1e1e">100</text>
<text x="247" y="189.6" font-size="10.3" fill="#1e1e1e">D: HT (days)</text>
<text x="401.9" y="190.4" font-size="10.3" fill="#1e1e1e">A: IR (%)</text>
<ellipse cx="284" cy="14.9" rx="14.1" ry="13.8" fill="none" stroke="#9a9a9a" stroke-width="0.7"/>
<text x="283.7" y="20.7" font-size="20" text-anchor="middle" fill="#111">B</text>
<rect x="365.4" y="6.2" width="27.8" height="11.4" fill="#fff" stroke="#8a8a8a" stroke-width="0.7"/>
<text x="366.7" y="14.8" font-size="6.9" fill="#1e1e1e">3.7x10<tspan font-size="4.2" dy="-2.1">12</tspan></text>
<text x="253.8" y="225.3" font-size="9.2" fill="#1e1e1e">Factors coding: Actual</text>
<text x="253.8" y="236.5" font-size="9.2" fill="#1e1e1e">Lipid productivity</text>
<rect x="255.3" y="242.1" width="6.1" height="26.3" fill="url(#cb)" stroke="#444" stroke-width="0.4"/>
<text x="263.8" y="248.9" font-size="8" fill="#ee1111">3.6 x10<tspan font-size="4.4" dy="-2.9">12</tspan></text>
<text x="263.8" y="266.2" font-size="8" fill="#1111ee">2.8 x10<tspan font-size="4.8" dy="-2.9">2</tspan></text>
<text x="366.1" y="226.1" font-size="9.2" fill="#1e1e1e">Actual Factors</text>
<text x="366.1" y="237" font-size="9.2" fill="#1e1e1e">B:Light intensity</text>
<text x="376.1" y="247.9" font-size="9.2" fill="#1e1e1e">=  205.8 μmol/m<tspan font-size="5.5" dy="-3.2">2</tspan><tspan dy="3.2">/s</tspan></text>
<text x="366.1" y="258.8" font-size="9.2" fill="#1e1e1e">C: CO2 = 3.6 %</text>
<line x1="497.1" y1="122.7" x2="498.7" y2="122.7" stroke="#333" stroke-width="0.7"/>
<text x="496.1" y="124.4" font-size="7.6" text-anchor="end" fill="#1e1e1e">0</text>
<line x1="496.1" y1="102.1" x2="497.7" y2="102.1" stroke="#333" stroke-width="0.7"/>
<text x="496.8" y="103.8" font-size="8" text-anchor="end" fill="#1e1e1e">2x10<tspan font-size="4.2" dx="0.7" dy="-2.5">12</tspan></text>
<line x1="495.1" y1="81.2" x2="496.7" y2="81.2" stroke="#333" stroke-width="0.7"/>
<text x="495.8" y="82.9" font-size="8" text-anchor="end" fill="#1e1e1e">4x10<tspan font-size="4.2" dx="0.7" dy="-2.5">12</tspan></text>
<line x1="494.1" y1="60" x2="495.7" y2="60" stroke="#333" stroke-width="0.7"/>
<text x="494.8" y="61.7" font-size="8" text-anchor="end" fill="#1e1e1e">6x10<tspan font-size="4.2" dx="0.7" dy="-2.5">12</tspan></text>
<line x1="493.1" y1="38.3" x2="494.7" y2="38.3" stroke="#333" stroke-width="0.7"/>
<text x="493.8" y="40" font-size="8" text-anchor="end" fill="#1e1e1e">8x10<tspan font-size="4.2" dx="0.7" dy="-2.5">12</tspan></text>
<text transform="translate(471.7 155.1) rotate(-93)" font-size="9.2" fill="#1e1e1e">Lipid productivity (total FL/mL)</text>
<text x="497.8" y="156.3" font-size="7.6" text-anchor="end" fill="#1e1e1e">5</text>
<line x1="520.4" y1="159.4" x2="518.3" y2="160.3" stroke="#333" stroke-width="0.8"/>
<text x="518.3" y="166.4" font-size="7.6" text-anchor="end" fill="#1e1e1e">4</text>
<line x1="540.9" y1="168.6" x2="538.8" y2="169.6" stroke="#333" stroke-width="0.8"/>
<text x="538.8" y="175.6" font-size="7.6" text-anchor="end" fill="#1e1e1e">3</text>
<line x1="561.5" y1="178.5" x2="559.4" y2="179.5" stroke="#333" stroke-width="0.8"/>
<text x="559.4" y="185.5" font-size="7.6" text-anchor="end" fill="#1e1e1e">2</text>
<text x="580.1" y="196.1" font-size="7.6" text-anchor="end" fill="#1e1e1e">1</text>
<text x="584.7" y="196" font-size="7.6" fill="#1e1e1e">25</text>
<line x1="598.7" y1="180.6" x2="600.8" y2="181.6" stroke="#333" stroke-width="0.8"/>
<text x="601.2" y="187.5" font-size="7.6" fill="#1e1e1e">40</text>
<line x1="615.2" y1="172.5" x2="617.3" y2="173.5" stroke="#333" stroke-width="0.8"/>
<text x="617.7" y="179.4" font-size="7.6" fill="#1e1e1e">55</text>
<line x1="631.6" y1="164.8" x2="633.7" y2="165.8" stroke="#333" stroke-width="0.8"/>
<text x="634.1" y="171.7" font-size="7.6" fill="#1e1e1e">70</text>
<line x1="648" y1="157.5" x2="650.1" y2="158.4" stroke="#333" stroke-width="0.8"/>
<text x="650.5" y="164.4" font-size="7.6" fill="#1e1e1e">85</text>
<text x="666.8" y="156" font-size="7.6" fill="#1e1e1e">100</text>
<text x="484.4" y="190.2" font-size="10.3" fill="#1e1e1e">C: CO2 (%)</text>
<text x="626.5" y="190.2" font-size="10.3" fill="#1e1e1e">A: IR (%)</text>
<ellipse cx="500.1" cy="15.4" rx="14.1" ry="13.8" fill="none" stroke="#9a9a9a" stroke-width="0.7"/>
<text x="499.8" y="21.2" font-size="20" text-anchor="middle" fill="#111">C</text>
<rect x="590.3" y="7.3" width="25.1" height="11.1" fill="#fff" stroke="#8a8a8a" stroke-width="0.7"/>
<text x="590.4" y="15.8" font-size="6.9" fill="#1e1e1e">3.7x10<tspan font-size="4.2" dy="-2.1">12</tspan></text>
<text x="476.4" y="224.5" font-size="9.2" fill="#1e1e1e">Factors coding: Actual</text>
<text x="476.4" y="235.7" font-size="9.2" fill="#1e1e1e">Lipid productivity</text>
<rect x="476.4" y="242.1" width="6" height="26.5" fill="url(#cb)" stroke="#444" stroke-width="0.4"/>
<text x="484.8" y="248.9" font-size="8" fill="#ee1111">3.6 x10<tspan font-size="4.4" dy="-2.9">12</tspan></text>
<text x="484.8" y="266.4" font-size="8" fill="#1111ee">2.8 x10<tspan font-size="4.8" dy="-2.9">2</tspan></text>
<text x="584.9" y="224.6" font-size="9.2" fill="#1e1e1e">Actual Factors</text>
<text x="584.9" y="235.5" font-size="9.2" fill="#1e1e1e">B:Light intensity</text>
<text x="584.9" y="246.4" font-size="9.2" fill="#1e1e1e">=  205.8 μmol/m<tspan font-size="5.5" dy="-3.2">2</tspan><tspan dy="3.2">/s</tspan></text>
<text x="584.9" y="257.3" font-size="9.2" fill="#1e1e1e">D: Harvest time</text>
<text x="584.9" y="268.2" font-size="9.2" fill="#1e1e1e">= 10.6 days</text>
<text x="572.8" y="226.6" font-size="8.0" fill="#1e1e1e">al</text>
<line x1="40.1" y1="408.5" x2="41.7" y2="408.5" stroke="#333" stroke-width="0.7"/>
<text x="39.1" y="410.2" font-size="7.6" text-anchor="end" fill="#1e1e1e">0</text>
<line x1="39.1" y1="387.7" x2="40.7" y2="387.7" stroke="#333" stroke-width="0.7"/>
<text x="39.8" y="389.4" font-size="8" text-anchor="end" fill="#1e1e1e">2x10<tspan font-size="4.2" dx="0.7" dy="-2.5">12</tspan></text>
<line x1="38.2" y1="366.5" x2="39.8" y2="366.5" stroke="#333" stroke-width="0.7"/>
<text x="38.9" y="368.2" font-size="8" text-anchor="end" fill="#1e1e1e">4x10<tspan font-size="4.2" dx="0.7" dy="-2.5">12</tspan></text>
<line x1="37.1" y1="344.9" x2="38.7" y2="344.9" stroke="#333" stroke-width="0.7"/>
<text x="37.8" y="346.6" font-size="8" text-anchor="end" fill="#1e1e1e">6x10<tspan font-size="4.2" dx="0.7" dy="-2.5">12</tspan></text>
<line x1="36.1" y1="322.9" x2="37.7" y2="322.9" stroke="#333" stroke-width="0.7"/>
<text x="36.8" y="324.6" font-size="8" text-anchor="end" fill="#1e1e1e">8x10<tspan font-size="4.2" dx="0.7" dy="-2.5">12</tspan></text>
<text transform="translate(15.6 435.7) rotate(-93)" font-size="9.2" fill="#1e1e1e">Lipid productivity (total FL/mL)</text>
<text x="40.8" y="440.8" font-size="7.6" text-anchor="end" fill="#1e1e1e">5</text>
<line x1="63.4" y1="443.8" x2="61.3" y2="444.7" stroke="#333" stroke-width="0.8"/>
<text x="61.3" y="450.8" font-size="7.6" text-anchor="end" fill="#1e1e1e">4</text>
<line x1="83.9" y1="453.1" x2="81.8" y2="454.1" stroke="#333" stroke-width="0.8"/>
<text x="81.8" y="460.1" font-size="7.6" text-anchor="end" fill="#1e1e1e">3</text>
<line x1="104.5" y1="463" x2="102.4" y2="464" stroke="#333" stroke-width="0.8"/>
<text x="102.4" y="470" font-size="7.6" text-anchor="end" fill="#1e1e1e">2</text>
<text x="123.1" y="480.5" font-size="7.6" text-anchor="end" fill="#1e1e1e">1</text>
<text x="127.7" y="480.4" font-size="7.6" fill="#1e1e1e">50</text>
<line x1="141.7" y1="465" x2="143.8" y2="466" stroke="#333" stroke-width="0.8"/>
<text x="144.2" y="471.9" font-size="7.6" fill="#1e1e1e">100</text>
<line x1="158.2" y1="456.9" x2="160.3" y2="457.9" stroke="#333" stroke-width="0.8"/>
<text x="160.7" y="463.8" font-size="7.6" fill="#1e1e1e">150</text>
<line x1="174.6" y1="449.3" x2="176.7" y2="450.2" stroke="#333" stroke-width="0.8"/>
<text x="177.1" y="456.2" font-size="7.6" fill="#1e1e1e">200</text>
<line x1="191" y1="442" x2="193.1" y2="442.9" stroke="#333" stroke-width="0.8"/>
<text x="193.5" y="448.9" font-size="7.6" fill="#1e1e1e">250</text>
<text x="209.8" y="440.5" font-size="7.6" fill="#1e1e1e">300</text>
<text x="27.5" y="473.8" font-size="10.3" fill="#1e1e1e">C: CO<tspan font-size="6" dy="2">2</tspan><tspan dy="-2"> </tspan>(%)</text>
<text x="194.8" y="465.4" font-size="10.3" fill="#1e1e1e">B:LI</text>
<text x="180.7" y="477.2" font-size="10.2" fill="#1e1e1e">(μmol/m<tspan font-size="5.5" dy="-3.2">2</tspan><tspan dy="3.2">/s</tspan>)</text>
<ellipse cx="43.4" cy="293.7" rx="14.1" ry="13.8" fill="none" stroke="#9a9a9a" stroke-width="0.7"/>
<text x="43.1" y="299.5" font-size="20" text-anchor="middle" fill="#111">D</text>
<rect x="102.2" y="298.2" width="27.9" height="10.8" fill="#fff" stroke="#8a8a8a" stroke-width="0.7"/>
<text x="103.7" y="306.6" font-size="6.9" fill="#1e1e1e">3.7x10<tspan font-size="4.2" dy="-2.1">12</tspan></text>
<text x="23" y="506.5" font-size="9.2" fill="#1e1e1e">Factors coding: Actual</text>
<text x="23" y="517.7" font-size="9.2" fill="#1e1e1e">Lipid productivity</text>
<rect x="22.5" y="522.1" width="6.2" height="27.3" fill="url(#cb)" stroke="#444" stroke-width="0.4"/>
<text x="31.1" y="528.9" font-size="8" fill="#ee1111">3.6 x10<tspan font-size="4.4" dy="-2.9">12</tspan></text>
<text x="31.1" y="547.2" font-size="8" fill="#1111ee">2.8 x10<tspan font-size="4.8" dy="-2.9">2</tspan></text>
<text x="135.9" y="507.7" font-size="9.2" fill="#1e1e1e">Actual Factors</text>
<text x="135.9" y="518.6" font-size="9.2" fill="#1e1e1e">B:IR = 100 (%)</text>
<text x="135.9" y="529.5" font-size="9.2" fill="#1e1e1e">D: Harvest time</text>
<text x="145.9" y="540.4" font-size="9.2" fill="#1e1e1e">= 10.6 days</text>
<line x1="274.7" y1="408.9" x2="276.3" y2="408.9" stroke="#333" stroke-width="0.7"/>
<text x="273.7" y="410.6" font-size="7.6" text-anchor="end" fill="#1e1e1e">0</text>
<line x1="273.7" y1="388.1" x2="275.3" y2="388.1" stroke="#333" stroke-width="0.7"/>
<text x="274.4" y="389.8" font-size="8" text-anchor="end" fill="#1e1e1e">2x10<tspan font-size="4.2" dx="0.7" dy="-2.5">12</tspan></text>
<line x1="272.7" y1="367" x2="274.3" y2="367" stroke="#333" stroke-width="0.7"/>
<text x="273.4" y="368.7" font-size="8" text-anchor="end" fill="#1e1e1e">4x10<tspan font-size="4.2" dx="0.7" dy="-2.5">12</tspan></text>
<line x1="271.7" y1="345.5" x2="273.3" y2="345.5" stroke="#333" stroke-width="0.7"/>
<text x="272.4" y="347.2" font-size="8" text-anchor="end" fill="#1e1e1e">6x10<tspan font-size="4.2" dx="0.7" dy="-2.5">12</tspan></text>
<line x1="270.7" y1="323.5" x2="272.3" y2="323.5" stroke="#333" stroke-width="0.7"/>
<text x="271.4" y="325.2" font-size="8" text-anchor="end" fill="#1e1e1e">8x10<tspan font-size="4.2" dx="0.7" dy="-2.5">12</tspan></text>
<text transform="translate(249.4 436.3) rotate(-93)" font-size="9.2" fill="#1e1e1e">Lipid productivity (total FL/mL)</text>
<text x="275.4" y="441.5" font-size="7.6" text-anchor="end" fill="#1e1e1e">15</text>
<line x1="289.2" y1="440.7" x2="287.1" y2="441.6" stroke="#333" stroke-width="0.8"/>
<text x="287.1" y="447.7" font-size="7.6" text-anchor="end" fill="#1e1e1e">13</text>
<line x1="300.9" y1="445.8" x2="298.8" y2="446.7" stroke="#333" stroke-width="0.8"/>
<text x="298.8" y="452.8" font-size="7.6" text-anchor="end" fill="#1e1e1e">11</text>
<line x1="312.6" y1="451.1" x2="310.6" y2="452" stroke="#333" stroke-width="0.8"/>
<text x="310.5" y="458.1" font-size="7.6" text-anchor="end" fill="#1e1e1e">9</text>
<line x1="324.4" y1="456.6" x2="322.3" y2="457.5" stroke="#333" stroke-width="0.8"/>
<text x="322.3" y="463.6" font-size="7.6" text-anchor="end" fill="#1e1e1e">7</text>
<line x1="336.2" y1="462.2" x2="334.1" y2="463.2" stroke="#333" stroke-width="0.8"/>
<text x="334.1" y="469.2" font-size="7.6" text-anchor="end" fill="#1e1e1e">5</text>
<line x1="348" y1="468.1" x2="345.9" y2="469.2" stroke="#333" stroke-width="0.8"/>
<text x="345.9" y="475.1" font-size="7.6" text-anchor="end" fill="#1e1e1e">3</text>
<text x="357.7" y="481.2" font-size="7.6" text-anchor="end" fill="#1e1e1e">1</text>
<text x="362.3" y="481.1" font-size="7.6" fill="#1e1e1e">1</text>
<line x1="380.4" y1="463.7" x2="382.5" y2="464.7" stroke="#333" stroke-width="0.8"/>
<text x="382.9" y="470.6" font-size="7.6" fill="#1e1e1e">2</text>
<line x1="401" y1="453.8" x2="403.1" y2="454.7" stroke="#333" stroke-width="0.8"/>
<text x="403.5" y="460.7" font-size="7.6" fill="#1e1e1e">3</text>
<line x1="421.5" y1="444.5" x2="423.6" y2="445.4" stroke="#333" stroke-width="0.8"/>
<text x="424" y="451.4" font-size="7.6" fill="#1e1e1e">4</text>
<text x="444.4" y="441.2" font-size="7.6" fill="#1e1e1e">5</text>
<text x="262.6" y="475.5" font-size="10.3" fill="#1e1e1e">D: HT (days)</text>
<text x="410.3" y="472.1" font-size="10.3" fill="#1e1e1e">C: CO<tspan font-size="6" dy="2">2</tspan><tspan dy="-2"> </tspan>(%)</text>
<ellipse cx="278.8" cy="294.9" rx="14.1" ry="13.8" fill="none" stroke="#9a9a9a" stroke-width="0.7"/>
<text x="278.5" y="300.7" font-size="20" text-anchor="middle" fill="#111">E</text>
<rect x="340.4" y="298.3" width="27.9" height="10.4" fill="#fff" stroke="#8a8a8a" stroke-width="0.7"/>
<text x="341.9" y="306.6" font-size="6.9" fill="#1e1e1e">3.7x10<tspan font-size="4.2" dy="-2.1">12</tspan></text>
<text x="253.8" y="506.5" font-size="9.2" fill="#1e1e1e">Factors coding: Actual</text>
<text x="253.8" y="517.7" font-size="9.2" fill="#1e1e1e">Lipid productivity</text>
<rect x="255.4" y="522.6" width="6" height="26.8" fill="url(#cb)" stroke="#444" stroke-width="0.4"/>
<text x="264" y="529.4" font-size="8" fill="#ee1111">3.6 x10<tspan font-size="4.4" dy="-2.9">12</tspan></text>
<text x="264" y="547.2" font-size="8" fill="#1111ee">2.8 x10<tspan font-size="4.8" dy="-2.9">2</tspan></text>
<text x="365.9" y="507.7" font-size="9.2" fill="#1e1e1e">Actual Factors</text>
<text x="365.9" y="518.6" font-size="9.2" fill="#1e1e1e">B:IR = 100 (%)</text>
<text x="365.9" y="529.5" font-size="9.2" fill="#1e1e1e">D: Light intensity</text>
<text x="365.9" y="540.4" font-size="9.2" fill="#1e1e1e">= 205.8 μmol/m<tspan font-size="5.5" dy="-3.2">2</tspan><tspan dy="3.2">/s</tspan></text>
<line x1="497.6" y1="408.4" x2="499.2" y2="408.4" stroke="#333" stroke-width="0.7"/>
<text x="496.6" y="410.1" font-size="7.6" text-anchor="end" fill="#1e1e1e">0</text>
<line x1="496.6" y1="387.9" x2="498.2" y2="387.9" stroke="#333" stroke-width="0.7"/>
<text x="497.3" y="389.6" font-size="8" text-anchor="end" fill="#1e1e1e">2x10<tspan font-size="4.2" dx="0.7" dy="-2.5">12</tspan></text>
<line x1="495.6" y1="367" x2="497.2" y2="367" stroke="#333" stroke-width="0.7"/>
<text x="496.3" y="368.7" font-size="8" text-anchor="end" fill="#1e1e1e">4x10<tspan font-size="4.2" dx="0.7" dy="-2.5">12</tspan></text>
<line x1="494.7" y1="345.7" x2="496.3" y2="345.7" stroke="#333" stroke-width="0.7"/>
<text x="495.4" y="347.4" font-size="8" text-anchor="end" fill="#1e1e1e">6x10<tspan font-size="4.2" dx="0.7" dy="-2.5">12</tspan></text>
<line x1="493.6" y1="324" x2="495.2" y2="324" stroke="#333" stroke-width="0.7"/>
<text x="494.3" y="325.7" font-size="8" text-anchor="end" fill="#1e1e1e">8x10<tspan font-size="4.2" dx="0.7" dy="-2.5">12</tspan></text>
<text transform="translate(472.2 441.9) rotate(-93)" font-size="9.2" fill="#1e1e1e">Lipid productivity (total FL/mL)</text>
<text x="498.3" y="441.4" font-size="7.6" text-anchor="end" fill="#1e1e1e">15</text>
<line x1="512.1" y1="440.6" x2="510" y2="441.5" stroke="#333" stroke-width="0.8"/>
<text x="510" y="447.6" font-size="7.6" text-anchor="end" fill="#1e1e1e">13</text>
<line x1="523.8" y1="445.7" x2="521.7" y2="446.7" stroke="#333" stroke-width="0.8"/>
<text x="521.7" y="452.7" font-size="7.6" text-anchor="end" fill="#1e1e1e">11</text>
<line x1="535.5" y1="451" x2="533.5" y2="452" stroke="#333" stroke-width="0.8"/>
<text x="533.4" y="458" font-size="7.6" text-anchor="end" fill="#1e1e1e">9</text>
<line x1="547.3" y1="456.5" x2="545.2" y2="457.5" stroke="#333" stroke-width="0.8"/>
<text x="545.2" y="463.5" font-size="7.6" text-anchor="end" fill="#1e1e1e">7</text>
<line x1="559.1" y1="462.1" x2="557" y2="463.2" stroke="#333" stroke-width="0.8"/>
<text x="557" y="469.1" font-size="7.6" text-anchor="end" fill="#1e1e1e">5</text>
<line x1="570.9" y1="468" x2="568.8" y2="469.1" stroke="#333" stroke-width="0.8"/>
<text x="568.8" y="475" font-size="7.6" text-anchor="end" fill="#1e1e1e">3</text>
<text x="580.6" y="481.1" font-size="7.6" text-anchor="end" fill="#1e1e1e">1</text>
<text x="585.2" y="481" font-size="7.6" fill="#1e1e1e">50</text>
<line x1="599.2" y1="465.6" x2="601.3" y2="466.7" stroke="#333" stroke-width="0.8"/>
<text x="601.7" y="472.5" font-size="7.6" fill="#1e1e1e">100</text>
<line x1="615.7" y1="457.6" x2="617.8" y2="458.5" stroke="#333" stroke-width="0.8"/>
<text x="618.2" y="464.5" font-size="7.6" fill="#1e1e1e">150</text>
<line x1="632.1" y1="449.9" x2="634.2" y2="450.8" stroke="#333" stroke-width="0.8"/>
<text x="634.6" y="456.8" font-size="7.6" fill="#1e1e1e">200</text>
<line x1="648.5" y1="442.6" x2="650.6" y2="443.5" stroke="#333" stroke-width="0.8"/>
<text x="651" y="449.5" font-size="7.6" fill="#1e1e1e">250</text>
<text x="667.3" y="441.1" font-size="7.6" fill="#1e1e1e">300</text>
<text x="486.1" y="474.2" font-size="10.3" fill="#1e1e1e">D: HT (days)</text>
<text x="645.9" y="468.5" font-size="10.3" fill="#1e1e1e">B:LI</text>
<text x="629.9" y="481.2" font-size="10.2" fill="#1e1e1e">(μmol/m<tspan font-size="5.5" dy="-3.2">2</tspan><tspan dy="3.2">/s</tspan>)</text>
<ellipse cx="504.2" cy="293.7" rx="14.1" ry="13.8" fill="none" stroke="#9a9a9a" stroke-width="0.7"/>
<text x="503.9" y="299.5" font-size="20" text-anchor="middle" fill="#111">F</text>
<rect x="559.2" y="298.2" width="27.6" height="10.8" fill="#fff" stroke="#8a8a8a" stroke-width="0.7"/>
<text x="560.7" y="306.6" font-size="6.9" fill="#1e1e1e">3.7x10<tspan font-size="4.2" dy="-2.1">12</tspan></text>
<text x="486.9" y="507.3" font-size="9.2" fill="#1e1e1e">Factors coding: Actual</text>
<text x="486.9" y="518.5" font-size="9.2" fill="#1e1e1e">Lipid productivity</text>
<rect x="487.2" y="522.4" width="6" height="27" fill="url(#cb)" stroke="#444" stroke-width="0.4"/>
<text x="495.6" y="529.2" font-size="8" fill="#ee1111">3.6 x10<tspan font-size="4.4" dy="-2.9">12</tspan></text>
<text x="495.6" y="547.2" font-size="8" fill="#1111ee">2.8 x10<tspan font-size="4.8" dy="-2.9">2</tspan></text>
<text x="594.1" y="507.5" font-size="9.2" fill="#1e1e1e">Actual Factors</text>
<text x="593" y="518.4" font-size="9.2" fill="#1e1e1e">A:IR = 100 (%)</text>
<text x="593" y="529.3" font-size="9.2" fill="#1e1e1e">C: 3.6 %</text>
</svg>
</body></html>
